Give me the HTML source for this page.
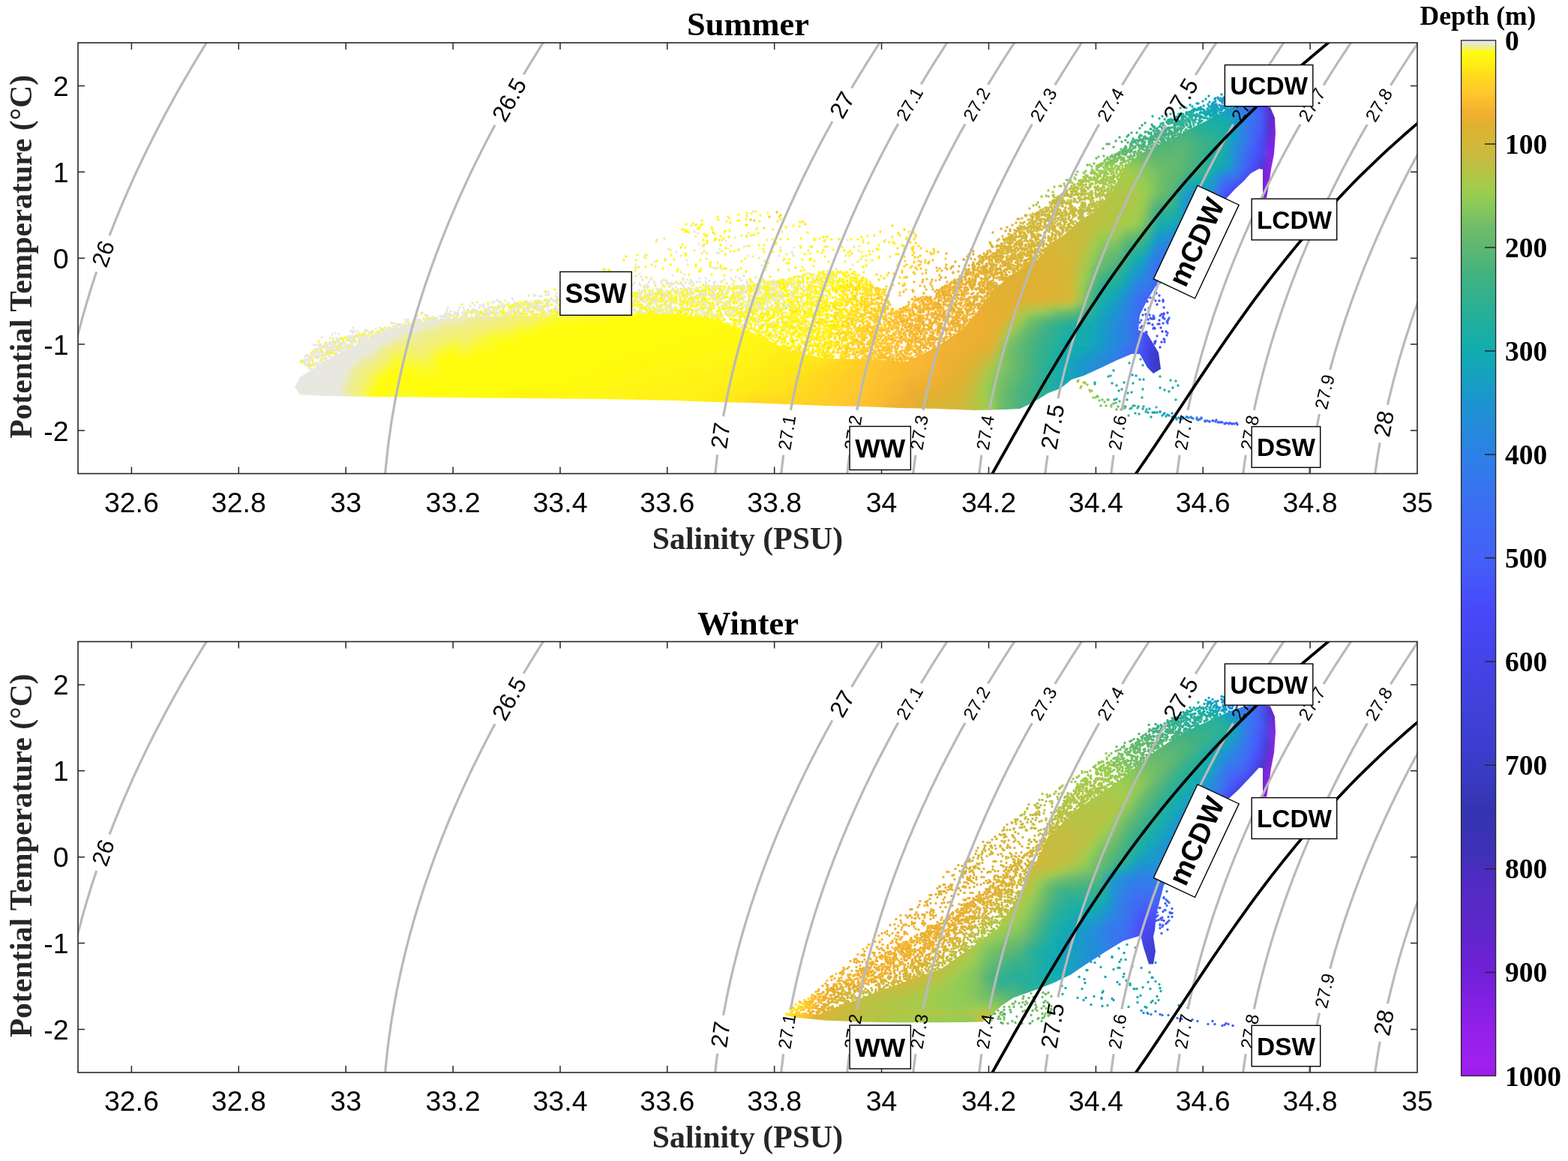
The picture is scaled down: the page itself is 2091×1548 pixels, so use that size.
<!DOCTYPE html><html><head><meta charset="utf-8"><title>T-S diagram</title><style>html,body{margin:0;padding:0;background:#fff;}svg{display:block;}</style></head><body><svg xmlns="http://www.w3.org/2000/svg" width="2091" height="1548" viewBox="0 0 2091 1548"><defs><linearGradient id="cbg" x1="0" y1="0" x2="0" y2="1"><stop offset="0.0000" stop-color="#e8e8e1"/><stop offset="0.0040" stop-color="#e8e8e1"/><stop offset="0.0045" stop-color="#ecec9c"/><stop offset="0.0085" stop-color="#f4f070"/><stop offset="0.0105" stop-color="#fffe10"/><stop offset="0.0230" stop-color="#ffee14"/><stop offset="0.0360" stop-color="#ffd820"/><stop offset="0.0490" stop-color="#ffca2c"/><stop offset="0.0620" stop-color="#f8b830"/><stop offset="0.0700" stop-color="#f0b030"/><stop offset="0.0820" stop-color="#e0b030"/><stop offset="0.1000" stop-color="#d4b838"/><stop offset="0.1150" stop-color="#c4bc40"/><stop offset="0.1280" stop-color="#b4c444"/><stop offset="0.1410" stop-color="#a4cc4c"/><stop offset="0.1540" stop-color="#90cc54"/><stop offset="0.1670" stop-color="#80c460"/><stop offset="0.1800" stop-color="#70bc68"/><stop offset="0.1980" stop-color="#60b870"/><stop offset="0.2250" stop-color="#44b280"/><stop offset="0.2500" stop-color="#30b090"/><stop offset="0.3000" stop-color="#10acb0"/><stop offset="0.3500" stop-color="#1c94d0"/><stop offset="0.4000" stop-color="#2e80e6"/><stop offset="0.4500" stop-color="#3c6ef2"/><stop offset="0.5000" stop-color="#4460f8"/><stop offset="0.5500" stop-color="#4848fa"/><stop offset="0.6000" stop-color="#4444e8"/><stop offset="0.6500" stop-color="#4040d8"/><stop offset="0.7000" stop-color="#3a3cc8"/><stop offset="0.7450" stop-color="#3434b0"/><stop offset="0.7900" stop-color="#4030b8"/><stop offset="0.8000" stop-color="#4c2cc0"/><stop offset="0.8500" stop-color="#5c28c8"/><stop offset="0.9000" stop-color="#7020d8"/><stop offset="0.9500" stop-color="#9020e8"/><stop offset="0.9900" stop-color="#a020f0"/><stop offset="1.0000" stop-color="#9c1cec"/></linearGradient><clipPath id="ax"><rect x="104.0" y="57.0" width="1786.0" height="574.5"/></clipPath></defs><rect width="100%" height="100%" fill="#fff"/><g transform="translate(0,0.0)"><g clip-path="url(#ax)"><g stroke-width="3.4" stroke-linecap="round" fill="none"><path stroke="#e9b030" d="M1254 394h0M1279 384h0M1297 380h0"/><path stroke="#edb030" d="M1257 392h0M1277 379h0M1280 368h0"/><path stroke="#fbbf2e" d="M1259 386h0"/><path stroke="#f4b430" d="M1265 383h0M1267 387h0"/><path stroke="#e5b030" d="M1263 381h0M1298 350h0M1300 346h0M1317 338h0M1309 365h0"/><path stroke="#f1b130" d="M1273 379h0M1287 365h0M1287 387h0"/><path stroke="#f9bb2f" d="M1283 369h0"/><path stroke="#e1b030" d="M1288 359h0M1307 341h0M1332 319h0M1299 374h0"/><path stroke="#ddb232" d="M1299 358h0M1312 338h0M1355 297h0M1335 341h0M1337 334h0"/><path stroke="#dfb131" d="M1305 342h0M1320 334h0M1347 308h0M1357 292h0M1311 361h0M1316 355h0M1323 352h0"/><path stroke="#dbb434" d="M1323 329h0"/><path stroke="#d9b535" d="M1330 327h0M1342 318h0M1344 329h0M1366 310h0"/><path stroke="#d7b636" d="M1337 315h0M1341 308h0M1350 300h0"/><path stroke="#d2b939" d="M1359 292h0M1371 304h0"/><path stroke="#cfb93b" d="M1367 287h0M1353 311h0M1377 295h0"/><path stroke="#cbba3c" d="M1374 287h0M1362 311h0"/><path stroke="#c8bb3e" d="M1373 278h0M1382 290h0"/><path stroke="#c5bc3f" d="M1378 274h0M1389 283h0M1407 271h0M1405 260h0"/><path stroke="#bac142" d="M1382 273h0M1384 270h0"/><path stroke="#afc646" d="M1389 262h0M1398 254h0M1413 248h0M1445 240h0"/><path stroke="#a4cc4c" d="M1395 261h0"/><path stroke="#abc848" d="M1404 256h0M1424 240h0M1427 243h0"/><path stroke="#9fcc4e" d="M1406 249h0M1422 240h0"/><path stroke="#b3c545" d="M1420 248h0"/><path stroke="#96cc52" d="M1433 237h0M1437 229h0M1458 228h0"/><path stroke="#8ac959" d="M1435 233h0M1448 228h0"/><path stroke="#9bcc50" d="M1445 230h0M1439 241h0M1446 231h0M1474 220h0"/><path stroke="#74be66" d="M1450 220h0M1472 208h0"/><path stroke="#8ecb56" d="M1453 220h0"/><path stroke="#7bc262" d="M1459 218h0M1465 209h0"/><path stroke="#70bc68" d="M1462 211h0"/><path stroke="#63b96f" d="M1471 198h0"/><path stroke="#56b676" d="M1476 192h0M1479 192h0"/><path stroke="#5eb871" d="M1485 196h0M1499 198h0"/><path stroke="#4db47b" d="M1488 188h0M1496 189h0M1517 193h0"/><path stroke="#45b27f" d="M1493 183h0M1501 187h0M1509 177h0M1524 186h0M1538 186h0M1542 182h0"/><path stroke="#3eb184" d="M1503 182h0M1505 180h0M1516 177h0"/><path stroke="#38b18a" d="M1520 171h0M1511 185h0M1555 174h0"/><path stroke="#2cb094" d="M1523 167h0M1527 164h0M1537 155h0M1546 158h0M1574 165h0M1576 155h0"/><path stroke="#32b08f" d="M1536 166h0M1558 171h0M1566 167h0"/><path stroke="#27af99" d="M1550 155h0M1556 155h0"/><path stroke="#22ae9e" d="M1561 152h0M1572 152h0M1584 152h0"/><path stroke="#1daea3" d="M1565 150h0M1582 144h0"/><path stroke="#18ada8" d="M1574 144h0M1593 145h0"/><path stroke="#13acad" d="M1587 140h0M1590 142h0M1600 145h0M1611 148h0"/><path stroke="#11aab3" d="M1596 138h0"/><path stroke="#15a2bd" d="M1598 138h0M1624 130h0M1629 126h0"/><path stroke="#13a6b8" d="M1604 135h0M1608 132h0M1612 128h0"/><path stroke="#179fc2" d="M1621 131h0M1613 136h0"/><path stroke="#d5b838" d="M1348 324h0M1398 280h0"/><path stroke="#c2bd41" d="M1416 259h0"/><path stroke="#bebf42" d="M1426 252h0"/><path stroke="#82c55e" d="M1466 222h0M1486 212h0"/><path stroke="#6bbb6b" d="M1477 210h0"/><path stroke="#7fc361" d="M1492 210h0"/></g><g stroke-width="3.4" stroke-linecap="round" fill="none"><path stroke="#fffd10" d="M1058 301h0m-139 9h0m34 2h0m115 6h0m-174 15h0m118 -6h0m61 12h0m17 -4h0m6 2h0m74 -4h0m-322 14h0m201 4h0m4 -5h0m17 0h0m85 8h0m1 0h0m-253 8h0m-104 5h0m49 1h0m36 13h0m120 0h0m-218 8h0m108 3h0m147 -4h0m47 0h0m-242 11h0m142 -1h0m-319 7h0m91 -1h0m90 4h0m-333 29h0"/><path stroke="#ffd820" d="M1190 301h0m8 10h0m23 13h0m-15 8h0m10 -1h0m9 -3h0m-8 12h0m7 3h0m-21 18h0m-18 3h0m-6 7h0m-41 12h0m6 3h0m32 10h0m-8 18h0"/><path stroke="#fffb11" d="M984 294h0m-48 5h0m-3 4h0m26 17h0m134 -2h0m42 1h0m-192 5h0m-48 16h0m99 5h0m52 0h0m104 -3h0m5 -1h0m-221 6h0m13 4h0m1 -1h0m-54 3h0m67 1h0m91 -3h0m-238 11h0m70 -4h0m116 14h0m1 2h0m14 1h0m101 6h0m-388 8h0m256 4h0m88 -4h0m-280 6h0m81 1h0m-222 8h0m155 -2h0m251 0h0m60 2h0m-409 2h0m169 2h0m-194 13h0"/><path stroke="#edec96" d="M1002 285h0m-80 16h0m-36 17h0m51 10h0m2 7h0m206 -1h0m-141 8h0m8 2h0m136 2h0m-127 14h0m-164 13h0m248 0h0m-102 3h0m100 5h0m-240 3h0m121 -1h0m-12 6h0m110 1h0m-347 8h0m367 -4h0m-539 23h0m96 2h0m-136 12h0m-55 10h0m-26 20h0"/><path stroke="#fec72d" d="M1001 293h0m244 45h0m6 -2h0m-26 12h0m3 1h0m11 0h0m-11 9h0m-8 7h0m10 0h0m-42 20h0m-3 9h0m36 4h0m-40 3h0"/><path stroke="#e1b030" d="M1347 318h0m-52 15h0m3 2h0m19 0h0m-5 7h0m49 -1h0m-51 10h0m20 -4h0m4 -1h0m1 0h0m36 0h0m-65 6h0m13 11h0m-64 7h0m58 2h0m-19 8h0m27 -4h0m-10 5h0"/><path stroke="#e8e8e1" d="M1004 282h0m-75 17h0m-3 10h0m5 2h0m64 3h0m-15 3h0m150 3h0m-198 5h0m36 -4h0m-77 11h0m69 0h0m11 -1h0m21 -2h0m4 -1h0m45 2h0m18 0h0m60 1h0m-217 5h0m12 2h0m42 -1h0m3 0h0m97 -1h0m1 2h0m-198 4h0m138 -1h0m42 0h0m-166 8h0m43 -2h0m106 3h0m-174 3h0m69 0h0m31 3h0m3 1h0m65 -3h0m121 -1h0m-331 10h0m1 -4h0m20 4h0m-4 5h0m14 -1h0m16 -2h0m44 2h0m16 -1h0m202 1h0m6 -3h0m-316 9h0m16 0h0m15 2h0m19 -6h0m12 4h0m44 0h0m85 1h0m-215 6h0m12 -2h0m11 1h0m18 0h0m7 -4h0m10 5h0m5 -1h0m2 -2h0m7 1h0m39 1h0m104 -3h0m111 4h0m-341 3h0m13 -2h0m15 1h0m19 4h0m2 -2h0m12 0h0m27 -3h0m27 4h0m92 -3h0m97 2h0m-339 5h0m64 2h0m0 -1h0m6 -1h0m48 2h0m30 0h0m33 2h0m91 -5h0m-291 5h0m101 2h0m40 1h0m16 1h0m52 -1h0m8 -2h0m24 4h0m3 -1h0m-293 3h0m11 1h0m4 3h0m9 1h0m14 -2h0m4 1h0m8 -3h0m69 3h0m3 0h0m11 -4h0m57 1h0m-256 9h0m21 0h0m21 0h0m5 -3h0m17 3h0m9 -2h0m11 0h0m33 -2h0m3 3h0m-116 6h0m18 -1h0m12 2h0m6 0h0m31 -1h0m26 2h0m70 -5h0m-207 9h0m13 0h0m25 -4h0m6 3h0m10 0h0m24 2h0m1 0h0m25 -1h0m-118 7h0m1 -2h0m28 -1h0m-46 6h0m-55 6h0m30 1h0m16 0h0m-74 8h0m4 -2h0m5 1h0m17 -3h0m1 1h0m3 -2h0m4 1h0m13 -1h0m-61 9h0m11 1h0m9 0h0m18 -3h0m13 0h0m20 0h0m2 -1h0m-59 10h0m29 -2h0m-53 5h0m1 0h0m14 0h0m3 1h0m4 2h0m2 -2h0m0 4h0m8 -3h0m1 3h0m-17 5h0m-19 2h0"/><path stroke="#ffd523" d="M1206 306h0m15 7h0m-7 10h0m14 8h0m-11 3h0m25 5h0m4 -4h0m-27 15h0m0 -1h0m15 1h0m-37 4h0m9 1h0m3 14h0m-18 11h0m-50 4h0m40 2h0m0 13h0"/><path stroke="#efee8c" d="M1001 314h0m100 6h0m-226 2h0m78 -1h0m72 30h0m-151 4h0m-27 6h0m61 2h0m49 -6h0m6 2h0m152 0h0m-286 8h0m163 1h0m-172 7h0m4 -6h0m184 1h0m-194 9h0m155 -1h0m8 1h0m-147 6h0m117 2h0m150 1h0m-392 6h0m51 5h0m25 -3h0m226 -2h0m-377 10h0m6 -1h0m132 -1h0m169 2h0m48 -5h0m1 1h0m-498 40h0m29 1h0"/><path stroke="#f7f458" d="M969 295h0m26 -3h0m-80 15h0m116 -1h0m-33 5h0m5 3h0m27 5h0m-55 9h0m164 1h0m-196 9h0m31 -3h0m104 -1h0m50 7h0m-171 9h0m88 -3h0m82 2h0m-57 7h0m-223 1h0m88 1h0m31 0h0m9 2h0m135 4h0m-313 9h0m88 0h0m3 1h0m23 -3h0m-37 10h0m127 -5h0m-78 5h0m33 2h0m138 0h0m-249 8h0m50 13h0m-326 20h0m-144 31h0m-9 16h0"/><path stroke="#cbba3c" d="M1420 261h0m-20 9h0m11 8h0m6 7h0m-54 6h0m14 -6h0m55 2h0m-39 12h0m-11 9h0m41 -1h0m-9 6h0"/><path stroke="#fff313" d="M996 288h0m15 23h0m155 3h0m-212 5h0m165 0h0m-176 2h0m243 2h0m7 2h0m-226 14h0m118 35h0m-31 4h0m33 4h0m23 1h0"/><path stroke="#fff811" d="M1008 282h0m-23 4h0m-18 22h0m6 0h0m-57 1h0m45 6h0m90 4h0m35 1h0m71 -5h0m-58 7h0m-100 6h0m68 0h0m67 7h0m-273 9h0m-29 3h0m323 0h0m8 0h0m-357 13h0m128 1h0m186 2h0m-229 15h0m47 2h0m76 -3h0m12 -1h0m-133 6h0m29 8h0m-102 5h0m66 1h0m-115 6h0m-19 5h0m44 4h0m291 -3h0m-652 49h0"/><path stroke="#fff113" d="M1039 289h0m-26 6h0m24 0h0m30 1h0m-71 4h0m216 9h0m-240 7h0m177 0h0m41 0h0m-32 8h0m-190 7h0m113 -2h0m89 3h0m-129 2h0m57 0h0m38 4h0m51 4h0m-300 5h0m247 12h0m18 4h0m31 4h0m-47 12h0m-396 7h0m261 -1h0m112 2h0m-56 4h0m-35 5h0m34 1h0m53 7h0"/><path stroke="#45b27f" d="M1549 182h0m-5 7h0m5 -1h0m-17 2h0"/><path stroke="#f1ee80" d="M971 289h0m-95 31h0m52 -5h0m95 5h0m59 9h0m18 0h0m-51 10h0m-162 6h0m21 -4h0m150 0h0m-116 4h0m12 13h0m98 2h0m-183 11h0m-29 10h0m-113 8h0m159 3h0m-92 11h0m309 5h0m-479 5h0m43 2h0m-40 2h0m-200 42h0"/><path stroke="#3eb184" d="M1547 176h0m8 2h0"/><path stroke="#ffec15" d="M1041 292h0m-46 8h0m24 4h0m181 10h0m-9 9h0m-206 10h0m76 24h0m90 -1h0m47 -4h0m-160 8h0m137 8h0m-15 11h0m0 -3h0m-61 7h0m26 -1h0m-135 16h0m158 10h0"/><path stroke="#b6c343" d="M1441 241h0m-21 12h0m22 6h0m-38 2h0m15 20h0"/><path stroke="#6dbb69" d="M1497 203h0"/><path stroke="#fffa11" d="M957 289h0m16 2h0m-59 18h0m92 4h0m71 -3h0m-139 10h0m206 -1h0m-205 7h0m80 1h0m49 3h0m-89 5h0m52 1h0m140 -3h0m-11 6h0m12 3h0m-183 6h0m-184 11h0m268 7h0m-46 3h0m97 4h0m17 2h0m-355 7h0m73 1h0m76 9h0m167 14h0m13 5h0m-553 7h0m166 0h0"/><path stroke="#1daea3" d="M1577 154h0m24 8h0m-95 322h0m-25 17h0m66 1h0m-87 8h0m64 9h0m-1 11h0m45 3h0"/><path stroke="#ffce28" d="M1218 310h0m18 25h0m5 2h0m-21 6h0m-11 10h0m7 2h0m9 -1h0m-2 5h0m-31 6h0m26 -2h0m-12 15h0m-2 3h0m-24 8h0m-18 5h0m54 5h0"/><path stroke="#edb030" d="M1312 365h0m-59 8h0m32 6h0m-36 8h0m9 3h0"/><path stroke="#fff412" d="M958 293h0m0 0h0m108 9h0m-116 4h0m59 -1h0m-70 7h0m102 7h0m57 -3h0m-137 11h0m-111 13h0m231 5h0m91 -1h0m-211 12h0m-149 4h0m92 -1h0m64 -1h0m136 4h0m-242 8h0m157 7h0m11 1h0m-6 5h0m96 -2h0m-226 8h0m210 0h0"/><path stroke="#ffdd1d" d="M1205 328h0m13 3h0m1 6h0m-13 5h0m1 6h0m7 9h0m-45 9h0m3 7h0m28 -3h0m-55 12h0m33 4h0m-48 20h0m13 0h0m-16 6h0"/><path stroke="#ddb232" d="M1361 311h0m-18 11h0m3 3h0m-1 10h0m27 0h0m-82 7h0m25 3h0m21 -4h0m-50 5h0m61 0h0m-46 14h0m15 0h0m5 1h0"/><path stroke="#fff213" d="M936 294h0m112 9h0m-13 21h0m116 -1h0m-48 6h0m23 5h0m-264 6h0m218 7h0m-2 49h0m-260 11h0"/><path stroke="#38b18a" d="M1561 164h0m18 1h0m-36 9h0m5 3h0m23 -5h0m0 2h0m4 -3h0m2 0h0m-33 6h0"/><path stroke="#c5bc3f" d="M1430 251h0m-9 9h0m-15 3h0m9 3h0m12 -3h0m1 6h0m15 7h0m-44 15h0m35 -3h0m-52 6h0m37 8h0m8 1h0m-10 7h0"/><path stroke="#fff612" d="M974 297h0m12 -3h0m-58 6h0m21 3h0m-8 12h0m2 -1h0m166 5h0m14 10h0m-288 13h0m41 6h0m-7 5h0m115 7h0m4 -2h0m149 16h0m-115 7h0m107 0h0m-154 18h0"/><path stroke="#27af99" d="M1553 159h0m16 2h0m19 7h0m-77 343h0"/><path stroke="#d7b636" d="M1412 280h0m-2 20h0m-75 5h0m53 9h0m-39 3h0m5 3h0m35 3h0m-67 4h0"/><path stroke="#f1b130" d="M1262 338h0m7 18h0m2 -1h0m0 8h0m59 3h0m-87 7h0m20 3h0m20 0h0m21 8h0m-47 4h0m13 9h0m-33 5h0"/><path stroke="#dfb131" d="M1324 310h0m20 14h0m17 2h0m-63 13h0m19 -2h0m49 0h0m-71 8h0m14 -2h0m10 1h0m-34 2h0m13 6h0m22 6h0m21 5h0m-7 0h0m9 4h0m-83 26h0"/><path stroke="#abc848" d="M1449 241h0m34 -2h0m-12 5h0m-6 8h0m14 5h0"/><path stroke="#11aab3" d="M1605 151h0m12 3h0m-102 347h0m5 5h0m33 14h0"/><path stroke="#e5b030" d="M1338 319h0m-46 20h0m29 2h0m-47 8h0m30 2h0m-36 7h0m10 4h0m36 -2h0m-11 6h0m7 12h0m4 -3h0m12 2h0m-53 9h0m5 -3h0m-31 20h0"/><path stroke="#fcfa28" d="M996 284h0m28 0h0m-58 26h0m23 4h0m-26 6h0m2 -2h0m121 0h0m18 -3h0m-86 17h0m154 -5h0m-92 11h0m20 4h0m5 7h0m39 0h0m-283 7h0m67 -3h0m94 2h0m63 0h0m-17 6h0m-52 4h0m-215 6h0m162 4h0m-61 1h0m0 0h0m43 5h0m34 -6h0m-95 6h0m2 1h0m61 4h0m141 -3h0m32 1h0m-241 8h0m174 0h0m-55 1h0m-304 10h0m214 -3h0m-209 7h0"/><path stroke="#fff712" d="M924 298h0m11 2h0m-23 6h0m20 -1h0m170 11h0m-19 13h0m86 3h0m-38 5h0m28 -2h0m-245 4h0m167 7h0m-86 16h0m77 -2h0m-106 7h0m130 -2h0m-77 9h0m-111 3h0m98 2h0m101 -2h0m-231 8h0m-2 7h0m-10 14h0m57 -1h0m196 2h0m-344 7h0m1 0h0"/><path stroke="#8ac959" d="M1477 218h0"/><path stroke="#d9b535" d="M1372 302h0m-29 1h0m50 12h0m-48 1h0m-24 9h0m9 -4h0m52 6h0m-7 9h0m-28 21h0m4 0h0"/><path stroke="#ffd226" d="M1245 332h0m-18 9h0m7 6h0m-35 31h0m-17 4h0m-34 20h0m21 3h0m-15 3h0m-7 5h0m33 3h0"/><path stroke="#f9bb2f" d="M1036 283h0m208 64h0m5 10h0m-30 19h0m8 5h0m-22 8h0m13 0h0m14 2h0m-1 14h0m-27 10h0"/><path stroke="#fffc10" d="M1014 287h0m-99 12h0m-5 7h0m20 -1h0m66 11h0m-86 10h0m123 0h0m-119 4h0m105 6h0m92 -3h0m38 3h0m-234 5h0m-16 5h0m187 2h0m-158 7h0m19 -1h0m-105 9h0m7 -6h0m83 5h0m35 -4h0m-48 8h0m30 0h0m-144 9h0m115 18h0m141 3h0m-360 6h0m147 -1h0m255 3h0m-487 2h0m-120 39h0"/><path stroke="#179fc2" d="M1636 129h0m-25 10h0m9 0h0m0 5h0m0 -3h0"/><path stroke="#bebf42" d="M1457 258h0m-46 4h0m30 3h0m6 -1h0m17 -3h0m-27 9h0m-51 6h0m73 4h0m-33 6h0m14 5h0"/><path stroke="#f3f076" d="M1043 309h0m108 11h0m30 0h0m-35 8h0m-220 6h0m10 4h0m27 -3h0m201 0h0m-31 6h0m-113 7h0m-168 8h0m287 6h0m-60 9h0m44 1h0m-203 6h0m-57 4h0m199 6h0m-293 5h0m323 4h0m-318 2h0m-12 10h0m132 -3h0m194 0h0m-466 12h0m74 1h0m-135 9h0m-117 23h0"/><path stroke="#e9b030" d="M1327 339h0m-48 16h0m8 -1h0m5 0h0m45 1h0m-74 4h0m8 5h0m-10 6h0m79 0h0m-71 6h0m-25 10h0m-27 1h0"/><path stroke="#ffe718" d="M1071 296h0m3 3h0m100 10h0m-223 1h0m3 8h0m255 -1h0m0 2h0m12 -3h0m-42 6h0m24 5h0m-295 3h0m287 9h0m-82 49h0m17 14h0m12 1h0"/><path stroke="#9bcc50" d="M1483 225h0m-11 10h0m20 -1h0m-64 7h0m37 1h0"/><path stroke="#2cb094" d="M1571 162h0m-23 3h0"/><path stroke="#13a6b8" d="M1619 147h0m2 1h0m-100 331h0m4 27h0"/><path stroke="#ffcb2b" d="M1041 287h0m-35 7h0m255 51h0m-34 8h0m-24 10h0m3 7h0m3 0h0m-3 10h0m2 6h0m-8 4h0m0 4h0m-58 13h0m7 1h0m22 7h0"/><path stroke="#f7b730" d="M1238 351h0m23 6h0m-11 4h0m6 0h0m-3 6h0m-22 6h0m-1 3h0m11 3h0m-24 20h0"/><path stroke="#cfb93b" d="M1409 266h0m0 10h0m-14 6h0m-12 8h0m1 -4h0m15 2h0m-24 13h0m0 3h0m33 9h0m-54 12h0m33 -3h0"/><path stroke="#f4b430" d="M1262 353h0m-9 5h0m-20 24h0m2 4h0m8 -4h0m16 2h0m1 -3h0m-8 7h0m12 10h0m-52 5h0m17 -1h0m-22 8h0"/><path stroke="#56b676" d="M1526 192h0m-22 8h0m16 -1h0"/><path stroke="#8ecb56" d="M1481 216h0m-25 6h0m7 4h0"/><path stroke="#fbbf2e" d="M1221 357h0m15 15h0m12 2h0m-6 2h0m-10 15h0m-12 5h0m21 7h0m-42 15h0"/><path stroke="#ffe21a" d="M1219 319h0m-22 12h0m21 -2h0m-20 10h0m-29 52h0m-27 9h0m11 5h0m1 9h0"/><path stroke="#dbb434" d="M1366 296h0m-19 10h0m-6 13h0m-17 10h0m50 14h0m-44 4h0m39 0h0m-59 17h0"/><path stroke="#d5b838" d="M1368 288h0m-7 9h0m18 3h0m6 7h0m39 -1h0m-47 20h0"/><path stroke="#a4cc4c" d="M1492 224h0m-9 5h0m-49 10h0m39 11h0"/><path stroke="#c2bd41" d="M1451 258h0m-36 3h0m2 14h0m22 6h0m2 -2h0m-21 16h0m4 8h0"/><path stroke="#63b96f" d="M1500 205h0"/><path stroke="#fcc32e" d="M1026 289h0m209 71h0m0 4h0m-58 45h0m7 3h0m16 7h0"/><path stroke="#d2b939" d="M1369 287h0m11 9h0m38 12h0m-73 4h0m9 0h0m59 2h0m-6 3h0m-87 6h0m52 2h0m10 2h0m-33 20h0"/><path stroke="#32b08f" d="M1537 168h0m19 3h0m12 337h0"/><path stroke="#1b97cc" d="M1637 128h0m-3 7h0m-8 5h0m10 2h0"/><path stroke="#b3c545" d="M1448 239h0m24 0h0m-29 16h0m-25 3h0m10 1h0m50 -3h0m-9 14h0"/><path stroke="#7bc262" d="M1517 205h0m-21 6h0m3 0h0"/><path stroke="#96cc52" d="M1499 216h0m-25 15h0"/><path stroke="#4db47b" d="M1504 190h0m20 2h0m10 0h0m4 4h0m4 347h0"/><path stroke="#92cc53" d="M1461 232h0"/><path stroke="#70bc68" d="M1493 208h0"/><path stroke="#c8bb3e" d="M1409 277h0m0 2h0m12 6h0m-44 4h0m40 -1h0m1 6h0m7 -2h0"/><path stroke="#afc646" d="M1473 233h0m18 6h0m-38 8h0m21 7h0"/><path stroke="#a8ca4a" d="M1415 248h0m4 -3h0m7 -2h0m4 1h0m40 11h0m13 -2h0"/><path stroke="#15a2bd" d="M1620 132h0m-3 7h0m5 15h0m-133 378h0"/><path stroke="#9fcc4e" d="M1481 226h0"/><path stroke="#bac142" d="M1443 250h0m-45 12h0m68 8h0"/><path stroke="#13acad" d="M1607 157h0m-43 360h0m7 -3h0m-79 7h0m17 2h0m-23 10h0"/><path stroke="#60b870" d="M1524 199h0"/><path stroke="#65b96d" d="M1493 203h0"/><path stroke="#74be66" d="M1490 205h0"/><path stroke="#86c75b" d="M1464 223h0"/><path stroke="#4545eb" d="M1538 397h0m-8 5h0m25 40h0m-15 16h0"/><path stroke="#4747f4" d="M1523 435h0m5 8h0m12 13h0m9 0h0"/><path stroke="#4848f9" d="M1546 427h0m-17 16h0m23 9h0m-5 11h0"/><path stroke="#4656f9" d="M1538 398h0m3 3h0m10 1h0m-8 4h0m9 4h0m-13 13h0m13 -4h0m-21 7h0m4 -1h0m-4 6h0"/><path stroke="#4646f1" d="M1551 400h0m-14 25h0m0 8h0m4 22h0"/><path stroke="#4361f8" d="M1547 421h0m11 5h0m-12 6h0m5 -1h0m-8 17h0m13 -1h0"/><path stroke="#3e6af4" d="M1532 411h0m27 13h0m-2 20h0m-4 9h0"/><path stroke="#4747f6" d="M1533 420h0m18 2h0m1 -4h0m-13 19h0"/><path stroke="#4263f7" d="M1528 419h0m23 5h0m-18 7h0m7 25h0"/><path stroke="#4653f9" d="M1524 420h0m-4 10h0"/><path stroke="#474ff9" d="M1527 413h0m30 4h0m-8 2h0m-11 19h0"/><path stroke="#3b6ff2" d="M1522 427h0"/><path stroke="#445ef8" d="M1542 391h0m-4 30h0m-17 16h0"/><path stroke="#484bfa" d="M1546 401h0m-7 24h0m18 3h0m-9 9h0"/><path stroke="#3577ec" d="M1557 431h0"/><path stroke="#455af8" d="M1534 397h0m12 -3h0m7 31h0m0 31h0"/><path stroke="#4166f6" d="M1540 390h0m-6 34h0m10 8h0"/><path stroke="#4545ee" d="M1529 422h0m11 16h0m10 4h0"/><path stroke="#4068f5" d="M1556 429h0"/><path stroke="#199bc7" d="M1485 494h0m25 6h0m37 17h0"/><path stroke="#22ae9e" d="M1478 502h0m-18 10h0m36 7h0"/><path stroke="#18ada8" d="M1524 487h0m37 20h0m-78 4h0m16 -1h0m-10 4h0m15 10h0m55 -2h0m-56 11h0"/></g><g stroke-width="3.4" stroke-linecap="round" fill="none"><path stroke="#fbbf2e" d="M1274 393h0m-92 6h0m46 -2h0m13 2h0m-17 1h0m12 -1h0m28 1h0m-48 11h0m1 -4h0m7 3h0m10 -4h0m12 3h0m1 1h0m18 -1h0m11 1h0m12 0h0m-110 5h0m11 1h0m11 -4h0m1 4h0m10 -2h0m7 3h0m6 -1h0m0 -4h0m5 4h0m25 -3h0m20 3h0m-108 4h0m21 -2h0m2 2h0m3 -2h0m1 4h0m8 -4h0m2 4h0m10 -1h0m2 -1h0m4 -1h0m5 1h0m18 -1h0m22 2h0m15 -1h0m18 -1h0m-132 8h0m16 -1h0m1 1h0m12 -1h0m9 0h0m0 0h0m0 -2h0m7 1h0m1 1h0m2 -2h0m8 1h0m4 1h0m2 1h0m20 -2h0m-77 8h0m14 -2h0m8 1h0m1 0h0m3 -1h0m8 0h0m2 2h0m18 0h0m7 -3h0m4 3h0m17 0h0m27 2h0m-107 5h0m3 -3h0m10 0h0m4 -1h0m0 3h0m16 1h0m9 -3h0m12 1h0m6 1h0m-77 7h0m10 -5h0m9 1h0m11 5h0m7 -3h0m0 0h0m3 -2h0m12 1h0m5 0h0m2 -2h0m2 4h0m1 -3h0m1 3h0m10 -2h0m2 -1h0m5 0h0m9 0h0m22 1h0m-85 6h0m1 3h0m7 0h0m6 -2h0m10 2h0m3 -3h0m4 3h0m1 -4h0m0 0h0m11 2h0m3 -1h0m3 3h0m8 -1h0m3 -2h0m26 0h0m-95 8h0m6 -3h0m3 3h0m9 -3h0m3 0h0m4 3h0m3 -3h0m5 -1h0m5 3h0m7 -1h0m3 0h0m14 1h0m5 2h0m-79 6h0m17 -1h0m10 1h0m9 -4h0m7 3h0m5 0h0m6 0h0m11 0h0m10 1h0m1 -5h0m10 2h0m-59 5h0m13 3h0m12 -2h0m-40 8h0m3 1h0m0 -3h0m3 0h0m9 2h0m2 1h0m6 -5h0m3 3h0m10 2h0m1 -4h0m0 4h0m2 -4h0m2 1h0m-46 4h0m12 1h0m7 2h0m9 -2h0m6 1h0m2 2h0m8 -3h0"/><path stroke="#fff113" d="M1109 364h0m17 1h0m2 3h0m4 -1h0m4 -2h0m-25 4h0m0 4h0m23 -3h0m0 0h0m16 3h0m5 -1h0m1 2h0m-124 4h0m12 1h0m35 1h0m5 -4h0m34 2h0m8 2h0m4 -1h0m16 -2h0m9 2h0m0 -2h0m-153 9h0m14 -4h0m32 4h0m63 1h0m2 -2h0m12 -2h0m4 1h0m2 3h0m6 -5h0m7 0h0m2 -1h0m-233 12h0m113 -6h0m8 6h0m14 -5h0m3 4h0m9 -3h0m4 -2h0m8 1h0m5 0h0m0 -1h0m3 6h0m9 -2h0m1 0h0m8 -3h0m27 2h0m3 -2h0m14 2h0m10 1h0m-241 3h0m13 3h0m28 -3h0m10 -1h0m2 4h0m6 -1h0m29 1h0m36 1h0m7 -3h0m1 2h0m16 -2h0m0 0h0m4 3h0m18 0h0m13 -3h0m9 0h0m16 -2h0m11 3h0m19 1h0m7 -2h0m-233 8h0m95 2h0m16 -1h0m19 0h0m0 -2h0m3 1h0m26 1h0m0 -1h0m3 0h0m14 -1h0m19 1h0m25 -1h0m-368 6h0m119 3h0m27 -4h0m25 -2h0m3 3h0m3 3h0m13 -1h0m22 -3h0m47 3h0m3 -2h0m1 -1h0m5 -2h0m13 5h0m1 -4h0m14 0h0m19 4h0m0 -1h0m12 0h0m11 -2h0m0 1h0m9 -1h0m13 4h0m1 -1h0m-364 5h0m20 1h0m2 -2h0m19 0h0m12 -2h0m7 3h0m34 -1h0m38 2h0m88 1h0m10 -2h0m5 -1h0m0 -3h0m6 1h0m0 -1h0m12 6h0m30 -4h0m4 4h0m3 0h0m3 -6h0m8 6h0m28 -3h0m19 -2h0m3 2h0m0 0h0m12 2h0m9 -4h0m-470 7h0m23 1h0m68 -1h0m19 0h0m46 0h0m26 -2h0m49 1h0m35 5h0m11 0h0m22 -4h0m16 0h0m26 -1h0m3 5h0m4 -4h0m9 3h0m13 -4h0m0 5h0m2 -1h0m28 -3h0m7 3h0m13 -3h0m3 1h0m5 2h0m6 -2h0m3 2h0m3 -4h0m8 1h0m2 -1h0m2 3h0m13 -1h0m-154 9h0m8 -6h0m2 5h0m6 -3h0m2 1h0m18 2h0m4 0h0m2 -3h0m10 2h0m4 -4h0m16 5h0m9 0h0m3 -4h0m37 5h0m3 -1h0m4 0h0m0 -4h0m11 5h0m2 0h0m-147 6h0m45 -2h0m9 2h0m0 -2h0m4 -4h0m10 2h0m9 -2h0m8 5h0m4 -2h0m2 -1h0m16 3h0m1 1h0m27 -1h0m1 0h0m-114 3h0m12 0h0m3 -1h0m7 0h0m8 3h0m1 2h0m2 0h0m2 -3h0m5 -2h0m5 3h0m1 0h0m1 -3h0m8 1h0m4 -1h0m10 3h0m10 1h0m4 0h0m6 -2h0m14 -3h0m5 2h0m2 -1h0m2 3h0m2 0h0m1 0h0m-57 7h0m1 -2h0m6 2h0m2 0h0m0 0h0m4 -4h0m6 3h0m1 1h0m13 0h0m11 -4h0m2 4h0m-74 2h0m8 2h0m4 2h0m1 0h0m18 -3h0m7 2h0m7 -1h0m2 -1h0m11 1h0m2 -2h0m2 2h0m12 2h0m15 -1h0m9 2h0m-74 1h0m3 4h0m6 -5h0m10 3h0m6 -1h0m7 3h0m3 -4h0m26 2h0m2 2h0m-68 1h0m4 5h0m23 -3h0m2 2h0m1 -2h0m17 0h0m2 -1h0m-34 9h0m1 0h0m1 -1h0m6 -2h0m1 3h0m6 1h0m3 -1h0m1 -2h0m2 1h0m8 1h0m3 2h0m13 -1h0m-17 6h0m4 -3h0m28 2h0"/><path stroke="#ffdd1d" d="M1145 380h0m10 -4h0m0 1h0m1 3h0m4 1h0m1 -2h0m-21 7h0m3 -1h0m2 -3h0m1 0h0m15 3h0m1 2h0m1 -6h0m0 2h0m3 1h0m3 1h0m5 1h0m-41 1h0m2 4h0m21 -4h0m15 4h0m9 -1h0m-45 9h0m4 -5h0m10 2h0m9 2h0m3 -4h0m5 0h0m0 0h0m-24 6h0m12 0h0m-13 11h0m8 -5h0m1 0h0m8 1h0m13 3h0m-56 2h0m5 2h0m5 -2h0m5 2h0m3 3h0m3 -2h0m8 -3h0m-58 9h0m38 2h0m9 -2h0m1 -1h0m3 -1h0m0 4h0m6 -6h0m8 4h0m17 -3h0m-104 11h0m63 0h0m2 -2h0m2 -3h0m3 1h0m2 -1h0m2 4h0m0 0h0m4 -1h0m8 -1h0m-32 4h0m8 4h0m2 -5h0m1 2h0m6 1h0m4 1h0m21 -1h0m9 -3h0m0 5h0m-36 3h0m0 1h0m11 1h0m0 0h0m0 -2h0m2 0h0m7 4h0m13 -5h0m-52 9h0m3 -1h0m2 -1h0m12 0h0m1 -1h0m3 1h0m1 2h0m-53 3h0m3 4h0m0 -2h0m2 1h0m31 -4h0m9 1h0m3 -1h0m4 5h0m17 -1h0m-105 4h0m25 1h0m33 2h0m12 0h0m1 0h0m5 -1h0m11 0h0m3 -1h0m5 -1h0m-78 10h0m3 -3h0m48 -2h0m11 0h0m1 3h0m3 -1h0m1 -2h0m0 0h0m0 4h0m14 -1h0m-79 3h0m29 4h0m3 -3h0m4 3h0m10 0h0m5 -4h0m5 -1h0m7 3h0m39 0h0m-96 3h0m11 1h0m8 1h0m11 2h0m1 2h0m19 -4h0m3 -1h0m1 0h0m16 5h0m-42 1h0m23 0h0"/><path stroke="#f4b430" d="M1305 362h0m-4 5h0m1 -2h0m34 4h0m-64 5h0m2 -1h0m8 -2h0m0 4h0m12 0h0m48 -5h0m-74 8h0m13 -1h0m12 0h0m26 -1h0m-62 9h0m14 -2h0m1 1h0m8 -3h0m7 2h0m8 1h0m1 0h0m9 0h0m-58 5h0m2 4h0m4 0h0m0 -4h0m6 3h0m1 -4h0m26 -1h0m10 5h0m-61 4h0m1 3h0m2 -2h0m3 0h0m11 1h0m0 1h0m12 -5h0m17 4h0m1 -5h0m-51 11h0m9 -4h0m2 1h0m10 4h0m16 -3h0m10 3h0m4 -1h0m10 -5h0m-84 10h0m12 -2h0m7 3h0m5 -1h0m7 1h0m4 0h0m7 -1h0m1 -1h0m3 2h0m1 0h0m11 -4h0m20 1h0m9 0h0m10 3h0m-93 4h0m2 0h0m4 2h0m9 -3h0m6 -1h0m3 0h0m2 2h0m14 0h0m6 1h0m13 -4h0m1 2h0m1 0h0m6 4h0m1 -1h0m0 -3h0m9 3h0m6 -2h0m-81 8h0m21 -2h0m2 1h0m5 -1h0m2 2h0m8 -3h0m3 4h0m1 -2h0m2 -3h0m6 0h0m6 0h0m4 4h0m1 -5h0m8 1h0m6 5h0m8 0h0m-105 6h0m8 -4h0m10 2h0m4 -2h0m1 2h0m6 -3h0m2 2h0m1 1h0m2 -3h0m0 1h0m4 2h0m2 -3h0m4 0h0m0 0h0m4 5h0m1 -2h0m7 -3h0m5 3h0m5 -3h0m3 1h0m1 -1h0m8 3h0m3 0h0m1 -1h0m3 -2h0m17 2h0m-87 9h0m3 -4h0m20 1h0m9 0h0m2 -1h0m1 1h0m1 1h0m4 -3h0m7 5h0m2 -3h0m12 -3h0m2 3h0m1 -3h0m0 4h0m7 -2h0m7 1h0m-91 4h0m2 2h0m1 -2h0m11 1h0m8 -2h0m0 3h0m3 2h0m8 -4h0m0 -1h0m7 4h0m6 -1h0m2 0h0m6 2h0m3 -3h0m9 0h0m9 1h0m5 -2h0m6 0h0m-80 8h0m24 -2h0m0 -1h0m7 0h0m3 4h0m1 -1h0m33 2h0m7 -4h0m-74 8h0m0 -2h0m12 -1h0m3 3h0m1 -1h0m4 0h0m1 2h0m0 2h0m2 -2h0m4 2h0m18 -3h0m6 1h0m9 -2h0m0 0h0m2 1h0m5 0h0m-65 3h0m5 2h0m7 -2h0m7 3h0m15 -3h0m4 4h0m5 0h0m0 -1h0m7 2h0m4 -3h0m-75 9h0m60 -5h0m2 6h0m1 -6h0m2 5h0m4 -4h0m-74 7h0m43 0h0m2 3h0m4 0h0m2 -2h0m2 2h0m-29 7h0m3 -4h0m19 0h0m4 0h0m-24 6h0"/><path stroke="#fcfa28" d="M1092 363h0m36 0h0m-44 3h0m27 3h0m5 -5h0m-69 11h0m12 -1h0m36 -1h0m6 -2h0m17 3h0m-99 3h0m4 0h0m14 2h0m7 0h0m0 -2h0m1 -2h0m4 4h0m2 -3h0m11 1h0m5 -1h0m11 2h0m2 3h0m35 -5h0m5 5h0m6 -2h0m-181 5h0m7 -2h0m14 4h0m6 -3h0m18 3h0m27 -3h0m2 3h0m28 1h0m36 -2h0m0 0h0m4 1h0m14 0h0m5 0h0m0 1h0m12 -5h0m2 3h0m-254 3h0m9 5h0m8 -3h0m86 2h0m0 -3h0m11 2h0m27 1h0m14 -2h0m2 2h0m14 -3h0m36 4h0m19 -4h0m1 0h0m-317 8h0m29 0h0m4 -2h0m27 -1h0m13 1h0m21 3h0m5 -2h0m1 -2h0m20 2h0m14 -2h0m3 5h0m2 -3h0m101 0h0m28 3h0m16 -3h0m23 0h0m-384 7h0m20 -2h0m3 2h0m10 -3h0m25 1h0m2 1h0m5 2h0m44 0h0m29 0h0m30 0h0m55 -1h0m14 2h0m3 -5h0m40 1h0m28 2h0m47 -4h0m0 2h0m26 3h0m1 0h0m21 -1h0m-418 4h0m22 2h0m12 -3h0m42 4h0m44 -3h0m2 0h0m0 2h0m47 0h0m1 -2h0m2 -1h0m1 4h0m79 1h0m4 -2h0m7 0h0m5 -1h0m27 2h0m22 -1h0m3 -3h0m1 -1h0m4 1h0m27 5h0m16 -5h0m7 4h0m-429 7h0m32 0h0m38 -2h0m2 -4h0m14 1h0m6 3h0m3 1h0m15 -4h0m67 4h0m19 -4h0m42 -1h0m11 4h0m6 -2h0m22 2h0m42 2h0m7 -2h0m21 2h0m56 -5h0m8 4h0m0 -2h0m51 0h0m-476 8h0m82 -5h0m34 3h0m81 -2h0m21 1h0m31 -2h0m58 1h0m46 -1h0m11 2h0m14 3h0m2 -1h0m22 -2h0m5 3h0m30 0h0m4 -5h0m5 4h0m21 1h0m8 -4h0m-141 7h0m26 1h0m35 0h0m2 3h0m3 -2h0m8 1h0m20 -5h0m-64 7h0m66 4h0m-526 5h0m477 2h0m31 -5h0m14 1h0m31 3h0m-594 5h0m533 -1h0m20 -2h0m40 6h0m-620 13h0m10 1h0m586 2h0m-607 3h0m-7 10h0m6 -2h0m6 -4h0m-11 10h0m-16 5h0m1 1h0"/><path stroke="#fff412" d="M1080 365h0m2 2h0m10 -1h0m21 0h0m28 1h0m-96 6h0m12 -2h0m41 -1h0m6 3h0m2 0h0m5 1h0m9 -3h0m14 1h0m15 -1h0m-120 5h0m36 4h0m26 -3h0m8 -1h0m-179 9h0m41 -1h0m29 -1h0m32 2h0m11 1h0m8 -3h0m18 0h0m19 3h0m25 -5h0m12 1h0m14 3h0m4 -3h0m-231 7h0m55 3h0m49 -1h0m21 1h0m79 -1h0m16 2h0m1 -6h0m-334 9h0m31 -2h0m14 3h0m22 1h0m3 0h0m63 0h0m45 -1h0m37 -1h0m2 0h0m26 -2h0m9 0h0m36 0h0m8 2h0m38 3h0m3 -5h0m-371 7h0m120 -2h0m5 3h0m125 -3h0m78 4h0m11 -4h0m-322 8h0m74 0h0m61 -1h0m119 4h0m33 -3h0m7 2h0m16 1h0m14 -3h0m-405 8h0m49 0h0m46 -3h0m68 2h0m4 -2h0m10 4h0m14 -2h0m99 -2h0m20 4h0m25 -2h0m34 -3h0m14 6h0m23 -1h0m0 -4h0m-421 9h0m219 -3h0m54 2h0m65 3h0m2 -6h0m9 3h0m0 -1h0m4 2h0m36 -2h0m4 4h0m17 -3h0m8 -1h0m1 1h0m7 2h0m13 -1h0m8 -1h0m-137 6h0m2 2h0m50 -3h0m6 4h0m11 -6h0m2 6h0m1 -5h0m2 3h0m67 -4h0m-148 9h0m13 1h0m19 -4h0m4 6h0m10 -2h0m1 1h0m21 -4h0m2 1h0m20 1h0m7 2h0m32 -1h0m-115 5h0m23 0h0m6 3h0m4 -5h0m5 5h0m2 -3h0m12 2h0m24 0h0m6 -4h0m16 3h0m1 -2h0m0 3h0m13 -5h0m-97 8h0m17 2h0m2 0h0m17 1h0m0 -5h0m6 1h0m3 3h0m13 0h0m19 -1h0m43 0h0m-107 4h0m4 0h0m16 3h0m7 -3h0m42 1h0m-612 7h0m581 -2h0m-7 10h0m10 -2h0m4 -2h0m12 7h0m11 2h0m3 -2h0m5 8h0"/><path stroke="#fcc32e" d="M1234 397h0m-57 3h0m41 4h0m18 -4h0m5 3h0m5 -4h0m-73 6h0m11 4h0m1 -4h0m2 1h0m23 2h0m2 -2h0m5 1h0m1 2h0m14 -1h0m2 -2h0m9 2h0m6 -3h0m-58 7h0m6 3h0m4 -2h0m0 4h0m4 -5h0m2 2h0m6 3h0m25 -4h0m-62 6h0m5 2h0m1 -1h0m4 -1h0m7 -1h0m7 1h0m3 4h0m5 -2h0m9 0h0m5 -1h0m3 3h0m0 -2h0m-53 6h0m3 -4h0m4 1h0m2 0h0m10 3h0m9 -1h0m0 0h0m3 1h0m1 -2h0m1 0h0m2 2h0m9 0h0m4 -2h0m73 1h0m-108 6h0m18 -2h0m7 0h0m5 1h0m2 3h0m0 -3h0m3 3h0m-42 5h0m6 1h0m6 -1h0m1 -4h0m11 5h0m19 -4h0m60 3h0m-118 4h0m19 -1h0m4 0h0m15 0h0m1 2h0m6 2h0m13 1h0m1 -1h0m2 0h0m4 0h0m-59 4h0m3 -2h0m3 2h0m13 -2h0m2 0h0m0 3h0m1 -4h0m2 0h0m15 6h0m19 0h0m22 -2h0m8 0h0m-86 2h0m5 5h0m1 -3h0m7 3h0m15 -2h0m10 -2h0m2 4h0m6 -3h0m-64 9h0m9 -1h0m8 -1h0m7 1h0m2 1h0m10 -3h0m5 3h0m15 1h0m3 -4h0m0 1h0m3 -3h0m15 1h0m14 2h0m-80 4h0m2 2h0m5 -2h0m2 4h0m0 -3h0m4 -1h0m3 2h0m2 -3h0m1 0h0m1 1h0m3 4h0m23 -4h0m10 3h0m-71 3h0m7 4h0m4 1h0m8 -5h0m2 2h0m25 0h0m1 1h0m2 -3h0m2 1h0m-33 6h0m4 0h0m4 -1h0m2 -1h0m9 0h0m5 2h0m5 0h0m8 -2h0m9 2h0"/><path stroke="#e8e8e1" d="M1105 363h0m-19 4h0m13 -2h0m7 0h0m-63 8h0m4 2h0m4 -2h0m8 -2h0m7 4h0m3 -5h0m2 4h0m17 -3h0m20 2h0m5 1h0m-112 7h0m28 -1h0m2 -3h0m1 3h0m5 -3h0m11 -2h0m13 6h0m6 -2h0m10 -1h0m15 0h0m18 2h0m-228 6h0m31 -2h0m3 2h0m2 -2h0m4 2h0m0 1h0m4 -1h0m11 0h0m3 1h0m10 0h0m0 -4h0m5 1h0m1 1h0m4 1h0m6 -4h0m12 1h0m5 1h0m13 -2h0m1 0h0m0 4h0m4 -3h0m4 2h0m1 0h0m6 0h0m3 -4h0m1 3h0m4 3h0m1 -6h0m0 0h0m7 4h0m22 -3h0m0 -1h0m17 1h0m10 3h0m5 2h0m27 -5h0m-314 11h0m3 0h0m8 0h0m5 -1h0m3 -1h0m18 -1h0m3 1h0m1 1h0m5 0h0m1 -2h0m5 2h0m2 0h0m4 1h0m1 -3h0m2 0h0m10 3h0m4 -6h0m5 4h0m2 -1h0m4 2h0m7 -1h0m1 -4h0m0 2h0m2 4h0m1 -2h0m5 -4h0m3 4h0m4 -2h0m12 -1h0m1 2h0m4 -1h0m7 0h0m3 -2h0m3 2h0m15 2h0m16 0h0m22 0h0m0 -1h0m1 2h0m13 -3h0m7 -1h0m2 0h0m5 1h0m8 -1h0m7 0h0m10 1h0m2 3h0m11 0h0m17 0h0m25 -4h0m-353 11h0m13 0h0m0 -1h0m2 0h0m7 0h0m2 -1h0m6 0h0m3 0h0m1 1h0m1 0h0m0 -2h0m6 0h0m2 -2h0m4 1h0m1 0h0m1 -1h0m1 4h0m3 -3h0m0 1h0m1 -3h0m6 4h0m1 -4h0m4 1h0m6 3h0m1 -4h0m1 4h0m2 1h0m1 -2h0m2 1h0m0 -2h0m13 3h0m1 -4h0m2 4h0m12 -1h0m9 1h0m3 -3h0m3 2h0m1 -4h0m1 4h0m1 -4h0m3 0h0m1 2h0m12 0h0m2 -1h0m8 -1h0m9 3h0m14 -1h0m4 3h0m2 -3h0m13 -1h0m1 4h0m2 0h0m5 -4h0m14 1h0m32 3h0m4 -3h0m2 1h0m5 1h0m3 -3h0m4 5h0m24 -5h0m14 -1h0m6 2h0m24 -1h0m8 1h0m-381 8h0m2 0h0m3 2h0m2 -3h0m11 0h0m4 2h0m3 -4h0m1 1h0m0 -1h0m3 0h0m0 2h0m1 -2h0m1 4h0m1 -3h0m5 0h0m4 -1h0m1 4h0m0 0h0m1 -2h0m1 -1h0m3 -1h0m0 3h0m1 -2h0m5 2h0m3 -4h0m3 4h0m7 2h0m1 -3h0m2 -1h0m1 -2h0m6 1h0m0 2h0m2 -1h0m4 4h0m3 0h0m4 -3h0m2 -2h0m5 3h0m12 0h0m0 -3h0m4 4h0m8 -2h0m2 2h0m12 -3h0m5 0h0m11 1h0m3 -2h0m0 -1h0m3 1h0m2 2h0m2 1h0m4 1h0m2 -5h0m5 4h0m11 -3h0m3 2h0m13 0h0m11 1h0m3 -1h0m22 -1h0m3 3h0m34 -2h0m2 0h0m9 0h0m0 0h0m19 3h0m7 -4h0m1 1h0m21 -2h0m13 4h0m1 -5h0m25 5h0m1 -4h0m3 4h0m-428 7h0m7 -1h0m11 -2h0m1 0h0m1 2h0m4 -3h0m1 1h0m1 0h0m1 1h0m7 2h0m2 -3h0m2 1h0m1 2h0m7 -3h0m1 -1h0m0 4h0m5 -1h0m0 -3h0m1 4h0m3 -1h0m1 -4h0m2 4h0m4 -2h0m3 0h0m3 1h0m1 -1h0m4 3h0m2 -1h0m1 -2h0m2 1h0m2 -1h0m3 1h0m2 -1h0m4 -2h0m10 4h0m1 1h0m2 -2h0m0 -4h0m1 3h0m2 2h0m2 0h0m0 -3h0m1 2h0m3 2h0m6 -2h0m2 -1h0m3 1h0m8 -3h0m2 1h0m1 4h0m3 -4h0m7 2h0m21 -3h0m1 -1h0m0 2h0m1 -1h0m1 4h0m4 -2h0m2 -2h0m1 4h0m6 0h0m13 -4h0m3 -1h0m4 2h0m6 2h0m2 -1h0m4 3h0m23 -4h0m10 1h0m14 -3h0m6 0h0m18 1h0m1 -1h0m0 1h0m5 2h0m1 -3h0m10 1h0m5 0h0m4 1h0m8 2h0m31 -3h0m21 -1h0m45 6h0m-438 4h0m1 1h0m0 1h0m1 -2h0m4 0h0m0 1h0m3 -2h0m2 -1h0m2 1h0m4 1h0m3 1h0m4 -1h0m3 -1h0m1 -3h0m2 3h0m1 1h0m0 1h0m4 -3h0m3 2h0m1 0h0m6 -1h0m8 3h0m2 -1h0m4 -1h0m0 2h0m3 -5h0m2 3h0m4 -4h0m2 5h0m11 -3h0m1 2h0m0 -2h0m4 2h0m1 -4h0m1 4h0m9 0h0m1 -3h0m1 2h0m1 1h0m1 -1h0m8 2h0m0 0h0m3 -3h0m9 4h0m1 -1h0m1 -4h0m5 1h0m5 4h0m1 -1h0m5 -5h0m8 4h0m8 -4h0m6 1h0m6 5h0m8 -2h0m4 -4h0m7 4h0m5 1h0m11 0h0m6 1h0m1 -3h0m3 0h0m4 2h0m5 -3h0m9 2h0m11 0h0m10 -1h0m3 0h0m12 1h0m22 -4h0m0 1h0m3 4h0m1 -3h0m12 0h0m12 3h0m6 1h0m3 -4h0m13 4h0m11 -2h0m10 0h0m0 -4h0m2 5h0m5 -1h0m0 1h0m15 -2h0m1 1h0m16 -3h0m2 3h0m34 -2h0m16 3h0m-494 7h0m8 -2h0m3 1h0m1 0h0m1 0h0m1 0h0m0 1h0m4 -4h0m1 0h0m1 1h0m2 0h0m3 2h0m2 -2h0m0 -2h0m1 0h0m0 1h0m2 -1h0m1 1h0m6 -2h0m1 6h0m1 -2h0m0 -3h0m1 0h0m2 2h0m8 1h0m5 -4h0m2 5h0m2 0h0m2 0h0m6 -4h0m5 3h0m3 -1h0m5 -2h0m4 0h0m7 1h0m1 2h0m0 -1h0m1 -3h0m6 2h0m2 1h0m9 -2h0m7 -1h0m15 3h0m0 -1h0m10 0h0m5 1h0m2 -3h0m16 1h0m0 1h0m8 -1h0m21 0h0m8 1h0m3 0h0m0 -1h0m5 2h0m18 -3h0m36 1h0m11 0h0m5 0h0m17 0h0m12 -1h0m5 0h0m12 0h0m43 3h0m1 2h0m7 -3h0m11 0h0m0 0h0m3 2h0m5 -1h0m10 1h0m61 -4h0m-490 10h0m1 1h0m2 -1h0m1 1h0m11 -3h0m3 0h0m2 -2h0m0 3h0m4 -1h0m0 0h0m3 -1h0m13 -1h0m12 1h0m3 0h0m332 -1h0m15 1h0m7 1h0m17 2h0m6 0h0m9 0h0m9 -2h0m3 2h0m3 0h0m30 2h0m19 -3h0m2 2h0m40 -2h0m-578 9h0m4 -2h0m2 1h0m3 -2h0m0 2h0m7 -3h0m13 -1h0m445 2h0m19 1h0m10 -1h0m3 1h0m8 -2h0m-530 8h0m7 1h0m2 1h0m2 -4h0m2 1h0m6 -3h0m460 1h0m5 1h0m9 1h0m28 -3h0m-550 12h0m3 -1h0m1 0h0m3 -1h0m5 0h0m0 -1h0m0 0h0m1 0h0m4 -3h0m3 3h0m3 1h0m2 0h0m4 -3h0m1 0h0m4 1h0m0 -2h0m2 1h0m515 -1h0m10 2h0m25 3h0m-616 7h0m0 -1h0m1 0h0m2 0h0m10 -3h0m1 3h0m2 -3h0m1 1h0m0 -2h0m1 1h0m0 0h0m1 3h0m2 -3h0m2 0h0m0 0h0m2 -2h0m2 3h0m0 -2h0m3 0h0m1 4h0m1 -3h0m1 -2h0m1 4h0m0 -1h0m1 -1h0m1 3h0m2 -2h0m7 0h0m3 -2h0m3 0h0m-61 9h0m2 2h0m2 -1h0m8 -1h0m1 1h0m1 1h0m1 -1h0m1 0h0m1 -5h0m2 4h0m0 2h0m1 -2h0m3 -3h0m3 0h0m2 2h0m2 -3h0m4 1h0m5 2h0m0 -3h0m2 0h0m7 0h0m-66 12h0m4 -2h0m1 -1h0m3 2h0m0 -3h0m4 0h0m2 0h0m1 3h0m1 -5h0m1 5h0m4 -3h0m2 1h0m1 -2h0m1 4h0m1 1h0m1 -2h0m3 1h0m1 -1h0m1 -1h0m0 -1h0m1 4h0m0 -4h0m1 3h0m1 -1h0m1 1h0m7 -3h0m5 -2h0m-50 7h0m1 4h0m1 1h0m2 -3h0m2 2h0m1 0h0m2 0h0m2 0h0m4 -4h0m0 0h0m2 0h0m0 0h0m0 0h0m2 2h0m2 0h0m0 2h0m1 -4h0m1 0h0m0 2h0m1 0h0m3 -3h0m2 1h0m0 4h0m4 -3h0m2 1h0m2 -1h0m4 -1h0m-50 8h0m1 2h0m6 -2h0m2 2h0m0 -5h0m4 6h0m1 0h0m5 -4h0m0 0h0m2 4h0m1 -4h0m1 4h0m2 -5h0m3 3h0m0 -2h0m3 3h0m5 -2h0m0 -2h0m-42 10h0m1 -1h0m0 0h0m1 -2h0m0 3h0m1 1h0m3 -3h0m0 -1h0m1 2h0m2 -1h0m3 -1h0m5 -2h0m2 0h0m3 4h0m1 0h0m1 1h0m3 1h0m0 -5h0m1 0h0m1 1h0m1 -1h0m1 0h0m-30 8h0m0 -3h0m6 1h0m0 2h0m1 2h0m0 -3h0m3 2h0m2 0h0m0 1h0m3 -4h0m0 1h0m2 2h0m1 -3h0m1 2h0m0 -1h0m4 -1h0m-17 7h0m3 1h0m1 1h0"/><path stroke="#ffe718" d="M1098 365h0m-34 4h0m56 5h0m20 -3h0m2 3h0m6 0h0m3 -4h0m-29 11h0m8 -1h0m15 0h0m1 -3h0m1 -2h0m3 0h0m0 4h0m-137 4h0m112 1h0m13 -2h0m12 1h0m2 1h0m4 0h0m5 2h0m0 -1h0m-36 3h0m1 2h0m4 3h0m12 -2h0m16 -3h0m3 1h0m2 2h0m12 1h0m-244 3h0m20 3h0m27 -3h0m142 3h0m3 -2h0m7 1h0m8 -1h0m2 3h0m14 -5h0m1 5h0m1 -1h0m19 -1h0m-84 5h0m23 0h0m6 -2h0m1 4h0m1 -4h0m9 4h0m2 -3h0m1 0h0m2 3h0m4 -5h0m2 2h0m5 2h0m2 0h0m-68 3h0m4 0h0m13 4h0m5 -3h0m25 -1h0m7 4h0m14 0h0m10 -2h0m-189 8h0m87 0h0m10 0h0m23 -4h0m19 2h0m8 -1h0m11 2h0m7 -1h0m6 1h0m3 1h0m0 -3h0m2 -1h0m-225 8h0m48 -2h0m108 5h0m3 -4h0m10 1h0m22 0h0m2 -3h0m4 4h0m21 -1h0m-132 7h0m5 -2h0m14 0h0m10 4h0m26 -4h0m23 2h0m3 -2h0m5 0h0m12 -1h0m16 3h0m3 2h0m7 -5h0m4 2h0m1 1h0m11 -4h0m5 2h0m-122 10h0m17 -2h0m11 -4h0m38 2h0m1 1h0m8 2h0m9 0h0m3 -4h0m2 5h0m10 -4h0m2 0h0m1 0h0m5 -1h0m16 -1h0m-100 10h0m21 -1h0m35 1h0m5 -3h0m2 1h0m12 -1h0m-108 7h0m5 3h0m36 -5h0m30 2h0m9 -1h0m9 2h0m13 0h0m3 0h0m2 2h0m1 -3h0m1 3h0m10 -3h0m-116 9h0m17 -3h0m30 -2h0m18 4h0m3 0h0m3 -1h0m3 -2h0m1 2h0m3 1h0m4 -2h0m19 3h0m0 -1h0m4 -1h0m-91 5h0m8 1h0m32 1h0m16 1h0m2 -4h0m11 5h0m1 -4h0m1 0h0m0 3h0m2 -2h0m9 0h0m6 -3h0m-79 9h0m3 2h0m17 -1h0m2 0h0m12 -3h0m3 1h0m3 0h0m5 -1h0m5 1h0m3 0h0m6 1h0m4 -1h0m9 -1h0m8 1h0m-68 7h0m10 2h0m3 -4h0m6 0h0m0 1h0m24 3h0m3 -2h0m1 2h0m6 0h0m25 -5h0m7 1h0m-63 5h0m11 2h0m5 0h0m1 0h0m1 1h0m3 -2h0m20 1h0"/><path stroke="#fff712" d="M1121 362h0m-48 4h0m53 1h0m-61 8h0m31 -4h0m0 -1h0m19 0h0m-64 10h0m6 -1h0m47 -4h0m6 2h0m16 2h0m17 -4h0m-184 10h0m25 -3h0m14 4h0m3 -3h0m5 0h0m58 2h0m31 0h0m4 -3h0m1 1h0m11 2h0m26 -1h0m8 -1h0m-217 5h0m3 0h0m3 1h0m12 2h0m38 1h0m51 -1h0m11 2h0m16 -4h0m59 -1h0m7 5h0m-347 2h0m28 -2h0m39 2h0m1 3h0m5 -4h0m21 2h0m64 1h0m17 -1h0m1 1h0m17 0h0m6 -1h0m19 3h0m12 -2h0m36 -3h0m51 0h0m9 3h0m9 2h0m-322 1h0m0 5h0m93 0h0m59 0h0m5 -1h0m9 -4h0m49 4h0m2 0h0m13 -1h0m14 0h0m13 -3h0m21 4h0m16 -3h0m15 2h0m22 0h0m-397 3h0m101 1h0m3 1h0m24 0h0m83 -2h0m6 4h0m23 -4h0m21 5h0m9 -5h0m1 4h0m28 0h0m51 1h0m12 -3h0m1 1h0m1 -1h0m3 3h0m-346 0h0m6 3h0m3 0h0m139 3h0m15 -5h0m36 0h0m21 4h0m30 -3h0m33 4h0m4 -4h0m6 -1h0m20 3h0m2 -1h0m15 -1h0m17 -2h0m1 4h0m2 -1h0m-448 8h0m22 -3h0m49 2h0m26 -1h0m17 -1h0m103 -2h0m71 3h0m34 2h0m15 -3h0m34 -2h0m21 5h0m3 0h0m9 -3h0m17 1h0m-130 3h0m19 5h0m22 0h0m3 -3h0m10 0h0m46 0h0m12 0h0m9 2h0m24 2h0m9 -1h0m-97 2h0m2 4h0m1 -2h0m17 2h0m6 1h0m26 -5h0m5 1h0m9 1h0m3 -3h0m22 1h0m1 1h0m8 4h0m-101 6h0m15 -3h0m31 -2h0m6 0h0m20 2h0m6 1h0m19 -1h0m-589 6h0m505 -3h0m59 0h0m4 3h0m25 1h0m2 -1h0m8 -1h0m-90 8h0m8 -4h0m20 5h0m38 0h0m7 0h0m-613 4h0m624 -1h0m9 1h0m-658 6h0m602 -1h0m35 3h0m8 0h0"/><path stroke="#e9b030" d="M1321 336h0m16 -2h0m4 0h0m-22 9h0m4 3h0m12 2h0m40 2h0m-76 4h0m1 2h0m10 0h0m14 -1h0m10 -1h0m-46 8h0m10 1h0m5 -3h0m4 1h0m3 -3h0m2 0h0m13 1h0m31 0h0m-67 6h0m2 1h0m7 -2h0m4 4h0m2 0h0m9 -2h0m3 -3h0m1 4h0m2 -4h0m16 5h0m5 -2h0m-66 8h0m4 -1h0m2 -2h0m3 3h0m3 -4h0m1 -1h0m0 4h0m6 -1h0m8 -1h0m10 1h0m8 -2h0m1 -1h0m9 2h0m9 2h0m-76 8h0m12 -4h0m5 1h0m8 1h0m3 -3h0m1 -1h0m1 1h0m1 3h0m0 1h0m12 -1h0m4 -3h0m3 5h0m14 -4h0m-64 4h0m5 0h0m1 3h0m2 -1h0m1 2h0m1 0h0m1 -2h0m1 -1h0m12 2h0m1 3h0m9 -3h0m0 0h0m9 1h0m9 -1h0m2 0h0m4 0h0m-58 5h0m9 -2h0m17 5h0m24 -3h0m8 3h0m-71 3h0m9 -2h0m2 3h0m0 2h0m8 -4h0m15 0h0m5 5h0m5 -3h0m6 3h0m3 -2h0m-42 3h0m20 5h0m8 -6h0m1 6h0m0 -5h0m13 -1h0m10 2h0m-59 10h0m0 -2h0m12 -2h0m14 4h0m14 -6h0m2 5h0m3 -3h0m7 1h0m-47 5h0m9 2h0m5 -3h0m1 3h0m9 -3h0m9 1h0m2 -1h0m5 0h0m0 0h0m6 -1h0m-73 10h0m12 2h0m3 -5h0m19 5h0m0 -1h0m4 0h0m7 -1h0m2 -4h0m0 5h0m3 -2h0m9 0h0m-65 8h0m3 -4h0m4 5h0m3 -3h0m14 -2h0m4 2h0m11 -3h0m23 5h0m3 0h0m-68 1h0m15 5h0m18 1h0m21 -4h0m0 3h0m11 -3h0m-48 5h0m17 2h0m-58 4h0m59 3h0m15 1h0m-51 6h0m11 1h0m17 -1h0m10 0h0m0 3h0"/><path stroke="#fffd10" d="M1100 369h0m24 -5h0m1 3h0m-61 6h0m13 -1h0m7 0h0m51 -1h0m1 3h0m-115 3h0m18 2h0m3 0h0m5 1h0m2 -4h0m4 0h0m5 2h0m27 -2h0m1 1h0m18 -1h0m0 1h0m8 0h0m-199 9h0m21 -3h0m13 3h0m52 -3h0m11 -1h0m7 1h0m2 -1h0m4 2h0m41 -2h0m12 1h0m18 1h0m19 0h0m35 -1h0m-294 9h0m7 -4h0m9 -1h0m4 5h0m9 -4h0m40 1h0m12 4h0m2 -2h0m4 -2h0m70 2h0m8 1h0m2 -4h0m2 3h0m3 1h0m8 -2h0m13 -2h0m15 -1h0m5 4h0m30 2h0m-308 5h0m15 -3h0m8 -1h0m1 -1h0m29 2h0m14 1h0m27 -1h0m10 3h0m17 -3h0m19 0h0m1 3h0m2 -1h0m14 2h0m30 -5h0m0 4h0m1 -3h0m33 3h0m15 -1h0m1 -4h0m8 6h0m5 -4h0m9 0h0m4 0h0m19 -1h0m17 2h0m8 1h0m24 -3h0m-423 11h0m33 -1h0m19 -5h0m5 3h0m9 -1h0m52 2h0m77 -2h0m33 1h0m0 -2h0m1 0h0m19 -1h0m24 3h0m47 -2h0m3 1h0m44 1h0m-408 8h0m3 0h0m18 -4h0m3 3h0m16 1h0m10 -1h0m1 -2h0m73 4h0m2 0h0m26 -6h0m7 4h0m6 -3h0m34 1h0m1 4h0m35 -2h0m17 -2h0m16 -2h0m1 3h0m46 1h0m21 1h0m59 -4h0m12 5h0m15 -6h0m-435 11h0m47 1h0m20 -1h0m32 -4h0m13 4h0m20 1h0m31 -4h0m13 1h0m8 1h0m1 -4h0m40 3h0m3 3h0m28 -4h0m5 3h0m7 -3h0m7 0h0m16 -1h0m3 1h0m3 -2h0m7 3h0m14 -2h0m4 -1h0m2 0h0m10 1h0m4 0h0m3 4h0m11 0h0m11 -4h0m5 0h0m23 3h0m3 2h0m4 -2h0m23 -1h0m9 1h0m16 -1h0m-466 6h0m37 -1h0m54 1h0m39 -2h0m7 -1h0m172 4h0m17 -2h0m10 1h0m12 -1h0m7 2h0m6 -3h0m21 -1h0m40 1h0m22 2h0m12 1h0m-472 3h0m340 0h0m21 2h0m13 1h0m19 -4h0m52 1h0m9 -1h0m-522 10h0m16 -3h0m0 0h0m433 -1h0m46 4h0m47 0h0m4 1h0m-92 3h0m21 2h0m52 -3h0m41 1h0m-621 10h0m536 -1h0m7 -3h0m28 1h0m46 -1h0m-605 5h0m547 2h0m-593 5h0m13 -2h0m1 1h0m594 4h0m-632 7h0m19 2h0m5 -1h0m-48 17h0m14 -2h0m12 -2h0"/><path stroke="#ffcb2b" d="M1162 398h0m12 -3h0m1 2h0m7 -3h0m-13 11h0m6 -1h0m9 -1h0m40 -4h0m-68 8h0m16 1h0m5 3h0m1 -5h0m0 3h0m29 1h0m-37 4h0m5 0h0m3 -2h0m0 3h0m11 0h0m1 -1h0m5 1h0m13 1h0m4 -4h0m0 5h0m24 -4h0m-47 4h0m4 0h0m3 1h0m21 3h0m4 -2h0m-65 9h0m5 -3h0m8 0h0m2 2h0m-5 3h0m1 0h0m1 4h0m18 -4h0m9 4h0m-50 4h0m6 -2h0m0 4h0m3 -5h0m20 5h0m2 1h0m13 -6h0m9 3h0m14 -3h0m-64 11h0m13 0h0m1 -2h0m2 0h0m8 2h0m4 0h0m23 -4h0m46 3h0m-99 4h0m7 3h0m10 -3h0m6 3h0m6 -4h0m4 -1h0m1 4h0m4 -1h0m8 1h0m5 -1h0m19 2h0m-68 7h0m5 -6h0m5 3h0m4 -1h0m2 0h0m3 1h0m13 2h0m4 -5h0m4 0h0m9 4h0m-57 8h0m5 -3h0m10 3h0m5 -4h0m11 2h0m14 -1h0m1 -2h0m34 2h0m-91 8h0m1 -5h0m8 5h0m11 1h0m1 -2h0m12 -2h0m10 0h0m1 3h0m1 -2h0m4 -2h0m2 0h0m42 2h0m-82 4h0m5 2h0m7 1h0m1 -3h0m11 0h0m6 1h0m3 -2h0m1 1h0m4 4h0m1 -3h0m2 -1h0m4 5h0m-43 0h0m12 1h0m8 1h0m6 0h0m3 -2h0m0 0h0m1 2h0m29 -1h0"/><path stroke="#74be66" d="M1490 206h0m3 -3h0m3 2h0m-19 7h0m8 -2h0m1 -1h0m1 0h0m1 3h0m0 -5h0m5 2h0m1 0h0m4 4h0m6 -4h0m3 3h0m1 1h0m5 -5h0m4 0h0m-48 10h0"/><path stroke="#ffd820" d="M1135 380h0m6 6h0m20 -3h0m2 -1h0m5 3h0m4 0h0m0 0h0m-22 7h0m8 -1h0m3 2h0m5 0h0m3 -1h0m3 -3h0m1 -2h0m4 2h0m-36 7h0m30 -3h0m4 4h0m8 -2h0m-119 8h0m62 -3h0m9 -1h0m14 1h0m5 4h0m9 0h0m-10 6h0m1 -3h0m2 -1h0m-19 8h0m1 1h0m19 -2h0m9 1h0m-53 8h0m8 0h0m11 -3h0m9 2h0m8 1h0m2 -3h0m0 2h0m1 -2h0m5 -2h0m3 0h0m3 6h0m11 -5h0m1 3h0m-55 3h0m9 3h0m3 -2h0m4 2h0m3 -2h0m11 4h0m-64 6h0m42 0h0m4 0h0m4 -2h0m4 2h0m10 -6h0m7 3h0m4 3h0m-84 4h0m53 -3h0m11 4h0m2 1h0m0 -3h0m14 2h0m1 -3h0m11 -1h0m-41 10h0m12 0h0m11 -1h0m2 1h0m6 -4h0m-39 10h0m5 -2h0m2 -1h0m13 -1h0m2 4h0m6 -3h0m17 2h0m-42 3h0m12 3h0m1 0h0m2 1h0m9 -2h0m2 3h0m11 -3h0m1 2h0m-113 7h0m56 -2h0m10 0h0m5 1h0m11 -2h0m7 -1h0m8 -1h0m5 4h0m-89 4h0m64 1h0m3 -4h0m1 6h0m53 -5h0m-82 9h0m4 -1h0m2 0h0m1 3h0m25 -4h0m0 3h0m5 -4h0m-14 5h0m2 1h0m1 0h0m16 0h0"/><path stroke="#c5bc3f" d="M1422 255h0m-5 6h0m1 -2h0m2 1h0m3 1h0m1 -2h0m9 -4h0m-24 9h0m9 3h0m10 -6h0m1 1h0m5 4h0m6 0h0m9 -2h0m1 0h0m2 0h0m-49 6h0m6 0h0m2 -3h0m8 3h0m9 1h0m30 -3h0m5 2h0m-61 7h0m15 -2h0m11 -1h0m15 0h0m4 -1h0m12 2h0m-74 8h0m3 -3h0m7 0h0m1 2h0m8 0h0m9 2h0m0 0h0m8 0h0m10 -1h0m1 1h0m1 -4h0m10 3h0m1 0h0m4 -2h0m6 3h0m-63 2h0m7 5h0m15 -5h0m0 4h0m8 1h0m22 -6h0m0 3h0m-46 5h0m8 -1h0m13 0h0m1 4h0m8 -2h0m15 -2h0m-36 9h0m20 0h0m1 1h0m-45 2h0m1 0h0m31 0h0m3 4h0m1 -2h0m-14 7h0"/><path stroke="#fff612" d="M1066 369h0m41 -1h0m8 -1h0m23 -2h0m-50 9h0m36 0h0m16 1h0m-105 1h0m6 0h0m1 0h0m59 0h0m8 0h0m10 -1h0m7 2h0m-160 5h0m9 3h0m17 -3h0m39 2h0m8 -2h0m4 3h0m78 -3h0m1 1h0m-163 7h0m90 -1h0m7 0h0m3 0h0m11 3h0m5 1h0m7 -5h0m2 1h0m29 -2h0m30 2h0m-398 10h0m62 -5h0m37 1h0m11 3h0m20 -3h0m66 3h0m38 -4h0m10 3h0m23 1h0m25 -3h0m2 -1h0m5 1h0m7 4h0m43 0h0m22 0h0m-312 4h0m67 -3h0m3 0h0m33 1h0m10 1h0m7 1h0m5 2h0m121 -5h0m57 4h0m-420 3h0m24 -2h0m109 3h0m3 1h0m10 -1h0m35 -3h0m33 5h0m62 -2h0m53 1h0m29 -2h0m3 2h0m12 0h0m31 1h0m3 -2h0m6 0h0m6 -1h0m5 1h0m-404 8h0m31 0h0m4 0h0m47 -5h0m3 5h0m69 -4h0m44 2h0m3 2h0m16 -2h0m25 -2h0m17 1h0m49 -1h0m14 0h0m29 3h0m9 -1h0m10 -3h0m5 1h0m-387 9h0m8 -2h0m14 0h0m32 2h0m5 -2h0m198 1h0m9 1h0m1 -2h0m25 -1h0m2 4h0m0 -4h0m4 0h0m11 2h0m2 -2h0m5 5h0m56 -3h0m12 -1h0m21 0h0m-121 10h0m2 -3h0m46 -2h0m25 2h0m0 -1h0m9 2h0m12 -4h0m11 0h0m2 4h0m15 -1h0m9 3h0m-130 4h0m14 1h0m2 -5h0m57 1h0m15 0h0m29 2h0m2 -2h0m-101 9h0m19 -4h0m8 0h0m63 2h0m-75 5h0m5 1h0m6 -2h0m25 4h0m10 0h0m7 1h0m0 1h0m-27 6h0m10 -4h0m6 -1h0m21 0h0m4 2h0m5 -1h0m-39 5h0m6 4h0m20 0h0m14 -1h0m2 3h0"/><path stroke="#fffa11" d="M1139 363h0m-63 7h0m16 4h0m-54 6h0m3 -2h0m0 -1h0m8 0h0m62 1h0m1 0h0m11 -2h0m12 1h0m25 0h0m-239 9h0m8 -2h0m12 2h0m4 1h0m33 -1h0m52 -2h0m22 3h0m32 -5h0m4 2h0m3 -2h0m27 1h0m-305 10h0m69 -2h0m0 -4h0m29 3h0m5 2h0m8 -1h0m53 -3h0m37 3h0m66 0h0m10 -1h0m-304 5h0m30 2h0m16 0h0m2 -2h0m27 0h0m12 3h0m9 -3h0m14 -2h0m5 4h0m6 0h0m17 2h0m8 -4h0m28 -1h0m23 1h0m2 1h0m16 -1h0m37 -2h0m11 1h0m21 1h0m15 2h0m5 -1h0m7 0h0m22 3h0m-407 6h0m7 0h0m10 -2h0m26 1h0m51 0h0m39 0h0m2 -1h0m16 -3h0m11 2h0m8 0h0m55 1h0m0 -3h0m6 2h0m18 -2h0m12 4h0m25 -3h0m25 0h0m37 0h0m36 1h0m18 3h0m-450 6h0m22 -4h0m60 -1h0m26 5h0m17 -6h0m49 6h0m4 -1h0m7 -3h0m5 -1h0m33 0h0m41 3h0m46 -1h0m15 -2h0m13 -1h0m1 5h0m3 -4h0m12 4h0m0 1h0m22 -1h0m13 -1h0m1 -4h0m5 3h0m2 -1h0m33 2h0m-467 7h0m20 -3h0m22 2h0m50 -2h0m20 2h0m10 -1h0m5 2h0m4 -1h0m10 1h0m3 1h0m28 0h0m4 -3h0m7 1h0m37 -2h0m37 3h0m16 -3h0m28 3h0m45 -4h0m23 -1h0m7 3h0m22 1h0m32 -3h0m24 4h0m10 -1h0m-492 8h0m74 -2h0m62 -2h0m16 -2h0m5 2h0m0 1h0m47 0h0m62 -2h0m21 0h0m43 -1h0m5 3h0m0 1h0m10 -1h0m6 2h0m46 -1h0m13 -2h0m10 -1h0m23 1h0m20 -1h0m27 2h0m-513 6h0m3 0h0m375 -2h0m25 3h0m25 1h0m3 1h0m56 -1h0m13 0h0m21 -2h0m14 3h0m2 -1h0m-116 3h0m25 1h0m16 2h0m7 -1h0m9 1h0m7 -4h0m10 1h0m32 -2h0m-109 8h0m48 3h0m16 -1h0m7 -2h0m3 0h0m17 3h0m-76 4h0m82 2h0m-22 6h0m15 -5h0m8 3h0m14 -2h0m-648 7h0m577 1h0m38 -1h0m-637 15h0m657 -4h0m-679 22h0"/><path stroke="#fff811" d="M1071 369h0m54 -4h0m-86 10h0m44 -5h0m7 2h0m34 1h0m-75 5h0m2 0h0m2 -1h0m15 -1h0m26 3h0m6 -1h0m10 -2h0m13 -1h0m-181 8h0m67 2h0m72 -3h0m0 4h0m16 0h0m-230 4h0m24 3h0m17 -3h0m8 1h0m20 0h0m15 0h0m12 -3h0m0 2h0m45 2h0m2 -2h0m11 2h0m65 0h0m20 -4h0m1 5h0m5 -6h0m-280 11h0m50 0h0m2 -4h0m40 3h0m3 -1h0m101 0h0m36 -1h0m33 2h0m17 -1h0m-355 8h0m12 -2h0m36 -1h0m6 2h0m5 1h0m12 -3h0m58 2h0m1 -2h0m24 2h0m8 -3h0m4 1h0m25 2h0m6 -4h0m14 4h0m17 2h0m12 -2h0m19 1h0m20 -1h0m8 -1h0m1 1h0m33 2h0m19 -5h0m3 3h0m20 1h0m-443 4h0m62 3h0m5 -4h0m25 2h0m32 1h0m11 -2h0m5 2h0m15 1h0m26 -2h0m17 -1h0m3 1h0m15 1h0m31 -2h0m33 2h0m7 -4h0m-280 11h0m151 -6h0m25 2h0m2 4h0m10 -5h0m28 2h0m8 1h0m10 -4h0m11 2h0m12 3h0m21 -4h0m46 2h0m44 -1h0m10 2h0m10 1h0m15 -3h0m3 -1h0m9 2h0m-453 6h0m48 -2h0m19 1h0m9 -1h0m41 1h0m8 0h0m16 -2h0m36 2h0m5 0h0m106 4h0m46 -4h0m56 0h0m32 4h0m8 -2h0m7 -2h0m6 1h0m-530 8h0m399 -1h0m14 -2h0m0 1h0m25 3h0m6 -1h0m10 -4h0m3 0h0m6 -1h0m13 3h0m18 1h0m-85 4h0m9 1h0m6 0h0m11 -2h0m61 4h0m57 -4h0m-112 8h0m7 3h0m14 -4h0m0 3h0m12 -2h0m32 1h0m21 1h0m26 -1h0m-102 8h0m14 -2h0m8 1h0m14 -4h0m18 5h0m21 -5h0m4 5h0m13 -3h0m1 1h0m-87 5h0m10 2h0m49 1h0m-46 1h0m71 5h0m-59 2h0m12 3h0m2 -3h0m25 -2h0"/><path stroke="#e5b030" d="M1339 331h0m4 0h0m1 1h0m-12 2h0m26 5h0m-41 5h0m1 -1h0m6 0h0m18 0h0m-38 8h0m4 -2h0m2 -2h0m9 3h0m9 -1h0m1 -2h0m18 -2h0m0 1h0m7 4h0m2 0h0m-53 2h0m2 4h0m3 1h0m3 -2h0m1 1h0m2 -1h0m1 -1h0m11 -1h0m19 4h0m0 -6h0m16 2h0m5 -1h0m2 3h0m-64 4h0m9 2h0m15 0h0m11 0h0m3 -2h0m1 1h0m15 -3h0m-68 7h0m4 -1h0m8 4h0m3 1h0m7 -5h0m23 2h0m11 -2h0m-60 6h0m1 1h0m5 2h0m6 2h0m11 -2h0m26 -1h0m0 -1h0m2 1h0m3 0h0m-66 6h0m1 1h0m13 1h0m1 -1h0m5 -1h0m4 0h0m2 3h0m7 1h0m4 -4h0m6 -1h0m0 3h0m1 -2h0m1 2h0m3 2h0m0 -2h0m0 -3h0m1 3h0m-66 4h0m1 1h0m2 0h0m7 1h0m15 -2h0m6 0h0m2 1h0m5 -3h0m1 0h0m2 2h0m4 3h0m4 -2h0m3 2h0m1 1h0m6 -1h0m3 -2h0m2 0h0m8 -1h0m-79 8h0m7 0h0m2 -1h0m3 2h0m0 0h0m4 -2h0m1 -3h0m37 4h0m5 -1h0m9 2h0m0 -2h0m1 -3h0m-58 7h0m7 1h0m8 -1h0m9 4h0m18 -2h0m13 0h0m-47 8h0m11 0h0m24 1h0m6 -3h0m1 -2h0m1 1h0m-80 7h0m27 -2h0m3 1h0m6 4h0m6 -3h0m18 0h0m11 -2h0m2 1h0m1 0h0m2 -1h0m-50 9h0m19 1h0m13 1h0m9 -2h0m-45 6h0m43 -3h0m-39 9h0m13 -3h0m8 0h0m-33 5h0m17 0h0m4 3h0m4 0h0m0 -2h0m1 4h0m4 -2h0m2 3h0m10 -6h0m-47 7h0m12 4h0m-30 25h0"/><path stroke="#ffec15" d="M1111 363h0m34 4h0m-85 2h0m30 3h0m48 -2h0m3 2h0m9 2h0m-117 5h0m12 0h0m20 -1h0m32 -2h0m21 0h0m15 2h0m8 -3h0m5 0h0m3 0h0m12 5h0m-150 6h0m99 -1h0m5 1h0m1 0h0m7 -4h0m3 1h0m1 3h0m0 0h0m4 -4h0m7 4h0m0 -3h0m5 -1h0m1 0h0m2 2h0m1 2h0m9 -2h0m-68 4h0m27 2h0m1 -1h0m0 1h0m10 3h0m4 0h0m7 -2h0m23 -3h0m-263 10h0m120 -1h0m14 -4h0m26 0h0m11 4h0m8 -4h0m4 2h0m31 2h0m14 0h0m13 -2h0m1 3h0m-208 4h0m35 3h0m12 -2h0m59 -2h0m19 2h0m12 -2h0m8 2h0m6 -1h0m7 0h0m2 -3h0m4 2h0m5 3h0m3 -4h0m11 3h0m8 1h0m4 -5h0m5 3h0m0 -3h0m2 4h0m3 2h0m3 -6h0m12 2h0m-438 9h0m168 -2h0m36 -3h0m88 3h0m25 0h0m6 0h0m10 -1h0m19 -1h0m36 5h0m16 -4h0m3 1h0m4 -1h0m15 2h0m1 -2h0m15 1h0m-411 5h0m107 3h0m57 1h0m80 -5h0m8 4h0m7 0h0m1 -2h0m4 1h0m34 -1h0m12 0h0m4 1h0m9 -1h0m3 -3h0m26 1h0m1 -1h0m7 2h0m5 1h0m13 2h0m0 -2h0m0 3h0m1 -4h0m4 0h0m8 1h0m-143 7h0m40 2h0m23 -3h0m28 1h0m3 -2h0m7 2h0m10 -2h0m5 2h0m11 -3h0m5 4h0m6 -5h0m-79 6h0m10 5h0m3 -2h0m2 1h0m5 0h0m2 -3h0m20 4h0m4 -2h0m1 1h0m18 -1h0m2 2h0m3 -2h0m3 -2h0m6 4h0m21 -4h0m-144 9h0m20 -1h0m8 1h0m20 1h0m10 0h0m5 -3h0m20 -1h0m2 3h0m0 -2h0m1 1h0m0 2h0m2 -4h0m6 4h0m0 0h0m3 0h0m7 -1h0m6 -1h0m1 1h0m4 2h0m30 0h0m-162 0h0m6 1h0m37 0h0m9 4h0m3 -1h0m12 -2h0m2 0h0m3 2h0m1 -4h0m11 4h0m8 -3h0m4 5h0m13 -3h0m4 3h0m3 -4h0m4 -1h0m1 -1h0m3 3h0m4 3h0m1 -5h0m8 0h0m12 1h0m-126 9h0m4 -3h0m5 -2h0m20 4h0m21 -3h0m1 1h0m10 4h0m5 -2h0m3 -2h0m8 2h0m2 -4h0m15 5h0m1 -2h0m5 2h0m10 -2h0m36 -1h0m-123 4h0m18 6h0m24 -3h0m1 0h0m3 2h0m2 0h0m4 0h0m13 -4h0m4 -1h0m0 1h0m2 1h0m1 -2h0m0 2h0m1 -1h0m23 3h0m-90 6h0m20 -3h0m8 1h0m11 0h0m4 -2h0m3 6h0m10 -6h0m2 3h0m2 2h0m2 -1h0m22 -4h0m-80 8h0m4 2h0m3 1h0m6 -1h0m6 -1h0m10 3h0m14 -3h0m2 1h0m1 -1h0m5 1h0m3 -2h0m7 1h0m2 -2h0m0 3h0m10 1h0m3 -4h0m-60 7h0m11 2h0m3 -3h0m9 4h0m4 -3h0m2 3h0m7 0h0m3 0h0m4 -5h0m1 0h0m11 2h0m-20 7h0m5 -1h0m5 0h0m1 -1h0m1 2h0m0 -1h0m3 2h0"/><path stroke="#edec96" d="M1070 368h0m2 0h0m17 1h0m22 -1h0m-4 2h0m-75 5h0m24 1h0m10 2h0m-169 7h0m13 2h0m6 0h0m74 -2h0m70 1h0m11 1h0m-227 4h0m4 1h0m47 1h0m24 -3h0m5 2h0m28 -2h0m9 -2h0m2 -1h0m6 1h0m43 0h0m13 3h0m6 0h0m1 0h0m51 -2h0m8 3h0m37 -3h0m-382 9h0m44 -2h0m15 -1h0m3 2h0m4 0h0m3 0h0m8 -2h0m0 -1h0m6 2h0m6 -1h0m17 1h0m37 -2h0m2 3h0m5 -3h0m6 5h0m47 -5h0m36 5h0m38 0h0m61 -1h0m-382 5h0m12 1h0m5 -1h0m10 -3h0m0 3h0m22 -2h0m3 0h0m1 3h0m28 -5h0m55 4h0m142 -1h0m19 0h0m2 -1h0m2 -1h0m20 0h0m-342 9h0m36 -3h0m1 1h0m6 1h0m51 2h0m9 -3h0m5 -1h0m21 0h0m0 2h0m4 1h0m67 -2h0m2 0h0m74 -2h0m1 0h0m8 4h0m9 2h0m29 -4h0m2 2h0m18 1h0m2 1h0m42 -3h0m-439 9h0m1 -4h0m1 2h0m32 -3h0m22 4h0m18 -5h0m1 2h0m5 2h0m6 -2h0m25 -1h0m1 3h0m18 0h0m0 -2h0m65 -2h0m19 2h0m4 1h0m19 -2h0m11 -1h0m31 0h0m36 2h0m4 2h0m27 -3h0m25 1h0m37 2h0m2 -3h0m-401 6h0m6 1h0m2 -1h0m3 2h0m16 -3h0m29 3h0m4 -1h0m1 0h0m10 -1h0m3 2h0m10 0h0m65 -3h0m35 2h0m116 0h0m16 1h0m12 6h0m30 2h0m10 -3h0m34 -1h0m8 0h0m26 3h0m-41 12h0m13 -1h0m18 -3h0m-573 12h0m4 -4h0m526 -1h0m-564 9h0m41 -2h0m-51 9h0m3 -2h0m22 -1h0m11 1h0m-33 8h0m14 -3h0m2 0h0m-43 6h0m13 1h0m0 2h0m2 1h0m-25 5h0m16 -2h0m-13 3h0m-7 10h0"/><path stroke="#ffd226" d="M1168 387h0m2 4h0m-1 7h0m2 -1h0m12 0h0m-31 5h0m4 -1h0m6 1h0m1 -1h0m14 4h0m-39 2h0m10 -2h0m6 5h0m3 -1h0m9 -4h0m10 6h0m3 -2h0m0 0h0m3 1h0m-29 3h0m1 4h0m7 -6h0m1 5h0m1 -3h0m5 2h0m3 -1h0m1 -2h0m3 3h0m-24 5h0m3 0h0m9 -2h0m4 1h0m1 3h0m11 0h0m17 0h0m-50 6h0m18 -1h0m3 -3h0m5 1h0m-41 8h0m20 -2h0m-11 5h0m6 2h0m0 2h0m1 0h0m0 -2h0m3 0h0m1 1h0m3 0h0m1 2h0m3 0h0m5 -4h0m2 2h0m2 1h0m3 -2h0m-54 7h0m29 -3h0m4 1h0m2 -1h0m2 0h0m6 2h0m1 -2h0m0 0h0m23 3h0m-34 7h0m1 -3h0m1 -2h0m4 3h0m1 0h0m4 -3h0m2 4h0m7 -3h0m4 5h0m-41 5h0m5 -1h0m2 -2h0m5 0h0m8 -1h0m8 4h0m1 -2h0m4 -1h0m5 1h0m-50 9h0m10 -1h0m14 -4h0m2 5h0m0 -1h0m11 0h0m0 0h0m3 -1h0m1 -1h0m10 -1h0m3 1h0m-46 9h0m6 -3h0m3 -2h0m6 4h0m0 0h0m3 -1h0m1 2h0m8 -2h0m3 -2h0m8 2h0m-56 8h0m18 -1h0m0 -2h0m12 3h0m19 -1h0m1 -5h0m3 6h0m2 -3h0m12 -1h0m-55 4h0m36 2h0m14 -1h0m13 -1h0"/><path stroke="#8ecb56" d="M1510 212h0m-43 7h0m15 -4h0m3 1h0m14 -2h0m3 5h0m-39 2h0m6 0h0m7 2h0m16 0h0m-20 7h0m2 13h0"/><path stroke="#bac142" d="M1474 246h0m-43 8h0m0 -3h0m2 -1h0m0 1h0m5 1h0m23 1h0m1 -1h0m1 1h0m2 1h0m-44 3h0m2 1h0m5 -3h0m2 1h0m6 3h0m5 -1h0m3 -3h0m1 2h0m3 2h0m7 -4h0m9 6h0m3 -4h0m4 0h0m5 3h0m1 -1h0m0 -1h0m-30 8h0m5 -2h0m0 1h0m3 0h0m3 -1h0m0 0h0m12 2h0m-61 5h0m15 0h0m19 0h0m16 0h0m12 -1h0m2 -2h0m-45 10h0m0 -1h0m7 2h0m7 -5h0m14 2h0m4 -1h0m0 0h0m6 -2h0m-56 10h0m10 -3h0m12 -1h0m4 2h0m9 -1h0m10 0h0m-11 6h0m7 -1h0m-15 12h0"/><path stroke="#e1b030" d="M1347 326h0m9 0h0m20 -2h0m-37 4h0m6 1h0m11 1h0m-27 6h0m4 1h0m16 -1h0m2 -2h0m27 2h0m-67 8h0m10 -3h0m3 -2h0m6 2h0m4 2h0m3 1h0m7 1h0m3 -2h0m6 -2h0m2 1h0m1 3h0m5 -1h0m7 -3h0m-58 8h0m2 -2h0m9 0h0m7 1h0m11 3h0m0 -2h0m4 -2h0m13 2h0m1 -1h0m4 0h0m5 -1h0m2 0h0m-64 4h0m2 2h0m7 3h0m3 -2h0m0 -2h0m8 3h0m15 -1h0m2 0h0m3 0h0m1 0h0m2 -2h0m1 3h0m10 -3h0m7 4h0m3 -1h0m4 -2h0m-80 7h0m0 -1h0m5 -1h0m1 4h0m8 0h0m4 -3h0m4 -1h0m6 4h0m0 -4h0m9 2h0m1 -2h0m0 1h0m2 0h0m1 -1h0m2 2h0m14 -1h0m2 3h0m2 0h0m-64 5h0m11 2h0m9 -5h0m11 0h0m1 1h0m14 4h0m-42 2h0m4 1h0m18 -1h0m2 2h0m3 -4h0m13 4h0m4 -3h0m2 2h0m-61 4h0m11 0h0m6 0h0m3 4h0m8 -1h0m4 -2h0m7 0h0m9 4h0m3 -3h0m-72 6h0m14 -1h0m3 2h0m5 0h0m11 0h0m1 1h0m4 -4h0m6 3h0m6 -4h0m19 1h0m0 0h0m1 3h0m1 -3h0m-62 8h0m11 3h0m19 -1h0m16 -2h0m-64 7h0m11 0h0m7 -4h0m34 2h0m1 1h0m5 -1h0m3 1h0m-20 5h0m4 1h0m0 3h0m2 -1h0m8 -4h0m3 7h0m-35 24h0m6 -1h0m-25 13h0"/><path stroke="#f7f458" d="M1096 364h0m6 2h0m3 3h0m2 -6h0m-52 11h0m11 -5h0m28 3h0m3 -3h0m-92 12h0m4 -1h0m1 0h0m18 -2h0m35 -2h0m23 1h0m8 2h0m-186 6h0m23 1h0m23 1h0m2 -5h0m23 2h0m8 -2h0m12 1h0m19 2h0m27 -3h0m15 0h0m5 -1h0m7 1h0m8 1h0m5 -2h0m-282 12h0m44 -2h0m2 2h0m28 0h0m3 -3h0m22 2h0m9 0h0m28 0h0m2 -4h0m17 3h0m6 1h0m27 -2h0m13 -3h0m94 6h0m-323 3h0m28 1h0m24 1h0m54 -5h0m35 2h0m0 -1h0m46 4h0m16 0h0m7 -3h0m19 4h0m10 0h0m19 -4h0m45 3h0m0 -3h0m42 4h0m-351 0h0m13 1h0m10 0h0m4 4h0m4 -2h0m18 -3h0m23 5h0m42 -2h0m12 -1h0m4 2h0m42 -1h0m2 1h0m48 2h0m27 -6h0m1 4h0m0 -3h0m1 1h0m12 0h0m2 -2h0m4 1h0m29 2h0m15 1h0m9 1h0m-374 7h0m10 -2h0m19 -1h0m2 0h0m8 1h0m0 -1h0m30 -1h0m20 3h0m5 -4h0m17 2h0m11 -1h0m11 1h0m14 2h0m11 -5h0m9 1h0m32 2h0m5 1h0m44 1h0m1 -1h0m8 0h0m15 -4h0m0 2h0m13 1h0m59 0h0m53 -1h0m-478 8h0m45 -1h0m4 -1h0m0 1h0m13 -1h0m28 3h0m19 -1h0m15 -3h0m46 -1h0m2 3h0m46 -3h0m0 6h0m26 -2h0m9 -2h0m6 1h0m0 1h0m33 -1h0m17 -3h0m12 3h0m26 -2h0m22 2h0m2 -1h0m0 1h0m9 2h0m-381 4h0m45 -1h0m70 -2h0m52 2h0m67 -1h0m60 3h0m25 -1h0m2 3h0m6 -1h0m18 -1h0m1 -2h0m10 2h0m21 0h0m-13 3h0m5 1h0m8 -2h0m47 6h0m-77 5h0m5 -2h0m23 -1h0m-6 8h0m66 -2h0m3 -1h0m5 2h0m-591 8h0m582 -2h0m7 -2h0m3 0h0m-588 9h0m577 4h0m1 3h0m27 0h0m-644 2h0m-32 7h0m10 2h0m10 1h0m-16 6h0m-23 6h0m12 4h0m4 -2h0"/><path stroke="#f7b730" d="M1296 373h0m-28 5h0m11 2h0m30 -3h0m-52 7h0m2 1h0m1 -2h0m12 3h0m-20 1h0m13 4h0m18 1h0m-52 4h0m4 2h0m1 -2h0m15 -1h0m25 1h0m-56 5h0m5 -1h0m4 0h0m9 0h0m4 5h0m1 -4h0m1 3h0m4 0h0m4 -3h0m3 0h0m11 1h0m25 2h0m7 -1h0m1 0h0m2 -3h0m-84 10h0m3 -2h0m1 1h0m5 -1h0m1 3h0m0 -2h0m5 -3h0m1 2h0m3 2h0m9 1h0m4 -2h0m3 -3h0m6 4h0m0 -4h0m10 2h0m2 1h0m1 -4h0m13 4h0m5 -3h0m8 1h0m1 0h0m-97 9h0m3 0h0m5 -3h0m8 1h0m9 2h0m0 -2h0m0 1h0m4 -2h0m8 4h0m1 -3h0m1 -2h0m14 4h0m1 -4h0m9 1h0m12 4h0m2 -4h0m3 0h0m6 -1h0m-91 9h0m3 2h0m2 -2h0m4 -1h0m37 -2h0m1 4h0m11 -3h0m1 3h0m29 1h0m2 -3h0m1 1h0m-92 5h0m6 3h0m1 -1h0m25 -2h0m4 -2h0m14 -1h0m19 2h0m0 2h0m18 -2h0m7 3h0m0 -5h0m-104 8h0m13 0h0m6 3h0m9 -2h0m1 2h0m1 -2h0m18 1h0m8 -4h0m6 0h0m3 2h0m5 3h0m11 -2h0m-63 6h0m4 -2h0m1 0h0m2 4h0m10 -4h0m3 0h0m1 -1h0m0 5h0m8 -3h0m0 -2h0m7 5h0m12 0h0m2 -2h0m5 1h0m8 -3h0m16 1h0m-83 8h0m14 1h0m5 0h0m9 -3h0m1 1h0m16 0h0m1 0h0m5 -1h0m12 -1h0m0 0h0m4 3h0m1 1h0m-80 6h0m13 -1h0m9 1h0m8 1h0m9 0h0m6 -5h0m8 -1h0m1 5h0m5 -2h0m2 3h0m20 -6h0m-74 7h0m8 3h0m4 -4h0m5 6h0m1 -5h0m3 2h0m0 -1h0m1 2h0m8 -1h0m4 -2h0m2 3h0m9 -3h0m12 3h0m-83 3h0m25 2h0m1 2h0m34 -3h0m4 2h0m9 -2h0m6 1h0m-64 5h0m12 -1h0m6 3h0m1 -1h0m5 2h0m10 -4h0m10 0h0m11 -1h0m-62 7h0m5 4h0m2 -5h0m29 6h0m12 -4h0m0 0h0m2 -1h0m0 0h0m-42 5h0m1 2h0m4 0h0m18 -1h0m1 1h0m5 1h0m1 -1h0"/><path stroke="#dbb434" d="M1361 306h0m11 1h0m7 -3h0m4 1h0m2 0h0m-37 10h0m32 -2h0m4 -1h0m-39 7h0m6 -2h0m1 3h0m9 1h0m1 -6h0m6 3h0m1 -2h0m-10 5h0m3 3h0m1 1h0m16 0h0m8 0h0m0 0h0m1 -1h0m4 2h0m-62 7h0m10 -2h0m3 0h0m4 -2h0m1 0h0m5 2h0m1 0h0m0 1h0m8 -4h0m0 3h0m6 2h0m16 -5h0m3 -1h0m0 1h0m-51 9h0m7 -3h0m0 3h0m6 -2h0m5 0h0m7 3h0m13 -4h0m2 2h0m4 0h0m0 0h0m1 -2h0m0 3h0m3 -4h0m0 1h0m8 1h0m-71 7h0m3 0h0m7 1h0m1 -2h0m3 -1h0m3 2h0m6 -1h0m4 1h0m1 2h0m1 -1h0m4 -2h0m9 3h0m1 -1h0m2 -4h0m2 0h0m4 6h0m4 -1h0m11 -4h0m-76 6h0m12 0h0m6 3h0m3 -3h0m14 4h0m3 -4h0m4 -1h0m9 3h0m12 -2h0m3 3h0m1 -3h0m1 2h0m1 -1h0m-64 9h0m0 -4h0m6 2h0m2 1h0m16 -3h0m5 -1h0m1 0h0m1 4h0m3 -2h0m19 0h0m-46 8h0m21 -4h0m1 1h0m6 5h0m2 -2h0m-29 7h0m4 -5h0m3 1h0m5 1h0m1 2h0m-21 4h0m16 -1h0m-25 19h0m6 0h0m-15 15h0"/><path stroke="#edb030" d="M1324 338h0m7 -2h0m-13 7h0m29 2h0m-10 4h0m-40 4h0m7 4h0m11 -5h0m5 0h0m1 1h0m16 -2h0m19 6h0m-65 3h0m12 0h0m3 3h0m12 -2h0m1 2h0m-25 3h0m1 -2h0m3 1h0m7 1h0m9 0h0m8 0h0m1 -2h0m3 2h0m2 -2h0m-55 10h0m5 -2h0m36 1h0m10 1h0m6 -4h0m-64 9h0m6 -3h0m3 0h0m4 4h0m2 -4h0m16 4h0m15 -4h0m1 2h0m4 2h0m9 1h0m-71 4h0m3 -1h0m3 0h0m2 -2h0m1 4h0m1 1h0m11 -4h0m6 -1h0m14 3h0m1 -2h0m15 -1h0m1 4h0m6 1h0m-67 0h0m0 4h0m4 -2h0m0 -1h0m5 0h0m1 5h0m3 -4h0m1 0h0m9 2h0m4 2h0m3 -5h0m3 5h0m3 -4h0m3 2h0m25 0h0m6 -3h0m-68 8h0m4 -2h0m6 4h0m2 -4h0m12 4h0m13 0h0m4 -1h0m8 -4h0m0 4h0m8 1h0m-79 5h0m30 -1h0m1 -1h0m11 4h0m7 -5h0m1 4h0m2 -4h0m29 -1h0m-74 7h0m6 0h0m2 3h0m0 0h0m8 0h0m4 -3h0m22 1h0m9 1h0m0 0h0m6 -1h0m6 -1h0m2 1h0m1 2h0m1 1h0m-84 1h0m22 1h0m6 -1h0m10 6h0m1 -2h0m6 0h0m2 -2h0m2 2h0m9 1h0m4 0h0m0 1h0m5 -4h0m0 1h0m2 2h0m-72 3h0m25 -1h0m4 -1h0m1 2h0m8 1h0m1 1h0m1 2h0m1 -5h0m6 2h0m0 2h0m18 1h0m6 -5h0m10 0h0m-94 10h0m2 0h0m2 -1h0m18 2h0m12 -1h0m7 -1h0m3 -2h0m13 2h0m12 -1h0m2 2h0m3 0h0m5 0h0m1 -2h0m1 3h0m0 -2h0m7 -1h0m-63 4h0m12 1h0m2 -1h0m6 4h0m5 -3h0m13 -1h0m1 -1h0m2 0h0m2 2h0m6 1h0m0 2h0m-71 7h0m2 -5h0m26 3h0m5 -4h0m12 1h0m8 4h0m1 -1h0m7 1h0m9 -4h0m0 5h0m6 -5h0m-56 9h0m2 -4h0m19 5h0m2 -5h0m2 3h0m8 1h0m5 0h0m7 -4h0m4 0h0m-58 10h0m10 1h0m2 -3h0m11 4h0m1 -4h0m1 3h0m5 0h0m2 0h0m9 -1h0m-35 5h0m2 2h0m9 0h0m-25 2h0m19 4h0m4 0h0m-9 4h0m-27 11h0"/><path stroke="#fffc10" d="M1094 363h0m14 0h0m-37 4h0m39 -1h0m20 -3h0m-93 12h0m5 -2h0m10 -1h0m3 -1h0m21 0h0m20 2h0m13 -2h0m15 3h0m5 0h0m-130 6h0m25 -1h0m47 -1h0m5 -2h0m5 0h0m14 0h0m16 0h0m-150 6h0m13 3h0m6 -3h0m8 1h0m1 -1h0m21 0h0m10 2h0m25 1h0m16 -1h0m35 -1h0m5 4h0m-253 4h0m4 -1h0m38 2h0m2 -3h0m23 -1h0m18 4h0m54 0h0m1 -4h0m45 1h0m3 2h0m2 1h0m42 1h0m-309 5h0m2 0h0m42 -1h0m1 2h0m12 -2h0m18 -3h0m19 2h0m20 3h0m2 -5h0m9 1h0m5 0h0m1 2h0m18 2h0m10 -3h0m7 -2h0m2 0h0m12 4h0m48 -5h0m15 4h0m9 -3h0m17 2h0m13 -2h0m50 5h0m-413 5h0m29 -2h0m4 2h0m29 -3h0m44 -1h0m0 3h0m5 1h0m16 0h0m51 -3h0m29 -1h0m14 2h0m4 -1h0m7 -2h0m33 1h0m7 3h0m5 2h0m28 -2h0m16 -1h0m2 1h0m14 0h0m12 0h0m-380 8h0m3 0h0m20 -1h0m20 -4h0m53 4h0m2 1h0m125 -1h0m0 0h0m28 -1h0m7 -3h0m55 4h0m24 -1h0m4 1h0m4 -3h0m6 3h0m6 -2h0m57 0h0m12 -1h0m-428 9h0m12 0h0m1 1h0m1 -3h0m51 2h0m26 1h0m6 -6h0m21 5h0m8 -2h0m34 3h0m25 0h0m20 -3h0m8 1h0m9 -4h0m3 3h0m41 3h0m21 0h0m3 -3h0m24 -2h0m11 2h0m4 3h0m12 -3h0m24 0h0m52 0h0m-412 7h0m24 -1h0m11 0h0m2 -1h0m11 0h0m52 -2h0m87 1h0m2 0h0m100 2h0m5 0h0m1 1h0m40 -1h0m28 0h0m8 0h0m21 -2h0m9 5h0m31 -2h0m-130 6h0m19 2h0m12 -4h0m1 0h0m7 -1h0m10 0h0m1 4h0m42 -4h0m2 0h0m7 3h0m7 -3h0m2 4h0m-529 2h0m449 2h0m28 -2h0m15 4h0m13 -1h0m31 -1h0m-58 6h0m59 0h0m18 -2h0m5 1h0m-622 9h0m567 -4h0m24 0h0m-597 6h0m580 4h0m7 -4h0m45 0h0m-664 7h0m601 2h0m13 4h0m-616 10h0"/><path stroke="#ffd523" d="M1154 385h0m16 -1h0m1 2h0m-17 2h0m1 3h0m13 -3h0m4 5h0m5 -3h0m-36 8h0m12 0h0m5 -4h0m8 5h0m-22 2h0m9 3h0m0 -1h0m1 2h0m4 -2h0m3 2h0m1 -1h0m1 -4h0m1 5h0m2 -5h0m3 4h0m0 -1h0m1 0h0m6 -3h0m-28 6h0m8 4h0m1 -4h0m10 5h0m5 -4h0m1 3h0m7 -2h0m-63 9h0m24 -2h0m3 -2h0m8 0h0m7 3h0m0 0h0m4 -4h0m2 0h0m15 3h0m-37 7h0m14 1h0m4 -1h0m9 0h0m7 0h0m-36 5h0m1 1h0m2 -3h0m7 1h0m6 3h0m3 -6h0m1 1h0m-38 9h0m1 0h0m13 -3h0m21 4h0m1 -2h0m15 -1h0m12 0h0m-64 8h0m24 -2h0m1 0h0m5 -2h0m13 0h0m7 2h0m0 0h0m4 0h0m-51 5h0m7 2h0m3 0h0m0 -1h0m8 1h0m3 -3h0m3 1h0m1 1h0m7 0h0m2 0h0m1 1h0m3 1h0m1 -4h0m1 4h0m2 1h0m2 -1h0m-33 6h0m1 2h0m0 -4h0m0 0h0m25 2h0m0 -2h0m2 3h0m-38 2h0m11 2h0m2 -2h0m4 3h0m0 1h0m2 -2h0m5 -2h0m0 5h0m8 -4h0m9 0h0m-61 9h0m23 -3h0m0 3h0m4 1h0m1 0h0m5 -6h0m6 5h0m-27 6h0m0 -4h0m8 4h0m2 -2h0m21 -1h0m2 -1h0m4 1h0m41 -1h0m-74 10h0m16 -3h0m12 4h0m3 -3h0m11 -2h0m-14 6h0"/><path stroke="#c2bd41" d="M1437 251h0m5 3h0m-7 4h0m3 0h0m5 -3h0m13 6h0m10 -1h0m-56 5h0m7 -1h0m7 3h0m14 -3h0m1 -1h0m7 2h0m1 -2h0m9 0h0m-52 5h0m3 4h0m8 -3h0m0 2h0m1 -2h0m3 -1h0m13 0h0m11 3h0m4 0h0m7 2h0m4 0h0m4 0h0m8 -5h0m-72 11h0m8 -4h0m3 2h0m0 1h0m12 -1h0m8 -2h0m1 3h0m12 1h0m1 -5h0m10 3h0m9 -1h0m-63 9h0m4 -4h0m17 1h0m7 -1h0m5 -1h0m9 1h0m4 -1h0m8 2h0m1 -1h0m6 -1h0m-66 8h0m4 3h0m2 -1h0m8 -4h0m3 -1h0m11 1h0m16 5h0m-45 2h0m22 1h0m0 0h0m1 -2h0m-52 6h0m40 0h0m10 5h0m5 -3h0m-11 9h0m16 -5h0m-20 8h0"/><path stroke="#fff213" d="M1100 367h0m31 0h0m-96 14h0m47 -1h0m-3 3h0m16 2h0m60 0h0m-213 7h0m59 -4h0m160 1h0m-134 5h0m42 3h0m11 -3h0m-363 10h0m41 -4h0m267 -1h0m52 3h0m13 2h0m7 1h0m21 0h0m-267 1h0m150 3h0m34 -4h0m3 1h0m14 1h0m31 0h0m19 -1h0m4 5h0m-325 1h0m87 4h0m127 -2h0m36 0h0m31 -1h0m17 4h0m3 -5h0m30 -1h0m-80 8h0m-10 8h0m65 0h0m1 -3h0m4 2h0m-66 9h0m9 0h0m1 -6h0m8 2h0m8 3h0m35 -5h0m5 4h0m10 -2h0m5 4h0m2 -6h0m7 0h0m-32 11h0m22 1h0m6 -4h0m6 -2h0m-84 11h0m18 -3h0m8 0h0m23 1h0m-2 5h0m15 -1h0m18 3h0m-57 2h0m34 6h0m-47 2h0m5 2h0m11 1h0m29 4h0m3 -2h0m20 0h0m-12 5h0"/><path stroke="#70bc68" d="M1505 200h0m-18 6h0m11 0h0m-17 3h0m29 0h0m8 -2h0"/><path stroke="#ffce28" d="M1179 393h0m-39 2h0m32 2h0m0 -3h0m11 4h0m-1 3h0m-29 6h0m8 -1h0m16 4h0m6 -1h0m0 0h0m-30 5h0m4 3h0m17 -2h0m2 -3h0m4 1h0m1 -1h0m0 -1h0m8 1h0m-42 10h0m1 -3h0m16 1h0m2 2h0m4 -1h0m0 0h0m0 -3h0m1 5h0m0 -1h0m9 -5h0m16 3h0m-61 8h0m11 0h0m15 -2h0m10 2h0m14 -4h0m11 0h0m-49 10h0m13 -3h0m15 2h0m9 -3h0m64 1h0m-96 7h0m8 -2h0m3 2h0m3 0h0m3 -2h0m11 0h0m6 2h0m2 -3h0m-67 10h0m24 2h0m9 -5h0m3 -1h0m9 0h0m3 1h0m1 1h0m6 2h0m-63 5h0m15 2h0m17 -4h0m8 1h0m9 1h0m3 -2h0m0 2h0m3 2h0m2 1h0m4 -2h0m16 -2h0m18 3h0m-71 7h0m3 -6h0m1 3h0m1 -2h0m5 3h0m2 -1h0m1 2h0m8 -2h0m3 -3h0m6 5h0m1 1h0m7 -2h0m6 -3h0m-49 9h0m13 -2h0m7 -1h0m0 -1h0m7 4h0m8 0h0m1 0h0m7 -3h0m8 0h0m15 1h0m-60 6h0m5 3h0m8 -2h0m2 1h0m0 -3h0m12 4h0m8 1h0m9 -2h0m36 -1h0m-89 7h0m4 -2h0m8 1h0m15 0h0m0 2h0m10 1h0m8 -5h0m-32 5h0m2 2h0m6 -1h0m42 1h0m5 1h0"/><path stroke="#c8bb3e" d="M1436 251h0m-3 9h0m15 -2h0m-23 3h0m4 1h0m-26 8h0m2 0h0m4 -2h0m6 2h0m3 0h0m3 0h0m5 2h0m6 -3h0m11 2h0m12 -1h0m5 1h0m-64 6h0m5 -3h0m6 3h0m3 -3h0m1 0h0m10 3h0m9 -2h0m15 1h0m-52 7h0m11 1h0m5 -4h0m0 1h0m13 1h0m3 3h0m8 -6h0m5 5h0m1 -3h0m2 4h0m1 -6h0m-61 7h0m5 3h0m11 1h0m12 -3h0m1 -1h0m12 1h0m9 0h0m2 -1h0m8 1h0m-68 10h0m12 -4h0m3 -1h0m10 2h0m9 3h0m14 -4h0m13 2h0m6 -4h0m2 1h0m-72 7h0m13 1h0m4 1h0m25 -2h0m13 3h0m0 -2h0m2 -2h0m5 1h0m-57 7h0m9 -2h0m15 0h0m10 5h0m5 -6h0m8 5h0m7 -5h0m-17 8h0m1 -1h0"/><path stroke="#ffe21a" d="M1143 372h0m-13 3h0m15 4h0m0 1h0m1 0h0m-99 3h0m80 0h0m0 2h0m6 -2h0m19 0h0m1 1h0m4 2h0m4 -1h0m1 -2h0m-38 7h0m13 -1h0m0 0h0m6 -2h0m4 4h0m15 -4h0m-32 10h0m4 1h0m3 -3h0m6 -2h0m5 5h0m3 -2h0m20 -1h0m-43 7h0m2 0h0m7 1h0m0 -4h0m5 0h0m4 6h0m5 -3h0m-105 6h0m2 3h0m58 -2h0m5 0h0m0 -4h0m0 0h0m3 2h0m0 3h0m14 -2h0m1 -3h0m14 3h0m11 -2h0m13 -1h0m-106 10h0m12 1h0m20 0h0m42 0h0m0 -3h0m4 2h0m2 2h0m2 0h0m-27 3h0m13 1h0m12 -1h0m0 2h0m5 -4h0m0 0h0m18 1h0m-90 10h0m22 -3h0m5 3h0m1 -6h0m8 5h0m3 -3h0m2 -1h0m13 4h0m1 -3h0m6 0h0m2 -1h0m7 1h0m4 3h0m2 -5h0m4 1h0m-66 6h0m3 0h0m21 4h0m1 -1h0m10 -2h0m8 -1h0m9 2h0m2 -2h0m-75 8h0m8 1h0m4 -2h0m32 0h0m4 -1h0m3 4h0m3 0h0m3 -4h0m6 4h0m1 -2h0m5 1h0m9 1h0m8 -2h0m-127 9h0m33 -2h0m7 1h0m32 -4h0m13 3h0m17 -2h0m3 1h0m8 2h0m-39 6h0m6 -2h0m0 0h0m2 -2h0m5 4h0m1 -3h0m4 -2h0m2 2h0m4 1h0m2 2h0m0 0h0m3 0h0m5 -3h0m0 -1h0m1 1h0m4 1h0m13 -2h0m-102 10h0m6 -2h0m2 -1h0m16 3h0m1 1h0m4 -3h0m21 3h0m14 -2h0m2 -2h0m2 2h0m0 1h0m9 -4h0m2 0h0m1 4h0m13 -2h0m-91 8h0m2 1h0m19 -6h0m29 6h0m11 -4h0m1 0h0m3 -2h0m2 3h0m4 1h0m3 0h0m-55 6h0m8 2h0m5 -6h0m10 0h0m2 5h0m1 -2h0m5 1h0m2 -2h0m7 2h0m1 -1h0m4 2h0m6 0h0m1 -1h0m8 0h0m8 -1h0m-47 5h0m7 -1h0m1 1h0m10 3h0m11 0h0m11 -1h0m-31 2h0m23 0h0"/><path stroke="#179fc2" d="M1621 135h0m7 -4h0m3 1h0m3 -2h0m3 5h0m-20 5h0m0 -2h0m0 6h0m1 -2h0m1 0h0m4 0h0m1 2h0m2 2h0m3 -3h0m2 1h0m3 1h0"/><path stroke="#f1b130" d="M1324 338h0m27 0h0m-42 25h0m-11 1h0m6 5h0m-31 6h0m36 0h0m-30 1h0m4 3h0m31 -4h0m-52 7h0m5 4h0m4 1h0m2 -4h0m3 3h0m5 1h0m0 -5h0m9 3h0m7 1h0m16 -1h0m9 0h0m-65 3h0m0 0h0m13 3h0m2 -2h0m6 0h0m5 1h0m2 0h0m5 -3h0m8 4h0m20 -4h0m-93 11h0m11 -1h0m5 -1h0m13 -1h0m12 3h0m8 0h0m8 -1h0m4 -2h0m14 3h0m-78 2h0m8 0h0m3 -1h0m18 4h0m1 -3h0m6 3h0m3 -1h0m6 -3h0m7 4h0m2 -2h0m15 -1h0m16 4h0m3 -5h0m1 2h0m-106 9h0m16 -1h0m15 -3h0m3 -1h0m9 1h0m6 0h0m14 0h0m5 1h0m1 0h0m1 2h0m19 1h0m5 -4h0m3 1h0m-75 10h0m2 -1h0m2 -3h0m0 2h0m6 -4h0m5 1h0m3 0h0m3 3h0m3 -2h0m1 2h0m0 -4h0m2 5h0m17 -2h0m8 -2h0m3 4h0m11 -2h0m2 -3h0m-82 8h0m14 2h0m2 0h0m9 -2h0m10 0h0m2 1h0m2 1h0m8 -1h0m1 3h0m11 0h0m6 -6h0m0 6h0m16 -4h0m-77 8h0m0 0h0m8 -4h0m24 6h0m1 -6h0m1 2h0m23 1h0m2 -1h0m7 0h0m2 1h0m0 -3h0m3 2h0m2 2h0m-86 2h0m8 6h0m9 -2h0m1 0h0m10 0h0m21 -2h0m0 1h0m12 0h0m5 0h0m6 -2h0m7 4h0m2 -1h0m-65 5h0m3 1h0m2 -1h0m5 1h0m2 0h0m19 -1h0m1 -3h0m8 5h0m0 0h0m2 -2h0m3 1h0m3 1h0m2 -3h0m3 -2h0m1 3h0m0 1h0m5 -1h0m-64 5h0m6 2h0m1 -3h0m4 -1h0m7 5h0m3 -2h0m5 -1h0m2 4h0m9 -5h0m5 2h0m22 -2h0m0 0h0m-76 7h0m31 1h0m5 1h0m1 -1h0m4 0h0m3 3h0m-10 5h0m1 -2h0m6 1h0m-34 7h0m13 -2h0m4 1h0m5 -3h0m2 1h0m6 0h0m-20 8h0m-19 8h0m25 -5h0m-11 7h0"/><path stroke="#b3c545" d="M1467 235h0m-25 5h0m2 1h0m4 0h0m0 -2h0m22 1h0m1 3h0m19 -5h0m-58 9h0m1 -1h0m9 0h0m1 0h0m2 1h0m3 -1h0m9 -1h0m22 3h0m-56 6h0m11 0h0m8 -2h0m6 3h0m13 -1h0m20 -2h0m-51 7h0m12 2h0m12 -4h0m9 2h0m3 1h0m3 -5h0m12 4h0m-25 7h0m11 1h0m7 -5h0m4 1h0m-34 9h0m16 3h0m0 4h0m-30 2h0m16 1h0m6 -2h0m4 1h0m3 -1h0m-15 9h0"/><path stroke="#a4cc4c" d="M1455 231h0m12 0h0m18 -2h0m0 -4h0m4 6h0m-43 6h0m3 -2h0m10 1h0m1 -4h0m14 3h0m2 2h0m10 -3h0m9 -3h0m-52 10h0m20 2h0m5 -1h0m7 -3h0m3 -2h0m3 3h0m-44 5h0m17 0h0m7 0h0m3 3h0m7 -3h0m8 3h0m8 -3h0m-19 8h0m14 -3h0"/><path stroke="#f3f076" d="M1108 363h0m9 0h0m-72 11h0m48 -5h0m2 5h0m-87 6h0m16 -4h0m26 5h0m31 -5h0m2 5h0m1 -5h0m14 4h0m-194 6h0m48 -1h0m9 -3h0m25 2h0m1 -2h0m1 3h0m2 -3h0m15 3h0m21 -3h0m1 2h0m8 -1h0m15 -1h0m49 2h0m-247 7h0m2 0h0m24 0h0m36 2h0m1 -5h0m18 5h0m18 -1h0m32 -2h0m6 -1h0m1 -1h0m73 0h0m-296 10h0m11 0h0m4 -4h0m16 3h0m28 0h0m7 1h0m3 -2h0m25 -3h0m8 4h0m6 -2h0m11 1h0m0 2h0m8 -1h0m26 -3h0m39 1h0m32 3h0m15 -2h0m2 1h0m12 -2h0m9 -2h0m34 5h0m3 -2h0m28 -2h0m-346 9h0m7 -3h0m28 2h0m42 3h0m15 -1h0m16 -3h0m9 3h0m1 0h0m0 -4h0m1 -1h0m35 3h0m7 1h0m4 -2h0m7 -1h0m6 3h0m7 1h0m30 -1h0m10 2h0m1 -5h0m25 3h0m17 0h0m21 0h0m2 -2h0m-368 9h0m16 -1h0m6 -1h0m2 0h0m28 1h0m1 1h0m5 -4h0m23 5h0m13 0h0m8 -3h0m6 3h0m3 -2h0m8 0h0m4 2h0m2 -3h0m15 0h0m6 -2h0m27 3h0m6 -3h0m5 2h0m4 2h0m29 0h0m5 -3h0m1 1h0m63 -2h0m42 -1h0m12 3h0m39 1h0m8 -2h0m1 2h0m12 -2h0m1 0h0m-422 8h0m13 -3h0m42 -1h0m30 4h0m13 1h0m31 -2h0m10 -2h0m30 0h0m11 -1h0m48 0h0m4 2h0m12 0h0m3 3h0m8 -1h0m25 1h0m6 -1h0m24 0h0m0 0h0m1 1h0m18 -2h0m58 -2h0m34 1h0m9 2h0m13 -2h0m-478 10h0m29 -1h0m16 -1h0m33 -2h0m4 2h0m29 0h0m1 -4h0m17 0h0m70 2h0m25 0h0m83 -2h0m5 3h0m22 -2h0m2 5h0m13 -1h0m39 -1h0m9 1h0m30 0h0m2 -4h0m-473 7h0m8 1h0m406 2h0m28 1h0m51 -4h0m-91 7h0m19 1h0m6 -1h0m14 2h0m9 -2h0m9 -2h0m-521 10h0m19 -4h0m-22 7h0m508 1h0m5 -1h0m20 1h0m2 0h0m18 2h0m13 -2h0m-615 8h0m0 0h0m576 -2h0m68 -1h0m-59 5h0m-608 8h0m31 2h0m-17 9h0m-19 5h0m-17 10h0"/><path stroke="#a8ca4a" d="M1483 224h0m14 0h0m-22 5h0m5 -3h0m9 4h0m5 -3h0m-44 7h0m1 2h0m12 -2h0m4 -1h0m0 2h0m27 -3h0m-55 9h0m4 1h0m5 -2h0m3 2h0m2 -2h0m1 -2h0m4 1h0m2 -2h0m0 1h0m0 1h0m8 2h0m2 1h0m0 -3h0m1 -1h0m0 -1h0m3 4h0m1 -2h0m6 4h0m2 -6h0m0 5h0m3 -1h0m-31 5h0m16 2h0m5 -2h0m3 -2h0m3 2h0m-36 6h0m20 -1h0m6 3h0m0 0h0m2 0h0m9 -4h0m-10 5h0m8 0h0"/><path stroke="#d2b939" d="M1404 271h0m3 -2h0m2 -1h0m15 3h0m-14 4h0m7 0h0m13 3h0m-42 3h0m22 3h0m-32 5h0m20 -2h0m21 1h0m12 -1h0m-49 4h0m7 4h0m2 -3h0m3 1h0m2 1h0m1 0h0m2 1h0m-38 8h0m16 -5h0m3 4h0m7 -1h0m1 0h0m3 1h0m11 0h0m1 1h0m0 -2h0m22 -2h0m-67 6h0m10 -1h0m11 0h0m3 4h0m7 -2h0m4 -3h0m10 1h0m2 -1h0m9 1h0m7 0h0m-55 7h0m2 2h0m6 -4h0m2 5h0m1 -5h0m1 6h0m0 0h0m25 -4h0m5 -2h0m2 1h0m1 -1h0m2 6h0m0 -3h0m-61 7h0m16 -3h0m8 5h0m5 -1h0m1 -4h0m16 5h0m4 -3h0m-27 9h0m2 -1h0m2 -2h0m18 3h0m4 -4h0m-25 10h0m7 -1h0m3 -4h0m5 -1h0m-25 6h0m-9 7h0m12 1h0m4 9h0"/><path stroke="#efee8c" d="M1073 367h0m-34 7h0m32 0h0m13 -3h0m13 -1h0m40 5h0m-99 3h0m18 2h0m9 -1h0m30 -4h0m2 5h0m-115 2h0m16 3h0m22 -4h0m55 5h0m-219 2h0m4 2h0m4 2h0m13 -4h0m1 0h0m42 3h0m26 2h0m32 -3h0m0 1h0m7 -2h0m4 3h0m29 1h0m26 -3h0m12 -1h0m7 2h0m14 -1h0m-303 7h0m10 -1h0m4 0h0m6 -3h0m15 0h0m8 4h0m10 0h0m9 1h0m2 -2h0m60 2h0m15 -1h0m5 1h0m5 0h0m15 -5h0m12 3h0m5 2h0m21 -2h0m3 -2h0m2 4h0m18 -1h0m1 -2h0m93 0h0m-388 10h0m40 -6h0m4 4h0m11 0h0m1 1h0m19 -2h0m5 2h0m4 1h0m1 -2h0m30 -2h0m6 0h0m11 4h0m7 0h0m1 -5h0m13 1h0m15 -2h0m3 1h0m18 4h0m5 -3h0m36 1h0m21 2h0m17 -1h0m12 -3h0m16 0h0m-345 9h0m14 1h0m2 -3h0m19 1h0m2 -2h0m11 0h0m13 4h0m13 -4h0m22 1h0m3 4h0m4 -5h0m32 1h0m3 2h0m8 0h0m30 -2h0m31 1h0m25 2h0m14 1h0m34 -4h0m13 -1h0m34 4h0m-352 6h0m60 -3h0m7 1h0m5 -1h0m21 0h0m41 1h0m12 -2h0m2 5h0m7 -1h0m85 -4h0m2 5h0m18 -1h0m27 -1h0m1 -2h0m3 0h0m56 1h0m4 0h0m3 -2h0m92 3h0m-455 7h0m16 -2h0m17 -3h0m5 1h0m7 2h0m26 0h0m21 1h0m4 -2h0m20 1h0m5 0h0m11 -3h0m41 3h0m248 -2h0m-478 7h0m428 2h0m5 1h0m80 1h0m-58 3h0m16 -2h0m-523 7h0m493 3h0m-510 2h0m-34 10h0m8 -3h0m3 0h0m-26 7h0m3 -2h0m0 7h0m11 1h0m8 0h0m-18 5h0m-42 7h0m26 -1h0m-33 8h0m2 0h0m8 5h0"/><path stroke="#dfb131" d="M1374 320h0m-24 3h0m4 2h0m15 -4h0m21 4h0m-60 3h0m3 0h0m10 3h0m3 1h0m2 0h0m1 -2h0m16 1h0m26 -2h0m-64 9h0m2 0h0m36 1h0m6 0h0m0 -3h0m5 -1h0m3 2h0m-68 6h0m1 0h0m3 -3h0m0 2h0m1 2h0m10 -1h0m1 2h0m7 -5h0m19 -1h0m-44 10h0m11 -3h0m3 3h0m7 -1h0m7 3h0m14 -6h0m3 0h0m4 2h0m8 2h0m1 1h0m9 1h0m2 -4h0m-81 7h0m19 0h0m9 0h0m13 -2h0m4 -1h0m2 3h0m15 1h0m4 0h0m6 -4h0m4 0h0m-82 10h0m7 -1h0m0 -3h0m10 6h0m3 -4h0m5 4h0m1 0h0m6 -2h0m0 -3h0m4 5h0m6 -5h0m1 -1h0m3 6h0m2 -2h0m4 -3h0m2 0h0m2 0h0m5 4h0m2 -4h0m2 0h0m2 2h0m-67 4h0m6 4h0m17 1h0m0 -6h0m1 1h0m12 2h0m3 -2h0m3 0h0m9 2h0m-60 6h0m6 0h0m13 0h0m24 -1h0m1 -1h0m10 3h0m4 -3h0m1 0h0m-69 7h0m22 2h0m6 -1h0m1 -3h0m5 2h0m10 3h0m5 -5h0m2 3h0m6 3h0m-20 4h0m1 -4h0m16 5h0m2 -1h0m-44 6h0m25 -1h0m2 0h0m6 1h0m5 -2h0m1 1h0m-25 6h0m18 -2h0m1 0h0m-66 11h0m48 -4h0m10 0h0m-56 5h0m15 5h0m7 -5h0m25 4h0"/><path stroke="#b6c343" d="M1448 241h0m-13 8h0m5 -2h0m15 -1h0m11 -2h0m2 0h0m15 4h0m-63 7h0m8 -4h0m4 1h0m10 2h0m0 -3h0m19 -1h0m8 3h0m9 1h0m-48 4h0m6 -3h0m8 4h0m1 1h0m7 1h0m2 -1h0m2 -5h0m5 5h0m0 -3h0m1 3h0m4 -2h0m2 1h0m0 0h0m5 1h0m-62 3h0m32 3h0m19 -3h0m8 -2h0m6 3h0m-48 5h0m12 -1h0m18 4h0m10 1h0m0 -3h0m-35 7h0m12 -2h0m6 1h0m2 3h0m-13 3h0m3 -1h0m-31 12h0"/><path stroke="#11aab3" d="M1594 146h0m4 -2h0m0 0h0m3 2h0m1 -2h0m0 0h0m0 2h0m3 0h0m1 1h0m-6 4h0m1 -1h0m5 1h0m1 2h0m2 -3h0m1 2h0m1 -3h0m0 -1h0m0 0h0m2 5h0m0 -2h0m0 -3h0m2 5h0m0 0h0m3 -4h0m0 1h0m1 1h0m1 2h0m1 -4h0m1 3h0m-13 2h0m14 -1h0"/><path stroke="#d9b535" d="M1407 278h0m-22 6h0m45 1h0m-27 3h0m23 2h0m-60 12h0m-10 6h0m2 -1h0m3 -2h0m6 0h0m11 -1h0m6 2h0m41 -2h0m-77 9h0m2 1h0m5 0h0m1 -5h0m4 5h0m0 -4h0m0 2h0m27 2h0m-48 6h0m5 -1h0m4 1h0m1 0h0m3 -3h0m6 -1h0m5 1h0m3 -1h0m-29 9h0m8 -2h0m14 2h0m1 1h0m2 -3h0m9 -1h0m6 0h0m14 4h0m-53 3h0m9 0h0m14 0h0m2 -2h0m3 6h0m6 -3h0m2 0h0m4 -2h0m2 0h0m8 5h0m1 0h0m8 -6h0m-64 6h0m0 2h0m3 1h0m2 -1h0m10 -2h0m7 3h0m5 2h0m2 -2h0m3 1h0m9 -2h0m11 1h0m-69 3h0m13 0h0m3 2h0m16 1h0m1 -2h0m3 1h0m1 1h0m20 -1h0m1 -2h0m2 2h0m2 3h0m2 -4h0m1 3h0m3 -2h0m4 -2h0m-81 6h0m32 4h0m6 -1h0m12 3h0m1 0h0m-59 3h0m22 -2h0m3 2h0m38 0h0m3 -2h0m3 0h0m4 -1h0m-24 8h0"/><path stroke="#2cb094" d="M1562 159h0m7 -2h0m1 -1h0m6 1h0m3 -1h0m2 0h0m0 -1h0m-30 9h0m5 -2h0m1 0h0m2 -2h0m1 2h0m1 2h0m7 -2h0m1 -1h0m3 2h0m0 -2h0m3 1h0m1 0h0m0 -3h0m3 3h0m2 -2h0m0 1h0m4 1h0m1 -2h0m5 4h0m-42 6h0m15 0h0m4 -3h0m3 -1h0m4 1h0m2 0h0m15 0h0m-42 5h0m5 3h0"/><path stroke="#15a2bd" d="M1617 138h0m2 -2h0m2 4h0m-8 3h0m2 -2h0m2 4h0m0 -2h0m2 -1h0m1 2h0m1 3h0m1 -5h0m1 2h0m4 1h0m3 1h0m-11 2h0"/><path stroke="#fff313" d="M1108 367h0m-37 5h0m23 2h0m48 -4h0m-103 8h0m49 -3h0m37 0h0m1 4h0m16 -2h0m10 4h0m2 -3h0m2 3h0m-146 4h0m58 0h0m42 -4h0m8 4h0m10 -1h0m23 3h0m-347 5h0m99 -3h0m66 1h0m21 -3h0m7 1h0m17 3h0m-120 7h0m71 -1h0m86 -3h0m42 2h0m-273 6h0m78 1h0m25 1h0m55 0h0m36 1h0m48 -6h0m12 5h0m3 -3h0m-300 5h0m160 5h0m30 -2h0m56 -2h0m13 -1h0m18 0h0m13 2h0m28 -1h0m-356 5h0m51 3h0m11 -1h0m70 2h0m36 -2h0m8 -2h0m3 0h0m5 2h0m35 1h0m39 1h0m4 0h0m30 -2h0m22 -1h0m11 -2h0m18 3h0m20 1h0m18 2h0m27 -4h0m-506 5h0m153 1h0m121 -1h0m2 0h0m24 0h0m43 -1h0m3 5h0m28 -2h0m3 2h0m2 -3h0m17 2h0m8 1h0m4 0h0m9 -2h0m19 -2h0m7 -1h0m20 5h0m1 -3h0m16 3h0m-164 4h0m3 -2h0m19 3h0m16 -2h0m7 -1h0m27 0h0m14 0h0m1 3h0m13 -2h0m6 2h0m20 1h0m-67 5h0m16 -1h0m5 -2h0m13 -1h0m23 2h0m12 -1h0m18 4h0m-101 4h0m5 2h0m46 -3h0m16 0h0m11 -1h0m22 3h0m2 1h0m3 -4h0m1 5h0m14 -1h0m-66 7h0m1 -2h0m5 -4h0m32 2h0m3 2h0m9 -3h0m-91 5h0m1 1h0m4 2h0m4 2h0m4 -2h0m18 1h0m9 -1h0m11 0h0m0 -2h0m9 3h0m4 -2h0m10 -2h0m-56 10h0m2 0h0m11 -2h0m47 0h0m1 0h0m-44 10h0m4 -2h0m48 1h0m10 -4h0m-21 6h0"/><path stroke="#bebf42" d="M1429 248h0m-1 3h0m5 3h0m5 -4h0m5 3h0m3 1h0m2 -5h0m3 3h0m9 -2h0m-38 7h0m7 2h0m5 -3h0m1 3h0m3 1h0m5 -1h0m1 -1h0m32 2h0m-71 7h0m9 -6h0m26 5h0m1 -1h0m2 1h0m24 -3h0m8 2h0m1 -2h0m2 -2h0m-63 7h0m1 1h0m12 -2h0m7 2h0m8 4h0m2 -3h0m7 3h0m2 -5h0m2 4h0m3 -1h0m4 -2h0m2 4h0m1 -3h0m-26 7h0m7 -3h0m0 3h0m3 1h0m6 -4h0m4 2h0m0 1h0m3 1h0m2 -3h0m-56 9h0m19 -1h0m7 -3h0m9 2h0m6 -2h0m0 1h0m6 0h0m1 0h0m2 0h0m-20 8h0m1 -3h0m2 3h0m1 -3h0m2 4h0m-57 6h0m14 -1h0m5 -2h0m22 0h0"/><path stroke="#38b18a" d="M1557 164h0m2 1h0m-20 4h0m12 -2h0m6 4h0m1 -6h0m1 5h0m1 1h0m6 -4h0m1 3h0m7 -2h0m4 0h0m5 -2h0m2 4h0m0 0h0m2 -1h0m-60 7h0m4 0h0m7 -2h0m1 1h0m3 -1h0m2 1h0m1 -1h0m0 0h0m5 -1h0m3 2h0m1 -2h0m4 -1h0m1 0h0m2 3h0m1 0h0m5 0h0m5 -3h0m3 1h0m0 -2h0m7 2h0m-61 7h0m1 1h0m12 -3h0m1 1h0m0 -1h0m6 0h0m3 2h0m8 -2h0m3 2h0m3 -1h0m8 -2h0m-46 8h0m6 -2h0m4 2h0"/><path stroke="#56b676" d="M1560 177h0m-9 7h0m8 2h0m-51 6h0m0 2h0m1 0h0m8 -1h0m6 0h0m1 0h0m17 0h0m2 0h0m-45 8h0m4 -4h0m5 2h0m0 -2h0m4 1h0m3 -1h0m5 -1h0m6 0h0m1 4h0m3 0h0m1 -2h0m2 -1h0"/><path stroke="#f1ee80" d="M1064 368h0m13 -3h0m13 3h0m16 -3h0m2 3h0m11 -4h0m-26 8h0m7 -1h0m10 -1h0m-78 8h0m40 -2h0m10 0h0m14 1h0m21 2h0m-176 4h0m30 1h0m15 -1h0m41 4h0m9 -5h0m-200 10h0m31 1h0m4 -2h0m2 1h0m12 0h0m19 -3h0m109 -1h0m10 1h0m-236 7h0m6 -1h0m21 2h0m13 -1h0m36 -2h0m19 0h0m24 0h0m21 3h0m20 -3h0m1 0h0m10 1h0m6 1h0m2 -2h0m14 1h0m28 -1h0m9 1h0m1 2h0m10 1h0m0 -2h0m2 -2h0m-292 7h0m4 0h0m27 0h0m21 2h0m25 1h0m7 -1h0m25 -2h0m16 -1h0m7 3h0m33 -3h0m5 -1h0m51 3h0m20 3h0m3 -3h0m6 -3h0m25 3h0m63 -1h0m-410 7h0m13 3h0m11 -5h0m65 2h0m16 2h0m55 -2h0m46 1h0m29 1h0m9 -2h0m74 2h0m29 -3h0m-392 10h0m51 -1h0m21 1h0m18 -1h0m5 -4h0m1 2h0m24 -2h0m22 1h0m32 0h0m80 3h0m38 -2h0m23 1h0m36 -4h0m22 4h0m36 -3h0m5 4h0m-442 4h0m16 3h0m1 -3h0m12 1h0m66 -1h0m56 -2h0m34 2h0m83 -2h0m43 0h0m11 2h0m27 2h0m1 -5h0m35 5h0m9 3h0m20 -1h0m40 5h0m11 -3h0m-526 7h0m500 -4h0m41 2h0m1 3h0m-84 1h0m-505 10h0m544 1h0m4 1h0m2 -3h0m-563 8h0m24 -4h0m549 1h0m-588 9h0m-25 5h0m11 0h0m-27 7h0m1 -1h0m11 -2h0m8 0h0m4 1h0m-19 7h0m2 2h0m8 -3h0"/><path stroke="#32b08f" d="M1551 165h0m5 -2h0m2 1h0m2 -3h0m3 2h0m2 1h0m0 -4h0m1 5h0m2 -1h0m3 1h0m5 -5h0m1 2h0m5 2h0m-43 6h0m0 -1h0m1 2h0m3 0h0m3 -2h0m1 -1h0m20 3h0m0 0h0m3 -6h0m1 5h0m1 -5h0m5 1h0m2 3h0m3 -2h0m1 0h0m5 3h0m-54 2h0m1 0h0m23 -1h0m8 2h0m1 -1h0m2 1h0m-43 10h0m6 -5h0m3 -1h0"/><path stroke="#92cc53" d="M1477 216h0m8 -2h0m14 0h0m-37 8h0m2 1h0m13 -1h0m0 3h0m11 -4h0m4 3h0m-37 6h0m12 -2h0m6 -2h0m8 -1h0m-21 6h0m16 1h0m5 4h0m5 0h0m-14 3h0"/><path stroke="#1daea3" d="M1577 152h0m6 -2h0m2 3h0m1 -4h0m2 4h0m1 -2h0m1 -1h0m-4 6h0m4 -1h0m5 0h0m8 1h0m4 1h0m4 1h0m-21 1h0m9 1h0m1 3h0m0 -2h0m0 -1h0"/><path stroke="#86c75b" d="M1490 211h0m1 1h0m1 -2h0m5 1h0m2 2h0m12 -1h0m-33 5h0m4 0h0m1 -2h0m16 0h0m5 -1h0m-37 6h0m5 3h0m11 -4h0m18 2h0m-39 5h0m5 2h0"/><path stroke="#ddb232" d="M1353 307h0m2 1h0m3 -3h0m2 -1h0m10 4h0m-19 6h0m25 -5h0m-28 9h0m2 1h0m5 -3h0m19 5h0m6 -4h0m-40 7h0m16 -1h0m2 3h0m5 -3h0m3 -2h0m1 6h0m11 0h0m4 -1h0m3 -1h0m1 -2h0m1 2h0m-58 4h0m6 2h0m1 1h0m5 -4h0m2 2h0m5 2h0m4 -4h0m5 4h0m4 -1h0m2 2h0m12 -1h0m5 0h0m14 0h0m-50 5h0m4 -1h0m22 0h0m1 1h0m6 -2h0m0 2h0m2 -1h0m1 0h0m7 1h0m1 1h0m4 -5h0m-78 8h0m13 0h0m1 3h0m1 -1h0m14 2h0m17 -3h0m3 -2h0m9 0h0m2 5h0m7 -5h0m-75 8h0m13 -1h0m13 3h0m3 -2h0m7 0h0m2 -2h0m5 -1h0m0 4h0m13 -1h0m6 1h0m2 -3h0m2 4h0m3 -2h0m4 -1h0m3 -1h0m-60 8h0m3 -2h0m3 3h0m1 -2h0m15 -1h0m8 2h0m3 1h0m2 -1h0m3 -2h0m7 1h0m5 -1h0m-59 8h0m9 -1h0m5 -1h0m2 3h0m5 -2h0m6 0h0m8 -1h0m4 2h0m10 -2h0m-42 6h0m4 3h0m1 0h0m-17 4h0m9 1h0m24 -2h0m-23 11h0m3 -1h0m4 0h0m7 1h0m-38 1h0m22 1h0m1 1h0m7 -1h0m1 4h0m2 -6h0m-20 6h0m14 4h0m2 -2h0m-10 6h0m-22 11h0"/><path stroke="#3eb184" d="M1549 177h0m10 -3h0m3 2h0m3 1h0m3 -5h0m0 2h0m1 2h0m0 0h0m6 -1h0m1 -3h0m5 1h0m-62 10h0m1 -2h0m6 1h0m0 1h0m1 -1h0m10 0h0m2 -1h0m1 -3h0m1 4h0m1 -3h0m0 2h0m3 -2h0m2 3h0m1 -4h0m3 -1h0m1 2h0m0 1h0m4 -1h0m2 -1h0m0 4h0m1 -5h0m1 1h0m1 0h0m2 -1h0m0 4h0m0 -1h0m4 -1h0m6 0h0m1 -1h0m-59 9h0m8 0h0m0 -1h0m4 -3h0m0 2h0m5 1h0m1 2h0m1 -5h0m1 4h0m4 -2h0m8 1h0m2 1h0m8 -1h0m-20 4h0"/><path stroke="#f9bb2f" d="M1326 359h0m-43 10h0m-24 17h0m10 -2h0m10 -3h0m-53 17h0m30 0h0m12 1h0m3 0h0m-45 4h0m7 2h0m28 -2h0m26 0h0m24 -3h0m-92 7h0m2 -1h0m3 4h0m9 -1h0m4 -1h0m6 -2h0m-41 6h0m6 0h0m2 1h0m22 3h0m0 -5h0m1 2h0m25 2h0m-59 7h0m1 -2h0m8 2h0m12 -2h0m26 0h0m22 2h0m2 -4h0m5 1h0m18 1h0m-108 9h0m5 -1h0m5 -4h0m12 5h0m13 -2h0m9 0h0m7 -2h0m3 1h0m19 0h0m1 1h0m-72 3h0m8 0h0m2 -1h0m2 4h0m10 -1h0m7 1h0m5 2h0m5 -4h0m1 2h0m24 0h0m13 -3h0m2 5h0m-89 6h0m14 -3h0m6 1h0m1 -2h0m12 3h0m3 0h0m2 -3h0m7 2h0m7 1h0m2 0h0m0 0h0m12 -1h0m4 2h0m35 -5h0m-119 7h0m36 2h0m0 1h0m6 -2h0m0 2h0m2 1h0m16 -2h0m31 0h0m-35 2h0m14 4h0m0 -1h0m19 2h0m1 -4h0m10 1h0m-86 5h0m20 1h0m0 1h0m5 0h0m9 1h0m9 1h0m10 0h0m4 -4h0m2 5h0m9 -2h0m7 0h0m5 -2h0m-71 9h0m4 0h0m5 -5h0m3 2h0m12 -1h0m3 3h0m2 0h0m6 -3h0m2 4h0m0 -1h0m12 -2h0m-63 7h0m13 -2h0m4 2h0m5 0h0m2 1h0m10 -2h0m1 3h0m2 -4h0m0 4h0m1 -4h0m0 3h0m2 -4h0m2 1h0m1 5h0m4 -2h0m2 -1h0m4 -2h0m9 2h0m-71 3h0m13 0h0m1 4h0m3 -1h0m18 -1h0m4 -2h0m1 2h0m2 2h0m1 1h0m0 -2h0m10 2h0m1 1h0m4 -3h0m3 -1h0m3 -1h0m-45 6h0m9 2h0m5 0h0m11 0h0m1 -2h0m7 -1h0m3 1h0"/><path stroke="#9fcc4e" d="M1497 221h0m-41 8h0m4 1h0m7 -1h0m5 0h0m3 1h0m3 -4h0m2 2h0m9 -2h0m0 2h0m-24 6h0m11 -3h0m2 1h0m6 3h0m-39 7h0m24 0h0m8 -1h0m0 -1h0m2 2h0m1 1h0m1 -5h0m3 1h0m0 4h0m-46 2h0m6 -2h0m30 1h0m12 5h0"/><path stroke="#cbba3c" d="M1443 250h0m-30 16h0m2 1h0m-11 1h0m4 0h0m9 3h0m5 1h0m-23 5h0m4 0h0m24 -2h0m-36 7h0m5 -1h0m7 -1h0m0 3h0m1 -3h0m1 0h0m3 -1h0m1 2h0m13 3h0m8 -1h0m3 0h0m19 -2h0m-69 8h0m2 -4h0m4 1h0m3 -1h0m3 2h0m1 -1h0m5 3h0m1 1h0m5 -3h0m8 0h0m1 3h0m9 -1h0m1 0h0m9 -2h0m-59 8h0m1 -3h0m7 0h0m11 1h0m4 1h0m18 -2h0m11 3h0m1 0h0m2 1h0m8 -4h0m-62 7h0m2 2h0m9 -3h0m8 5h0m1 -2h0m2 1h0m1 0h0m2 -5h0m4 4h0m14 -2h0m0 -1h0m4 2h0m-64 9h0m26 -6h0m2 3h0m9 0h0m6 -1h0m4 -1h0m15 3h0m-57 7h0m42 0h0m1 -1h0m4 0h0m4 -1h0m-10 6h0m2 -1h0m-32 8h0m15 -1h0m-1 11h0"/><path stroke="#9bcc50" d="M1495 219h0m-20 3h0m1 3h0m5 -6h0m9 2h0m3 2h0m0 -1h0m4 3h0m-41 1h0m1 4h0m8 -2h0m4 3h0m6 -2h0m10 -3h0m-40 10h0m12 -5h0m6 1h0m4 3h0m6 -2h0m4 3h0m8 1h0m6 -3h0m2 -2h0m-41 10h0m11 -4h0m6 4h0m5 -2h0m1 -1h0m12 3h0"/><path stroke="#22ae9e" d="M1574 153h0m3 0h0m1 0h0m4 -1h0m0 -2h0m10 3h0m-25 4h0m1 -1h0m8 -1h0m1 1h0m8 -3h0m3 2h0m1 1h0m0 2h0m5 -2h0m-31 5h0m5 0h0m4 0h0m15 3h0m0 -2h0m6 -2h0m1 3h0m1 -4h0m3 5h0"/><path stroke="#4db47b" d="M1544 182h0m15 -2h0m5 2h0m1 1h0m-55 5h0m3 -1h0m1 2h0m18 0h0m3 -5h0m9 5h0m4 -5h0m1 1h0m0 2h0m2 -2h0m3 4h0m1 -5h0m5 2h0m2 -2h0m-54 8h0m1 -2h0m0 3h0m1 1h0m1 -4h0m4 1h0m4 3h0m7 0h0m0 -2h0m8 -1h0m0 -1h0m1 5h0m2 -5h0m0 4h0m0 0h0m3 -2h0m0 0h0m5 -2h0m3 1h0m3 -1h0m-51 8h0m1 -3h0m7 0h0m6 0h0m7 0h0m1 0h0m1 1h0m5 0h0m1 4h0m6 -4h0"/><path stroke="#cfb93b" d="M1432 265h0m-30 8h0m14 -1h0m7 -2h0m2 0h0m-34 9h0m3 -2h0m31 1h0m-43 6h0m2 0h0m16 -2h0m26 3h0m-50 4h0m6 -3h0m2 2h0m9 -1h0m7 1h0m1 1h0m3 -2h0m3 3h0m3 1h0m11 -4h0m-47 6h0m5 4h0m1 -2h0m6 -2h0m2 3h0m6 0h0m8 0h0m20 0h0m7 -1h0m-67 7h0m12 -5h0m9 1h0m10 -1h0m2 5h0m4 -2h0m1 -1h0m3 -1h0m4 4h0m7 -5h0m16 1h0m-51 9h0m10 -1h0m11 0h0m4 1h0m2 -1h0m0 1h0m11 -3h0m0 -1h0m7 2h0m-55 9h0m5 -5h0m13 4h0m6 -3h0m-46 6h0m7 1h0m14 2h0m20 2h0m2 -1h0m8 -5h0m9 4h0m-31 6h0m15 1h0m-32 6h0m17 -3h0m18 2h0m-42 3h0m22 4h0"/><path stroke="#fec72d" d="M1171 398h0m1 0h0m8 3h0m5 1h0m50 -2h0m-24 9h0m17 -3h0m-61 8h0m11 -1h0m0 1h0m1 0h0m1 2h0m0 -2h0m18 2h0m7 -3h0m47 0h0m-91 5h0m10 4h0m14 -4h0m4 2h0m1 -2h0m1 0h0m24 0h0m15 3h0m14 -4h0m-84 7h0m7 2h0m1 2h0m10 -2h0m3 -1h0m1 1h0m0 2h0m6 -4h0m0 2h0m7 1h0m12 -1h0m5 -3h0m11 4h0m-72 4h0m5 3h0m23 0h0m0 -4h0m2 3h0m5 1h0m2 -1h0m15 1h0m-48 4h0m2 0h0m1 -3h0m4 2h0m13 2h0m5 1h0m2 -2h0m1 1h0m8 0h0m3 -2h0m2 1h0m-36 8h0m7 -3h0m15 1h0m1 -2h0m7 5h0m1 -1h0m1 -1h0m3 0h0m28 -4h0m10 3h0m-81 7h0m12 -2h0m4 1h0m8 -2h0m4 3h0m6 -1h0m14 -3h0m7 3h0m-63 4h0m8 -1h0m13 6h0m8 -1h0m2 1h0m4 -1h0m3 -4h0m0 0h0m5 4h0m3 -1h0m1 0h0m0 -3h0m11 0h0m32 5h0m-89 4h0m7 -1h0m4 -3h0m3 0h0m20 4h0m3 -1h0m5 1h0m10 1h0m2 -3h0m17 0h0m3 1h0m-90 4h0m13 3h0m6 -1h0m3 0h0m6 0h0m10 0h0m1 2h0m6 -3h0m12 2h0m0 2h0m9 -3h0m0 -3h0m8 3h0m4 -1h0m9 -2h0m-65 6h0m4 4h0m2 0h0m2 1h0m1 -4h0m2 3h0m11 1h0m2 -2h0m1 -3h0m4 3h0m8 -1h0m3 0h0m1 3h0m6 -1h0m5 2h0m11 -5h0m-64 7h0m22 -2h0m11 3h0m22 -1h0"/><path stroke="#77c064" d="M1486 209h0m1 2h0m6 -2h0m1 1h0m4 1h0m7 -1h0m6 2h0m-38 3h0m4 2h0m6 -3h0"/><path stroke="#fffb11" d="M1098 362h0m19 0h0m23 1h0m-48 3h0m-48 8h0m15 -4h0m12 1h0m30 1h0m5 1h0m10 2h0m9 -3h0m4 -2h0m5 5h0m9 -4h0m11 2h0m-129 7h0m84 1h0m2 -2h0m16 2h0m-161 2h0m13 1h0m3 1h0m11 0h0m27 1h0m0 -5h0m2 1h0m2 4h0m16 -4h0m0 3h0m5 -2h0m49 4h0m16 -6h0m-234 11h0m4 -4h0m19 0h0m11 1h0m27 -1h0m2 -1h0m11 2h0m44 1h0m6 0h0m2 -2h0m19 1h0m17 3h0m22 -1h0m27 0h0m5 0h0m10 -3h0m-301 8h0m32 1h0m47 1h0m5 -3h0m93 -2h0m42 5h0m9 -1h0m47 0h0m3 -4h0m-364 9h0m12 -2h0m28 -1h0m63 5h0m24 -3h0m0 -1h0m9 4h0m16 1h0m10 -3h0m24 -3h0m1 5h0m8 1h0m6 0h0m4 -2h0m17 -3h0m4 0h0m5 4h0m33 -2h0m3 2h0m8 0h0m56 -1h0m1 0h0m11 0h0m17 1h0m6 -4h0m-398 7h0m21 1h0m31 -2h0m31 2h0m14 1h0m3 0h0m35 -1h0m28 -1h0m5 -1h0m44 3h0m35 -2h0m2 0h0m3 2h0m32 -4h0m10 5h0m6 1h0m36 -6h0m35 3h0m19 1h0m4 -2h0m-399 9h0m54 -1h0m2 0h0m1 0h0m11 1h0m10 0h0m13 -1h0m19 0h0m0 -2h0m44 1h0m24 -2h0m19 3h0m83 1h0m9 -5h0m20 5h0m11 -4h0m2 3h0m0 -1h0m10 1h0m21 -1h0m4 2h0m6 0h0m4 -3h0m4 4h0m30 0h0m19 -4h0m-462 7h0m9 1h0m26 -3h0m69 2h0m2 -2h0m6 1h0m33 1h0m21 -2h0m31 1h0m79 0h0m58 -1h0m28 4h0m0 -3h0m1 2h0m50 0h0m1 1h0m24 0h0m8 -2h0m-511 7h0m416 0h0m15 -1h0m3 -2h0m13 3h0m14 -4h0m5 6h0m26 -2h0m24 -4h0m-62 10h0m12 -4h0m41 1h0m-567 9h0m13 0h0m467 -1h0m15 -1h0m29 -1h0m2 1h0m5 1h0m2 -2h0m18 3h0m1 1h0m12 -2h0m-572 4h0m508 3h0m11 -2h0m16 -1h0m2 3h0m17 -2h0m8 1h0m4 3h0m1 -1h0m-615 5h0m5 -1h0m577 0h0m39 -1h0m9 1h0m-35 9h0m15 0h0m-600 4h0m593 -3h0m22 10h0m15 -1h0"/><path stroke="#d5b838" d="M1412 264h0m-9 8h0m10 2h0m-26 7h0m30 3h0m13 -4h0m-54 10h0m7 1h0m2 -5h0m-14 7h0m2 4h0m15 -3h0m15 0h0m1 1h0m-44 6h0m19 0h0m6 -3h0m9 1h0m1 1h0m5 -1h0m11 -1h0m4 2h0m-58 4h0m8 2h0m4 -2h0m11 0h0m5 1h0m1 -1h0m6 0h0m13 3h0m2 0h0m3 1h0m6 -2h0m1 -3h0m-46 7h0m0 0h0m4 2h0m1 0h0m27 3h0m0 -4h0m8 -1h0m-64 11h0m4 -2h0m17 -3h0m8 1h0m0 -1h0m3 -1h0m3 3h0m3 1h0m7 2h0m2 -4h0m5 0h0m0 1h0m1 0h0m0 3h0m2 -4h0m1 3h0m4 -1h0m1 -3h0m-68 5h0m10 3h0m8 -1h0m0 0h0m0 0h0m27 1h0m1 0h0m9 1h0m-61 4h0m12 -1h0m8 -1h0m14 2h0m2 3h0m1 -5h0m1 3h0m1 -2h0m6 1h0m-41 9h0m6 -1h0m9 1h0m-25 1h0m24 6h0m8 -6h0m24 4h0m4 0h0m-13 4h0"/><path stroke="#68ba6c" d="M1490 205h0m2 -1h0m1 1h0m8 2h0m6 -4h0m5 0h0m-4 4h0"/><path stroke="#afc646" d="M1482 230h0m12 -1h0m-12 3h0m5 3h0m3 1h0m-47 6h0m10 -4h0m2 -1h0m21 2h0m6 1h0m-44 6h0m2 1h0m1 -3h0m45 0h0m-56 7h0m13 -1h0m2 5h0m2 -1h0m3 -4h0m4 -1h0m9 1h0m6 1h0m8 1h0m0 -1h0m8 -1h0m-19 8h0m5 1h0m6 -1h0m1 2h0m3 0h0m-75 7h0m46 9h0m11 3h0"/><path stroke="#1d93d1" d="M1644 130h0m-10 5h0m1 5h0m3 -2h0m1 -1h0m0 3h0m2 4h0"/><path stroke="#18ada8" d="M1591 146h0m4 0h0m-8 4h0m2 -2h0m1 2h0m2 -2h0m0 -1h0m13 4h0m-11 3h0m3 1h0m1 -1h0m0 0h0m2 0h0m0 3h0m1 0h0m2 -1h0m2 1h0m5 1h0m4 0h0m-11 3h0"/><path stroke="#d7b636" d="M1414 269h0m-28 16h0m28 -5h0m1 3h0m-35 3h0m3 0h0m6 1h0m42 3h0m-38 6h0m16 -1h0m-36 6h0m0 1h0m4 1h0m6 -1h0m1 -4h0m20 0h0m7 2h0m-54 4h0m2 1h0m3 0h0m2 -2h0m4 1h0m1 1h0m28 2h0m2 2h0m6 -5h0m-42 5h0m3 2h0m10 0h0m0 -1h0m1 1h0m2 4h0m0 -2h0m5 2h0m0 -3h0m9 -2h0m10 4h0m-58 4h0m3 1h0m0 -1h0m12 -3h0m2 4h0m3 -2h0m16 3h0m3 -1h0m1 -4h0m13 3h0m-63 7h0m12 -1h0m11 0h0m1 -3h0m9 5h0m9 -2h0m0 1h0m2 -1h0m4 -1h0m9 -1h0m9 2h0m-65 4h0m10 4h0m14 -3h0m0 -1h0m2 3h0m1 1h0m5 0h0m1 1h0m-28 5h0m8 -3h0m9 -1h0m3 3h0m18 -1h0m-21 6h0m1 2h0m12 -3h0m0 -1h0m4 3h0m5 -1h0m9 -2h0m-35 5h0m3 3h0m5 -2h0m16 -1h0m2 3h0m6 -3h0m-74 10h0m10 1h0m49 -3h0m-63 43h0"/><path stroke="#13a6b8" d="M1605 141h0m-13 5h0m9 -3h0m9 2h0m1 1h0m1 -4h0m3 5h0m0 -1h0m1 -2h0m0 1h0m0 1h0m1 -1h0m5 1h0m-14 3h0m0 2h0m5 -4h0m1 2h0m2 -1h0m0 4h0m2 -3h0m1 -2h0m0 0h0m3 3h0m0 -1h0m0 -1h0m0 3h0m1 -3h0m3 -1h0m0 3h0m0 0h0m3 0h0m0 -3h0"/><path stroke="#82c55e" d="M1489 212h0m1 0h0m6 -2h0m-22 3h0m9 1h0m7 0h0m5 3h0m10 -1h0m-40 4h0m20 -1h0"/><path stroke="#6bbb6b" d="M1492 207h0m10 -5h0m0 3h0m14 0h0m-33 2h0m0 2h0"/><path stroke="#8ac959" d="M1480 212h0m-9 6h0m2 -3h0m5 3h0m5 -2h0m6 -1h0m8 2h0m7 -3h0m-29 6h0m3 -1h0m4 2h0"/><path stroke="#45b27f" d="M1562 170h0m-34 6h0m24 1h0m9 -2h0m18 1h0m-44 3h0m1 3h0m5 0h0m4 -4h0m5 2h0m3 2h0m1 -2h0m10 1h0m3 0h0m3 -1h0m1 -2h0m-60 11h0m6 -2h0m3 0h0m2 0h0m1 2h0m2 -4h0m4 0h0m1 -1h0m4 1h0m2 0h0m1 2h0m0 -3h0m2 2h0m2 1h0m2 -2h0m5 -2h0m3 6h0m1 -3h0m1 3h0m0 -1h0m4 -2h0m1 2h0m0 -4h0m5 0h0m1 0h0m0 1h0m1 -2h0m-53 6h0m6 0h0m6 4h0m1 -4h0m1 1h0m1 -1h0m5 4h0m22 -4h0"/><path stroke="#96cc52" d="M1470 219h0m13 -2h0m5 -1h0m6 2h0m-29 3h0m16 0h0m2 1h0m4 1h0m4 1h0m10 -3h0m-42 9h0m16 -1h0m6 -2h0m10 -1h0m-43 8h0m6 3h0m10 0h0m9 -4h0m12 -2h0m0 2h0m-31 4h0m6 3h0"/><path stroke="#27af99" d="M1575 152h0m1 0h0m1 0h0m-6 3h0m5 4h0m2 -2h0m5 1h0m6 0h0m-31 2h0m3 1h0m0 -2h0m2 1h0m13 4h0m2 -5h0m6 2h0m1 -2h0m5 1h0m1 1h0m-4 5h0m1 3h0m10 -3h0"/><path stroke="#abc848" d="M1479 225h0m13 -2h0m-22 5h0m10 0h0m16 -1h0m-48 9h0m16 -1h0m27 -1h0m-43 8h0m8 -2h0m3 -2h0m2 4h0m2 -1h0m0 -2h0m5 1h0m2 1h0m7 -4h0m3 1h0m1 4h0m-25 3h0m17 0h0m-20 5h0m7 -1h0m11 1h0m6 4h0m1 -2h0m-23 7h0m27 -3h0"/><path stroke="#5eb871" d="M1519 193h0m11 2h0m-30 6h0m9 -1h0m14 -3h0m14 -1h0m-41 6h0"/><path stroke="#199bc7" d="M1625 132h0m2 2h0m2 1h0m1 -1h0m2 0h0m0 -4h0m2 2h0m6 -1h0m1 1h0m-19 7h0m0 1h0m7 1h0m4 -3h0m1 -2h0m-11 6h0m5 0h0m4 0h0m0 -1h0m2 4h0m3 0h0m1 -3h0"/><path stroke="#1b97cc" d="M1631 132h0m9 2h0m-10 3h0m5 3h0m3 -4h0m2 -1h0m-7 9h0"/><path stroke="#2090d4" d="M1642 140h0m2 -4h0m1 -1h0"/><path stroke="#65b96d" d="M1499 201h0m-1 3h0m4 -2h0m1 1h0m9 3h0m2 -4h0m6 2h0"/><path stroke="#60b870" d="M1495 199h0m5 0h0m7 1h0m15 -2h0m-21 4h0m8 0h0m13 1h0"/><path stroke="#63b96f" d="M1502 201h0m10 -5h0m6 5h0m-20 2h0m7 -1h0m14 0h0"/><path stroke="#7bc262" d="M1517 204h0m-31 5h0m7 1h0m14 2h0m-32 6h0m7 -3h0m5 1h0m10 -3h0"/><path stroke="#13acad" d="M1598 146h0m1 0h0m-7 7h0m1 -6h0m3 0h0m0 5h0m5 -2h0m1 0h0m3 -1h0m5 0h0m7 3h0m1 0h0m-17 3h0m1 0h0m12 0h0m3 0h0m2 0h0"/><path stroke="#2886df" d="M1645 140h0"/><path stroke="#7fc361" d="M1498 211h0m-18 3h0m1 3h0m6 -2h0m8 -2h0m6 2h0"/><path stroke="#228dd8" d="M1643 135h0m-5 5h0m4 1h0m0 -1h0m4 1h0"/><path stroke="#6dbb69" d="M1513 204h0m-6 5h0"/><path stroke="#5db772" d="M1498 201h0"/></g><g stroke-width="3.4" stroke-linecap="round" fill="none"><path stroke="#e8e8e1" d="M872 375h0m10 0h0m7 0h0m27 -2h0m5 0h0m0 1h0m12 -3h0m8 0h0m5 3h0m20 -1h0m9 -2h0m1 2h0m5 -4h0m5 2h0m2 3h0m1 0h0m24 0h0m4 -2h0m0 -1h0m12 4h0m3 -1h0m-189 6h0m20 -1h0m2 -3h0m7 -1h0m1 3h0m9 -1h0m2 3h0m5 -2h0m2 1h0m3 -2h0m0 0h0m2 3h0m0 -2h0m3 0h0m5 0h0m3 0h0m2 1h0m2 2h0m3 -4h0m6 -2h0m3 1h0m1 4h0m1 -1h0m4 -3h0m4 0h0m8 0h0m0 4h0m1 -2h0m10 1h0m0 -3h0m0 4h0m2 -4h0m7 0h0m30 4h0m6 -2h0m15 2h0m1 -4h0m8 4h0m1 -1h0m7 1h0m4 1h0m1 -2h0m4 1h0m15 -1h0m6 -1h0m-301 9h0m15 -1h0m15 -1h0m8 0h0m1 -4h0m3 4h0m3 -4h0m11 4h0m0 1h0m28 -1h0m10 2h0m7 -6h0m0 5h0m2 -4h0m4 0h0m11 3h0m2 1h0m15 -5h0m8 2h0m11 -1h0m6 3h0m1 1h0m11 -2h0m18 -2h0m1 4h0m9 -5h0m13 5h0m19 -3h0m2 4h0m19 -5h0m3 0h0m1 2h0m19 -3h0m2 5h0m20 -3h0m-328 10h0m3 -1h0m11 -1h0m9 -3h0m11 0h0m19 0h0m13 3h0m11 2h0m3 -6h0m5 5h0m5 -1h0m21 -2h0m14 4h0m15 -3h0m13 -2h0m6 2h0m2 2h0m9 -5h0m7 3h0m3 1h0m14 -3h0m9 5h0m4 -2h0m3 1h0m1 0h0m1 -1h0m2 1h0m7 -4h0m15 5h0m5 -5h0m8 2h0m7 0h0m3 -1h0m3 1h0m5 0h0m0 -1h0m16 4h0m1 -3h0m1 2h0m1 0h0m6 -2h0m10 -1h0m0 -2h0m3 2h0m4 3h0m2 0h0m2 0h0m17 -4h0m-375 10h0m1 1h0m28 -5h0m2 0h0m6 1h0m2 0h0m10 -2h0m9 2h0m2 2h0m2 -1h0m18 -2h0m7 4h0m13 1h0m1 -2h0m5 -2h0m1 4h0m11 -1h0m4 -2h0m2 -1h0m25 0h0m4 -1h0m3 0h0m8 4h0m8 -3h0m14 2h0m15 -1h0m2 2h0m5 -2h0m15 -3h0m25 2h0m5 0h0m12 2h0m2 -1h0m2 -1h0m2 -2h0m6 5h0m4 -2h0m39 -2h0m20 4h0m8 -1h0m5 -1h0m4 2h0m2 0h0m2 -1h0m9 -3h0m4 4h0m0 -3h0m-401 8h0m2 0h0m1 -1h0m6 1h0m2 -1h0m11 3h0m8 -2h0m17 -1h0m13 -1h0m3 -1h0m0 5h0m5 -2h0m5 -1h0m3 0h0m5 -2h0m4 3h0m27 1h0m17 -4h0m5 2h0m16 2h0m3 -2h0m4 0h0m4 1h0m6 0h0m8 1h0m3 -5h0m1 5h0m8 -2h0m27 2h0m2 -3h0m2 2h0m3 -4h0m13 3h0m6 1h0m1 0h0m25 0h0m4 -1h0m6 3h0m7 -1h0m3 0h0m12 -3h0m7 -1h0m6 3h0m1 1h0m4 -4h0m16 4h0m4 -3h0m5 1h0m3 2h0m4 -2h0m1 -1h0m1 1h0m5 3h0m11 -1h0m0 -4h0m5 2h0m7 -3h0m1 2h0m5 2h0m18 -4h0m-445 11h0m14 -2h0m6 -1h0m7 0h0m3 1h0m2 -2h0m1 4h0m5 -3h0m20 1h0m1 0h0m16 3h0m1 -2h0m15 -3h0m4 2h0m4 -2h0m2 0h0m4 1h0m3 2h0m8 0h0m12 1h0m0 1h0m0 -3h0m7 -1h0m4 1h0m0 -2h0m2 5h0m10 -5h0m9 1h0m9 3h0m12 -1h0m9 -3h0m3 4h0m13 0h0m6 -1h0m2 -2h0m36 1h0m4 0h0m12 2h0m3 1h0m5 -1h0m3 -3h0m2 4h0m0 -4h0m3 4h0m20 -2h0m6 -4h0m21 6h0m0 -4h0m0 1h0m23 -1h0m1 2h0m4 -3h0m11 4h0m4 -2h0m8 1h0m0 -1h0m2 0h0m0 -1h0m3 1h0m7 2h0m6 -3h0m2 3h0m3 0h0m7 -3h0m5 -2h0m7 2h0m8 3h0m1 0h0m3 -2h0m3 1h0m1 -2h0m2 -1h0m-457 8h0m10 2h0m5 -2h0m0 3h0m20 -5h0m3 3h0m14 2h0m2 -3h0m1 3h0m0 -5h0m9 -1h0m1 3h0m2 -2h0m3 4h0m13 0h0m4 -1h0m1 -2h0m4 -2h0m12 0h0m2 3h0m15 -1h0m4 1h0m6 1h0m4 -2h0m1 2h0m11 -2h0m2 1h0m4 3h0m22 -4h0m1 3h0m2 -3h0m3 3h0m1 -1h0m4 0h0m1 -1h0m0 0h0m6 2h0m10 -3h0m8 1h0m14 1h0m0 2h0m2 -3h0m4 0h0m2 1h0m16 -2h0m1 3h0m0 -3h0m7 0h0m1 1h0m3 3h0m21 -4h0m5 3h0m5 1h0m9 -5h0m31 4h0m1 -4h0m4 -1h0m2 4h0m3 -1h0m11 2h0m18 0h0m8 0h0m4 1h0m19 -3h0m12 -1h0m7 1h0m3 -2h0m1 0h0m2 0h0m-469 10h0m13 -2h0m1 0h0m0 1h0m20 1h0m7 -3h0m4 -1h0m3 2h0m19 2h0m16 -1h0m6 1h0m2 0h0m4 -3h0m4 0h0m8 3h0m15 -2h0m14 -1h0m2 1h0m9 -3h0m30 2h0m39 -1h0m7 1h0m23 -1h0m15 1h0m5 -1h0m55 -1h0m4 1h0m4 -1h0m11 0h0m37 1h0m7 0h0m3 1h0m10 0h0m4 0h0m15 -2h0m-430 9h0m11 1h0m4 -2h0m4 4h0m0 -3h0m8 1h0m5 -3h0m17 1h0m8 -2h0m1 2h0m-76 5h0m8 2h0m12 -2h0m8 0h0m-43 7h0m0 2h0m5 2h0m13 -4h0m-54 5h0m0 2h0m4 2h0m11 -4h0m25 1h0m-46 8h0m5 -3h0m11 3h0m7 -2h0m2 2h0m4 -2h0m5 -1h0m-66 10h0m7 0h0m0 -2h0m4 -2h0m5 0h0m3 3h0m0 -4h0m1 2h0m6 2h0m3 2h0m5 0h0m0 -5h0m2 0h0m0 3h0m5 0h0m7 -3h0m1 1h0m2 -1h0m-60 6h0m4 4h0m19 -2h0m5 1h0m4 -4h0m4 5h0m7 -1h0m-43 3h0m11 1h0m8 -1h0m4 1h0m-40 8h0m8 -2h0m9 -1h0m0 2h0m0 2h0m3 -2h0m-17 7h0m1 -2h0m3 -1h0"/></g><clipPath id="sc2"><path d="M393 516L400 503L420 490L450 472L480 457L510 444L543 432L580 426L620 423L700 421L800 420L900 418L950 425L1000 442L1050 466L1100 478L1160 479L1210 482L1250 462L1282 440L1300 420L1314 400L1345 368L1387 345L1398 326L1419 313L1440 294L1460 282L1480 262L1500 222L1521 205L1542 194L1563 186L1584 173L1605 163L1626 152L1637 145L1650 141L1680 140L1694 143L1700 157L1701 178L1699 205L1695 226L1692 247L1689 264L1684 264L1684 226L1679 225L1668 231L1658 242L1647 252L1637 263L1625 275L1600 300L1575 340L1560 370L1541 382L1530 400L1520 420L1518 440L1530 445L1545 470L1548 492L1538 498L1530 490L1520 472L1509 472L1490 480L1469 490L1445 501L1429 506L1414 518L1398 524L1377 537L1360 545L1340 546L1300 547L1250 545L1200 544L1150 542L1100 541L1050 539L1000 537L950 536L900 534L800 532L700 531L600 530L500 529L430 528L400 526Z"/></clipPath><filter id="sb2" x="-5%" y="-5%" width="110%" height="110%"><feGaussianBlur stdDeviation="5"/></filter><g clip-path="url(#sc2)"><g filter="url(#sb2)" stroke-width="8.5" fill="none"><path stroke="#15a2bd" d="M1609 120h24m-24 8h16m-16 8h8m0 8h8m8 8h8m-8 48h8m-8 8h8m-8 16h8m-32 24h8m-48 48h8m-88 96h8m-16 8h8m-24 24h8m-16 24h8m-8 8h8m-16 8h8m-16 8h8m-24 8h8m-8 8h8m-8 8h8m-8 8h8"/><path stroke="#179fc2" d="M1633 120h32m-40 8h32m-40 8h8m0 8h8m8 16h8m-8 8h8m-8 8h8m-32 56h8m-48 24h8m-24 48h8m-64 64h8m-32 40h8m-16 8h8m-16 16h8m-8 8h8m-16 24h8m-32 16h8m-8 24h8m-8 8h8m-8 8h40m-48 8h48m-48 8h32m-32 8h24"/><path stroke="#327aea" d="M1665 120h8m-16 8h16m-8 8h8m-16 16h8m-16 64h8m-88 112h16m-48 16h8m-16 32h8m-32 32h8m-8 8h8m-24 56h8m8 16h8m-24 8h24m-32 8h40m-40 8h48m-48 8h16m8 0h24"/><path stroke="#4361f8" d="M1673 120h16m-16 8h16m-16 8h16m-16 40h8m-16 24h8m-48 56h8m-56 104h8m-16 8h8m-16 8h8m-16 8h8"/><path stroke="#4747f6" d="M1689 120h8m-8 8h8m-16 16h8m-8 48h8m-96 152h8m-16 16h8m-32 40h8m-16 8h8m-48 72h8"/><path stroke="#5b28c8" d="M1697 120h24m-24 8h32m-40 8h40m-40 8h32m-24 8h8m-56 152h8"/><path stroke="#13a6b8" d="M1593 128h16m-8 8h8m-8 8h16m8 8h8m0 40h8m-8 24h8m-16 8h8m-48 24h24m-64 56h16m-24 8h8m-24 32h8m-16 8h8m-16 8h8m-16 16h8m-32 32h8m-16 8h8m-16 16h8m-8 8h8m-16 16h8m-32 16h16m-16 40h8m-8 8h8"/><path stroke="#13acad" d="M1577 136h16m-8 8h8m8 8h8m16 8h16m-8 16h8m-8 8h8m-16 32h8m-16 8h8m-48 24h8m-16 24h8m-8 8h8m-80 88h8m-40 40h8m-32 24h8m-8 8h8m-16 8h16m-24 8h24m-32 8h16m-16 8h8m-16 16h8m-8 8h8m-8 8h8m-8 8h8m-8 8h8"/><path stroke="#11aab3" d="M1593 136h8m-8 8h8m8 8h16m-16 88h8m-48 48h8m-16 8h8m-40 32h8m-48 56h8m-16 8h8m-16 8h8m-24 24h8m-16 8h8m-8 8h8m-8 8h8m-24 16h16m-32 16h8m-8 8h8m-8 8h8m-8 8h8m-8 8h8m-8 8h8"/><path stroke="#199bc7" d="M1625 136h8m0 8h8m0 40h8m-48 72h16m-72 56h8m-16 8h8m-16 16h8m-16 16h8m-16 8h8m-24 24h8m-32 40h8m-16 24h8m-8 8h8m-24 16h8m-16 8h8m-16 8h8m-8 8h8"/><path stroke="#1b97cc" d="M1633 136h8m0 16h8m-8 40h8m-64 64h16m-24 8h8m-8 32h8m-16 8h8m-24 8h8m-72 88h8m-16 16h8m-16 16h8m-8 8h8m-16 24h8m-16 8h8m-16 8h8m-16 8h8m-8 8h8m-8 8h8m-8 8h8"/><path stroke="#2090d4" d="M1641 136h8m-8 64h8m-8 8h8m-8 8h8m-64 48h16m-8 8h16m-24 16h8m-8 8h8m-16 8h8m-24 8h8m-40 32h8m-16 16h8m-16 8h8m-32 48h8m-16 16h8m-16 32h8m-16 8h8m-16 8h8m-16 8h8m-8 8h8m-8 8h8"/><path stroke="#2886df" d="M1649 136h8m-8 56h8m-24 40h8m-32 40h8m-24 32h8m-24 8h8m-24 8h8m-24 8h8m-24 24h8m-16 16h8m-16 8h8m-24 32h8m-16 24h8m-8 8h8m-8 8h8m-8 8h8m-16 16h8m-16 8h8m-16 8h8m-8 8h8m0 8h8m-24 8h24m-8 8h8"/><path stroke="#3774ee" d="M1657 136h8m0 24h8m-56 104h8m-48 72h8m-40 8h32m-72 88h8m-24 56h8"/><path stroke="#18ada8" d="M1561 144h8m8 0h8m8 8h8m8 8h16m8 8h8m-16 40h8m-16 8h8m-16 16h8m-24 8h8m-32 24h8m-32 32h16m-40 40h8m-16 8h8m-16 8h8m-32 32h8m-16 8h8m-16 8h8m-16 16h8m-32 16h8m-8 8h8m-16 8h8m-16 8h8m-16 16h8m-8 8h8m-8 48h16m-24 8h24m-24 8h24m-24 8h24m-24 8h16"/><path stroke="#1daea3" d="M1569 144h8m8 8h8m0 8h16m8 8h16m-48 72h8m8 0h8m-48 48h8m-32 16h8m-16 16h8m-48 56h8m-72 64h8m-16 8h8m-16 16h8m-16 24h8m-8 8h8m-8 8h8m-8 8h8m-8 8h8m-8 8h8"/><path stroke="#228dd8" d="M1641 144h8m0 16h8m-8 8h8m-8 8h8m-8 8h8m-16 40h8m-24 8h8m-48 40h8m-8 8h24m-40 32h8m-24 8h8m-24 8h8m-40 56h8m-32 56h8m-8 8h8m-8 8h8m-24 24h8m-16 8h8m-8 8h8m-8 8h8"/><path stroke="#2e80e6" d="M1649 144h8m0 16h8m-16 40h8m-40 56h8m-56 64h16m-56 40h8m-16 16h8m-32 48h8m-8 8h8m-8 8h8m-8 8h8m-8 8h8m-24 24h8m-16 8h8m-8 8h8m-16 8h8"/><path stroke="#3577ec" d="M1657 144h8m-8 48h8m-16 32h8m-32 16h8m-24 40h8m-32 48h8m-40 8h24m-56 48h8m-16 8h8m-16 32h8m-8 16h8m-8 8h8m-8 8h8m-16 8h8m-16 16h8"/><path stroke="#3d6cf3" d="M1665 144h8m-16 64h8m-16 24h8m-32 16h8m-48 88h8m-24 16h8m-16 8h8m-56 56h8m-8 8h8m-8 24h8m-24 24h8m-8 8h8m-24 16h8"/><path stroke="#4263f7" d="M1673 144h8m-24 80h8m-48 56h8m-40 64h8m-56 48h8m-16 8h8m-8 8h8m-16 16h8"/><path stroke="#7d20de" d="M1721 144h8m-24 8h24m-32 8h32m-32 8h32m-40 40h8m-16 48h8"/><path stroke="#22ae9e" d="M1545 152h40m16 16h16m8 8h8m-8 16h8m-8 8h8m-16 8h8m-16 8h8m-8 8h8m-48 32h8m-24 32h8m-56 56h8m-16 16h8m-32 24h8m-16 8h8m-16 16h8m-24 16h16m-32 8h8m-16 8h8m-16 16h8m-16 16h8m-8 8h8m-16 48h8"/><path stroke="#258adb" d="M1649 152h8m-40 96h8m-32 40h16m-16 8h8m-16 8h8m-96 96h8m-16 24h8m-16 40h8m-16 8h8"/><path stroke="#3b6ff2" d="M1665 152h8m-8 16h8m-64 120h8m-24 32h8m-24 24h8m-48 16h24m-40 32h8m-16 8h8m-8 8h8m-8 48h8m-16 8h8"/><path stroke="#4166f6" d="M1673 152h8m-8 16h8m-16 24h8m-56 80h8m-24 40h8m-16 16h8m-48 48h8m-24 8h16m-48 88h8"/><path stroke="#4653f9" d="M1681 152h8m-8 8h8m-16 40h8m-16 24h8m-32 24h8m-24 24h8m-48 80h8m-64 72h8m-16 16h8"/><path stroke="#5929c6" d="M1689 152h8m-40 136h8"/><path stroke="#2cb094" d="M1537 160h48m0 8h8m8 8h8m8 8h8m-16 16h8m-24 32h8m-24 8h8m-48 48h8m-48 64h8m-40 32h8m-16 16h8m-56 40h8m-16 8h8m-8 8h8m-16 8h8m-8 8h8m-8 8h8m-16 32h8m-8 8h8m-8 8h8m-8 8h16m-16 8h16m-8 8h8"/><path stroke="#27af99" d="M1585 160h8m0 8h8m8 8h16m0 8h8m-16 16h8m-16 8h8m-16 24h8m-48 48h8m-24 8h8m-16 8h8m-24 32h8m-16 8h8m-32 32h8m-16 8h8m-72 56h8m-16 16h8m-16 16h8m-16 24h8m-8 8h8m-8 8h8m-8 8h8m-8 8h8"/><path stroke="#3e6af4" d="M1673 160h8m-16 16h8m-8 8h8m-136 184h24m-32 24h8m-24 40h8m-8 8h8"/><path stroke="#512bc3" d="M1689 160h8m-8 16h8m-8 8h8m-32 80h8m-32 48h8"/><path stroke="#32b08f" d="M1513 168h72m8 8h8m8 8h8m0 8h8m-24 32h8m-24 8h8m-40 48h8m-32 32h8m-32 24h8m-32 32h8m-16 8h8m-48 48h8m-32 8h8m-16 8h8m-16 16h8m-16 16h8m-8 8h8m-8 8h8m-8 8h8m-8 8h8m-16 24h8"/><path stroke="#307de8" d="M1657 168h8m-8 8h8m-8 8h8m-16 24h8m-16 24h8m-48 64h8m-16 16h8m-16 8h8m-32 8h8m-24 8h8m-24 32h8m-24 16h8m-16 16h8m-24 64h8m-16 24h8"/><path stroke="#474ff9" d="M1681 168h8m-72 128h8m-48 72h8m-16 16h8m-56 80h8"/><path stroke="#4f2bc1" d="M1689 168h8m-48 128h8"/><path stroke="#3eb184" d="M1497 176h24m32 0h32m-72 8h8m72 0h8m0 8h8m-8 8h8m-72 80h8m-24 40h8m-48 40h8m-16 8h8m-24 16h8m-16 24h8m-16 8h8m-56 16h8m-16 16h8m-16 16h8m-8 8h8m-8 8h8m-8 8h8m-16 24h8m-8 8h8m-8 8h8"/><path stroke="#38b18a" d="M1521 176h32m32 0h8m8 8h8m0 8h8m-16 16h8m-8 8h8m-40 32h8m-16 16h8m-8 8h8m-24 8h8m-40 48h8m-24 16h8m-16 16h8m-32 16h8m-16 16h8m-16 24h8m-32 8h8m-32 8h8m-16 8h8m-8 8h8m-16 8h8m-8 8h8m-16 32h8m-8 8h8m-8 8h8m-8 8h8m-16 16h8"/><path stroke="#484bfa" d="M1681 176h8m-16 32h8m-48 48h8m-32 56h8m-56 80h8m-16 8h8m-16 8h8m-16 8h8m-16 16h8m-16 16h8m-8 8h8"/><path stroke="#9120e8" d="M1697 176h32m-32 8h32m-32 8h32m-32 8h32m-32 8h32m-32 8h32m-40 8h40m-40 8h40m-40 24h24"/><path stroke="#45b27f" d="M1489 184h24m8 0h56m8 0h8m0 8h8m-8 8h8m-8 8h8m-8 8h8m-8 8h8m-24 8h8m-32 40h8m-32 32h8m-32 24h8m-16 8h8m-16 16h8m-32 16h8m-64 56h16m-40 16h8m-16 16h8m-16 40h8m-8 8h8m-16 16h8m-8 8h8m-8 8h8m8 0h8m-32 8h32m-32 8h40m-40 8h48m-48 8h48"/><path stroke="#4db47b" d="M1577 184h8m-88 8h64m24 0h8m-8 8h8m-8 8h8m-8 8h8m-8 8h8m-32 32h8m-24 16h8m-40 48h8m-24 8h8m-32 32h8m-24 16h8m-16 24h8m-72 32h8m-16 16h8m-16 8h8m-8 8h8m-8 8h8m-8 8h8m-8 8h8m-16 16h8m-8 8h8m-16 8h8m-8 8h8m-8 8h8"/><path stroke="#455af8" d="M1673 184h8m-16 24h8m-16 24h8m-16 8h8m-40 48h8m-24 32h8m-96 152h8"/><path stroke="#4848f9" d="M1681 184h8m-16 32h8m-24 24h8m-40 40h8m-32 48h8"/><path stroke="#56b676" d="M1481 192h16m64 0h24m-56 8h40m8 0h8m-8 8h8m-8 8h8m-8 8h8m-16 16h8m-24 24h8m-24 8h8m-24 40h8m-40 32h8m-16 8h8m-56 64h8m-40 8h8m-32 16h8m-16 8h8m-16 16h8m-8 8h8m-8 8h8m-8 8h8m-8 8h8m-16 16h8m-16 24h8"/><path stroke="#4656f9" d="M1673 192h8m-16 24h8m-48 48h8m-40 72h8m-32 40h8m-16 8h8m-16 8h8m-16 8h8m-16 8h8m-24 72h8m-16 8h16m-16 8h16m-8 8h8"/><path stroke="#6524cf" d="M1689 192h8m-24 72h8m-16 16h8m-16 16h8"/><path stroke="#63b96f" d="M1473 200h8m48 8h8m8 8h8m8 0h8m-8 8h8m-16 24h8m-8 8h8m-72 80h8m-56 72h8m-96 56h8m-8 8h8m-8 8h8m-16 32h8m-16 24h8m-16 8h24m-24 8h24m-24 8h24m-24 8h24"/><path stroke="#60b870" d="M1481 200h40m32 8h16m-8 24h8m-8 8h8m-24 24h8m-56 56h8m-24 24h8m-16 8h8m-24 16h8m-72 56h8m-32 16h8m-24 56h8"/><path stroke="#5eb871" d="M1521 200h8m40 0h8m-40 8h16m16 0h8m-8 8h8m-8 8h8m-8 8h8m-16 16h8m-40 48h8m-32 24h8m-48 40h8m-96 72h8m-24 24h8m-16 48h8m-16 16h8m-8 8h8"/><path stroke="#3972f0" d="M1657 200h8m-32 40h8m-40 64h8m-72 48h32m-40 32h8"/><path stroke="#4747f4" d="M1681 200h8m-16 24h8m-56 64h8m-56 88h8m-40 40h8m-16 8h8m-16 16h8"/><path stroke="#7820dc" d="M1689 200h8m-16 48h8"/><path stroke="#6dbb69" d="M1465 208h8m56 8h8m8 8h8m-8 16h8m-16 24h8m-16 16h8m-16 24h8m-48 32h8m-40 48h8m-40 32h8m-80 64h8"/><path stroke="#70bc68" d="M1473 208h48m24 24h8m-64 96h8m-24 8h8m-72 80h8m-56 24h8m-24 24h8m-8 8h8m-8 16h8m-16 16h8"/><path stroke="#68ba6c" d="M1521 208h8m8 8h8m8 8h8m-8 8h8m-48 80h8m-48 32h8m-128 112h8m-16 48h8"/><path stroke="#4646f1" d="M1681 208h8m-56 56h8m-24 40h8m-56 88h8m-56 80h8"/><path stroke="#7fc361" d="M1465 216h8m40 0h8m16 24h8m-8 8h8m-24 48h8m-40 24h8m-24 8h8m-16 8h8m-16 16h8m-32 56h8m-72 16h8m-40 40h8m-8 8h8m-8 8h8"/><path stroke="#82c55e" d="M1473 216h8m48 16h8m-88 144h8m-96 56h8m-40 64h8m-16 24h8"/><path stroke="#86c75b" d="M1481 216h8m8 0h16m8 8h8m0 16h8m-8 24h8m-24 40h8m-56 24h8m-16 16h8m-112 96h8m-16 8h8m-32 64h8m-8 16h8"/><path stroke="#8ac959" d="M1489 216h8m24 16h8m-8 56h8m-48 32h8m-40 48h8m-16 32h8m-56 16h8m-64 40h8m-16 24h8m-8 8h8m-16 48h8"/><path stroke="#77c064" d="M1521 216h8m0 56h8m-40 40h8m-152 136h8m-16 8h8m-16 40h8m-16 16h8"/><path stroke="#65b96d" d="M1553 216h8m-8 24h8m-32 48h8m-112 128h8m-72 32h8m-16 40h8m-24 32h8m-8 8h8"/><path stroke="#4068f5" d="M1657 216h8m-24 24h8m-40 56h8m-40 56h8m-16 8h8m-16 8h8m-32 8h16m-32 24h8m-8 8h8m-8 8h8m-16 48h8"/><path stroke="#383ac2" d="M1681 216h8m-32 40h8m-16 16h8m-24 32h8m-56 88h8"/><path stroke="#8720e4" d="M1689 216h8m-16 48h8m-16 16h8"/><path stroke="#8ecb56" d="M1457 224h8m48 0h8m8 24h8m-64 72h8m-24 16h8m-16 24h8m-16 32h8m-128 112h8"/><path stroke="#92cc53" d="M1465 224h8m48 16h8m0 16h8m-16 24h8m-24 24h8m-24 8h8m-32 8h8m-144 152h8m-16 24h8m-16 24h8"/><path stroke="#96cc52" d="M1473 224h8m24 0h8m0 8h8m0 16h8m-32 56h8m-56 48h8m-16 32h8m-88 40h8m-56 104h8m-8 16h16m-16 8h16m-16 8h16m-16 8h16"/><path stroke="#9bcc50" d="M1481 224h8m24 16h8m0 16h8m-8 16h8m-16 24h8m-40 16h8m-32 16h8m-24 48h8m-64 40h8m-40 16h8m-48 80h8m-8 24h8"/><path stroke="#9fcc4e" d="M1489 224h8m-40 8h32m16 0h8m0 16h8m0 16h8m-16 24h8m-48 24h8m-32 32h8m-16 24h8m-24 40h8m-64 8h16m-40 24h8m-32 48h8m-16 16h8"/><path stroke="#a4cc4c" d="M1497 224h8m-16 8h8m-24 8h16m16 0h8m0 16h8m-8 16h8m-8 8h8m-16 16h8m-24 8h8m-32 8h8m-16 8h8"/><path stroke="#7bc262" d="M1529 224h8m0 8h8m-8 24h8m-64 72h8m-88 88h8m-72 72h8m-16 16h8"/><path stroke="#74be66" d="M1537 224h8m-40 88h8m-48 32h8m-96 80h8m-56 96h8m-8 8h8m-8 8h8"/><path stroke="#5e27ca" d="M1681 224h8"/><path stroke="#a8ca4a" d="M1497 232h8m-48 8h16m16 0h8m-16 8h8m16 0h8m0 16h8m-16 16h8m-8 8h8m-16 8h8m-24 8h8m-40 32h8m-16 24h8m-32 48h8m-88 40h8m-40 72h8m-8 8h8m-8 8h8"/><path stroke="#4545ee" d="M1665 232h8m-24 16h8m-48 72h8m-16 16h8m-48 72h8m-16 8h8m-16 8h8m-16 8h8m-16 16h8"/><path stroke="#3c3ece" d="M1673 232h8m-56 80h8m-56 88h8"/><path stroke="#6823d2" d="M1681 232h8"/><path stroke="#abc848" d="M1449 240h8m40 0h8m-32 8h8m8 0h16m0 24h8m-16 16h8m-16 8h8m-56 56h8m-40 56h8m-88 56h8m-24 32h8"/><path stroke="#1d93d1" d="M1617 240h8m-24 24h16m-40 8h8m-8 8h8m-8 8h8m-40 32h8m-48 56h8m-16 16h8m-16 16h8m-16 16h8m-16 24h8m-8 8h8m-32 56h8"/><path stroke="#3e3fd4" d="M1665 240h8m-72 112h8m-56 88h8m-24 24h8"/><path stroke="#3c31b6" d="M1673 240h8m-16 16h8m-16 16h8m-24 32h8"/><path stroke="#6b22d4" d="M1681 240h8"/><path stroke="#9420ea" d="M1689 240h40m-40 8h40m-16 8h8m-32 8h32m-40 8h40m-40 8h40m-48 8h48"/><path stroke="#b3c545" d="M1441 248h16m8 8h16m0 8h16m-16 8h8m-8 8h8m-8 8h8m-24 16h8m-24 24h8m-24 48h8m-8 8h8m-8 8h8m-8 8h8m-40 8h8m-48 8h8"/><path stroke="#afc646" d="M1457 248h16m8 8h32m-16 8h16m-24 8h16m-16 8h16m-16 8h8m-16 8h8m-16 8h8m-24 8h8m-160 200h8"/><path stroke="#6bbb6b" d="M1545 248h8m-8 8h8m-88 96h8m-16 8h8m-80 64h8m-24 8h8m-32 64h8m-16 16h8"/><path stroke="#445ef8" d="M1633 248h8m-32 56h8m-72 88h8m-16 8h8m-16 16h8m-16 16h8m-24 48h8m-16 8h8"/><path stroke="#4141de" d="M1657 248h8m-24 16h8m-56 96h8m-56 80h8"/><path stroke="#3b3dcc" d="M1665 248h8m-56 80h8"/><path stroke="#422fba" d="M1673 248h8"/><path stroke="#bebf42" d="M1433 256h8m0 8h16m-16 8h16m-16 8h16m-8 8h16m-16 8h16m-24 40h8m-16 24h8m-48 48h8m-64 32h8"/><path stroke="#bac142" d="M1441 256h8m8 8h8m-8 8h16m-16 8h16m-8 8h8m-8 8h8m-24 24h8m-112 112h8m-40 56h8m-16 16h8m-16 16h8"/><path stroke="#b6c343" d="M1449 256h16m0 8h16m-8 8h8m-8 8h8m-8 8h8m-8 8h8m-24 8h8m-24 40h8m-16 24h8m-88 56h8m-40 56h8m-32 48h8m-8 8h8m-16 8h24m-24 8h24m-24 8h24m-24 8h24"/><path stroke="#4545eb" d="M1641 256h8m-16 16h8m-48 80h8"/><path stroke="#4040d9" d="M1649 256h8m-16 16h8m-32 48h8m-56 88h8m-32 40h8m-16 8h8m-16 24h8m-8 8h8m-8 8h8m-8 8h8m-8 8h8m-8 8h8"/><path stroke="#542ac4" d="M1673 256h8"/><path stroke="#c5bc3f" d="M1417 264h8m-8 8h16m-8 8h8m0 8h8m-8 8h8m0 8h8m-8 8h8m-8 16h8m-72 80h16m-88 88h8m-24 40h8"/><path stroke="#c2bd41" d="M1425 264h16m-8 8h8m-8 8h8m0 8h8m-8 8h8m0 8h8m-8 8h8m-24 40h8m-112 104h8m-40 56h8"/><path stroke="#3a3cc9" d="M1649 264h8m-48 80h8m-16 16h8m-48 72h8m-16 16h8"/><path stroke="#3633b1" d="M1657 264h8m-40 64h8"/><path stroke="#c8bb3e" d="M1409 272h8m-16 8h24m-8 8h16m-8 8h8m0 8h8m-8 8h8m0 8h8m-16 24h8m-80 64h16m-80 96h8m-16 24h8"/><path stroke="#5629c5" d="M1665 272h8"/><path stroke="#6e21d7" d="M1673 272h8"/><path stroke="#4343e5" d="M1633 280h8m-16 16h8m-56 88h8m-32 40h8m-16 8h8m-16 8h8m-16 16h8"/><path stroke="#3d3ed1" d="M1641 280h8m-16 16h8m-48 72h8m-16 16h8m-48 72h8"/><path stroke="#3536b5" d="M1649 280h8"/><path stroke="#4c2cc0" d="M1657 280h8"/><path stroke="#cfb93b" d="M1385 288h8m-8 8h16m-8 8h24m-8 8h16m-8 8h16m-8 8h8m0 8h8m-96 88h8m-40 56h8"/><path stroke="#cbba3c" d="M1393 288h24m-16 8h24m-8 8h16m-8 8h8m0 8h8m-8 8h8m-88 88h8m-40 56h8m-24 16h8m-24 32h8"/><path stroke="#4141db" d="M1633 288h8m-16 16h8m-48 72h8m-16 16h8m-56 80h8"/><path stroke="#393bc6" d="M1641 288h8m-56 88h8m-40 72h16m-24 8h24m-32 8h32m-40 8h40m-40 8h40m-40 8h40m-40 8h40m-40 8h40m-40 8h40m-40 8h40"/><path stroke="#3a32b4" d="M1649 288h8"/><path stroke="#7320d9" d="M1665 288h8"/><path stroke="#d2b939" d="M1377 296h8m-8 8h16m-8 8h24m-8 8h16m0 8h8m-8 8h16m-8 8h8m-104 104h8m-40 48h8m-16 16h8m-16 24h8"/><path stroke="#3434b1" d="M1641 296h8m-16 16h8"/><path stroke="#d5b838" d="M1369 304h8m-8 8h16m0 8h16m0 8h16m-8 8h8m0 8h8m0 8h8m-8 8h8m-8 8h8m-8 8h8m-8 8h8m-8 8h8m-8 8h8m-96 32h8m-40 48h8m-32 48h8m-24 16h24m-24 8h24m-24 8h24m-24 8h24"/><path stroke="#d7b636" d="M1361 312h8m-8 8h24m-8 8h24m-8 8h16m-8 8h16m-8 8h16m-8 8h8m-8 8h8m-8 8h8m-8 8h8m-8 8h8m-8 8h8m-128 88h8m-16 16h8m-16 16h8m-24 16h16m-40 8h24m-24 8h24m-24 8h24m-24 8h24"/><path stroke="#2b83e2" d="M1585 312h8m-40 16h8m-24 8h8m-40 56h8m-16 24h8"/><path stroke="#4343e3" d="M1617 312h8m-16 16h8m-48 72h8m-16 16h8"/><path stroke="#d9b535" d="M1353 320h8m0 8h16m-8 8h24m-8 8h16m-8 8h16m-8 8h16m-8 8h8m-144 160h8m-32 8h16"/><path stroke="#3738bd" d="M1625 320h8m-16 16h8"/><path stroke="#3e31b7" d="M1633 320h8"/><path stroke="#dbb434" d="M1345 328h16m-8 8h16m0 8h16m-8 8h16m0 8h8m-8 8h16m-8 8h16m-8 8h8m-8 8h8m-8 8h8m-64 8h8m-40 56h8m-24 8h16m-24 8h8m-16 16h8m-16 16h8m-16 8h8"/><path stroke="#ddb232" d="M1329 336h24m-16 8h32m-16 8h24m-16 8h32m-24 8h24m-8 8h16m0 8h8m-8 8h8m-8 8h8m-64 16h8m-24 24h8m-80 88h16m-32 8h8"/><path stroke="#3f40d6" d="M1609 336h8"/><path stroke="#dfb131" d="M1313 344h24m-16 8h32m-16 8h24m-16 8h24m-16 8h32m-24 8h40m-16 8h16m-104 80h8m-16 16h8m-16 16h8m-16 8h8m-16 8h8m-24 8h8m-24 8h8m-24 8h24m-24 8h24m-24 8h24m-24 8h24"/><path stroke="#4242e0" d="M1601 344h8m-56 88h8m-24 16h8m-16 16h8"/><path stroke="#e1b030" d="M1305 352h16m-8 8h24m-16 8h24m-24 8h32m-32 8h40m-40 8h64m-64 8h80m-64 24h8m-40 40h16m-40 32h8m-16 8h8m-16 8h8m-16 8h8m-32 8h16m-24 8h8"/><path stroke="#3637b9" d="M1609 352h8m-56 88h8"/><path stroke="#e5b030" d="M1297 360h16m-16 8h24m-24 8h24m-16 8h16m-16 8h16m-16 8h16m-8 8h40m-32 8h24m-24 8h16m-8 8h8m-16 8h8m-8 8h8m-16 8h16m-32 8h8m-16 16h8m-16 8h8m-16 8h8m-16 8h8m-16 8h8m-24 8h16m-40 8h16m-16 8h8"/><path stroke="#e9b030" d="M1289 368h8m-16 8h16m-8 8h16m-8 8h8m-8 8h8m0 8h8m-8 8h16m-8 8h8m-8 8h16m-16 8h8m-16 8h16m-16 8h8m-32 16h16m-24 8h16m-24 8h16m-16 8h8m-16 8h8m-16 8h8m-32 8h16m-32 16h8"/><path stroke="#4444e8" d="M1585 368h8"/><path stroke="#edb030" d="M1281 384h8m-16 8h24m-16 8h16m-16 8h24m-16 8h16m-8 8h16m-8 8h8m-16 8h16m-32 8h24m-16 8h16m-24 8h16m-32 8h16m-24 8h16m-16 8h8m-8 8h8m-16 8h8m-32 8h24m-40 8h16m-16 8h8m-16 8h8"/><path stroke="#efee8c" d="M825 392h24m-208 8h8m64 0h16m40 0h32m-80 8h24m-64 8h24m-56 8h24m-64 8h24m-56 8h24m-40 8h16m-48 8h32m-48 8h8m-16 8h8m-16 8h8m-24 8h16m-24 8h8m-8 8h8m-16 16h8m-8 8h16m-16 8h16m-16 8h16m-16 8h16"/><path stroke="#f1ee80" d="M849 392h16m-64 8h24m-80 8h24m-64 8h16m-48 8h16m-56 8h32m-64 8h32m-56 8h24m-40 8h16m-56 8h8m16 0h16m-48 8h8m-16 8h8m-16 8h8m-24 8h8m-16 16h8m-8 8h8"/><path stroke="#f3f076" d="M865 392h24m-64 8h32m-88 8h32m-80 8h32m-64 8h24m-48 8h24m-56 8h24m-56 8h32m-56 8h16m24 0h8m-96 8h16m16 0h16m-24 8h16m-56 8h8m-16 8h8m-24 8h8m-16 8h8m-8 8h8"/><path stroke="#f7f458" d="M889 392h32m-64 8h24m-80 8h32m-80 8h24m-64 8h16m-40 8h24m-56 8h24m-48 8h16m-56 8h24m8 0h8m-56 8h16m24 0h8m-104 8h32m16 0h8m-40 8h40m-80 16h8m-16 8h8m-8 8h8m-16 8h8m-8 8h8m-8 8h8m-8 8h8m-8 8h8"/><path stroke="#fcfa28" d="M921 392h16m-56 8h32m-80 8h40m-96 8h72m-120 8h80m-96 8h32m-64 8h32m-64 8h40m-56 8h32m-72 8h24m8 0h32m-80 8h16m16 0h16m-104 8h16m40 0h8m-72 8h72m-80 8h16m32 0h32m-88 8h8m-8 8h8m-16 8h8m24 8h32m-32 8h32m-32 8h32m-32 8h32"/><path stroke="#5db772" d="M1449 392h8"/><path stroke="#e8e8e1" d="M545 400h8m0 0h24m0 0h48m24 0h32m56 0h8m-240 8h56m0 0h16m0 0h40m8 0h24m0 0h32m-192 8h72m0 0h24m0 0h24m0 0h24m0 0h24m-192 8h96m0 0h16m0 0h16m0 0h24m-168 8h120m0 0h16m-152 8h16m0 0h96m0 0h16m-144 8h40m0 0h64m0 0h16m-128 8h48m0 0h48m0 0h16m-128 8h24m0 0h48m0 0h16m0 0h8m0 0h8m0 0h8m-120 8h40m0 0h40m0 0h16m0 0h16m-128 8h56m0 0h32m0 0h16m0 0h8m-112 8h64m0 0h16m0 0h16m0 0h8m-104 8h64m0 0h16m0 0h8m0 0h8m-96 8h56m0 0h16m0 0h16m0 0h8m-96 8h48m0 0h24m0 0h8m0 0h8m-88 8h40m0 0h24m0 0h16m0 0h8m-88 8h48m0 0h32m0 0h16m-96 8h48m0 0h32m0 0h16m-96 8h48m0 0h32m0 0h16m-96 8h48m0 0h32m0 0h16"/><path stroke="#edec96" d="M625 400h16m40 0h32m16 0h8m8 0h24m-152 8h8m56 0h40m-64 8h24m-64 8h32m-64 8h24m-48 8h16m-40 8h24m-40 8h8m-24 8h8m-16 8h8m-24 8h16m-24 8h8m-16 8h8m-8 8h8m-16 8h16m-16 8h8"/><path stroke="#fffd10" d="M913 400h72m-112 8h72m-96 8h48m-88 8h64m-128 8h88m-120 8h72m-96 8h72m-96 8h56m-64 8h32m-96 8h16m16 0h64m-104 8h104m-104 8h104m-168 8h32m32 0h88m-168 8h128m8 0h16m-152 8h128m-136 8h88m-96 8h32m32 0h24m-88 8h32m32 0h24m-88 8h32m32 0h24m-88 8h32m32 0h24"/><path stroke="#f1b130" d="M1265 400h16m-24 8h24m-32 8h40m-40 8h48m-48 8h56m-56 8h48m-40 8h24m-24 8h32m-32 8h24m-32 8h16m-16 8h8m-8 8h8m-8 8h8m-24 8h16m-40 8h16m-24 16h8m-16 8h8m-24 8h40m-40 8h40m-40 8h40m-40 8h40"/><path stroke="#fffc10" d="M945 408h64m-112 8h104m-128 8h80m-120 8h64m-112 8h64m-88 8h64m-104 8h80m-112 8h96m-96 8h64m-64 8h64m-64 8h56m-72 8h56m-96 8h8m16 0h48m-72 8h56m-104 8h88m-96 8h96m-96 8h96m-96 8h96m-96 8h96m-48 8h48"/><path stroke="#fffb11" d="M1001 416h16m-64 8h56m-112 8h104m-152 8h104m-128 8h96m-120 8h96m-112 8h88m-120 8h80m-80 8h56m-64 8h48m-64 8h56m-80 8h56m-72 8h40m-56 8h24"/><path stroke="#fffa11" d="M1017 416h16m-24 8h16m-24 8h16m-64 8h56m-88 8h72m-96 8h64m-88 8h64m-104 8h80m-104 8h40m-56 8h40m-48 8h40m-64 8h40m-72 8h40m-72 8h40m-64 16h80m-80 8h80m-80 8h80m-80 8h80"/><path stroke="#fff811" d="M1025 424h16m-24 8h16m-24 8h16m-32 8h8m-40 8h32m-56 8h32m-56 8h32m-96 8h64m-80 8h40m-48 8h32m-56 8h32m-64 8h40m-72 8h40"/><path stroke="#fff712" d="M1041 424h8m-16 8h16m-24 8h16m-40 8h16m-24 8h16m-40 8h32m-56 8h32m-64 8h40m-80 8h48m-64 8h32m-56 8h32m-56 8h32m-64 8h32"/><path stroke="#f4b430" d="M1241 424h8m-16 8h16m-16 8h16m-8 8h16m-16 8h16m-16 8h16m-24 8h16m-16 8h16m-16 8h16m-24 8h24m-32 8h16m-32 8h8m-8 8h8m-16 8h8m-16 8h8"/><path stroke="#fff612" d="M1049 432h16m-24 8h16m-40 8h16m-32 16h8m-32 8h24m-48 8h24m-56 8h32m-64 8h32m-56 8h40m-64 8h32m-64 8h32m-80 8h48m-56 8h96m-96 8h96m-96 8h96m-96 8h96"/><path stroke="#f7b730" d="M1225 432h8m-16 8h16m-8 8h16m-16 8h16m-16 8h16m-24 8h16m-16 8h16m-24 8h24m-24 8h16m-24 8h16m-24 8h8m-16 8h16m-16 8h8m-16 8h8"/><path stroke="#fff412" d="M1057 440h16m-40 8h16m-40 8h16m-16 8h8m-16 8h8m-32 8h16m-40 8h16m-48 8h24m-40 8h16m-48 8h32m-64 8h40m-144 8h24m48 0h40"/><path stroke="#fff313" d="M1073 440h8m-32 8h16m-40 8h16m-32 16h8m-24 8h16m-40 8h24m-48 8h16m-40 8h24m-40 8h24m-48 8h32m-192 8h16m112 0h40"/><path stroke="#fff213" d="M1065 448h8m-32 8h8m-32 8h8m-32 24h8m-40 8h16m-32 8h8m-24 8h8m-24 8h8m-208 8h8m168 0h16"/><path stroke="#fff113" d="M1073 448h32m-56 8h48m-72 8h40m-48 8h24m-32 8h16m-24 8h16m-40 8h32m-56 8h40m-56 8h40m-56 8h40m-288 8h40m192 0h32m-88 8h104m-104 8h104m-104 8h104m-104 8h104"/><path stroke="#ffec15" d="M1105 448h8m-16 8h8m-40 8h40m-64 8h56m-72 8h48m-56 8h24m-32 8h24m-40 8h32m-48 8h32m-48 8h40m-64 8h40"/><path stroke="#f9bb2f" d="M1201 448h24m-24 8h24m-24 8h24m-24 8h16m-16 8h16m-24 8h16m-16 8h16m-16 8h8m-16 8h8m-16 8h8m-16 8h16m-16 8h8"/><path stroke="#ffe718" d="M1105 456h8m-8 8h8m-16 8h8m-32 8h24m-56 8h40m-48 8h32m-40 8h24m-40 8h24m-32 8h24m-48 8h32m-56 8h40m-40 8h72m-72 8h72m-72 8h72m-16 8h16"/><path stroke="#ffe21a" d="M1113 456h8m-8 8h8m-16 8h8m-16 8h16m-32 8h16m-32 8h8m-24 8h16m-32 8h24m-32 8h24m-40 8h24"/><path stroke="#ffdd1d" d="M1121 456h8m-8 8h8m-16 8h8m-8 8h8m-24 8h8m-32 8h16m-24 8h16m-24 8h16m-24 8h16m-32 8h24"/><path stroke="#ffd820" d="M1129 456h8m-8 8h8m-16 8h8m-8 8h8m-24 8h16m-32 8h16m-24 8h16m-24 8h16m-24 8h16m-24 8h16m-48 16h48m-48 8h48m-48 8h48m-48 8h48"/><path stroke="#ffd523" d="M1137 456h8m-8 8h8m-16 8h8m-8 8h8m-16 8h8m-24 8h16m-24 8h8m-16 8h16m-24 8h16m-24 8h16m-72 8h64"/><path stroke="#ffd226" d="M1145 456h8m-16 16h8m-8 8h8m-16 8h8m-16 8h8m-24 8h16m-16 8h8m-16 8h8m-16 8h16m-112 8h24m64 0h16"/><path stroke="#ffce28" d="M1153 456h8m-16 8h16m-16 8h8m-8 8h8m-16 8h8m-16 8h16m-24 8h8m-16 8h16m-24 8h16m-16 8h8m-16 8h8m-32 8h48m-48 8h48m-48 8h48m-48 8h48"/><path stroke="#ffcb2b" d="M1161 456h16m-16 8h8m-16 8h16m-16 8h8m-16 8h16m-16 8h8m-24 8h16m-16 8h8m-16 8h16m-24 8h16m-24 8h16"/><path stroke="#fec72d" d="M1177 456h8m-16 8h8m-8 8h8m-16 8h16m-16 8h8m-16 8h16m-24 8h16m-24 8h16m-16 8h16m-24 8h16m-24 8h16"/><path stroke="#fcc32e" d="M1185 456h8m-16 8h16m-16 8h16m-16 8h8m-16 8h16m-16 8h8m-16 8h16m-24 8h16m-16 8h16m-24 8h16m-24 8h16m-32 8h56m-56 8h56m-56 8h56m-56 8h56"/><path stroke="#fbbf2e" d="M1193 456h8m-8 8h8m-8 8h8m-16 8h16m-16 8h8m-16 8h16m-16 8h16m-24 8h16m-16 8h8m-16 8h8m-16 8h16"/></g></g><g stroke-width="3.4" stroke-linecap="round" fill="none"></g><g stroke-width="3.4" stroke-linecap="round" fill="none"><path stroke="#b6c343" d="M1437 509h0M1447 511h0M1453 520h0"/><path stroke="#bac142" d="M1438 507h0"/><path stroke="#b3c545" d="M1441 517h0"/><path stroke="#a4cc4c" d="M1442 515h0M1445 510h0"/><path stroke="#a8ca4a" d="M1447 510h0"/><path stroke="#96cc52" d="M1450 513h0"/><path stroke="#92cc53" d="M1454 522h0M1461 530h0"/><path stroke="#9fcc4e" d="M1456 521h0"/><path stroke="#9bcc50" d="M1458 530h0"/><path stroke="#8ac959" d="M1463 528h0M1482 540h0"/><path stroke="#77c064" d="M1464 529h0M1468 541h0M1470 533h0M1477 533h0"/><path stroke="#82c55e" d="M1466 534h0M1475 541h0"/><path stroke="#7fc361" d="M1473 536h0"/><path stroke="#7bc262" d="M1478 533h0"/><path stroke="#86c75b" d="M1482 542h0"/><path stroke="#65b96d" d="M1485 538h0"/><path stroke="#70bc68" d="M1488 537h0"/><path stroke="#6bbb6b" d="M1489 546h0"/><path stroke="#63b96f" d="M1491 542h0"/><path stroke="#5db772" d="M1493 535h0"/><path stroke="#56b676" d="M1495 546h0M1497 545h0"/><path stroke="#45b27f" d="M1500 542h0M1505 554h0"/><path stroke="#5eb871" d="M1500 544h0"/><path stroke="#4db47b" d="M1501 542h0"/><path stroke="#38b18a" d="M1507 545h0M1511 541h0"/><path stroke="#32b08f" d="M1509 544h0M1513 541h0M1519 552h0"/><path stroke="#2cb094" d="M1514 551h0M1517 544h0"/><path stroke="#27af99" d="M1518 542h0"/><path stroke="#1daea3" d="M1524 545h0M1531 550h0"/><path stroke="#18ada8" d="M1525 542h0M1537 550h0"/><path stroke="#22ae9e" d="M1528 549h0"/><path stroke="#13acad" d="M1529 546h0M1535 556h0M1539 550h0"/><path stroke="#11aab3" d="M1533 545h0M1543 550h0M1547 549h0M1550 554h0"/><path stroke="#15a2bd" d="M1540 550h0M1555 555h0M1559 554h0"/><path stroke="#13a6b8" d="M1547 549h0M1552 552h0"/><path stroke="#179fc2" d="M1553 551h0M1557 553h0M1563 556h0M1569 559h0"/><path stroke="#199bc7" d="M1563 551h0M1566 555h0M1575 559h0M1574 558h0M1578 558h0"/><path stroke="#1b97cc" d="M1568 557h0"/><path stroke="#1d93d1" d="M1572 557h0M1582 556h0"/><path stroke="#2090d4" d="M1578 557h0M1583 556h0"/><path stroke="#258adb" d="M1585 557h0"/><path stroke="#2886df" d="M1588 556h0"/><path stroke="#2e80e6" d="M1589 557h0"/><path stroke="#307de8" d="M1591 558h0M1596 559h0"/><path stroke="#3577ec" d="M1596 557h0M1598 560h0"/><path stroke="#3972f0" d="M1600 559h0M1602 557h0M1607 561h0"/><path stroke="#3774ee" d="M1602 558h0"/><path stroke="#3d6cf3" d="M1607 562h0M1610 561h0M1613 562h0"/><path stroke="#3e6af4" d="M1613 562h0M1617 561h0"/><path stroke="#4263f7" d="M1618 561h0"/><path stroke="#4166f6" d="M1621 562h0M1622 560h0"/><path stroke="#4068f5" d="M1624 563h0M1630 563h0"/><path stroke="#4361f8" d="M1626 563h0"/><path stroke="#445ef8" d="M1628 563h0M1633 565h0M1635 564h0M1636 564h0M1639 565h0"/><path stroke="#4653f9" d="M1640 564h0M1643 565h0M1649 564h0M1650 566h0"/><path stroke="#455af8" d="M1643 565h0"/><path stroke="#4656f9" d="M1646 565h0"/></g><path d="M72.8 643.0L73.2 637.2 73.6 631.5 74.0 625.8 74.4 620.0 74.9 614.3 75.5 608.5 76.0 602.8 76.6 597.0 77.2 591.3 77.9 585.5 78.6 579.8 79.3 574.1 80.1 568.3 80.9 562.6 81.7 556.8 82.5 551.1 83.4 545.3 84.4 539.6 85.3 533.8 86.3 528.1 87.3 522.3 88.4 516.6 89.5 510.9 90.6 505.1 91.7 499.4 92.9 493.6 94.1 487.9 95.4 482.1 96.6 476.4 98.0 470.6 99.3 464.9 100.7 459.1 102.1 453.4 103.5 447.7 105.0 441.9 106.5 436.2 108.1 430.4 109.6 424.7 111.2 418.9 112.9 413.2 114.5 407.4 116.2 401.7 118.0 396.0 119.7 390.2 121.5 384.5 123.3 378.7 125.2 373.0 127.1 367.2 128.6 362.6M146.0 314.2L147.7 309.8 150.0 304.0 152.2 298.3 154.5 292.5 156.9 286.8 159.2 281.1 161.6 275.3 164.0 269.6 166.5 263.8 169.0 258.1 171.5 252.3 174.1 246.6 176.6 240.8 179.2 235.1 181.9 229.3 184.6 223.6 187.3 217.9 190.0 212.1 192.8 206.4 195.6 200.6 198.4 194.9 201.3 189.1 204.1 183.4 207.1 177.6 210.0 171.9 213.0 166.2 216.0 160.4 219.0 154.7 222.1 148.9 225.2 143.2 228.4 137.4 231.5 131.7 234.7 125.9 237.9 120.2 241.2 114.4 244.5 108.7 247.8 103.0 251.2 97.2 254.5 91.5 257.9 85.7 261.4 80.0 264.8 74.2 268.3 68.5 271.9 62.7 275.4 57.0 279.0 51.3 282.6 45.5M512.7 643.0L513.2 637.2 513.7 631.5 514.2 625.8 514.8 620.0 515.4 614.3 516.0 608.5 516.6 602.8 517.3 597.0 518.0 591.3 518.8 585.5 519.6 579.8 520.4 574.1 521.2 568.3 522.1 562.6 523.0 556.8 524.0 551.1 525.0 545.3 526.0 539.6 527.0 533.8 528.1 528.1 529.2 522.3 530.4 516.6 531.6 510.9 532.8 505.1 534.0 499.4 535.3 493.6 536.6 487.9 537.9 482.1 539.3 476.4 540.7 470.6 542.1 464.9 543.6 459.1 545.1 453.4 546.6 447.7 548.2 441.9 549.8 436.2 551.4 430.4 553.1 424.7 554.8 418.9 556.5 413.2 558.3 407.4 560.1 401.7 561.9 396.0 563.7 390.2 565.6 384.5 567.5 378.7 569.5 373.0 571.5 367.2 573.5 361.5 575.5 355.7 577.6 350.0 579.7 344.2 581.8 338.5 584.0 332.8 586.2 327.0 588.4 321.3 590.7 315.5 593.0 309.8 595.3 304.0 597.6 298.3 600.0 292.5 602.5 286.8 604.9 281.1 607.4 275.3 609.9 269.6 612.4 263.8 615.0 258.1 617.6 252.3 620.3 246.6 622.9 240.8 625.6 235.1 628.3 229.3 631.1 223.6 633.9 217.9 636.7 212.1 639.6 206.4 642.4 200.6 645.4 194.9 648.3 189.1 651.3 183.4 654.3 177.6 657.3 171.9 660.1 166.7M698.2 99.4L699.5 97.2 703.0 91.5 706.5 85.7 710.0 80.0 713.6 74.2 717.1 68.5 720.7 62.7 724.4 57.0 728.1 51.3 731.8 45.5M952.6 643.0L953.2 637.2 953.8 631.5 954.4 625.8 955.0 620.0 955.7 614.3 956.4 608.5 956.7 606.2M964.6 555.3L965.4 551.1 966.5 545.3 967.6 539.6 968.7 533.8 969.9 528.1 971.1 522.3 972.3 516.6 973.6 510.9 974.9 505.1 976.2 499.4 977.6 493.6 979.0 487.9 980.4 482.1 981.9 476.4 983.4 470.6 984.9 464.9 986.5 459.1 988.1 453.4 989.7 447.7 991.3 441.9 993.0 436.2 994.7 430.4 996.5 424.7 998.3 418.9 1000.1 413.2 1001.9 407.4 1003.8 401.7 1005.7 396.0 1007.7 390.2 1009.6 384.5 1011.6 378.7 1013.7 373.0 1015.7 367.2 1017.8 361.5 1020.0 355.7 1022.1 350.0 1024.3 344.2 1026.6 338.5 1028.8 332.8 1031.1 327.0 1033.4 321.3 1035.8 315.5 1038.1 309.8 1040.6 304.0 1043.0 298.3 1045.5 292.5 1048.0 286.8 1050.5 281.1 1053.1 275.3 1055.7 269.6 1058.3 263.8 1061.0 258.1 1063.7 252.3 1066.4 246.6 1069.1 240.8 1071.9 235.1 1074.7 229.3 1077.6 223.6 1080.4 217.9 1083.3 212.1 1086.3 206.4 1089.2 200.6 1092.2 194.9 1095.3 189.1 1098.3 183.4 1101.4 177.6 1104.5 171.9 1107.7 166.2 1109.9 162.1M1135.6 117.5L1137.4 114.4 1140.8 108.7 1144.3 103.0 1147.8 97.2 1151.4 91.5 1154.9 85.7 1158.5 80.0 1162.2 74.2 1165.8 68.5 1169.5 62.7 1173.2 57.0 1177.0 51.3 1180.8 45.5M1040.6 643.0L1041.2 637.2 1041.8 631.5 1042.4 625.8 1043.1 620.0 1043.8 614.3 1044.5 608.5 1044.7 606.8M1054.4 546.9L1054.7 545.3 1055.9 539.6 1057.0 533.8 1058.2 528.1 1059.4 522.3 1060.7 516.6 1062.0 510.9 1063.3 505.1 1064.7 499.4 1066.1 493.6 1067.5 487.9 1068.9 482.1 1070.4 476.4 1071.9 470.6 1073.5 464.9 1075.0 459.1 1076.6 453.4 1078.3 447.7 1080.0 441.9 1081.7 436.2 1083.4 430.4 1085.2 424.7 1087.0 418.9 1088.8 413.2 1090.7 407.4 1092.6 401.7 1094.5 396.0 1096.4 390.2 1098.4 384.5 1100.5 378.7 1102.5 373.0 1104.6 367.2 1106.7 361.5 1108.9 355.7 1111.0 350.0 1113.2 344.2 1115.5 338.5 1117.8 332.8 1120.1 327.0 1122.4 321.3 1124.8 315.5 1127.2 309.8 1129.6 304.0 1132.1 298.3 1134.5 292.5 1137.1 286.8 1139.6 281.1 1142.2 275.3 1144.8 269.6 1147.5 263.8 1150.1 258.1 1152.8 252.3 1155.6 246.6 1158.4 240.8 1161.2 235.1 1164.0 229.3 1166.8 223.6 1169.7 217.9 1172.7 212.1 1175.6 206.4 1178.6 200.6 1181.6 194.9 1184.7 189.1 1187.7 183.4 1190.8 177.6 1194.0 171.9 1197.1 166.2 1197.8 164.9M1228.2 112.4L1230.5 108.7 1234.0 103.0 1237.5 97.2 1241.0 91.5 1244.6 85.7 1248.2 80.0 1251.9 74.2 1255.6 68.5 1259.3 62.7 1263.0 57.0 1266.8 51.3 1270.6 45.5M1128.6 643.0L1129.1 637.2 1129.8 631.5 1130.4 625.8 1131.1 620.0 1131.8 614.3 1132.6 608.5 1132.8 606.8M1142.7 546.9L1143.0 545.3 1144.2 539.6 1145.4 533.8 1146.6 528.1 1147.8 522.3 1149.1 516.6 1150.4 510.9 1151.7 505.1 1153.1 499.4 1154.5 493.6 1155.9 487.9 1157.4 482.1 1158.9 476.4 1160.4 470.6 1162.0 464.9 1163.6 459.1 1165.2 453.4 1166.9 447.7 1168.6 441.9 1170.3 436.2 1172.1 430.4 1173.8 424.7 1175.7 418.9 1177.5 413.2 1179.4 407.4 1181.3 401.7 1183.2 396.0 1185.2 390.2 1187.2 384.5 1189.3 378.7 1191.3 373.0 1193.4 367.2 1195.6 361.5 1197.7 355.7 1199.9 350.0 1202.2 344.2 1204.4 338.5 1206.7 332.8 1209.0 327.0 1211.4 321.3 1213.8 315.5 1216.2 309.8 1218.6 304.0 1221.1 298.3 1223.6 292.5 1226.2 286.8 1228.7 281.1 1231.3 275.3 1234.0 269.6 1236.6 263.8 1239.3 258.1 1242.0 252.3 1244.8 246.6 1247.6 240.8 1250.4 235.1 1253.2 229.3 1256.1 223.6 1259.0 217.9 1262.0 212.1 1264.9 206.4 1267.9 200.6 1271.0 194.9 1274.0 189.1 1277.1 183.4 1280.2 177.6 1283.4 171.9 1286.6 166.2 1287.0 165.4M1317.5 112.9L1320.1 108.7 1323.6 103.0 1327.1 97.2 1330.7 91.5 1334.3 85.7 1337.9 80.0 1341.6 74.2 1345.3 68.5 1349.0 62.7 1352.8 57.0 1356.5 51.3 1360.4 45.5M1216.5 643.0L1217.1 637.2 1217.8 631.5 1218.4 625.8 1219.2 620.0 1219.9 614.3 1220.7 608.5 1220.9 606.8M1231.0 546.9L1231.3 545.3 1232.5 539.6 1233.7 533.8 1234.9 528.1 1236.2 522.3 1237.5 516.6 1238.8 510.9 1240.1 505.1 1241.5 499.4 1243.0 493.6 1244.4 487.9 1245.9 482.1 1247.4 476.4 1249.0 470.6 1250.5 464.9 1252.2 459.1 1253.8 453.4 1255.5 447.7 1257.2 441.9 1258.9 436.2 1260.7 430.4 1262.5 424.7 1264.3 418.9 1266.2 413.2 1268.1 407.4 1270.0 401.7 1272.0 396.0 1274.0 390.2 1276.0 384.5 1278.1 378.7 1280.2 373.0 1282.3 367.2 1284.4 361.5 1286.6 355.7 1288.8 350.0 1291.1 344.2 1293.4 338.5 1295.7 332.8 1298.0 327.0 1300.4 321.3 1302.8 315.5 1305.2 309.8 1307.7 304.0 1310.2 298.3 1312.7 292.5 1315.2 286.8 1317.8 281.1 1320.5 275.3 1323.1 269.6 1325.8 263.8 1328.5 258.1 1331.2 252.3 1334.0 246.6 1336.8 240.8 1339.6 235.1 1342.5 229.3 1345.4 223.6 1348.3 217.9 1351.3 212.1 1354.3 206.4 1357.3 200.6 1360.3 194.9 1363.4 189.1 1366.5 183.4 1369.7 177.6 1372.8 171.9 1376.0 166.2 1376.2 165.8M1406.8 113.4L1409.7 108.7 1413.2 103.0 1416.8 97.2 1420.4 91.5 1424.0 85.7 1427.6 80.0 1431.3 74.2 1435.0 68.5 1438.8 62.7 1442.5 57.0 1446.3 51.3 1450.1 45.5M1304.5 643.0L1305.1 637.2 1305.8 631.5 1306.5 625.8 1307.2 620.0 1307.9 614.3 1308.7 608.5 1309.0 606.8M1319.3 547.0L1319.6 545.3 1320.8 539.6 1322.0 533.8 1323.2 528.1 1324.5 522.3 1325.8 516.6 1327.2 510.9 1328.5 505.1 1330.0 499.4 1331.4 493.6 1332.9 487.9 1334.4 482.1 1335.9 476.4 1337.5 470.6 1339.1 464.9 1340.7 459.1 1342.4 453.4 1344.1 447.7 1345.8 441.9 1347.6 436.2 1349.3 430.4 1351.2 424.7 1353.0 418.9 1354.9 413.2 1356.8 407.4 1358.8 401.7 1360.8 396.0 1362.8 390.2 1364.8 384.5 1366.9 378.7 1369.0 373.0 1371.1 367.2 1373.3 361.5 1375.5 355.7 1377.7 350.0 1380.0 344.2 1382.3 338.5 1384.6 332.8 1387.0 327.0 1389.4 321.3 1391.8 315.5 1394.2 309.8 1396.7 304.0 1399.2 298.3 1401.8 292.5 1404.3 286.8 1406.9 281.1 1409.6 275.3 1412.2 269.6 1414.9 263.8 1417.7 258.1 1420.4 252.3 1423.2 246.6 1426.0 240.8 1428.9 235.1 1431.8 229.3 1434.7 223.6 1437.6 217.9 1440.6 212.1 1443.6 206.4 1446.6 200.6 1449.7 194.9 1452.8 189.1 1455.9 183.4 1459.1 177.6 1462.2 171.9 1465.5 166.2 1465.7 165.8M1496.4 113.5L1499.3 108.7 1502.8 103.0 1506.4 97.2 1510.0 91.5 1513.6 85.7 1517.3 80.0 1521.0 74.2 1524.7 68.5 1528.5 62.7 1532.3 57.0 1536.1 51.3 1539.9 45.5M1392.4 643.0L1393.1 637.2 1393.8 631.5 1394.5 625.8 1395.2 620.0 1396.0 614.3 1396.8 608.5 1397.0 607.2M1410.9 531.1L1411.6 528.1 1412.9 522.3 1414.2 516.6 1415.6 510.9 1417.0 505.1 1418.4 499.4 1419.8 493.6 1421.3 487.9 1422.9 482.1 1424.4 476.4 1426.0 470.6 1427.6 464.9 1429.3 459.1 1430.9 453.4 1432.7 447.7 1434.4 441.9 1436.2 436.2 1438.0 430.4 1439.8 424.7 1441.7 418.9 1443.6 413.2 1445.5 407.4 1447.5 401.7 1449.5 396.0 1451.5 390.2 1453.6 384.5 1455.7 378.7 1457.8 373.0 1460.0 367.2 1462.2 361.5 1464.4 355.7 1466.6 350.0 1468.9 344.2 1471.2 338.5 1473.6 332.8 1475.9 327.0 1478.3 321.3 1480.8 315.5 1483.2 309.8 1485.7 304.0 1488.3 298.3 1490.8 292.5 1493.4 286.8 1496.0 281.1 1498.7 275.3 1501.4 269.6 1504.1 263.8 1506.8 258.1 1509.6 252.3 1512.4 246.6 1515.2 240.8 1518.1 235.1 1521.0 229.3 1523.9 223.6 1526.9 217.9 1529.9 212.1 1532.9 206.4 1536.0 200.6 1539.0 194.9 1542.2 189.1 1545.3 183.4 1548.5 177.6 1551.7 171.9 1554.7 166.4M1594.3 100.0L1596.0 97.2 1599.7 91.5 1603.3 85.7 1607.0 80.0 1610.7 74.2 1614.4 68.5 1618.2 62.7 1622.0 57.0 1625.9 51.3 1629.7 45.5M1480.4 643.0L1481.1 637.2 1481.8 631.5 1482.5 625.8 1483.3 620.0 1484.0 614.3 1484.9 608.5 1485.1 606.8M1495.8 547.0L1496.1 545.3 1497.4 539.6 1498.6 533.8 1499.9 528.1 1501.2 522.3 1502.6 516.6 1503.9 510.9 1505.4 505.1 1506.8 499.4 1508.3 493.6 1509.8 487.9 1511.3 482.1 1512.9 476.4 1514.5 470.6 1516.1 464.9 1517.8 459.1 1519.5 453.4 1521.2 447.7 1523.0 441.9 1524.8 436.2 1526.6 430.4 1528.5 424.7 1530.4 418.9 1532.3 413.2 1534.2 407.4 1536.2 401.7 1538.2 396.0 1540.3 390.2 1542.4 384.5 1544.5 378.7 1546.6 373.0 1548.8 367.2 1551.0 361.5 1553.2 355.7 1555.5 350.0 1557.8 344.2 1560.1 338.5 1562.5 332.8 1564.9 327.0 1567.3 321.3 1569.8 315.5 1572.2 309.8 1574.8 304.0 1577.3 298.3 1579.9 292.5 1582.5 286.8 1585.1 281.1 1587.8 275.3 1590.5 269.6 1593.2 263.8 1596.0 258.1 1598.8 252.3 1601.6 246.6 1604.5 240.8 1607.3 235.1 1610.3 229.3 1613.2 223.6 1616.2 217.9 1619.2 212.1 1622.2 206.4 1625.3 200.6 1628.4 194.9 1631.5 189.1 1634.7 183.4 1637.9 177.6 1641.1 171.9 1644.3 166.2 1644.6 165.7M1675.5 113.5L1678.5 108.7 1682.1 103.0 1685.7 97.2 1689.3 91.5 1693.0 85.7 1696.7 80.0 1700.4 74.2 1704.2 68.5 1707.9 62.7 1711.8 57.0 1715.6 51.3 1719.5 45.5M1568.3 643.0L1569.0 637.2 1569.7 631.5 1570.5 625.8 1571.3 620.0 1572.1 614.3 1572.9 608.5 1573.2 606.7M1584.1 547.0L1584.4 545.3 1585.7 539.6 1586.9 533.8 1588.2 528.1 1589.6 522.3 1590.9 516.6 1592.3 510.9 1593.8 505.1 1595.2 499.4 1596.7 493.6 1598.2 487.9 1599.8 482.1 1601.4 476.4 1603.0 470.6 1604.7 464.9 1606.4 459.1 1608.1 453.4 1609.8 447.7 1611.6 441.9 1613.4 436.2 1615.3 430.4 1617.1 424.7 1619.0 418.9 1621.0 413.2 1623.0 407.4 1625.0 401.7 1627.0 396.0 1629.1 390.2 1631.2 384.5 1633.3 378.7 1635.4 373.0 1637.6 367.2 1639.9 361.5 1642.1 355.7 1644.4 350.0 1646.7 344.2 1649.1 338.5 1651.4 332.8 1653.8 327.0 1656.3 321.3 1658.7 315.5 1661.2 309.8 1663.8 304.0 1666.3 298.3 1668.9 292.5 1671.6 286.8 1674.2 281.1 1676.9 275.3 1679.6 269.6 1682.4 263.8 1685.2 258.1 1688.0 252.3 1690.8 246.6 1693.7 240.8 1696.6 235.1 1699.5 229.3 1702.5 223.6 1705.5 217.9 1708.5 212.1 1711.5 206.4 1714.6 200.6 1717.7 194.9 1720.9 189.1 1724.1 183.4 1727.3 177.6 1730.5 171.9 1733.8 166.2 1734.0 165.7M1765.1 113.6L1768.1 108.7 1771.7 103.0 1775.3 97.2 1778.9 91.5 1782.6 85.7 1786.3 80.0 1790.1 74.2 1793.9 68.5 1797.7 62.7 1801.5 57.0 1805.4 51.3 1809.3 45.5M1656.3 643.0L1657.0 637.2 1657.7 631.5 1658.5 625.8 1659.3 620.0 1660.1 614.3 1661.0 608.5 1661.3 606.7M1672.3 547.0L1672.7 545.3 1673.9 539.6 1675.2 533.8 1676.6 528.1 1677.9 522.3 1679.3 516.6 1680.7 510.9 1682.2 505.1 1683.6 499.4 1685.2 493.6 1686.7 487.9 1688.3 482.1 1689.9 476.4 1691.5 470.6 1693.2 464.9 1694.9 459.1 1696.6 453.4 1698.4 447.7 1700.2 441.9 1702.0 436.2 1703.9 430.4 1705.8 424.7 1707.7 418.9 1709.7 413.2 1711.7 407.4 1713.7 401.7 1715.7 396.0 1717.8 390.2 1719.9 384.5 1722.1 378.7 1724.2 373.0 1726.5 367.2 1728.7 361.5 1731.0 355.7 1733.3 350.0 1735.6 344.2 1738.0 338.5 1740.4 332.8 1742.8 327.0 1745.2 321.3 1747.7 315.5 1750.3 309.8 1752.8 304.0 1755.4 298.3 1758.0 292.5 1760.6 286.8 1763.3 281.1 1766.0 275.3 1768.7 269.6 1771.5 263.8 1774.3 258.1 1777.1 252.3 1780.0 246.6 1782.9 240.8 1785.8 235.1 1788.7 229.3 1791.7 223.6 1794.7 217.9 1797.8 212.1 1800.8 206.4 1803.9 200.6 1807.1 194.9 1810.2 189.1 1813.4 183.4 1816.7 177.6 1819.9 171.9 1823.2 166.2 1823.3 166.0M1854.4 113.9L1857.7 108.7 1861.3 103.0 1864.9 97.2 1868.6 91.5 1872.3 85.7 1876.0 80.0 1879.8 74.2 1883.6 68.5 1887.4 62.7 1891.2 57.0 1895.1 51.3 1899.0 45.5M1744.2 643.0L1745.0 637.2 1745.7 631.5 1746.5 625.8 1747.3 620.0 1748.2 614.3 1749.1 608.5 1750.0 602.8 1750.9 597.0 1751.9 591.3 1752.9 585.5 1754.0 579.8 1755.1 574.1 1756.2 568.3 1757.3 562.6 1758.5 556.8 1759.5 552.1M1773.7 493.1L1775.1 487.9 1776.7 482.1 1778.4 476.4 1780.0 470.6 1781.7 464.9 1783.4 459.1 1785.2 453.4 1787.0 447.7 1788.8 441.9 1790.6 436.2 1792.5 430.4 1794.4 424.7 1796.4 418.9 1798.4 413.2 1800.4 407.4 1802.4 401.7 1804.5 396.0 1806.6 390.2 1808.7 384.5 1810.9 378.7 1813.1 373.0 1815.3 367.2 1817.5 361.5 1819.8 355.7 1822.1 350.0 1824.5 344.2 1826.9 338.5 1829.3 332.8 1831.7 327.0 1834.2 321.3 1836.7 315.5 1839.3 309.8 1841.8 304.0 1844.4 298.3 1847.0 292.5 1849.7 286.8 1852.4 281.1 1855.1 275.3 1857.9 269.6 1860.6 263.8 1863.5 258.1 1866.3 252.3 1869.2 246.6 1872.1 240.8 1875.0 235.1 1878.0 229.3 1881.0 223.6 1884.0 217.9 1887.1 212.1 1890.2 206.4 1893.3 200.6 1896.4 194.9 1899.6 189.1 1902.8 183.4 1906.0 177.6 1909.3 171.9 1912.6 166.2 1915.9 160.4 1919.3 154.7 1922.7 148.9 1926.1 143.2 1929.6 137.4 1933.0 131.7 1936.5 125.9 1940.1 120.2 1943.7 114.4 1947.3 108.7 1950.9 103.0 1954.5 97.2 1958.2 91.5 1961.9 85.7 1965.7 80.0 1969.5 74.2 1973.3 68.5 1977.1 62.7 1981.0 57.0 1984.9 51.3 1988.8 45.5M1832.2 643.0L1832.9 637.2 1833.7 631.5 1834.5 625.8 1835.4 620.0 1836.2 614.3 1837.1 608.5 1838.1 602.8 1839.0 597.0 1840.0 591.3 1840.2 590.3M1850.5 539.8L1850.5 539.6 1851.8 533.8 1853.2 528.1 1854.6 522.3 1856.0 516.6 1857.5 510.9 1858.9 505.1 1860.5 499.4 1862.0 493.6 1863.6 487.9 1865.2 482.1 1866.8 476.4 1868.5 470.6 1870.2 464.9 1872.0 459.1 1873.7 453.4 1875.5 447.7 1877.4 441.9 1879.3 436.2 1881.1 430.4 1883.1 424.7 1885.0 418.9 1887.0 413.2 1889.1 407.4 1891.1 401.7 1893.2 396.0 1895.3 390.2 1897.5 384.5 1899.6 378.7 1901.9 373.0 1904.1 367.2 1906.4 361.5 1908.7 355.7 1911.0 350.0 1913.4 344.2 1915.8 338.5 1918.2 332.8 1920.7 327.0 1923.2 321.3 1925.7 315.5 1928.2 309.8 1930.8 304.0 1933.4 298.3 1936.1 292.5 1938.8 286.8 1941.5 281.1 1944.2 275.3 1947.0 269.6 1949.8 263.8 1952.6 258.1 1955.5 252.3 1958.4 246.6 1961.3 240.8 1964.2 235.1 1967.2 229.3 1970.2 223.6 1973.3 217.9 1976.4 212.1 1979.5 206.4 1982.6 200.6 1985.8 194.9 1988.9 189.1 1992.2 183.4 1995.4 177.6 1998.7 171.9 2002.0 166.2 2005.4 160.4 2008.8 154.7 2012.2 148.9 2015.6 143.2 2019.1 137.4 2022.6 131.7 2026.1 125.9 2029.6 120.2 2033.2 114.4 2036.8 108.7 2040.5 103.0 2044.2 97.2 2047.9 91.5 2051.6 85.7 2055.4 80.0 2059.1 74.2 2063.0 68.5 2066.8 62.7 2070.7 57.0 2074.6 51.3 2078.6 45.5" stroke="#b9b9b9" stroke-width="3.2" fill="none"/><path d="M1317.7 641.5 L1323.4 631.4 L1329.1 621.3 L1334.7 611.3 L1340.4 601.2 L1346.1 591.1 L1351.7 581.0 L1357.5 571.0 L1363.2 560.9 L1369.0 550.8 L1374.8 540.7 L1380.6 530.7 L1386.5 520.6 L1392.4 510.5 L1398.4 500.4 L1404.4 490.4 L1410.5 480.3 L1416.6 470.2 L1422.8 460.1 L1429.1 450.1 L1435.4 440.0 L1441.9 429.9 L1448.4 419.8 L1455.0 409.7 L1461.7 399.7 L1468.4 389.6 L1475.3 379.5 L1482.3 369.4 L1489.4 359.4 L1496.6 349.3 L1503.9 339.2 L1511.3 329.1 L1518.8 319.1 L1526.5 309.0 L1534.3 298.9 L1542.2 288.8 L1550.3 278.8 L1558.5 268.7 L1566.9 258.6 L1575.4 248.5 L1584.1 238.4 L1592.9 228.4 L1601.9 218.3 L1611.1 208.2 L1620.4 198.1 L1629.9 188.1 L1639.6 178.0 L1649.5 167.9 L1659.5 157.8 L1669.8 147.8 L1680.2 137.7 L1690.8 127.6 L1701.7 117.5 L1712.7 107.5 L1724.0 97.4 L1735.5 87.3 L1747.2 77.2 L1759.1 67.2 L1771.3 57.1 L1783.7 47.0 M1508.0 641.5 L1514.9 631.4 L1521.8 621.3 L1528.7 611.3 L1535.5 601.2 L1542.3 591.1 L1549.0 581.0 L1555.7 571.0 L1562.4 560.9 L1569.1 550.8 L1575.8 540.7 L1582.4 530.7 L1589.1 520.6 L1595.8 510.5 L1602.6 500.4 L1609.3 490.4 L1616.1 480.3 L1623.0 470.2 L1629.9 460.1 L1636.8 450.1 L1643.9 440.0 L1651.0 429.9 L1658.2 419.8 L1665.5 409.7 L1672.8 399.7 L1680.3 389.6 L1687.9 379.5 L1695.6 369.4 L1703.5 359.4 L1711.4 349.3 L1719.6 339.2 L1727.8 329.1 L1736.3 319.1 L1744.8 309.0 L1753.6 298.9 L1762.5 288.8 L1771.6 278.8 L1781.0 268.7 L1790.5 258.6 L1800.2 248.5 L1810.1 238.4 L1820.3 228.4 L1830.7 218.3 L1841.3 208.2 L1852.1 198.1 L1863.3 188.1 L1874.6 178.0 L1886.3 167.9 L1898.2 157.8 L1910.4 147.8 L1922.8 137.7 L1935.6 127.6 L1948.7 117.5 L1962.1 107.5 L1975.8 97.4 L1989.8 87.3 L2004.1 77.2 L2018.8 67.2 L2033.8 57.1 L2049.2 47.0" stroke="#000" stroke-width="3.8" fill="none"/></g><g font-family="Liberation Sans, Arial, sans-serif" fill="#000"><text x="137.1" y="349.4" font-size="31" text-anchor="middle" transform="rotate(-70.1 137.1 338.3)">26</text><text x="678.8" y="143.9" font-size="31" text-anchor="middle" transform="rotate(-60.5 678.8 132.8)">26.5</text><text x="1122.6" y="150.8" font-size="31" text-anchor="middle" transform="rotate(-60.1 1122.6 139.7)">27</text><text x="960.4" y="591.8" font-size="31" text-anchor="middle" transform="rotate(-81.3 960.4 580.7)">27</text><text x="1212.8" y="147.1" font-size="24" text-anchor="middle" transform="rotate(-60.0 1212.8 138.5)">27.1</text><text x="1049.2" y="585.4" font-size="24" text-anchor="middle" transform="rotate(-80.8 1049.2 576.8)">27.1</text><text x="1302.0" y="147.6" font-size="24" text-anchor="middle" transform="rotate(-59.9 1302.0 139.0)">27.2</text><text x="1137.3" y="585.4" font-size="24" text-anchor="middle" transform="rotate(-80.6 1137.3 576.8)">27.2</text><text x="1391.3" y="148.1" font-size="24" text-anchor="middle" transform="rotate(-59.8 1391.3 139.5)">27.3</text><text x="1225.5" y="585.4" font-size="24" text-anchor="middle" transform="rotate(-80.4 1225.5 576.8)">27.3</text><text x="1480.8" y="148.1" font-size="24" text-anchor="middle" transform="rotate(-59.6 1480.8 139.5)">27.4</text><text x="1313.7" y="585.4" font-size="24" text-anchor="middle" transform="rotate(-80.2 1313.7 576.8)">27.4</text><text x="1574.1" y="144.1" font-size="31" text-anchor="middle" transform="rotate(-59.3 1574.1 133.0)">27.5</text><text x="1403.3" y="580.1" font-size="31" text-anchor="middle" transform="rotate(-79.8 1403.3 569.0)">27.5</text><text x="1659.8" y="148.1" font-size="24" text-anchor="middle" transform="rotate(-59.4 1659.8 139.5)">27.6</text><text x="1490.0" y="585.4" font-size="24" text-anchor="middle" transform="rotate(-79.9 1490.0 576.8)">27.6</text><text x="1749.3" y="148.1" font-size="24" text-anchor="middle" transform="rotate(-59.3 1749.3 139.5)">27.7</text><text x="1578.2" y="585.4" font-size="24" text-anchor="middle" transform="rotate(-79.7 1578.2 576.8)">27.7</text><text x="1838.6" y="148.4" font-size="24" text-anchor="middle" transform="rotate(-59.1 1838.6 139.8)">27.8</text><text x="1666.4" y="585.4" font-size="24" text-anchor="middle" transform="rotate(-79.5 1666.4 576.8)">27.8</text><text x="1766.2" y="531.1" font-size="24" text-anchor="middle" transform="rotate(-76.6 1766.2 522.5)">27.9</text><text x="1845.0" y="576.1" font-size="31" text-anchor="middle" transform="rotate(-78.5 1845.0 565.0)">28</text></g><path d="M175.4 631.5V622.5M175.4 57.0V66.0M318.3 631.5V622.5M318.3 57.0V66.0M461.2 631.5V622.5M461.2 57.0V66.0M604.1 631.5V622.5M604.1 57.0V66.0M747.0 631.5V622.5M747.0 57.0V66.0M889.8 631.5V622.5M889.8 57.0V66.0M1032.7 631.5V622.5M1032.7 57.0V66.0M1175.6 631.5V622.5M1175.6 57.0V66.0M1318.5 631.5V622.5M1318.5 57.0V66.0M1461.4 631.5V622.5M1461.4 57.0V66.0M1604.2 631.5V622.5M1604.2 57.0V66.0M1747.1 631.5V622.5M1747.1 57.0V66.0M104.0 574.1H113.0M1890.0 574.1H1881.0M104.0 459.1H113.0M1890.0 459.1H1881.0M104.0 344.2H113.0M1890.0 344.2H1881.0M104.0 229.3H113.0M1890.0 229.3H1881.0M104.0 114.5H113.0M1890.0 114.5H1881.0" stroke="#262626" stroke-width="1.5" fill="none"/><rect x="104.0" y="57.0" width="1786.0" height="574.5" fill="none" stroke="#262626" stroke-width="1.6"/><g><rect x="746.9" y="362.4" width="95.3" height="57.9" fill="#fff" stroke="#000" stroke-width="1.4"/><text x="794.5" y="404.2" text-anchor="middle" font-family="Liberation Sans, Arial, sans-serif" font-weight="bold" font-size="36.0">SSW</text></g><g><rect x="1633.4" y="86.6" width="117.4" height="55.1" fill="#fff" stroke="#000" stroke-width="1.4"/><text x="1692.1" y="126.1" text-anchor="middle" font-family="Liberation Sans, Arial, sans-serif" font-weight="bold" font-size="33.4">UCDW</text></g><g><rect x="1669.2" y="265.1" width="113.5" height="54.8" fill="#fff" stroke="#000" stroke-width="1.4"/><text x="1726.0" y="304.5" text-anchor="middle" font-family="Liberation Sans, Arial, sans-serif" font-weight="bold" font-size="33.4">LCDW</text></g><g transform="rotate(-64.80 1595.25 322.60)"><rect x="1526.4" y="292.1" width="137.7" height="61.0" fill="#fff" stroke="#000" stroke-width="1.4"/><text x="1595.2" y="336.2" text-anchor="middle" font-family="Liberation Sans, Arial, sans-serif" font-weight="bold" font-size="38.0">mCDW</text></g><g><rect x="1133.1" y="568.5" width="81.3" height="58.0" fill="#fff" stroke="#000" stroke-width="1.4"/><text x="1173.8" y="610.2" text-anchor="middle" font-family="Liberation Sans, Arial, sans-serif" font-weight="bold" font-size="35.5">WW</text></g><g><rect x="1669.2" y="568.8" width="91.5" height="54.5" fill="#fff" stroke="#000" stroke-width="1.4"/><text x="1715.0" y="608.0" text-anchor="middle" font-family="Liberation Sans, Arial, sans-serif" font-weight="bold" font-size="33.4">DSW</text></g><g font-family="Liberation Sans, Arial, sans-serif" font-size="37.5" fill="#000"><text x="175.4" y="682.5" text-anchor="middle">32.6</text><text x="318.3" y="682.5" text-anchor="middle">32.8</text><text x="461.2" y="682.5" text-anchor="middle">33</text><text x="604.1" y="682.5" text-anchor="middle">33.2</text><text x="747.0" y="682.5" text-anchor="middle">33.4</text><text x="889.8" y="682.5" text-anchor="middle">33.6</text><text x="1032.7" y="682.5" text-anchor="middle">33.8</text><text x="1175.6" y="682.5" text-anchor="middle">34</text><text x="1318.5" y="682.5" text-anchor="middle">34.2</text><text x="1461.4" y="682.5" text-anchor="middle">34.4</text><text x="1604.2" y="682.5" text-anchor="middle">34.6</text><text x="1747.1" y="682.5" text-anchor="middle">34.8</text><text x="1890.0" y="682.5" text-anchor="middle">35</text><text x="91.5" y="587.5" text-anchor="end">-2</text><text x="91.5" y="472.5" text-anchor="end">-1</text><text x="91.5" y="357.6" text-anchor="end">0</text><text x="91.5" y="242.8" text-anchor="end">1</text><text x="91.5" y="127.9" text-anchor="end">2</text></g><text x="997" y="731.5" text-anchor="middle" font-family="Liberation Serif, serif" font-weight="bold" font-size="41.8" fill="#262626">Salinity (PSU)</text><text transform="translate(42,342.4) rotate(-90)" text-anchor="middle" font-family="Liberation Serif, serif" font-weight="bold" font-size="41.6" fill="#262626">Potential Temperature (°C)</text><text x="997.5" y="47.1" text-anchor="middle" font-family="Liberation Serif, serif" font-weight="bold" font-size="44.5" fill="#000">Summer</text></g><g transform="translate(0,798.5)"><g clip-path="url(#ax)"><g stroke-width="3.4" stroke-linecap="round" fill="none"><path stroke="#ffd523" d="M1054 547h0M1058 546h0"/><path stroke="#ffe21a" d="M1061 541h0"/><path stroke="#ffd820" d="M1067 539h0M1066 537h0M1065 543h0"/><path stroke="#fcc32e" d="M1075 537h0M1083 528h0M1115 500h0M1158 461h0M1159 461h0M1083 532h0"/><path stroke="#ffce28" d="M1079 538h0M1077 544h0"/><path stroke="#f9bb2f" d="M1086 529h0M1120 499h0M1123 497h0M1144 474h0M1156 465h0M1136 496h0M1170 464h0M1208 435h0"/><path stroke="#fbbf2e" d="M1090 527h0M1103 509h0M1151 467h0M1173 458h0M1172 449h0M1091 528h0M1122 498h0"/><path stroke="#f7b730" d="M1092 521h0M1108 504h0M1110 503h0M1193 434h0M1235 404h0M1260 381h0M1265 364h0M1098 524h0M1103 516h0M1155 485h0M1166 476h0"/><path stroke="#f4b430" d="M1102 521h0M1132 491h0M1167 457h0M1201 422h0M1113 506h0M1186 449h0M1202 441h0"/><path stroke="#e9b030" d="M1101 513h0M1183 443h0M1187 435h0M1263 364h0M1150 484h0M1168 483h0"/><path stroke="#edb030" d="M1125 492h0M1180 445h0M1201 429h0M1208 422h0M1227 403h0M1184 462h0M1216 431h0M1220 426h0M1233 421h0M1262 392h0M1280 378h0"/><path stroke="#f1b130" d="M1134 483h0M1139 481h0M1258 371h0M1130 493h0M1142 491h0M1175 466h0M1198 450h0M1194 440h0M1269 384h0"/><path stroke="#dfb131" d="M1144 483h0M1214 414h0M1216 414h0M1226 408h0M1242 395h0M1250 386h0M1241 406h0M1292 373h0M1287 366h0M1298 365h0"/><path stroke="#e5b030" d="M1149 475h0M1176 446h0M1195 427h0M1214 422h0M1248 394h0M1109 519h0M1120 509h0M1224 423h0M1248 406h0"/><path stroke="#e1b030" d="M1224 411h0M1301 340h0M1304 332h0M1267 387h0"/><path stroke="#ddb232" d="M1237 403h0M1287 357h0M1252 394h0M1273 374h0M1316 343h0"/><path stroke="#d9b535" d="M1240 395h0M1253 383h0M1287 352h0M1293 347h0M1302 336h0M1311 324h0"/><path stroke="#d2b939" d="M1272 368h0M1298 345h0M1337 309h0"/><path stroke="#dbb434" d="M1274 360h0M1312 334h0M1323 321h0M1237 409h0M1300 359h0M1310 348h0M1328 333h0"/><path stroke="#c8bb3e" d="M1278 355h0M1363 288h0M1379 288h0"/><path stroke="#d5b838" d="M1289 349h0M1329 320h0M1340 317h0"/><path stroke="#d7b636" d="M1320 325h0M1305 354h0M1323 340h0"/><path stroke="#cfb93b" d="M1333 314h0M1334 330h0M1351 316h0"/><path stroke="#cbba3c" d="M1343 308h0M1354 294h0M1361 289h0M1370 279h0M1372 274h0M1344 328h0M1358 313h0M1363 301h0"/><path stroke="#c2bd41" d="M1343 301h0M1380 275h0M1371 294h0M1403 273h0"/><path stroke="#c5bc3f" d="M1350 299h0M1357 294h0M1363 305h0M1382 288h0"/><path stroke="#bebf42" d="M1367 284h0M1393 275h0M1412 279h0"/><path stroke="#bac142" d="M1383 273h0M1396 261h0"/><path stroke="#afc646" d="M1386 268h0M1406 260h0M1437 247h0"/><path stroke="#abc848" d="M1390 260h0M1415 251h0M1434 257h0M1451 244h0"/><path stroke="#b3c545" d="M1400 263h0M1417 249h0M1422 248h0M1410 264h0"/><path stroke="#a8ca4a" d="M1408 257h0M1436 238h0M1447 231h0M1454 229h0M1463 231h0"/><path stroke="#b6c343" d="M1413 253h0M1383 278h0M1416 259h0M1424 261h0"/><path stroke="#9fcc4e" d="M1429 244h0M1443 230h0M1461 222h0"/><path stroke="#a4cc4c" d="M1431 240h0M1458 224h0M1469 235h0"/><path stroke="#9bcc50" d="M1439 236h0M1465 218h0M1454 237h0"/><path stroke="#96cc52" d="M1450 231h0M1475 206h0"/><path stroke="#8ecb56" d="M1471 217h0M1476 212h0M1469 217h0"/><path stroke="#86c75b" d="M1482 206h0"/><path stroke="#77c064" d="M1488 203h0M1499 198h0M1512 204h0"/><path stroke="#74be66" d="M1489 197h0M1505 206h0"/><path stroke="#70bc68" d="M1496 198h0"/><path stroke="#6bbb6b" d="M1500 192h0"/><path stroke="#63b96f" d="M1507 190h0M1517 187h0M1513 198h0"/><path stroke="#5db772" d="M1512 187h0"/><path stroke="#5eb871" d="M1519 180h0M1525 182h0M1527 186h0"/><path stroke="#4db47b" d="M1528 181h0M1533 174h0M1554 185h0"/><path stroke="#45b27f" d="M1532 168h0M1544 172h0M1532 177h0"/><path stroke="#3eb184" d="M1541 167h0M1548 168h0"/><path stroke="#32b08f" d="M1557 169h0M1575 170h0"/><path stroke="#38b18a" d="M1559 167h0M1542 177h0M1560 173h0M1567 173h0"/><path stroke="#2cb094" d="M1567 163h0M1568 161h0"/><path stroke="#27af99" d="M1573 159h0M1582 162h0M1593 157h0M1602 159h0"/><path stroke="#1daea3" d="M1577 157h0M1583 149h0M1598 138h0M1604 153h0"/><path stroke="#18ada8" d="M1578 151h0M1587 145h0M1592 145h0M1598 146h0M1610 151h0"/><path stroke="#13acad" d="M1606 140h0"/><path stroke="#13a6b8" d="M1608 135h0M1612 132h0"/><path stroke="#fec72d" d="M1068 538h0"/><path stroke="#92cc53" d="M1443 242h0"/><path stroke="#8ac959" d="M1479 219h0M1491 216h0"/><path stroke="#82c55e" d="M1485 213h0"/><path stroke="#7bc262" d="M1492 206h0"/><path stroke="#65b96d" d="M1522 194h0"/><path stroke="#56b676" d="M1536 196h0"/><path stroke="#22ae9e" d="M1577 157h0"/></g><g stroke-width="3.4" stroke-linecap="round" fill="none"><path stroke="#27af99" d="M1581 159h0m21 -3h0m3 -2h0m-12 8h0m5 0h0m3 -3h0m5 4h0m-9 3h0m-104 326h0m48 18h0m-17 8h0m-87 14h0m108 3h0"/><path stroke="#d9b535" d="M1335 315h0m37 12h0m8 -5h0m-2 10h0m-68 7h0m12 -2h0m16 -2h0m13 12h0m2 3h0m-65 4h0m1 -3h0m14 2h0m21 4h0m24 -2h0m-51 7h0m42 1h0m-40 5h0m19 -4h0m-38 8h0m22 -1h0m7 0h0m10 4h0m8 -6h0m4 2h0m-13 20h0m-195 135h0"/><path stroke="#82c55e" d="M1488 212h0m3 -2h0m-5 13h0m20 -2h0m-10 9h0m-121 296h0m-25 14h0m2 0h0m12 -2h0m4 -1h0m2 2h0m13 10h0"/><path stroke="#d2b939" d="M1355 300h0m-3 7h0m-14 7h0m12 1h0m35 -6h0m-31 13h0m21 2h0m-41 6h0m38 2h0m-10 6h0m-20 6h0m-45 5h0m-8 10h0m28 6h0m-188 163h0"/><path stroke="#f7b730" d="M1270 381h0m-54 53h0m31 2h0m-37 11h0m39 -2h0m-54 4h0m37 1h0m-59 7h0m22 0h0m25 -1h0m-36 9h0m26 -1h0m-33 4h0m17 -2h0m-45 9h0m3 1h0m33 -2h0m35 -3h0m-67 10h0m16 -3h0m44 0h0m0 1h0m-61 13h0m-27 7h0m23 -4h0m1 3h0m10 -2h0m-13 5h0m-28 8h0m-30 15h0m3 18h0"/><path stroke="#edb030" d="M1268 381h0m21 -3h0m-31 3h0m26 3h0m-24 6h0m26 2h0m-8 2h0m15 5h0m-5 2h0m-55 8h0m31 -4h0m22 2h0m-4 8h0m1 -2h0m-59 8h0m19 0h0m2 2h0m35 -2h0m11 -3h0m-60 11h0m2 -6h0m29 10h0m1 -2h0m4 4h0m12 -5h0m-33 8h0m3 1h0m5 0h0m1 0h0m-47 6h0m31 -2h0m-24 10h0m20 -3h0m0 1h0m1 0h0m-48 8h0m51 -1h0m-38 5h0m11 -2h0m22 5h0m-68 6h0m38 4h0m-43 4h0m31 3h0m1 -6h0m-54 7h0m17 0h0m36 2h0m-20 5h0m0 4h0m5 -4h0m5 0h0m13 -2h0m-74 10h0m39 -3h0m4 0h0m-11 15h0m-49 12h0m6 -1h0m-9 20h0"/><path stroke="#199bc7" d="M1629 134h0m-5 2h0m11 12h0m-136 324h0"/><path stroke="#77c064" d="M1491 202h0m30 15h0m-162 322h0m8 2h0m28 5h0m-58 9h0m30 -6h0m34 1h0m-79 12h0"/><path stroke="#d7b636" d="M1379 306h0m-50 14h0m22 -3h0m-12 8h0m6 -3h0m-22 10h0m11 -3h0m13 3h0m0 -1h0m23 1h0m-60 5h0m45 2h0m19 -3h0m1 0h0m-66 9h0m0 -4h0m12 -1h0m10 1h0m4 -1h0m14 4h0m4 -1h0m6 0h0m8 -2h0m-63 5h0m54 1h0m5 -2h0m-80 11h0m23 -3h0m4 -1h0m-6 7h0m2 1h0m21 3h0m15 -5h0m-49 6h0m2 -1h0m25 1h0m-66 47h0"/><path stroke="#b3c545" d="M1470 252h0m-58 8h0m25 1h0m17 -5h0m-34 8h0m3 0h0m20 2h0m6 -4h0m-59 6h0m34 10h0m13 -2h0m-30 8h0m10 1h0m6 2h0m-20 8h0m-24 6h0"/><path stroke="#cfb93b" d="M1381 295h0m-32 3h0m-10 10h0m0 -3h0m8 3h0m21 0h0m7 -2h0m22 -3h0m-43 8h0m25 10h0m-62 4h0m23 -2h0m12 1h0m11 6h0m-49 6h0m56 3h0m-38 32h0"/><path stroke="#c8bb3e" d="M1370 280h0m23 2h0m-25 9h0m9 -3h0m-10 5h0m15 -1h0m33 4h0m-45 2h0m7 2h0m20 0h0m4 2h0m-49 4h0m8 -1h0m32 2h0m1 12h0m-5 5h0m-45 8h0m-4 3h0m-34 8h0m16 21h0"/><path stroke="#e9b030" d="M1293 375h0m-14 11h0m0 0h0m8 -1h0m1 -1h0m5 1h0m-38 5h0m9 -2h0m17 1h0m5 3h0m-14 5h0m42 -4h0m-80 11h0m57 -5h0m7 0h0m-42 7h0m37 0h0m3 3h0m-54 5h0m50 -2h0m-52 7h0m1 -2h0m4 1h0m26 0h0m-50 8h0m35 -1h0m-48 9h0m11 -1h0m11 0h0m2 -1h0m11 5h0m-45 8h0m54 1h0m1 -4h0m-20 11h0m15 -1h0m-58 4h0m41 -1h0m6 9h0m7 -1h0m-45 7h0m15 -4h0m14 -1h0m2 1h0m1 3h0m-50 3h0m3 -1h0m1 1h0m-43 13h0m4 -1h0m39 10h0m1 -2h0m-63 9h0m1 -5h0m25 2h0m38 -2h0m-56 5h0m-22 7h0m29 3h0m17 2h0m-58 3h0m7 -1h0m40 1h0m-40 3h0m-1 8h0m4 2h0m-1 10h0"/><path stroke="#fbbf2e" d="M1183 465h0m-21 19h0m20 0h0m8 2h0m-54 24h0m-32 13h0m-21 23h0"/><path stroke="#a8ca4a" d="M1465 220h0m-10 16h0m8 3h0m1 2h0m-22 2h0m16 6h0m5 4h0m-39 6h0m10 9h0m7 4h0m14 -4h0"/><path stroke="#8ecb56" d="M1459 224h0m44 -3h0m-41 6h0m6 2h0m14 1h0m15 -1h0m-46 6h0m41 1h0m1 -2h0m-98 293h0m3 27h0m-59 7h0"/><path stroke="#cbba3c" d="M1415 284h0m-29 1h0m9 10h0m-41 2h0m51 3h0m-39 4h0m3 5h0m19 -1h0m-48 6h0m-1 4h0m34 3h0m12 -6h0m-49 8h0m36 -1h0m20 0h0m-43 19h0m-55 9h0"/><path stroke="#9fcc4e" d="M1462 230h0m1 -2h0m18 -2h0m-4 6h0m2 1h0m-45 11h0m22 5h0m-21 4h0m0 3h0m29 4h0m-5 3h0m-123 288h0"/><path stroke="#dfb131" d="M1322 329h0m31 3h0m-11 14h0m-55 8h0m1 9h0m53 -2h0m-53 3h0m-4 7h0m6 3h0m8 -2h0m4 2h0m-10 1h0m5 17h0m9 -1h0m-56 7h0m-10 2h0m30 9h0m2 18h0m-13 2h0m-9 14h0m-38 28h0m-65 47h0m-40 4h0m10 -1h0m6 7h0"/><path stroke="#ddb232" d="M1313 332h0m8 -2h0m23 0h0m-53 19h0m36 1h0m8 0h0m0 5h0m3 1h0m4 -4h0m-54 5h0m5 3h0m1 -2h0m4 -1h0m-12 7h0m45 -1h0m11 4h0m-30 12h0m3 -3h0m2 3h0m4 -2h0m0 6h0m4 -1h0m-72 11h0m2 1h0m6 17h0m21 -3h0m4 11h0m-28 13h0m-19 17h0m-97 68h0"/><path stroke="#c5bc3f" d="M1383 279h0m-1 7h0m0 -1h0m-27 11h0m6 1h0m0 0h0m1 4h0m13 -4h0m1 8h0m5 1h0m15 6h0"/><path stroke="#9bcc50" d="M1474 225h0m4 17h0m-24 12h0m17 -3h0m-39 5h0m15 6h0"/><path stroke="#a4cc4c" d="M1489 225h0m-27 2h0m4 -1h0m3 3h0m-26 3h0m-6 6h0m9 2h0m2 -1h0m17 9h0m-15 8h0m3 1h0m-33 18h0m-2 8h0"/><path stroke="#f9bb2f" d="M1207 434h0m-9 2h0m3 16h0m-32 13h0m8 -4h0m13 4h0m-37 10h0m33 3h0m-13 12h0m-49 10h0m38 2h0m-45 8h0m-35 29h0m2 -2h0"/><path stroke="#bebf42" d="M1400 270h0m-16 9h0m4 -4h0m15 2h0m16 6h0m-53 4h0m14 0h0m12 -1h0m22 0h0m-50 14h0m46 2h0m-15 13h0m-4 9h0"/><path stroke="#45b27f" d="M1545 177h0m10 -2h0m3 1h0m-2 6h0m1 -4h0m-19 10h0m19 -4h0m8 2h0m-173 352h0"/><path stroke="#abc848" d="M1445 240h0m5 1h0m26 2h0m-15 2h0m18 3h0m-31 5h0m1 1h0m18 -1h0m-67 9h0m53 2h0m-14 9h0m10 -5h0m1 0h0m1 -1h0m-39 19h0"/><path stroke="#e1b030" d="M1301 357h0m-21 6h0m4 -2h0m1 5h0m8 7h0m1 -3h0m36 -1h0m-44 9h0m33 0h0m-66 6h0m8 1h0m6 -2h0m9 2h0m9 -2h0m14 1h0m4 -3h0m-49 11h0m20 -3h0m20 3h0m22 -3h0m-18 13h0m10 -1h0m-25 7h0m-63 13h0m2 -3h0m8 3h0m11 1h0m33 4h0m-22 9h0m-3 3h0m-43 6h0m5 18h0m32 -1h0m-31 7h0m1 6h0m-98 40h0m6 3h0m17 -1h0m-40 17h0"/><path stroke="#e5b030" d="M1299 359h0m-15 9h0m6 3h0m36 1h0m-35 8h0m4 -4h0m-30 8h0m55 3h0m-51 9h0m-10 9h0m8 -1h0m20 -2h0m-51 5h0m57 1h0m-50 7h0m2 0h0m12 2h0m-9 5h0m-38 3h0m31 2h0m4 -2h0m22 0h0m9 3h0m2 0h0m-61 5h0m-12 2h0m7 1h0m13 5h0m12 -1h0m5 -4h0m-4 10h0m3 1h0m-35 14h0m39 1h0m-92 8h0m54 -3h0m25 -2h0m-12 12h0m-45 1h0m-33 18h0m-8 18h0m5 4h0m11 -2h0m-46 6h0"/><path stroke="#dbb434" d="M1327 317h0m31 7h0m-44 5h0m13 0h0m33 -2h0m-41 7h0m-14 8h0m50 2h0m-63 6h0m33 0h0m3 0h0m-27 6h0m-9 4h0m20 0h0m12 1h0m14 -4h0m4 1h0m4 0h0m-63 6h0m-13 5h0m42 2h0m14 3h0m-30 3h0m3 2h0m9 2h0m-56 9h0m6 0h0m2 8h0m-2 3h0m37 13h0m-152 106h0m-26 11h0m9 -4h0m-16 10h0"/><path stroke="#60b870" d="M1522 184h0m38 4h0m-51 1h0m6 3h0m2 2h0m21 -2h0m-7 11h0m-166 327h0m-25 24h0m-8 3h0"/><path stroke="#1b97cc" d="M1641 135h0m-8 12h0m-2 2h0m-118 371h0"/><path stroke="#c2bd41" d="M1395 270h0m16 -3h0m-29 10h0m3 6h0m-11 5h0m9 -1h0m3 1h0m23 1h0m7 2h0m-39 2h0m12 3h0m6 -3h0m12 0h0m-21 4h0m24 2h0m-41 9h0m26 -2h0m-8 7h0m-23 5h0m21 10h0"/><path stroke="#2cb094" d="M1563 165h0m0 -1h0m1 -4h0m6 -1h0m5 2h0m0 2h0m7 1h0m16 -3h0m-26 4h0m3 0h0m2 6h0m-82 310h0m-78 46h0m118 11h0"/><path stroke="#f4b430" d="M1212 423h0m62 3h0m-40 7h0m-15 4h0m2 3h0m16 -3h0m20 1h0m-74 9h0m63 1h0m-56 10h0m10 -4h0m-4 5h0m4 3h0m2 1h0m5 -2h0m5 2h0m-33 6h0m5 -3h0m26 0h0m3 4h0m-61 4h0m21 -2h0m-32 8h0m17 1h0m11 -2h0m25 2h0m-47 8h0m53 -2h0m-44 13h0m24 -2h0m-61 8h0m21 1h0m4 -6h0m13 3h0m-24 4h0m7 -1h0m-2 7h0m-47 9h0m3 5h0"/><path stroke="#b6c343" d="M1413 252h0m20 8h0m-49 13h0m2 5h0m17 -5h0m15 5h0m0 -3h0m24 0h0m-36 9h0m17 0h0m-27 25h0"/><path stroke="#d5b838" d="M1342 317h0m11 2h0m27 -3h0m-67 13h0m21 1h0m3 3h0m-17 8h0m4 -2h0m13 4h0m8 2h0m2 -6h0m5 12h0m1 -3h0m5 1h0m-49 15h0m17 7h0m-205 155h0"/><path stroke="#f1b130" d="M1269 387h0m1 1h0m6 -1h0m9 14h0m-6 6h0m14 -1h0m-62 15h0m5 -3h0m48 1h0m-68 6h0m10 1h0m7 -1h0m33 1h0m-64 6h0m18 0h0m10 0h0m2 3h0m-29 3h0m35 0h0m0 -2h0m3 3h0m-51 7h0m7 -1h0m9 2h0m-3 4h0m52 1h0m-59 2h0m5 0h0m7 3h0m7 1h0m21 -3h0m-38 5h0m4 0h0m3 2h0m30 -2h0m8 0h0m-71 7h0m4 -1h0m18 3h0m3 -1h0m7 -1h0m9 3h0m3 0h0m1 -2h0m-53 4h0m2 2h0m9 2h0m18 -4h0m2 2h0m-53 7h0m60 -1h0m-33 8h0m13 -5h0m-56 11h0m21 0h0m11 -3h0m-36 14h0m21 1h0m33 -5h0m-72 19h0m-17 24h0"/><path stroke="#fcc32e" d="M1193 453h0m-17 1h0m-97 88h0"/><path stroke="#65b96d" d="M1510 194h0m-11 2h0m26 5h0m-3 7h0m-8 257h0m-134 72h0m-33 11h0m43 5h0"/><path stroke="#3eb184" d="M1545 176h0m2 0h0m4 5h0m11 -3h0m5 4h0"/><path stroke="#7fc361" d="M1495 210h0m-4 3h0m3 1h0m-4 9h0m11 -2h0m-107 315h0m-48 8h0"/><path stroke="#4db47b" d="M1537 176h0m2 -3h0m3 3h0m-4 3h0m11 2h0m-10 3h0m4 2h0m4 0h0m4 -2h0m-5 6h0m3 2h0m-210 361h0m-4 12h0"/><path stroke="#5eb871" d="M1555 189h0m-39 3h0m10 1h0m-124 354h0"/><path stroke="#fec72d" d="M1082 531h0m9 3h0"/><path stroke="#86c75b" d="M1479 209h0m22 17h0"/><path stroke="#afc646" d="M1470 239h0m-22 7h0m20 5h0m5 1h0m-38 7h0m4 0h0m-19 6h0m-1 4h0m-4 14h0m-9 2h0"/><path stroke="#8ac959" d="M1483 222h0m-9 6h0m3 -3h0m10 14h0m-93 314h0m-1 3h0"/><path stroke="#68ba6c" d="M1507 190h0m13 11h0m7 -1h0m-19 2h0m17 6h0m-191 344h0m66 2h0m-61 4h0m24 2h0m-9 5h0m35 -2h0"/><path stroke="#22ae9e" d="M1614 152h0m-22 7h0m-21 1h0m-116 324h0m13 7h0m30 13h0m-52 3h0m75 22h0"/><path stroke="#1daea3" d="M1616 153h0m-37 0h0m34 3h0m-112 325h0m-51 14h0m35 -1h0m8 20h0m53 0h0m-125 5h0m22 1h0m69 0h0m4 0h0m-39 22h0"/><path stroke="#92cc53" d="M1486 213h0m-18 5h0m8 -4h0m-11 19h0m0 7h0m-85 293h0m-46 21h0"/><path stroke="#70bc68" d="M1510 196h0m5 4h0m-5 13h0m11 3h0m-130 309h0m3 2h0m4 -2h0m-8 6h0m-9 10h0m-19 3h0m27 2h0m3 -3h0m-24 10h0m-37 7h0m44 -5h0m-38 11h0m7 0h0m6 -3h0"/><path stroke="#7bc262" d="M1493 207h0m11 1h0m-126 323h0m-47 18h0m8 -5h0m42 3h0m11 -4h0m10 0h0m-77 10h0m39 -3h0m-30 10h0m27 4h0"/><path stroke="#15a2bd" d="M1629 130h0m3 1h0m-21 6h0m3 0h0m6 5h0m5 6h0m-126 352h0m-25 4h0m69 26h0m-60 3h0m2 2h0"/><path stroke="#6dbb69" d="M1510 209h0m5 5h0m-130 345h0m-12 7h0"/><path stroke="#bac142" d="M1435 258h0m-38 6h0m24 0h0m-18 6h0m29 2h0m-19 6h0m7 -2h0m5 1h0m-16 5h0m-7 3h0m13 2h0m2 1h0m-14 6h0m13 -3h0m2 7h0"/><path stroke="#18ada8" d="M1605 147h0m0 -1h0m-11 2h0m22 0h0m6 7h0m-131 337h0m31 0h0m-32 19h0m12 -2h0m-31 14h0m76 -4h0m1 4h0m-103 12h0m24 -3h0m-14 9h0"/><path stroke="#56b676" d="M1530 183h0m1 1h0m12 5h0m3 2h0m3 2h0m-10 5h0"/><path stroke="#96cc52" d="M1466 219h0m-6 6h0m6 2h0m6 -1h0m22 8h0m-171 320h0"/><path stroke="#2b83e2" d="M1643 137h0"/><path stroke="#ffe21a" d="M1059 547h0"/><path stroke="#258adb" d="M1644 139h0m-97 295h0"/><path stroke="#32b08f" d="M1567 162h0m11 -3h0m-20 6h0m4 3h0m3 -1h0m9 1h0m10 1h0"/><path stroke="#ffcb2b" d="M1073 538h0"/><path stroke="#38b18a" d="M1559 169h0m8 -3h0m-15 6h0m30 1h0m-10 4h0m-31 362h0"/><path stroke="#ffd226" d="M1058 545h0m10 3h0"/><path stroke="#ffce28" d="M1073 535h0m5 -2h0m-3 10h0"/><path stroke="#13a6b8" d="M1617 134h0m3 3h0m-137 340h0m10 7h0m48 1h0m-102 19h0m-23 12h0m91 -1h0m-37 10h0m-1 8h0m48 -2h0m55 11h0"/><path stroke="#74be66" d="M1494 201h0m18 19h0m-110 310h0m-38 3h0m35 7h0m-15 20h0m6 -1h0m2 -1h0m6 -2h0m-61 10h0m26 0h0m14 -3h0"/><path stroke="#6bbb6b" d="M1511 199h0m-157 338h0m18 -5h0m-20 12h0m30 0h0m-46 7h0m41 -2h0m-21 8h0m11 -1h0"/><path stroke="#11aab3" d="M1623 152h0m-131 314h0m-9 12h0m-23 7h0m-1 45h0m78 6h0m-20 2h0m-12 6h0m22 0h0"/><path stroke="#4166f6" d="M1546 412h0m8 3h0m9 -2h0m-19 9h0m16 -4h0m-2 6h0m5 0h0"/><path stroke="#3e6af4" d="M1550 425h0m-3 10h0"/><path stroke="#445ef8" d="M1547 412h0m4 5h0m-9 12h0m7 17h0"/><path stroke="#4361f8" d="M1543 418h0m8 17h0m-4 4h0"/><path stroke="#4747f4" d="M1545 428h0m7 1h0"/><path stroke="#3d6cf3" d="M1556 390h0m0 19h0m3 -4h0"/><path stroke="#307de8" d="M1542 424h0"/><path stroke="#4068f5" d="M1552 399h0m3 2h0m-1 5h0m3 35h0"/><path stroke="#4747f6" d="M1555 433h0"/><path stroke="#4653f9" d="M1549 428h0m8 3h0"/><path stroke="#3b6ff2" d="M1552 398h0m-4 28h0"/><path stroke="#4263f7" d="M1557 403h0m-15 20h0m21 -4h0m-15 7h0m2 11h0"/><path stroke="#4656f9" d="M1561 419h0"/><path stroke="#3972f0" d="M1553 415h0m6 14h0"/><path stroke="#179fc2" d="M1447 512h0m1 20h0m22 11h0"/><path stroke="#13acad" d="M1503 461h0m-37 16h0m44 13h0m-61 5h0m84 3h0m3 7h0m-29 8h0m24 -2h0m3 9h0m-5 25h0m55 0h0"/><path stroke="#1d93d1" d="M1537 505h0"/><path stroke="#63b96f" d="M1397 538h0m-58 10h0m-12 5h0m21 -2h0m26 15h0"/></g><g stroke-width="3.4" stroke-linecap="round" fill="none"><path stroke="#c5bc3f" d="M1428 268h0m-14 19h0m-3 9h0m2 -5h0m-3 7h0m-15 10h0m14 -4h0m2 0h0m-11 6h0m-6 11h0m-5 3h0m-3 11h0m-11 27h0m-5 3h0m1 5h0m-9 5h0m0 2h0m-14 11h0m1 4h0m9 -2h0m-12 8h0m2 6h0m3 -4h0m-22 6h0m7 2h0m7 0h0m1 2h0m-18 6h0m1 1h0m5 -1h0m7 -2h0m-3 6h0m-14 6h0m2 -2h0m13 -1h0m-24 11h0m5 -2h0m3 -2h0m2 0h0m-26 9h0m11 -1h0m-13 4h0m-3 6h0m1 2h0m-8 5h0m-1 6h0m1 -2h0m3 4h0m4 1h0m-19 7h0m2 0h0m5 -3h0m2 -1h0m5 -1h0m1 0h0m-16 8h0m1 -3h0m0 0h0m8 2h0m-16 9h0m-16 2h0m3 2h0m6 -2h0m2 2h0m8 -2h0m-25 10h0m9 -5h0m-15 8h0m-45 19h0m-29 6h0m-27 8h0m11 -1h0m-19 10h0"/><path stroke="#d7b636" d="M1389 325h0m-10 11h0m-9 4h0m6 0h0m-18 14h0m2 2h0m0 -4h0m7 1h0m5 -2h0m-27 11h0m7 1h0m6 -2h0m-4 3h0m2 1h0m11 -2h0m-16 11h0m10 -3h0m-11 10h0m1 -6h0m-5 6h0m-13 11h0m17 -4h0m-26 6h0m9 3h0m3 -4h0m4 4h0m7 -3h0m-36 10h0m5 0h0m16 -3h0m-19 15h0m20 -1h0m-20 4h0m-20 6h0m-10 4h0m13 2h0m2 0h0m-10 7h0m2 2h0m2 -4h0m0 1h0m4 -1h0m1 1h0m3 1h0m1 -3h0m-29 7h0m1 9h0m-3 6h0m0 2h0m6 -3h0m-15 7h0m9 -4h0m1 4h0m-23 6h0m-3 13h0m2 -4h0m0 1h0m-22 9h0m3 1h0m3 -3h0m4 1h0m-12 7h0m1 0h0m6 -3h0m-24 5h0m29 -1h0m-35 11h0m11 -3h0m7 1h0m-37 5h0m20 0h0m11 -1h0m-44 7h0m-35 9h0m8 -2h0m6 1h0m1 -3h0m1 0h0m0 3h0m-19 3h0m3 1h0m-12 8h0m-17 7h0m11 -4h0m1 1h0m1 -1h0m10 0h0m5 -1h0m-42 17h0"/><path stroke="#c2bd41" d="M1428 279h0m-16 3h0m-1 9h0m15 -1h0m-21 4h0m5 -1h0m6 2h0m-13 3h0m1 2h0m7 -2h0m-10 6h0m5 0h0m1 2h0m-17 8h0m9 -1h0m1 -4h0m-9 21h0m-4 9h0m-13 23h0m1 1h0m2 -5h0m-16 16h0m5 0h0m3 -4h0m1 4h0m1 -3h0m-10 9h0m2 2h0m-8 10h0m-20 9h0m5 1h0m6 0h0m2 2h0m1 -2h0m-2 4h0m-25 10h0m13 -2h0m2 -3h0m4 5h0m0 -2h0m1 0h0m-10 9h0m3 -5h0m1 4h0m-18 6h0m5 -1h0m-10 7h0m12 -2h0m2 -1h0m-16 8h0m-12 8h0m10 -1h0m-16 3h0m2 1h0m-4 4h0m-9 9h0m-15 7h0m3 1h0m1 -1h0m11 -4h0m1 0h0m-15 9h0m2 1h0m4 0h0m7 -4h0m-27 6h0m-4 14h0m2 1h0m5 -4h0m-25 12h0m-78 24h0m14 -1h0m-22 5h0"/><path stroke="#e9b030" d="M1348 375h0m-17 9h0m-23 11h0m-10 8h0m2 -2h0m2 0h0m-16 9h0m3 -3h0m1 0h0m10 3h0m-15 3h0m0 0h0m2 4h0m1 0h0m13 -2h0m-35 7h0m4 -1h0m15 2h0m-30 5h0m10 -1h0m10 -2h0m6 -2h0m1 5h0m7 -4h0m1 2h0m-21 9h0m2 -3h0m7 1h0m11 -4h0m-48 7h0m2 0h0m4 1h0m3 4h0m0 -2h0m2 0h0m1 2h0m6 -4h0m-30 9h0m15 -2h0m5 1h0m-21 3h0m8 1h0m13 -1h0m4 3h0m0 0h0m4 2h0m9 -5h0m-56 10h0m24 -3h0m0 3h0m11 0h0m0 0h0m7 -1h0m14 -3h0m-66 9h0m9 0h0m2 -2h0m2 1h0m0 1h0m23 -3h0m5 1h0m-21 7h0m10 -2h0m14 5h0m-41 1h0m2 0h0m2 5h0m6 -2h0m1 -2h0m9 3h0m1 -2h0m6 0h0m-48 4h0m9 0h0m15 1h0m1 3h0m2 0h0m11 -3h0m1 0h0m0 3h0m2 1h0m11 -5h0m-64 5h0m15 0h0m5 2h0m2 4h0m8 -3h0m2 1h0m1 -3h0m-44 8h0m13 2h0m12 -3h0m3 -1h0m10 2h0m17 0h0m-70 7h0m6 -4h0m8 6h0m0 -4h0m4 1h0m5 0h0m17 1h0m-52 5h0m45 0h0m-52 7h0m11 1h0m9 -2h0m21 -2h0m1 -1h0m-55 9h0m20 -2h0m1 5h0m13 -5h0m-34 11h0m-3 3h0m-11 7h0m2 -1h0m5 1h0m1 -2h0m-8 8h0m0 4h0m-9 6h0"/><path stroke="#e5b030" d="M1335 371h0m12 -1h0m-19 15h0m4 2h0m-15 6h0m8 0h0m2 -2h0m1 1h0m0 -2h0m15 -1h0m-35 9h0m3 -3h0m0 -1h0m9 2h0m-25 8h0m16 -1h0m2 -3h0m-13 9h0m7 -4h0m7 0h0m-39 11h0m5 1h0m2 -4h0m7 2h0m5 0h0m10 -3h0m-35 8h0m2 -1h0m6 -1h0m1 4h0m2 1h0m0 -5h0m4 3h0m8 -3h0m-19 9h0m-2 5h0m16 -1h0m-38 7h0m7 1h0m15 2h0m2 -2h0m3 -1h0m6 -1h0m-51 9h0m3 0h0m14 0h0m1 1h0m22 -5h0m1 0h0m-52 8h0m9 1h0m2 -1h0m3 -2h0m4 4h0m21 -2h0m11 3h0m4 -5h0m-56 10h0m21 -2h0m1 -1h0m2 4h0m1 -2h0m5 -2h0m5 -1h0m0 3h0m2 -3h0m6 1h0m-23 8h0m2 2h0m2 -4h0m1 1h0m1 0h0m6 -1h0m-63 9h0m16 0h0m1 -4h0m5 4h0m11 0h0m4 -2h0m3 2h0m6 0h0m11 -4h0m-38 9h0m1 -1h0m1 1h0m16 1h0m6 0h0m5 -1h0m-44 6h0m16 -4h0m10 4h0m17 1h0m-23 4h0m4 2h0m-6 5h0m-54 2h0m9 6h0m17 -5h0m6 4h0m10 -5h0m20 0h0m-66 9h0m16 1h0m6 -4h0m21 1h0m-29 9h0m4 -1h0m-58 8h0m1 -4h0m12 4h0m8 -2h0m26 -2h0m-50 5h0m1 1h0m28 -1h0m-34 7h0m6 6h0m2 4h0m9 -4h0m-24 12h0m2 1h0m0 2h0"/><path stroke="#56b676" d="M1533 176h0m2 -1h0m-7 5h0m11 3h0m-21 5h0m12 -1h0m0 -3h0m0 -1h0m2 4h0m11 -4h0m4 6h0m1 -5h0m2 5h0m6 -2h0m-40 5h0m28 0h0m2 1h0m2 -3h0m3 0h0m-20 7h0m4 1h0m3 1h0m0 -1h0m3 1h0m1 0h0m1 -2h0m2 0h0m0 1h0m5 -3h0"/><path stroke="#bebf42" d="M1448 245h0m19 13h0m-46 14h0m3 -1h0m11 1h0m1 -2h0m-6 14h0m-17 5h0m3 -1h0m-3 3h0m0 0h0m2 2h0m4 -1h0m-9 10h0m-7 2h0m1 5h0m-26 47h0m0 0h0m-6 12h0m-6 8h0m-7 16h0m-16 25h0m-26 8h0m14 -1h0m6 -1h0m3 1h0m-18 11h0m5 -5h0m-8 5h0m-14 7h0m7 0h0m-17 8h0m1 -1h0m0 1h0m4 -1h0m-6 7h0m6 1h0m-12 12h0m-21 5h0m2 1h0m4 -1h0m-10 8h0m4 -2h0m6 -2h0m1 0h0m-18 8h0m-110 44h0m5 -4h0"/><path stroke="#f4b430" d="M1304 396h0m1 5h0m-14 9h0m10 -1h0m-12 2h0m-21 23h0m2 0h0m8 -3h0m-41 11h0m4 2h0m1 2h0m4 -3h0m10 3h0m-5 1h0m3 4h0m-38 6h0m7 0h0m25 -1h0m-53 9h0m13 -2h0m2 -4h0m2 3h0m21 1h0m7 1h0m5 -2h0m-45 3h0m2 2h0m2 4h0m27 -4h0m-55 8h0m6 2h0m2 -6h0m8 3h0m16 0h0m2 -2h0m8 2h0m1 -3h0m10 1h0m-48 8h0m4 3h0m29 -6h0m-51 10h0m1 -3h0m2 3h0m9 1h0m1 -1h0m10 -2h0m2 0h0m19 3h0m-57 6h0m4 0h0m22 1h0m9 -2h0m7 -3h0m-41 7h0m3 2h0m7 -3h0m22 3h0m-36 5h0m3 -1h0m19 1h0m3 -2h0m-37 6h0m1 4h0m2 -3h0m17 -1h0m3 3h0m1 -2h0m-47 8h0m7 -4h0m-21 12h0m-5 2h0m-8 7h0m9 1h0m4 0h0m-11 7h0m8 -3h0m-9 6h0m4 -2h0m-17 10h0m5 -3h0m2 3h0m3 -3h0"/><path stroke="#9bcc50" d="M1484 221h0m-11 9h0m1 -4h0m6 0h0m1 5h0m2 -1h0m0 0h0m-7 2h0m2 1h0m4 3h0m11 1h0m3 -3h0m3 -1h0m-51 8h0m15 -1h0m1 1h0m11 1h0m3 -2h0m13 -3h0m4 3h0m-45 6h0m33 1h0m0 -1h0m-9 9h0m-34 1h0m22 0h0m-33 13h0"/><path stroke="#ddb232" d="M1373 344h0m-23 13h0m4 -4h0m6 -1h0m-11 9h0m0 -3h0m5 2h0m3 -1h0m0 2h0m-19 7h0m4 -3h0m1 3h0m3 -4h0m9 5h0m-17 4h0m3 -3h0m2 1h0m5 2h0m13 -4h0m-17 12h0m-16 6h0m-15 4h0m4 -1h0m1 -2h0m1 -1h0m1 0h0m1 4h0m6 -2h0m4 -1h0m2 5h0m0 -5h0m-2 8h0m-21 5h0m9 3h0m2 0h0m1 -2h0m-16 13h0m11 -3h0m-12 10h0m-20 6h0m10 -4h0m3 2h0m-48 5h0m24 3h0m6 -2h0m3 1h0m1 4h0m-16 5h0m9 4h0m3 -4h0m2 2h0m-59 4h0m36 2h0m15 3h0m-12 2h0m14 -2h0m-26 9h0m-40 14h0m29 -2h0m0 2h0m2 -3h0m13 -2h0m-26 11h0m5 1h0m11 -3h0m-25 6h0m7 0h0m0 1h0m13 -1h0m-47 6h0m22 0h0m-11 4h0m11 5h0m3 -4h0m6 0h0m-38 8h0m-9 4h0m-44 9h0m7 0h0m-24 6h0m4 -4h0m1 0h0m3 3h0m22 -3h0m9 0h0m-31 9h0m8 -4h0m-29 7h0m12 -1h0m1 4h0m8 -4h0m1 1h0m-30 16h0m3 1h0m2 -6h0m9 2h0m2 -2h0"/><path stroke="#60b870" d="M1523 186h0m4 2h0m4 0h0m2 -4h0m2 0h0m-18 7h0m2 -1h0m4 -1h0m2 3h0m4 0h0m10 1h0m3 -1h0m-28 5h0m18 -2h0m7 5h0m1 -4h0"/><path stroke="#ffce28" d="M1079 537h0m2 -1h0m0 0h0m-3 5h0m-5 5h0m0 -2h0m3 0h0m-14 7h0"/><path stroke="#9fcc4e" d="M1469 223h0m-2 5h0m10 -2h0m1 2h0m-9 5h0m11 -2h0m3 5h0m16 -1h0m-45 3h0m1 2h0m9 1h0m9 0h0m1 0h0m3 1h0m9 -4h0m5 0h0m-54 11h0m11 -4h0m6 1h0m0 0h0m14 2h0m4 -4h0m15 2h0m-28 6h0m6 0h0m-37 8h0m6 -3h0m21 3h0m5 -3h0m-11 5h0m-123 178h0m-3 3h0m-24 13h0m8 0h0"/><path stroke="#f1b130" d="M1317 391h0m-20 13h0m8 0h0m-11 6h0m2 -3h0m3 4h0m11 -4h0m-30 10h0m1 5h0m5 -5h0m3 1h0m-36 17h0m3 -2h0m22 -1h0m-34 7h0m6 1h0m8 0h0m9 -2h0m-35 9h0m10 -3h0m22 -2h0m1 4h0m5 -4h0m-55 10h0m24 -3h0m0 4h0m6 -1h0m7 -3h0m-38 6h0m2 3h0m7 0h0m-25 7h0m7 -1h0m5 -3h0m23 1h0m6 -2h0m-31 7h0m1 -2h0m3 5h0m15 -4h0m5 2h0m-52 8h0m1 -3h0m5 1h0m13 -3h0m3 2h0m9 2h0m3 -3h0m1 2h0m-42 3h0m1 0h0m7 1h0m2 2h0m0 0h0m3 2h0m1 -3h0m4 1h0m1 -1h0m1 0h0m13 2h0m0 -2h0m20 0h0m-66 7h0m19 1h0m6 -1h0m3 1h0m-41 6h0m10 -3h0m1 3h0m24 1h0m12 -4h0m2 -1h0m-43 12h0m4 -2h0m9 0h0m4 -4h0m5 5h0m1 -2h0m7 1h0m-51 3h0m6 1h0m15 2h0m8 -2h0m4 3h0m-21 1h0m0 5h0m9 -3h0m10 -1h0m-36 5h0m18 0h0m-41 7h0m4 1h0m-20 10h0m13 -3h0m0 1h0m-7 6h0m0 -4h0m4 4h0m2 -4h0m3 1h0m-11 6h0m7 2h0m-14 10h0"/><path stroke="#dfb131" d="M1353 354h0m-5 7h0m20 0h0m-36 14h0m8 -5h0m7 4h0m-22 6h0m0 -1h0m4 -4h0m0 3h0m3 -1h0m4 2h0m1 -3h0m1 3h0m0 -3h0m3 3h0m-7 3h0m7 0h0m1 1h0m-26 4h0m3 1h0m11 4h0m3 -3h0m3 -1h0m-34 9h0m10 2h0m11 -2h0m-18 3h0m14 3h0m9 -2h0m-31 8h0m4 -1h0m3 3h0m12 -1h0m-22 6h0m13 -2h0m6 -1h0m2 4h0m-50 5h0m5 -3h0m11 0h0m19 1h0m-38 6h0m0 3h0m1 -2h0m0 0h0m25 -1h0m4 2h0m4 -1h0m-38 5h0m15 5h0m13 0h0m-57 9h0m9 -2h0m17 1h0m10 -1h0m-2 4h0m0 2h0m-2 5h0m-63 7h0m13 3h0m42 -6h0m3 5h0m17 -4h0m-36 6h0m9 2h0m2 -2h0m5 4h0m-26 7h0m10 -2h0m11 -4h0m-11 9h0m9 -1h0m-31 10h0m1 -4h0m1 0h0m16 -2h0m-27 11h0m5 -4h0m8 0h0m3 5h0m-29 4h0m7 1h0m7 0h0m-45 7h0m33 -2h0m13 -2h0m-88 10h0m48 -3h0m-26 7h0m3 -1h0m6 1h0m22 -3h0m-63 9h0m2 2h0m1 -3h0m9 -3h0m10 1h0m-17 10h0m3 -4h0m-16 15h0m-4 7h0m2 -5h0m4 4h0m-14 5h0m9 -1h0"/><path stroke="#27af99" d="M1569 158h0m1 1h0m5 -1h0m0 -3h0m1 2h0m0 2h0m3 -4h0m5 -1h0m4 2h0m1 2h0m9 -1h0m3 1h0m2 -2h0m6 2h0m0 0h0m3 -4h0m3 0h0m-44 9h0m11 -3h0m2 1h0m1 -1h0m6 5h0m4 -3h0m0 -1h0m2 -1h0m5 1h0m6 1h0m2 -1h0m6 -1h0m-36 6h0m1 2h0m10 1h0m3 -4h0"/><path stroke="#fcc32e" d="M1245 436h0m-28 33h0m-122 62h0m-21 10h0m8 -4h0m2 4h0m-15 7h0m0 -2h0m1 1h0m0 -1h0m11 -1h0m-9 8h0m9 -2h0"/><path stroke="#edb030" d="M1337 383h0m-10 5h0m-7 9h0m3 1h0m-16 6h0m3 -1h0m2 1h0m-24 5h0m2 2h0m5 -6h0m-7 8h0m1 1h0m5 2h0m-11 3h0m4 -1h0m11 0h0m0 -1h0m-34 11h0m7 -3h0m5 -2h0m4 6h0m4 -2h0m-31 6h0m8 -1h0m1 1h0m3 0h0m7 1h0m1 0h0m1 -4h0m-36 9h0m4 -2h0m4 2h0m3 -4h0m0 4h0m2 2h0m0 -5h0m1 5h0m15 -4h0m4 -2h0m4 6h0m-40 3h0m4 0h0m9 1h0m3 -3h0m5 4h0m4 -3h0m1 -1h0m1 5h0m3 -6h0m7 2h0m-51 8h0m3 1h0m23 -1h0m2 -1h0m5 -3h0m-45 11h0m6 -3h0m3 1h0m5 2h0m4 1h0m4 -2h0m4 -1h0m5 3h0m-25 3h0m5 0h0m12 -1h0m1 -1h0m1 3h0m-32 5h0m0 2h0m2 -3h0m5 2h0m4 -3h0m13 3h0m6 -1h0m7 -1h0m-48 6h0m39 1h0m-56 5h0m6 -1h0m1 1h0m0 2h0m30 -2h0m5 3h0m-59 6h0m5 1h0m0 -1h0m2 -2h0m12 2h0m8 -2h0m16 -2h0m5 3h0m1 2h0m15 -6h0m2 1h0m-66 6h0m2 2h0m2 0h0m5 -1h0m2 2h0m1 -1h0m7 1h0m4 -3h0m4 2h0m-35 7h0m7 -1h0m1 0h0m1 0h0m3 0h0m19 1h0m1 1h0m11 -3h0m8 1h0m-66 3h0m0 5h0m10 -4h0m11 5h0m9 -5h0m3 2h0m1 1h0m3 0h0m3 -1h0m-46 7h0m37 0h0m-50 3h0m13 -1h0m11 1h0m13 -1h0m-44 9h0m1 -3h0m4 5h0m3 -4h0m-18 10h0m-11 3h0m4 1h0m8 1h0m6 4h0m-16 6h0m2 2h0m3 0h0m5 -1h0m2 -1h0m-8 6h0"/><path stroke="#65b96d" d="M1519 192h0m1 2h0m10 0h0m3 -2h0m-12 4h0m0 0h0m18 3h0m3 0h0m-22 3h0m18 1h0"/><path stroke="#dbb434" d="M1373 343h0m-18 13h0m4 -2h0m-4 8h0m8 -3h0m1 4h0m-20 4h0m-3 4h0m3 0h0m6 1h0m-14 8h0m3 -3h0m2 3h0m8 -1h0m0 -2h0m-29 8h0m5 0h0m6 -2h0m2 8h0m6 -3h0m-34 10h0m11 -4h0m2 4h0m9 -3h0m4 0h0m-14 4h0m4 3h0m8 -2h0m-4 5h0m2 3h0m-15 4h0m-10 6h0m4 1h0m4 4h0m-14 1h0m1 -1h0m2 2h0m4 1h0m-4 4h0m-6 9h0m1 1h0m-22 5h0m2 2h0m6 -2h0m-4 7h0m11 -2h0m-29 9h0m2 -4h0m4 3h0m-7 2h0m2 4h0m-16 5h0m2 1h0m1 -1h0m-8 5h0m13 0h0m-55 6h0m37 0h0m4 0h0m2 -1h0m-7 9h0m-26 4h0m15 1h0m0 -3h0m3 1h0m0 2h0m1 -2h0m-37 9h0m20 -1h0m6 1h0m3 -5h0m9 6h0m-42 4h0m2 0h0m0 2h0m2 -3h0m5 1h0m3 -3h0m9 2h0m1 -2h0m7 0h0m-42 11h0m4 -2h0m2 -1h0m1 -2h0m14 4h0m3 -3h0m-67 8h0m1 -2h0m-5 7h0m1 -1h0m7 0h0m2 0h0m-21 5h0m-4 8h0m3 -1h0m2 -1h0m1 -1h0m3 4h0m4 -2h0m-14 5h0m-12 9h0m9 2h0m0 -3h0m1 -1h0m2 1h0m3 0h0m-21 6h0m8 -1h0m3 -1h0"/><path stroke="#3eb184" d="M1544 169h0m0 2h0m5 -1h0m3 0h0m1 -4h0m1 4h0m0 -3h0m14 4h0m-30 2h0m22 -2h0m1 4h0m2 0h0m1 -2h0m4 4h0m4 -3h0m1 -2h0m-19 9h0m4 -2h0m2 -2h0m8 3h0m0 -2h0m3 1h0m0 -2h0m0 1h0m1 2h0m1 -1h0m0 0h0m1 -1h0m2 1h0m-6 4h0"/><path stroke="#92cc53" d="M1482 216h0m-11 7h0m8 -2h0m11 0h0m-23 6h0m3 2h0m5 2h0m2 -6h0m2 6h0m7 -3h0m4 2h0m3 -2h0m4 -2h0m7 5h0m-8 4h0m-27 6h0m20 0h0m1 1h0m-21 6h0m12 -2h0m-43 6h0m23 4h0"/><path stroke="#1daea3" d="M1581 152h0m3 -1h0m2 -1h0m3 -2h0m4 5h0m6 0h0m1 -2h0m2 2h0m2 -1h0m2 -2h0m7 2h0m-31 2h0m12 -1h0m13 2h0m0 -1h0m6 2h0m3 -1h0m2 0h0m2 3h0m1 -3h0"/><path stroke="#d5b838" d="M1390 319h0m-7 5h0m-9 13h0m8 -2h0m0 -1h0m-17 10h0m-3 5h0m11 2h0m-21 5h0m-8 6h0m18 -5h0m8 1h0m-14 7h0m4 3h0m-14 12h0m0 -1h0m3 -4h0m0 1h0m10 4h0m-10 1h0m1 3h0m2 -3h0m4 1h0m-20 7h0m4 -1h0m3 2h0m3 0h0m5 1h0m-16 4h0m1 2h0m-3 4h0m10 3h0m-17 3h0m-4 7h0m8 -1h0m-24 5h0m5 2h0m-11 7h0m2 -2h0m4 1h0m-12 7h0m5 -3h0m-17 9h0m2 7h0m-8 10h0m3 0h0m1 -3h0m-14 8h0m0 1h0m6 -2h0m1 2h0m13 -2h0m-38 11h0m10 -3h0m1 -2h0m2 3h0m0 -3h0m8 1h0m2 3h0m1 -4h0m1 0h0m-25 6h0m3 1h0m3 4h0m-14 5h0m5 -3h0m6 -1h0m7 -1h0m-24 8h0m2 -1h0m4 2h0m12 -1h0m-29 10h0m13 -5h0m7 3h0m-38 7h0m5 -1h0m15 -2h0m4 3h0m0 -5h0m-15 9h0m6 0h0m-45 6h0m2 3h0m0 -1h0m3 -4h0m11 2h0m8 0h0m11 -2h0m-41 7h0m9 -2h0m-44 12h0m6 -1h0m12 -1h0m10 -4h0m-32 10h0m6 0h0m10 2h0m-27 4h0m4 1h0m0 0h0m1 0h0m1 -4h0m1 2h0m11 -3h0"/><path stroke="#d2b939" d="M1393 324h0m-9 8h0m8 -4h0m-19 10h0m3 0h0m8 -3h0m-18 7h0m9 -1h0m2 0h0m8 3h0m1 -4h0m-16 8h0m6 2h0m-18 1h0m16 2h0m-8 14h0m-14 13h0m1 -3h0m0 2h0m7 2h0m-20 5h0m5 -3h0m-4 8h0m7 -2h0m-4 6h0m-23 11h0m11 1h0m4 -2h0m-20 11h0m5 -3h0m2 0h0m2 0h0m3 1h0m1 -3h0m-18 10h0m-6 3h0m1 0h0m0 2h0m8 -2h0m-5 8h0m-16 8h0m3 0h0m7 -2h0m1 1h0m-17 3h0m1 4h0m7 0h0m-22 13h0m5 -2h0m3 0h0m4 -2h0m0 1h0m-13 6h0m2 -2h0m-14 6h0m4 2h0m-11 8h0m4 0h0m1 -3h0m10 1h0m-26 6h0m7 2h0m8 -3h0m5 0h0m-28 9h0m2 -2h0m18 -1h0m-20 8h0m0 0h0m2 -3h0m6 0h0m-29 11h0m12 -5h0m-17 11h0m1 -1h0m0 1h0m9 -3h0m1 -2h0m0 -1h0m-41 10h0m7 1h0m5 -1h0m20 -4h0m4 1h0m-32 7h0m5 3h0m-30 5h0m11 -2h0m5 -2h0m-37 11h0m-6 2h0m5 0h0m8 0h0m-22 10h0m2 0h0m3 -2h0m-27 9h0"/><path stroke="#f7b730" d="M1279 417h0m-15 23h0m-23 2h0m-20 9h0m32 1h0m-48 6h0m9 -2h0m3 1h0m9 -1h0m1 3h0m2 -4h0m-28 8h0m6 -3h0m1 4h0m13 -3h0m18 1h0m-46 5h0m4 -1h0m13 5h0m6 -3h0m16 3h0m-44 3h0m1 -2h0m6 5h0m6 -3h0m10 -1h0m-43 9h0m10 -5h0m2 0h0m8 4h0m0 1h0m0 1h0m18 -5h0m7 -1h0m-56 12h0m27 -2h0m3 3h0m10 1h0m-52 5h0m5 2h0m1 3h0m27 0h0m5 -2h0m-51 8h0m6 -5h0m2 0h0m8 4h0m17 1h0m2 -3h0m-47 9h0m8 -4h0m2 -1h0m1 4h0m0 -4h0m6 5h0m14 -1h0m2 0h0m6 -4h0m-45 6h0m1 1h0m7 0h0m25 -2h0m-51 13h0m-12 7h0m2 -1h0m5 3h0m-8 2h0m0 8h0m5 1h0m-6 6h0"/><path stroke="#86c75b" d="M1487 212h0m-11 7h0m16 -2h0m9 0h0m-15 3h0m8 2h0m5 -2h0m3 0h0m3 1h0m0 0h0m3 4h0m-40 1h0m37 2h0m2 -2h0m2 3h0m-8 5h0"/><path stroke="#fbbf2e" d="M1211 458h0m4 5h0m-39 17h0m9 3h0m-30 9h0m5 11h0m-32 7h0m-32 26h0m-21 3h0m1 -1h0m1 3h0m-5 6h0m6 -1h0m1 1h0m5 -3h0m-21 8h0m16 -2h0"/><path stroke="#ffcb2b" d="M1082 534h0m-8 6h0m2 2h0m-6 6h0m11 -5h0"/><path stroke="#c8bb3e" d="M1415 279h0m4 2h0m-4 13h0m-20 12h0m7 1h0m3 -1h0m-10 5h0m8 -1h0m-10 10h0m-4 8h0m-18 28h0m6 3h0m-9 6h0m2 0h0m1 -1h0m-11 6h0m8 0h0m3 0h0m-15 15h0m-7 4h0m0 -1h0m-5 10h0m5 -3h0m5 2h0m-14 7h0m3 -2h0m5 2h0m-12 4h0m-21 14h0m-5 12h0m3 -4h0m-13 6h0m-11 10h0m-22 11h0m9 8h0m3 4h0m7 0h0m1 -1h0m0 -2h0m-24 11h0m0 2h0m-18 8h0m4 1h0m2 0h0m9 -4h0m-21 7h0m-26 14h0m16 -3h0m-31 8h0m-16 6h0m5 1h0m4 -2h0m-44 10h0m8 0h0m20 -4h0m2 -1h0m2 -1h0m-49 17h0m7 -1h0m6 -2h0m-13 5h0"/><path stroke="#d9b535" d="M1387 332h0m-10 5h0m-12 8h0m4 -3h0m14 -1h0m-24 10h0m1 -2h0m2 2h0m-5 2h0m-8 6h0m13 0h0m-8 6h0m0 4h0m-15 2h0m2 1h0m10 -1h0m1 0h0m-18 6h0m8 3h0m-27 7h0m9 -5h0m7 2h0m15 -2h0m-12 9h0m2 1h0m5 -1h0m7 -3h0m-18 5h0m4 5h0m1 -3h0m-6 8h0m-14 6h0m2 -2h0m4 1h0m1 -2h0m1 3h0m-9 4h0m-14 10h0m-7 0h0m17 2h0m4 -1h0m-24 7h0m3 2h0m-9 7h0m2 -3h0m6 2h0m-18 7h0m6 -1h0m6 -3h0m-9 10h0m8 -5h0m-26 10h0m9 -3h0m3 0h0m5 -1h0m-31 15h0m18 1h0m-11 6h0m-26 7h0m7 0h0m9 -2h0m-12 8h0m-10 4h0m2 1h0m0 3h0m-37 7h0m15 1h0m6 3h0m0 -4h0m-29 5h0m2 0h0m2 2h0m1 0h0m7 2h0m3 -4h0m5 3h0m1 1h0m5 -1h0m5 -4h0m-29 10h0m13 -3h0m-65 10h0m17 -1h0m13 -1h0m-39 7h0m0 -3h0m2 1h0m1 -1h0m7 2h0m1 -2h0m7 6h0m-24 6h0m8 4h0m-16 4h0m5 -1h0m2 1h0m5 -1h0"/><path stroke="#e1b030" d="M1354 367h0m-30 18h0m-5 6h0m14 -1h0m-27 4h0m9 3h0m8 -2h0m-20 7h0m4 1h0m10 -3h0m-28 9h0m1 2h0m0 -5h0m7 4h0m2 -4h0m13 2h0m0 -3h0m-35 9h0m7 1h0m14 2h0m5 -4h0m4 0h0m-43 11h0m14 1h0m8 3h0m4 0h0m4 -4h0m-41 9h0m16 -4h0m5 6h0m8 -2h0m9 -2h0m-44 9h0m8 -2h0m10 -2h0m-23 9h0m8 0h0m12 1h0m11 -2h0m2 -3h0m-48 12h0m18 0h0m4 -1h0m6 0h0m4 0h0m5 -2h0m3 2h0m-44 2h0m19 4h0m12 -4h0m1 1h0m2 -2h0m-5 11h0m5 -3h0m-37 6h0m1 3h0m-27 6h0m10 -5h0m23 1h0m-10 11h0m26 -5h0m-60 6h0m34 4h0m8 -3h0m3 1h0m-78 7h0m3 2h0m55 0h0m10 -3h0m-30 7h0m5 -4h0m15 3h0m1 -2h0m-35 11h0m11 -1h0m3 -1h0m21 -3h0m-83 9h0m36 -1h0m0 1h0m5 -1h0m-51 7h0m0 0h0m14 -3h0m4 1h0m5 3h0m1 -2h0m7 2h0m-43 6h0m8 -4h0m6 5h0m-6 3h0m6 -2h0m-14 11h0m-4 4h0m-8 6h0m19 -2h0m-20 5h0"/><path stroke="#179fc2" d="M1612 139h0m9 -2h0m1 4h0m8 -3h0m1 -2h0m-10 6h0m3 2h0m9 -1h0m-3 5h0m0 0h0"/><path stroke="#22ae9e" d="M1583 151h0m5 -1h0m2 -2h0m8 2h0m2 -1h0m3 4h0m1 -2h0m0 1h0m-37 6h0m14 -1h0m0 -2h0m1 -2h0m1 6h0m4 -5h0m1 0h0m1 4h0m0 -3h0m7 3h0m3 1h0m2 -3h0m1 1h0m7 -1h0m2 0h0m1 0h0m2 1h0m5 1h0m-21 2h0m2 4h0m-10 1h0"/><path stroke="#cbba3c" d="M1410 289h0m1 6h0m-11 6h0m-4 4h0m4 1h0m1 4h0m-19 14h0m5 -2h0m2 0h0m0 4h0m-7 5h0m-13 24h0m5 2h0m3 -3h0m-12 8h0m10 -3h0m-14 8h0m8 2h0m3 -3h0m1 0h0m-7 7h0m-8 5h0m8 -2h0m-21 11h0m4 3h0m1 0h0m9 0h0m1 1h0m-11 8h0m-17 12h0m0 -3h0m9 2h0m-10 1h0m1 2h0m4 1h0m4 3h0m-22 3h0m14 -2h0m-18 6h0m0 1h0m4 0h0m1 2h0m-8 6h0m-25 19h0m4 0h0m4 -2h0m-15 9h0m0 3h0m8 -3h0m0 1h0m2 -1h0m-7 7h0m3 2h0m-27 7h0m6 2h0m-8 2h0m10 4h0m-20 11h0m-21 6h0m6 -2h0m9 -1h0m1 -1h0m-28 9h0m8 -1h0m-32 9h0m22 -6h0m-38 10h0m-34 5h0m19 2h0m10 0h0m4 -2h0m-41 9h0"/><path stroke="#1b97cc" d="M1629 134h0m12 0h0m1 0h0m4 -3h0m-14 6h0m1 2h0m1 -3h0m1 3h0m0 -2h0m0 3h0m1 -2h0m-9 7h0m4 -1h0m3 2h0m-1 5h0m2 -4h0"/><path stroke="#8ac959" d="M1485 213h0m14 3h0m0 2h0m4 -3h0m-24 6h0m3 0h0m26 -1h0m-17 6h0m0 2h0m6 1h0m4 1h0m2 -1h0m3 0h0m4 -1h0m-22 8h0"/><path stroke="#38b18a" d="M1557 164h0m4 -1h0m-17 8h0m5 -2h0m5 -2h0m3 -2h0m2 0h0m3 3h0m1 0h0m6 -2h0m2 3h0m-20 3h0m2 0h0m4 2h0m7 2h0m16 -3h0m2 3h0m3 -2h0m2 -1h0m-24 5h0m6 -1h0m2 5h0"/><path stroke="#a4cc4c" d="M1467 225h0m10 -2h0m-14 9h0m5 2h0m9 -2h0m-16 10h0m7 -1h0m6 -1h0m14 0h0m-44 7h0m3 1h0m12 -1h0m7 0h0m2 1h0m1 -2h0m8 2h0m2 -4h0m-43 7h0m13 1h0m5 -3h0m1 1h0m5 1h0m4 3h0m0 -1h0m6 -3h0m6 2h0m-42 6h0m33 -2h0m-30 7h0m17 0h0m2 3h0m-35 18h0m-88 149h0m-8 7h0m-2 2h0m1 0h0m2 0h0m-23 16h0m0 -1h0m4 -4h0"/><path stroke="#2cb094" d="M1581 157h0m20 1h0m-38 1h0m0 4h0m1 -2h0m3 1h0m2 -2h0m2 4h0m1 -1h0m4 1h0m2 -5h0m1 3h0m8 1h0m6 -3h0m1 0h0m7 4h0m8 -3h0m-44 9h0m6 -2h0m10 -2h0m3 0h0m0 3h0m1 0h0m1 -1h0m0 2h0m1 0h0m2 0h0m3 -4h0m2 2h0m0 -3h0"/><path stroke="#cfb93b" d="M1408 302h0m-6 9h0m-19 18h0m7 1h0m-13 5h0m11 -2h0m-12 10h0m-5 6h0m-15 8h0m14 0h0m2 -2h0m4 1h0m2 -3h0m2 -1h0m0 0h0m-5 5h0m-11 15h0m-5 3h0m-17 17h0m2 0h0m-4 1h0m-9 17h0m3 3h0m-13 5h0m-11 11h0m1 0h0m1 -2h0m3 -1h0m-10 4h0m1 4h0m8 0h0m-20 4h0m-8 10h0m-6 6h0m-8 7h0m1 1h0m1 -2h0m1 3h0m3 1h0m-18 4h0m4 -1h0m-5 4h0m-8 10h0m7 1h0m-27 7h0m6 -2h0m5 2h0m2 -2h0m-6 7h0m9 -5h0m-24 10h0m4 -1h0m-13 6h0m3 3h0m6 -4h0m-43 6h0m14 2h0m1 -2h0m3 1h0m-26 6h0m0 2h0m12 -3h0m-37 10h0m20 0h0m6 -4h0m0 -1h0m-35 7h0m2 3h0m8 -4h0m13 0h0m-35 7h0m1 2h0m7 -3h0m6 1h0"/><path stroke="#abc848" d="M1477 235h0m2 -1h0m-13 5h0m6 2h0m-26 2h0m4 5h0m15 0h0m3 -2h0m0 0h0m-29 4h0m1 4h0m4 -1h0m16 0h0m-22 2h0m1 2h0m2 -1h0m1 0h0m7 2h0m3 0h0m1 -2h0m3 4h0m1 -2h0m3 1h0m3 -1h0m1 -1h0m0 -1h0m2 2h0m2 0h0m2 -1h0m-46 6h0m2 2h0m5 1h0m0 -4h0m8 3h0m3 -2h0m4 2h0m6 -3h0m3 0h0m-33 8h0m2 0h0m2 1h0m7 -4h0m14 3h0m-22 9h0m2 -4h0m13 -2h0m3 3h0m-31 14h0m5 -2h0m4 -1h0m-85 142h0m-10 2h0m4 6h0m-20 14h0m0 -2h0m3 3h0m-12 5h0m3 -1h0m4 -2h0m-12 9h0"/><path stroke="#7bc262" d="M1501 205h0m-4 3h0m1 4h0m9 -4h0m2 3h0m1 1h0m0 -1h0m6 1h0m-27 3h0m8 -1h0m11 2h0m10 1h0m3 -2h0m-14 9h0m7 -1h0m1 -4h0"/><path stroke="#4db47b" d="M1541 176h0m7 -3h0m-5 4h0m4 4h0m0 -2h0m2 4h0m12 -4h0m-31 4h0m4 1h0m3 4h0m2 -4h0m6 -1h0m3 5h0m4 0h0m4 -3h0m7 -1h0m0 3h0m0 -2h0m2 -2h0m0 2h0m-27 7h0"/><path stroke="#bac142" d="M1459 250h0m14 4h0m-35 7h0m18 -1h0m4 -2h0m-24 5h0m2 3h0m-16 3h0m1 3h0m5 0h0m-11 5h0m10 1h0m-9 2h0m3 4h0m7 0h0m-21 6h0m5 -1h0m13 -1h0m-18 6h0m9 2h0m5 -2h0m-12 5h0m1 2h0m1 2h0m1 -5h0m-40 62h0m-4 16h0m-8 15h0m-8 13h0m2 -4h0m-3 6h0m-17 11h0m2 -2h0m8 0h0m-8 5h0m-9 8h0m0 1h0m-14 5h0m2 -2h0m8 1h0m1 -1h0m8 0h0m-21 4h0m2 4h0m-16 5h0m8 0h0m-3 2h0m-8 8h0m-9 8h0m3 -2h0m1 2h0m3 1h0m-7 3h0m5 0h0m-21 9h0m4 -2h0m1 -1h0m-5 7h0m-22 14h0m3 -2h0m-91 32h0m17 -4h0m-29 8h0m12 -1h0"/><path stroke="#b3c545" d="M1438 249h0m2 3h0m7 3h0m2 -3h0m8 2h0m11 -1h0m-40 7h0m16 -3h0m8 1h0m-23 5h0m22 -2h0m8 1h0m-26 9h0m8 -3h0m3 1h0m1 1h0m-27 3h0m1 2h0m4 0h0m4 4h0m11 -4h0m6 -2h0m-11 7h0m-21 9h0m0 2h0m11 -1h0m5 -3h0m-7 6h0m-63 101h0m-28 30h0m6 0h0m1 4h0m-16 4h0m1 6h0m-11 7h0m7 2h0m2 -4h0m1 0h0m2 0h0m-27 15h0m7 -2h0m4 -2h0m2 0h0"/><path stroke="#96cc52" d="M1478 218h0m4 -1h0m-14 7h0m4 -3h0m11 1h0m5 1h0m1 1h0m0 -1h0m-16 5h0m8 2h0m21 -4h0m-38 6h0m10 4h0m0 -3h0m3 3h0m4 1h0m3 -1h0m8 -4h0m-13 9h0m1 -2h0m2 0h0m-41 8h0m6 -3h0m19 2h0m1 0h0m16 -2h0m-30 13h0"/><path stroke="#45b27f" d="M1545 170h0m-5 7h0m25 -2h0m-32 6h0m6 -4h0m5 1h0m1 4h0m5 -1h0m1 -1h0m0 0h0m3 -3h0m3 1h0m8 1h0m4 0h0m1 4h0m1 -2h0m-15 3h0m8 0h0m4 1h0"/><path stroke="#afc646" d="M1449 244h0m10 5h0m1 -5h0m9 2h0m-30 9h0m9 1h0m15 1h0m-35 10h0m15 -1h0m1 -2h0m6 1h0m-23 3h0m0 0h0m4 0h0m0 1h0m12 1h0m2 -3h0m3 3h0m-25 5h0m18 2h0m3 -2h0m-25 6h0m-3 8h0m8 -1h0m-81 131h0m-15 5h0m7 -1h0m3 4h0m-9 5h0m6 -2h0m-20 7h0m-6 6h0m3 -1h0m1 4h0m6 1h0m4 -2h0m-19 3h0m-44 38h0"/><path stroke="#82c55e" d="M1491 212h0m5 -1h0m3 2h0m-12 6h0m8 1h0m2 4h0m6 -2h0m-3 12h0"/><path stroke="#74be66" d="M1507 199h0m0 0h0m-7 5h0m4 0h0m2 0h0m15 8h0m9 -1h0m-16 5h0m11 -1h0m-21 10h0"/><path stroke="#2090d4" d="M1638 138h0m0 1h0m4 -4h0m-4 9h0m2 0h0m3 -3h0"/><path stroke="#a8ca4a" d="M1479 222h0m-17 10h0m1 2h0m11 0h0m-15 9h0m2 -3h0m0 3h0m-7 1h0m14 2h0m17 1h0m-50 6h0m7 -3h0m2 0h0m0 2h0m30 2h0m0 -4h0m-34 5h0m13 5h0m3 -3h0m10 -2h0m-34 10h0m12 0h0m7 -2h0m9 1h0m-36 3h0m16 9h0m-17 5h0m11 -1h0m-86 133h0m-18 16h0m-1 7h0m-16 10h0m-10 13h0"/><path stroke="#5eb871" d="M1528 185h0m4 -2h0m2 2h0m1 2h0m1 1h0m-22 5h0m2 1h0m4 -5h0m9 1h0m2 2h0m5 0h0m7 3h0m1 -1h0m1 -1h0m2 -2h0m-6 6h0m2 0h0"/><path stroke="#ffd226" d="M1071 540h0m3 2h0m-10 5h0m4 -3h0m1 2h0m2 7h0"/><path stroke="#63b96f" d="M1524 183h0m2 3h0m4 1h0m5 6h0m-21 6h0m1 -2h0m9 -2h0m8 1h0m-5 7h0"/><path stroke="#6dbb69" d="M1509 197h0m-13 10h0m6 -6h0m3 3h0m1 0h0m17 2h0m-14 3h0m8 1h0m12 -1h0m-24 7h0m17 -1h0m-5 6h0"/><path stroke="#2886df" d="M1644 138h0m0 1h0m3 2h0"/><path stroke="#32b08f" d="M1557 162h0m2 2h0m5 -3h0m6 3h0m1 -1h0m7 0h0m9 -2h0m-29 9h0m8 -1h0m0 -4h0m0 1h0m3 1h0m2 1h0m3 2h0m4 -1h0m6 0h0m1 -2h0m9 3h0m1 -1h0m1 1h0m2 -2h0m-56 5h0m31 3h0m0 -1h0m1 -1h0m0 0h0m5 1h0m1 -2h0m1 0h0m-2 4h0"/><path stroke="#199bc7" d="M1622 142h0m4 4h0m5 -4h0m1 2h0m0 3h0m2 -3h0m1 4h0"/><path stroke="#258adb" d="M1637 136h0m4 4h0m2 -3h0m2 3h0m-2 6h0m0 -4h0m1 1h0"/><path stroke="#70bc68" d="M1503 200h0m11 -3h0m-1 8h0m0 5h0m2 2h0m8 -4h0m1 3h0m-25 6h0m9 2h0m1 -4h0m7 -1h0m0 4h0m-3 4h0m4 -2h0"/><path stroke="#77c064" d="M1503 207h0m4 -3h0m5 -2h0m2 2h0m-18 3h0m1 1h0m6 0h0m4 0h0m3 1h0m6 4h0m9 -1h0m-36 5h0m10 0h0m16 -2h0m5 4h0"/><path stroke="#f9bb2f" d="M1221 450h0m21 0h0m-34 12h0m6 0h0m32 -1h0m-63 16h0m15 5h0m-37 3h0m43 1h0m-26 8h0m0 -1h0m14 0h0m7 -4h0m-58 12h0m17 -5h0m-27 7h0m22 4h0m3 -5h0m10 4h0m-43 3h0m26 1h0m-70 27h0m13 -6h0m3 4h0m-15 5h0m8 -1h0m-9 9h0"/><path stroke="#307de8" d="M1649 132h0"/><path stroke="#11aab3" d="M1610 140h0m0 3h0m8 9h0m5 -2h0m2 -1h0m2 5h0"/><path stroke="#ffe21a" d="M1067 546h0m-10 4h0"/><path stroke="#13a6b8" d="M1633 134h0m2 0h0m-21 11h0m5 -2h0m3 3h0m-1 3h0m8 0h0m4 2h0"/><path stroke="#18ada8" d="M1596 146h0m6 0h0m2 -1h0m4 0h0m5 0h0m-4 2h0m4 1h0m-22 6h0m29 2h0"/><path stroke="#6bbb6b" d="M1516 193h0m-15 8h0m11 0h0m2 -3h0m4 2h0m-5 2h0m2 4h0m10 -1h0m10 2h0"/><path stroke="#b6c343" d="M1445 250h0m-1 10h0m12 0h0m-25 5h0m1 0h0m10 -1h0m5 0h0m-27 7h0m3 -3h0m14 3h0m8 1h0m-27 5h0m11 0h0m7 0h0m-23 6h0m6 -4h0m1 5h0m2 -1h0m11 0h0m-22 2h0m9 1h0m3 3h0m2 -2h0m1 -2h0m1 1h0m-7 9h0m-63 98h0m0 3h0m-12 8h0m-1 11h0m-10 6h0m6 3h0m-24 9h0m3 -1h0m14 -1h0m-17 7h0m-7 4h0m3 1h0m2 1h0m3 -2h0m7 0h0m-31 6h0m6 3h0m2 2h0m4 0h0m-38 29h0m8 -4h0m-123 52h0"/><path stroke="#7fc361" d="M1485 218h0m8 0h0m8 -1h0m1 1h0m1 -2h0m9 0h0m-27 5h0m7 0h0m9 1h0m3 1h0m6 1h0m0 0h0m5 -4h0m-10 12h0"/><path stroke="#1d93d1" d="M1640 133h0m5 0h0m-10 4h0m1 1h0m3 12h0"/><path stroke="#5db772" d="M1537 183h0m-18 12h0m-3 2h0"/><path stroke="#228dd8" d="M1639 139h0m5 1h0m-4 6h0m1 0h0"/><path stroke="#8ecb56" d="M1496 218h0m-8 4h0m6 2h0m0 1h0m2 -1h0m11 -1h0m-27 5h0m5 0h0m-23 5h0m38 1h0m-11 3h0m2 6h0"/><path stroke="#2e80e6" d="M1649 145h0"/><path stroke="#fec72d" d="M1094 528h0m-8 5h0m-1 8h0m-16 3h0m3 4h0m4 -3h0m-12 7h0m11 1h0"/><path stroke="#13acad" d="M1611 140h0m-11 4h0m0 0h0m15 5h0m3 0h0m2 1h0m1 1h0m2 3h0m0 2h0"/><path stroke="#ffd820" d="M1062 548h0m3 -4h0m7 1h0m-17 6h0"/><path stroke="#15a2bd" d="M1614 139h0m1 1h0m2 -1h0m5 -1h0m-7 4h0m3 3h0m4 0h0"/><path stroke="#68ba6c" d="M1509 195h0m9 -6h0m1 3h0m4 2h0m-14 3h0m3 -1h0m2 2h0m3 1h0m1 1h0m0 1h0m2 -2h0m-3 5h0m3 1h0m12 -4h0m-9 11h0m3 0h0m3 -4h0"/><path stroke="#ffe718" d="M1058 548h0"/><path stroke="#ffec15" d="M1056 549h0m9 -6h0"/><path stroke="#ffd523" d="M1066 551h0"/><path stroke="#2b83e2" d="M1649 146h0"/></g><g stroke-width="3.4" stroke-linecap="round" fill="none"></g><clipPath id="sc1"><path d="M1047 552L1070 553L1092 554L1154 530L1216 507L1257 492L1299 462L1330 440L1350 410L1372 370L1386 342L1398 316L1416 300L1434 282L1488 246L1543 201L1579 178L1615 161L1642 149L1660 143L1680 141L1694 143L1700 157L1701 178L1699 205L1695 226L1692 247L1689 264L1684 264L1684 226L1679 225L1668 237L1651 255L1639 266L1625 275L1600 300L1575 340L1560 370L1552 382L1542 420L1540 442L1538 450L1541 470L1538 487L1532 487L1525 465L1521 449L1498 456L1475 470L1444 490L1428 501L1405 512L1382 521L1351 532L1335 543L1320 557L1310 564L1250 565L1200 565L1150 564L1100 562L1060 558L1047 555Z"/></clipPath><filter id="sb1" x="-5%" y="-5%" width="110%" height="110%"><feGaussianBlur stdDeviation="5"/></filter><g clip-path="url(#sc1)"><g filter="url(#sb1)" stroke-width="8.5" fill="none"><path stroke="#15a2bd" d="M1623 121h24m-40 8h32m-24 8h8m8 56h8m-16 8h8m-16 16h8m-16 16h8m-16 8h8m-32 32h8m-24 24h8m-24 24h8m-16 8h8m-16 8h8m-56 32h8m-24 48h8m-24 8h8m-24 8h8m-16 16h8m-16 16h8m-8 8h8m-8 8h16m-8 8h8m16 24h24m-48 8h48m-56 8h40m-40 8h24"/><path stroke="#327aea" d="M1647 121h24m-24 8h24m-24 8h24m-16 8h8m-8 48h8m-16 16h8m-24 16h8m-16 24h8m-24 24h8m-88 112h8m-40 16h8m-8 8h8m-16 24h8m-16 8h8m-8 8h8m-8 8h8m-16 16h8m-16 8h8m-16 8h8"/><path stroke="#4361f8" d="M1671 121h16m-16 8h16m-16 8h16m-24 72h8m-24 24h8m-48 56h8m-24 24h8m-72 96h8m-24 16h8m-16 32h8m-48 48h8"/><path stroke="#4747f6" d="M1687 121h8m-8 8h8m-8 8h8m-16 64h8m-16 24h8m-64 64h8m-24 24h8m-32 40h8m-16 16h8m-16 16h8m-16 16h8m-16 16h8m-32 16h16"/><path stroke="#5b28c8" d="M1695 121h32m-32 8h32m-32 8h32m-40 8h32m-24 8h8"/><path stroke="#11aab3" d="M1599 129h8m-24 8h8m8 0h8m16 16h8m8 16h8m-8 8h8m-32 24h8m-16 24h8m-16 8h8m-16 8h8m-32 32h8m-24 24h8m-32 32h8m-40 32h8m-40 48h8m-32 8h24m-32 8h8m-16 8h8m-16 8h8m-16 16h8m-8 8h8m-16 16h8m-8 8h8m-8 8h16m-8 16h8m-16 8h8"/><path stroke="#1d93d1" d="M1639 129h8m-16 8h8m0 16h8m0 16h8m-8 8h8m-16 16h8m-24 24h8m-16 16h8m-24 24h8m-32 32h8m-32 40h8m-40 24h8m8 0h8m-32 8h8m-40 24h8m-8 16h8m-8 8h8m-16 8h8m-32 24h8m-8 16h8m-8 16h8m-8 8h8m-16 8h8"/><path stroke="#13acad" d="M1591 137h8m8 8h8m16 16h8m-8 24h8m-16 8h8m-24 24h8m-32 32h8m-16 8h8m-24 24h8m-24 24h8m-16 8h8m-24 24h8m-16 8h8m-16 8h8m-80 64h8m-16 8h8m-16 8h8m-16 16h8m-16 8h8m-8 8h8m-8 8h8m-16 8h8m-8 8h8m-8 8h8m-8 8h24m-24 24h8"/><path stroke="#13a6b8" d="M1607 137h8m0 8h8m-8 64h8m-32 40h8m-16 8h8m-16 8h8m-16 16h8m-16 8h8m-16 16h8m-16 8h8m-16 8h8m-72 56h8m-8 24h8m-40 24h8m-24 16h8m-16 8h8m-8 8h8m-16 16h8m-8 8h8m-8 8h16m-8 8h16m-16 8h8"/><path stroke="#179fc2" d="M1623 137h8m0 16h8m0 8h8m-8 24h8m-32 40h8m-24 24h8m-16 8h8m-16 8h8m-16 16h8m-16 8h8m-24 24h8m-24 24h8m-24 8h16m-24 8h8m-16 8h8m-40 48h8m-24 16h8m-24 8h8m-16 8h8m-16 16h8m-8 8h8m-8 8h8m0 16h8m-40 40h8"/><path stroke="#258adb" d="M1639 137h8m-8 64h8m-24 24h8m-32 40h8m-24 24h8m-16 16h8m-24 24h8m-16 16h8m-40 16h8m-24 8h8m-16 8h8m-16 8h8m-16 32h8m-32 32h8m0 16h8m-32 32h8m-16 8h8"/><path stroke="#1daea3" d="M1567 145h16m-32 8h8m48 0h8m8 8h8m-16 32h8m-16 8h8m-16 16h8m-32 32h8m-16 8h8m-24 24h8m-24 24h8m-16 8h8m-24 24h8m-32 24h8m-24 8h8m-16 32h8m-40 8h8m-24 16h8m-16 8h8m-32 32h8m-8 8h8m-8 8h8m-8 8h8m-8 8h8m-16 16h16m16 16h8m-32 8h32m-48 8h56m-48 8h32"/><path stroke="#18ada8" d="M1583 145h24m8 8h8m-16 56h8m-16 16h8m-16 8h8m-16 8h8m-24 24h8m-16 8h8m-16 16h8m-16 8h8m-24 24h8m-16 8h8m-56 56h8m-8 8h8m-40 16h24m-40 8h8m-24 24h8m-16 8h8m-16 16h8m-8 8h8m-16 32h8"/><path stroke="#199bc7" d="M1623 145h8m-8 64h8m-24 32h8m-32 32h8m-32 32h8m-16 16h8m-16 8h8m-104 104h8m-16 8h8m-16 8h8m-8 8h8m-8 8h8m-8 8h8m-8 8h8m-24 32h8m-16 8h8"/><path stroke="#1b97cc" d="M1631 145h8m-8 56h8m-48 64h8m-32 32h8m-16 16h8m-24 24h8m-16 8h8m-16 8h8m-48 16h8m-16 8h8m-24 48h8m-16 8h8m-24 16h8m-8 8h8m-8 8h8m-8 8h8m-8 8h8m-16 16h8m-16 8h8"/><path stroke="#228dd8" d="M1639 145h8m-16 64h8m-24 32h8m-32 32h8m-24 24h8m-16 16h8m-24 24h8m-16 16h8m-24 8h16m-72 64h8m-16 8h8m-16 8h8m-8 16h8m-8 8h8m-8 8h8m-40 40h8m-16 8h8"/><path stroke="#2b83e2" d="M1647 145h8m0 16h8m-8 8h8m-8 8h8m-24 32h8m-16 8h8m-24 32h8m-24 24h8m-24 24h8m-16 16h8m-32 40h8m-32 16h8m-32 8h8m-16 8h8m-16 16h8m-8 8h8m-16 16h8m-16 8h8m-16 16h8m0 16h8"/><path stroke="#3b6ff2" d="M1663 145h8m-8 24h8m-8 8h8m-8 8h8m-16 24h8m-88 120h8m-24 24h8m-32 40h8m-40 24h8m-16 32h8m-24 24h8m-16 8h8m-16 8h8"/><path stroke="#4166f6" d="M1671 145h8m-8 24h8m-16 32h8m-32 32h8m-32 40h8m-64 88h8m-16 16h8m-16 16h8m-48 48h8m-24 32h8m-16 8h8"/><path stroke="#474ff9" d="M1679 145h8m-16 64h8m-72 88h8m-24 24h8m-80 104h8m-16 32h8m-32 32h8m-16 8h8"/><path stroke="#7d20de" d="M1719 145h8m-24 8h24m-32 8h32m-32 8h32m-56 104h8m-16 16h8"/><path stroke="#27af99" d="M1559 153h16m0 8h48m-24 48h8m-16 8h8m-32 32h8m-16 8h8m-16 16h8m-16 8h8m-16 16h8m-16 8h8m-24 24h8m-16 16h8m-16 8h8m-40 40h8m-48 8h32m-40 8h8m-16 8h8m-16 16h8m-16 16h8m-24 16h8m-8 16h8m-8 8h8m-40 16h8m16 0h8m-16 8h8m16 16h8m-16 8h8"/><path stroke="#22ae9e" d="M1575 153h32m24 16h8m-8 8h8m-16 8h8m-40 40h8m-16 8h8m-16 8h8m-24 24h8m-24 24h8m-32 32h8m-72 80h8m-40 8h8m-16 8h8m-16 8h8m-16 16h8m-16 16h8m-24 16h8m-8 24h8m-32 8h16m8 0h8m-16 8h8m16 0h16m-16 8h8"/><path stroke="#2886df" d="M1647 153h8m-8 40h8m-48 64h8m-24 24h8m-32 40h8m-16 16h8m-24 24h8m-40 8h8m16 0h8m-56 24h8m-32 48h8m-8 16h8m-8 16h8m-16 8h8m-16 8h8m32 8h8m-24 8h24m-24 8h8"/><path stroke="#307de8" d="M1655 153h8m-24 64h8m-24 24h8m-16 16h8m-24 24h8m-16 16h8m-24 24h8m-24 24h8m-56 32h24m-32 8h8m-16 8h8m-16 32h8m-16 8h8m-16 8h8m-8 8h8m-32 48h8m-16 8h8"/><path stroke="#3972f0" d="M1663 153h8m-32 72h8m-16 8h8m-24 32h8m-112 128h24m-32 8h8m-8 8h8m-16 32h8m-48 56h8"/><path stroke="#4068f5" d="M1671 153h8m-24 72h8m-64 72h8m-24 24h8m-64 80h8m-24 8h8m-48 80h8m-16 8h8"/><path stroke="#455af8" d="M1679 153h8m-8 8h8m-16 32h8m-16 24h8m-32 32h8m-64 80h8m-72 88h8m8 0h8m-32 16h8m-24 40h8m-16 8h8"/><path stroke="#393bc6" d="M1687 153h8m-72 152h8"/><path stroke="#56b676" d="M1535 161h8m-32 16h16m0 8h16m0 8h16m-8 8h24m-8 8h8m-16 16h8m-16 8h8m-24 24h8m-24 24h8m-24 24h8m-32 40h8m-16 16h8m-16 8h8m-40 8h16m-48 16h8m-16 16h8m-16 16h8m-16 16h8m-24 24h8m-24 8h8m-32 24h8m-16 8h8m16 24h16m0 8h8"/><path stroke="#32b08f" d="M1543 161h16m8 8h16m8 8h40m-40 32h8m-16 8h8m-32 32h8m-24 24h8m-24 24h8m-16 8h8m-24 24h8m-16 16h8m-80 48h40m-56 16h8m-32 48h8m-24 24h8m-24 8h24m-32 8h8m-24 16h8m8 0h16m0 8h8m16 0h8"/><path stroke="#2cb094" d="M1559 161h16m8 8h48m-16 16h8m-16 8h8m-16 8h8m-24 24h8m-16 8h8m-16 8h8m-24 24h8m-24 24h8m-24 24h8m-16 8h8m-16 16h8m-32 24h8m-72 40h8m-24 24h8m-16 16h8m-32 32h8m-24 24h24m-40 8h8m-8 8h8m24 8h16"/><path stroke="#2090d4" d="M1647 161h8m-8 24h8m-48 64h8m-32 32h8m-24 24h8m-16 16h8m-24 24h8m-56 24h8m-16 8h8m-16 16h8m-40 56h8m-8 16h8"/><path stroke="#3774ee" d="M1663 161h8m-16 40h8m-16 16h8m-32 40h8m-32 32h8m-24 24h8m-48 64h8m-56 48h8m-8 8h8m-16 16h8m-8 8h8m-48 48h8m-16 8h8"/><path stroke="#3e6af4" d="M1671 161h8m-16 32h8m-40 56h8m-72 96h8m-56 56h8m8 0h8m-40 32h8m-16 24h8m-48 48h8"/><path stroke="#3b3dcc" d="M1687 161h8m-32 88h8m-24 16h8m-24 24h8m-32 40h8m-16 16h8m-16 16h8m-16 16h8m-16 16h8m-16 16h8m-16 16h8"/><path stroke="#45b27f" d="M1527 169h8m8 8h16m8 8h16m0 8h16m-32 32h8m-16 8h8m-24 24h8m-24 24h8m-32 32h8m-16 16h8m-16 16h8m-32 32h8m-56 8h24m-80 88h8m-24 8h8m-16 8h8m-24 16h8m0 16h8m8 0h8"/><path stroke="#3eb184" d="M1535 169h16m8 8h16m8 8h32m-24 16h8m-16 8h8m-16 8h8m-24 24h8m-16 8h8m-24 24h8m-24 24h8m-16 8h8m-16 16h8m-16 16h8m-16 16h8m-56 32h24m-56 8h8m-16 16h8m-16 16h8m-16 16h8m-16 16h8m-32 24h16m-40 16h8m0 24h8m8 0h8m0 8h24m-16 8h8"/><path stroke="#38b18a" d="M1551 169h16m8 8h16m8 16h8m-32 32h8m-16 8h8m-24 24h8m-16 8h8m-16 16h8m-16 8h8m-24 24h8m-56 72h8m-56 8h8m-16 8h8m-16 16h8m-16 16h8m-16 16h8m-24 16h8m-32 24h8m-16 8h8m-16 8h8"/><path stroke="#4656f9" d="M1679 169h8m-24 56h8m-40 32h8m-24 24h8m-24 24h8m-80 112h8m-24 24h8m-16 24h8"/><path stroke="#3d3ed1" d="M1687 169h8m-56 104h8"/><path stroke="#4db47b" d="M1527 177h16m0 8h24m-8 8h24m-8 8h16m-16 8h8m-16 8h8m-24 24h8m-16 8h8m-16 16h8m-16 8h8m-16 16h8m-16 8h8m-24 24h8m-16 16h8m-16 16h8m-40 24h16m-56 8h8m-16 16h8m-16 16h8m-16 16h8m-16 16h8m-16 8h8m-24 16h8m-24 8h8m-16 8h8m-16 24h8m24 16h8"/><path stroke="#4263f7" d="M1671 177h8m-104 160h8m-64 72h8m8 0h8m-32 8h8m-16 32h8m-16 16h8"/><path stroke="#4653f9" d="M1679 177h8m-16 24h8m-32 40h8m-80 104h8m-16 16h8m-16 16h8m-16 16h8m-16 16h8m-16 16h8m-32 24h8"/><path stroke="#3f40d6" d="M1687 177h8m-104 176h8m-16 16h8m-16 16h8m-16 16h8m-16 16h8m-16 16h8m-16 16h8m-16 16h8"/><path stroke="#9120e8" d="M1695 177h32m-32 8h32m-32 8h32m-32 8h32m-32 8h32m-32 8h32m-32 8h32m-40 8h40"/><path stroke="#63b96f" d="M1503 185h8m16 16h8m8 8h8m0 8h8m-24 32h8m-24 24h8m-56 72h8m-16 16h8m-16 8h8m-80 48h8m-16 16h8m-40 32h8m-40 32h8m24 40h8m0 8h8"/><path stroke="#60b870" d="M1511 185h8m0 8h8m8 8h8m8 8h8m0 8h8m-64 80h8m-32 40h8m-72 40h8m-32 24h8m-48 64h8m-40 24h8m0 40h8"/><path stroke="#5eb871" d="M1519 185h8m0 8h16m0 8h8m8 8h8m-40 56h8m-24 24h8m-24 24h8m-16 16h8m-24 24h8m-56 24h8m-32 8h8m-72 88h8m-16 8h8m-16 40h8m32 16h8"/><path stroke="#2e80e6" d="M1655 185h8m-16 16h8m-32 32h8m-24 32h8m-24 24h8m-16 16h8m-24 24h8m-56 40h8m16 0h8m-16 8h8m-56 40h8m-24 40h8m-48 56h8"/><path stroke="#445ef8" d="M1671 185h8m-24 48h8m-24 8h8m-24 24h8m-64 88h8m-16 16h8m-16 16h8m-16 16h8m-72 88h8m-16 8h8"/><path stroke="#484bfa" d="M1679 185h8m-32 56h8m-40 32h8m-104 152h8m-32 48h8m-16 8h8"/><path stroke="#3e3fd4" d="M1687 185h8m-72 112h8m-24 24h8m-16 16h8m-80 144h8"/><path stroke="#6bbb6b" d="M1495 193h8m8 8h8m0 8h8m8 8h8m0 8h8m-8 8h8m-72 96h8m-16 8h8m-40 32h8m-64 40h8m-16 16h8m-32 32h8m-24 8h8m-32 56h8m0 8h8"/><path stroke="#68ba6c" d="M1503 193h8m16 16h8m8 8h8m-24 40h8m-24 24h8m-56 72h8m-24 16h8m-48 8h8m-24 16h8m-72 80h8m-16 8h8"/><path stroke="#65b96d" d="M1511 193h8m0 8h8m8 8h8m8 16h8m-64 80h8m-16 16h8m-128 128h8m-16 8h8m-56 56h8"/><path stroke="#4848f9" d="M1679 193h8m-16 24h8m-96 120h8m-56 96h8m-32 32h8"/><path stroke="#3738bd" d="M1687 193h8"/><path stroke="#7bc262" d="M1479 201h8m16 16h8m0 8h8m8 8h8m-16 24h8m-24 24h8m-24 24h8m-32 32h8m-120 112h8m-24 8h8m-24 8h8m-16 8h8m-8 64h16m8 8h8"/><path stroke="#77c064" d="M1487 201h8m0 8h8m8 8h8m0 8h8m8 8h8m-64 88h8m-16 8h8m-24 24h8m-88 64h8m-16 16h8m-72 88h8m-8 8h8m16 8h8"/><path stroke="#74be66" d="M1495 201h8m0 8h8m16 16h8m-8 24h8m-24 24h8m-96 96h8m-32 8h8m-24 24h8m-32 48h8m-40 16h8m-24 16h8m-16 16h8m-8 16h8"/><path stroke="#6dbb69" d="M1503 201h8m16 16h8m0 24h8m-24 24h8m-24 24h8m-80 80h8m-72 72h8m-56 32h8m-16 16h8m-8 40h8m16 8h8m0 8h8"/><path stroke="#3c31b6" d="M1687 201h8m-24 48h8m-32 32h8"/><path stroke="#8ac959" d="M1471 209h8m0 8h8m16 16h8m0 8h8m0 8h8m-24 24h8m-24 24h8m-48 56h8m-48 16h8m-32 16h8m-40 56h8m-24 8h8m-56 64h8m-8 8h8m-8 8h8m0 8h8m32 16h8m-64 8h24m-16 8h8"/><path stroke="#82c55e" d="M1479 209h8m16 16h8m0 8h8m8 8h8m-24 24h8m-24 24h8m-24 24h8m-32 32h8m-16 16h8m-64 16h8m-24 32h8m-16 16h8m-32 24h8m-24 8h8m-40 48h8m56 40h8"/><path stroke="#7fc361" d="M1487 209h8m0 8h8m16 16h8m-112 136h8m-40 24h8m-32 48h8m-64 48h8m-8 48h8"/><path stroke="#70bc68" d="M1511 209h8m0 8h8m8 8h8m-48 72h8m-16 16h8m-32 32h8m-16 16h8m-72 24h8m-56 72h8m-48 48h8"/><path stroke="#4747f4" d="M1679 209h8m-24 24h8m-40 32h8m-120 176h8m-8 8h8m-32 40h8"/><path stroke="#5629c5" d="M1687 209h8m-40 72h8"/><path stroke="#96cc52" d="M1463 217h8m0 8h8m0 8h8m0 8h8m-32 80h8m-24 24h8m-72 32h8m-24 32h8m-40 32h8m-32 16h8m-16 8h8m-16 16h8m-40 40h8m-8 8h16m-16 8h8m-16 8h8m24 0h8m16 0h8m24 8h32m-136 8h40m48 0h56m-144 8h48m40 0h40m-128 8h48m48 0h24m-120 8h48m48 0h16m-112 8h48m48 0h8"/><path stroke="#92cc53" d="M1471 217h8m0 8h8m0 8h8m0 8h8m0 8h8m0 8h8m-24 24h8m-24 24h8m-16 8h8m-120 112h8m-16 8h8m-32 16h8m-64 64h8m-8 8h8m-8 16h8m-16 8h24m32 0h8"/><path stroke="#86c75b" d="M1487 217h8m0 8h8m16 16h8m-56 80h8m-16 8h8m-32 32h8m-88 72h8m-56 32h8m-16 16h8m-16 16h8m-16 8h8m0 8h8m-8 8h8m-8 8h8"/><path stroke="#3d6cf3" d="M1655 217h8m-16 8h8m-24 16h8m-32 40h8m-24 24h8m-48 64h8m-16 16h8m-40 16h8m-16 24h8m-24 40h8"/><path stroke="#3c3ece" d="M1679 217h8m-16 16h8m-64 80h8m-72 128h8m-16 16h8m-8 8h24m-32 8h32m-32 8h32m-56 8h56m-72 8h72m-64 8h64m-64 8h64"/><path stroke="#5e27ca" d="M1687 217h8m-32 56h8"/><path stroke="#9fcc4e" d="M1447 225h8m-8 8h24m0 8h8m8 8h8m0 8h8m-24 40h8m-48 56h8m-80 48h8m-24 24h8m-16 8h8m-32 16h8m-32 24h8m-56 48h8m-16 8h16m-16 8h8m-16 8h16m80 8h8"/><path stroke="#9bcc50" d="M1455 225h16m0 8h8m0 8h8m8 8h8m0 8h8m-8 8h8m-24 24h8m-40 40h8m-40 32h8m-32 8h8m-32 24h8m-24 24h8m-80 72h8m-16 8h8m-16 8h8m-16 8h8m-16 8h8m-8 8h8m-16 8h16m-16 8h8m40 0h16"/><path stroke="#8ecb56" d="M1487 225h8m0 8h8m0 8h8m0 8h8m-64 88h8m-32 24h8m-64 40h8m-16 16h8m-32 24h8m-32 16h8m-24 16h8m-16 16h8m-16 8h8m-16 8h8m-8 8h8m-8 8h8m-8 8h8m-8 8h16m32 8h8"/><path stroke="#3434b1" d="M1679 225h8"/><path stroke="#8220e1" d="M1687 225h8"/><path stroke="#a4cc4c" d="M1439 233h8m-8 8h32m0 8h16m0 8h8m0 8h8m-8 8h8m-32 32h8m-32 32h8m-96 72h8m-40 32h8m-32 16h8m-32 32h8m-16 8h8m-16 8h8m-16 8h8m-32 16h8m-8 8h8m-16 8h8m-48 16h56m-56 8h56m-56 8h56m-56 8h56m-56 8h56"/><path stroke="#3833b3" d="M1679 233h8m-16 8h8m-48 64h8m-16 16h8m-16 16h8m-16 16h8m-16 16h8"/><path stroke="#a8ca4a" d="M1431 241h8m-8 8h40m-8 8h24m0 8h8m-32 48h8m-16 8h8m-24 24h8m-32 16h8m-32 8h8m-24 16h8m-32 32h8m-24 16h8m-32 16h8m-24 16h8m-16 16h8m-56 40h8m-24 8h8m-16 8h16m-24 8h16"/><path stroke="#5db772" d="M1543 241h8"/><path stroke="#4040d9" d="M1663 241h8m-24 16h8m-24 24h8m-112 192h8"/><path stroke="#6226cc" d="M1679 241h8m-32 48h8m-16 16h8"/><path stroke="#9420ea" d="M1687 241h40m-40 8h40m-40 8h40m-40 8h32m-40 8h40m-48 8h48m-48 8h48"/><path stroke="#afc646" d="M1415 249h8m-8 8h16m-8 8h40m-8 8h32m-8 16h8m-40 40h8m-80 48h8m-24 24h8m-40 32h8m-56 48h8m-16 8h8m-16 8h8m-16 8h8m-16 8h8m-48 16h8m-24 8h8m-24 8h16m72 8h8m16 0h8"/><path stroke="#abc848" d="M1423 249h8m0 8h32m0 8h24m0 8h8m-8 8h8m-64 72h8m-72 40h8m-32 32h8m-32 16h8m-96 80h8m-24 8h8m-24 8h16m-24 8h16m64 8h16"/><path stroke="#4646f1" d="M1647 249h8m-48 56h8m-24 24h8m-72 112h8m-16 16h8m-16 16h8m-16 8h8"/><path stroke="#4141de" d="M1655 249h8m-64 80h8m-16 16h8m-16 16h8m-16 16h8m-16 16h8m-16 16h8m-16 16h8m-16 16h8m-16 16h8m-16 8h8"/><path stroke="#7320d9" d="M1679 249h8"/><path stroke="#b3c545" d="M1407 257h8m-8 8h16m-8 8h40m-24 8h56m-24 8h16m-8 8h8m-16 8h8m-32 32h8m-16 8h8m-32 16h8m-48 24h8m-24 24h8m-16 8h8m-16 8h8m-40 24h8m-16 8h8m-16 16h8m-72 48h8m-40 8h16m-32 8h16m-24 8h8m48 8h40m32 0h8m16 0h8"/><path stroke="#4545ee" d="M1639 257h8m-24 24h8m-48 64h8m-16 16h8m-16 16h8m-16 16h8m-16 16h8m-16 16h8m-16 16h8"/><path stroke="#383ac2" d="M1655 257h8m-24 24h8m-32 40h8m-16 16h8m-16 16h8m-16 16h8m-16 16h8m-16 16h8m-16 16h8m-16 16h8m-16 16h8"/><path stroke="#3a32b4" d="M1663 257h8"/><path stroke="#542ac4" d="M1671 257h8"/><path stroke="#6e21d7" d="M1679 257h8m-24 24h8"/><path stroke="#b6c343" d="M1399 265h8m0 8h8m0 8h16m-8 8h40m-24 8h32m-16 8h8m-8 8h8m-40 40h8m-48 16h8m-32 24h8m-56 48h8m-56 48h8m-16 8h8m-16 8h8m-16 8h8m-64 16h8m-24 8h8m-24 8h16m0 8h56m80 0h8m-168 8h40m-40 8h40m-40 8h40m-32 8h32m-32 8h32"/><path stroke="#4242e0" d="M1639 265h8m-24 24h8m-24 24h8"/><path stroke="#3633b1" d="M1655 265h8m-24 24h8"/><path stroke="#512bc3" d="M1663 265h8m-24 24h8m-16 16h8m-16 16h8"/><path stroke="#6823d2" d="M1671 265h8"/><path stroke="#8c20e6" d="M1679 265h8"/><path stroke="#bebf42" d="M1391 273h8m-8 8h8m0 8h16m-8 8h16m0 8h8m0 8h16m-16 8h16m-16 8h8m-8 8h8m-48 24h16m-40 16h8m-16 8h8m-24 24h8m-16 8h8m-104 88h8m-40 16h8m-56 8h16m-32 16h8m-8 8h16"/><path stroke="#bac142" d="M1399 273h8m-8 8h16m0 8h8m0 8h16m-8 8h24m-8 8h8m-8 8h8m-16 8h8m-72 40h8m-32 32h8m-32 24h8m-16 8h8m-32 16h8m-16 16h8m-16 8h8m-16 8h8m-48 32h8m-24 8h8m-48 8h8m-32 8h16m-8 16h8m144 0h8"/><path stroke="#4343e5" d="M1631 273h8m-48 64h8m-16 16h8m-16 16h8m-16 16h8m-16 16h8m-16 16h8m-16 16h8m-16 16h8m-24 24h8m-16 8h8"/><path stroke="#3637b9" d="M1647 273h8m-24 24h8"/><path stroke="#422fba" d="M1655 273h8m-24 24h8m-16 16h8m-16 16h8"/><path stroke="#c2bd41" d="M1383 281h8m0 8h8m0 8h8m0 8h16m-8 8h16m-16 8h16m-16 8h16m-16 8h16m-16 8h16m-16 8h8m-48 8h16m-40 32h8m-48 40h8m-16 8h8m-24 16h8m-24 16h8m-16 8h8m-16 8h8m-16 8h8m-32 16h8m-32 8h8m-56 8h8m-16 8h8m-16 8h8m-8 8h8"/><path stroke="#c5bc3f" d="M1375 289h16m-8 8h16m0 8h8m-8 8h16m-16 8h16m-16 8h16m-16 8h16m-8 8h8m-8 8h8m-48 16h8m-32 32h8m-32 24h8m-48 40h8m-56 40h8m-24 8h8m-40 8h16m-72 32h8"/><path stroke="#c8bb3e" d="M1367 297h16m0 8h16m-16 8h16m-8 8h8m-8 8h8m0 16h8m-8 8h8m-48 24h8m-32 32h8m-16 8h8m-48 32h8m-40 32h8m-16 8h8m-16 8h8m-72 24h8m-40 8h8m-16 8h8m-16 8h8m-16 8h8m-24 8h40m160 0h24m-224 8h40m152 0h32m-224 8h40m144 0h48m-232 8h48m136 0h48m-224 8h40m136 0h48"/><path stroke="#4444e8" d="M1615 297h8m-24 24h8m-40 112h8m-16 8h16m-48 8h8m24 0h16m-24 8h16m-64 32h8"/><path stroke="#5929c6" d="M1647 297h8m-16 16h8"/><path stroke="#6b22d4" d="M1655 297h8"/><path stroke="#cbba3c" d="M1367 305h16m0 16h8m-8 8h8m0 8h8m-8 8h8m-16 8h16m-32 8h8m-24 24h8m-16 8h8m-48 40h8m-16 8h8m-32 24h8m-16 8h8m-48 32h8m-24 8h8m-48 8h8"/><path stroke="#4141db" d="M1615 305h8m-104 176h8"/><path stroke="#cfb93b" d="M1359 313h24m-8 8h8m0 16h8m-16 16h8m-24 16h8m-32 32h8m-24 16h8m-16 8h8m-40 32h8m-56 40h8m-40 16h8m-48 8h8m-32 8h8m-16 8h8m-16 8h8"/><path stroke="#3536b5" d="M1623 313h8m-16 16h8m-16 16h8m-16 16h8m-16 16h8m-16 16h8m-16 16h8m-16 16h8"/><path stroke="#d2b939" d="M1359 321h16m0 8h8m-8 8h8m0 8h8m-24 8h8m-24 24h8m-32 32h8m-48 32h8m-32 24h8m-16 8h8m-16 8h8m-16 8h8m-32 16h8m-40 8h16m-88 40h8"/><path stroke="#d5b838" d="M1351 329h24m-8 8h8m0 8h8m-24 16h8m-24 24h8m-56 48h8m-32 24h8m-56 40h8m-56 16h8m-56 16h8m-16 8h8m-16 8h8"/><path stroke="#d7b636" d="M1351 337h16m-8 8h16m-24 24h8m-24 24h8m-16 8h8m-16 8h8m-16 8h8m-16 8h8m-32 24h8m-40 24h8m-16 8h8m-16 8h8m-32 16h8m-48 8h8m-72 40h8m-32 8h24m-24 8h24m-24 8h24m-24 8h24"/><path stroke="#3577ec" d="M1567 337h8m-24 24h8m-48 24h16m8 0h8m-40 8h8m-16 24h8m-16 24h8m-16 24h8"/><path stroke="#d9b535" d="M1343 345h16m-16 8h24m-24 24h8m-88 80h8m-16 8h8m-48 32h8m-24 8h8m-80 16h32m-40 8h8m-16 8h8m-24 16h8"/><path stroke="#dbb434" d="M1335 353h8m-8 8h24m-32 8h24m-16 16h8m-48 40h8m-16 8h8m-16 8h8m-16 8h8m-48 32h8m-16 8h8m-40 16h8"/><path stroke="#ddb232" d="M1327 377h16m-16 16h8m-16 8h8m-16 8h8m-16 8h8m-64 48h8m-16 8h8m-40 24h8m-32 8h8m-72 16h8m-16 8h8m-16 16h8m-24 8h8"/><path stroke="#dfb131" d="M1319 385h16m-72 64h8m-16 8h8m-40 24h8m-16 8h8m-48 16h8m-24 8h8m-64 24h8"/><path stroke="#e1b030" d="M1319 393h8m-40 32h8m-16 8h8m-16 8h8m-40 24h8m-16 8h8m-40 24h8m-96 24h8m-16 8h8"/><path stroke="#e5b030" d="M1311 401h8m-64 48h8m-16 8h8m-40 24h8m-16 8h8m-24 8h8m-104 48h8"/><path stroke="#e9b030" d="M1271 433h8m-16 8h8m-48 32h8m-128 48h8"/><path stroke="#edb030" d="M1239 457h8m-16 8h8m-24 8h8m-16 8h8m-16 8h8m-24 8h8m-24 8h8m-24 8h8m-64 24h8m-16 8h8m-16 8h8"/><path stroke="#4343e3" d="M1527 457h8"/><path stroke="#4545eb" d="M1519 465h8"/><path stroke="#f1b130" d="M1207 473h8m-32 8h24m-40 8h32m-56 8h40m-40 8h24m-64 8h48m-56 16h8"/><path stroke="#f4b430" d="M1119 505h24m-64 16h8m8 0h8"/><path stroke="#f9bb2f" d="M1087 521h8"/><path stroke="#ffec15" d="M1023 529h32m-32 8h32m-32 8h32m-32 8h32m-32 8h32m-32 8h32m-32 8h32m-24 8h24"/><path stroke="#ffd523" d="M1055 529h16m-16 8h8m-8 24h8m-8 8h8m-8 8h8m-8 8h8"/><path stroke="#ffdd1d" d="M1071 529h8"/><path stroke="#fcc32e" d="M1079 529h8m-24 24h16m-16 8h16m-16 8h16m-16 8h16m-16 8h16"/><path stroke="#f7b730" d="M1087 529h8m-8 8h8"/><path stroke="#ffd226" d="M1063 537h8m-16 16h8"/><path stroke="#fec72d" d="M1071 537h8m-8 8h8"/><path stroke="#fbbf2e" d="M1079 537h8m-8 8h8"/><path stroke="#ffd820" d="M1055 545h8"/><path stroke="#ffce28" d="M1063 545h8"/></g></g><g stroke-width="3.4" stroke-linecap="round" fill="none"></g><g stroke-width="3.4" stroke-linecap="round" fill="none"><path stroke="#2090d4" d="M1522 549h0"/><path stroke="#258adb" d="M1525 552h0M1535 554h0"/><path stroke="#2886df" d="M1530 552h0M1541 550h0"/><path stroke="#2b83e2" d="M1531 553h0"/><path stroke="#327aea" d="M1547 554h0M1550 555h0M1558 555h0"/><path stroke="#3774ee" d="M1566 556h0"/><path stroke="#3972f0" d="M1570 559h0"/><path stroke="#3d6cf3" d="M1574 560h0"/><path stroke="#3e6af4" d="M1576 560h0"/><path stroke="#4068f5" d="M1590 561h0M1597 563h0M1611 567h0"/><path stroke="#455af8" d="M1617 563h0M1635 566h0"/><path stroke="#4263f7" d="M1620 567h0"/><path stroke="#4361f8" d="M1630 569h0"/><path stroke="#4656f9" d="M1633 568h0M1638 567h0"/><path stroke="#4653f9" d="M1644 569h0"/></g><path d="M72.8 643.0L73.2 637.2 73.6 631.5 74.0 625.8 74.4 620.0 74.9 614.3 75.5 608.5 76.0 602.8 76.6 597.0 77.2 591.3 77.9 585.5 78.6 579.8 79.3 574.1 80.1 568.3 80.9 562.6 81.7 556.8 82.5 551.1 83.4 545.3 84.4 539.6 85.3 533.8 86.3 528.1 87.3 522.3 88.4 516.6 89.5 510.9 90.6 505.1 91.7 499.4 92.9 493.6 94.1 487.9 95.4 482.1 96.6 476.4 98.0 470.6 99.3 464.9 100.7 459.1 102.1 453.4 103.5 447.7 105.0 441.9 106.5 436.2 108.1 430.4 109.6 424.7 111.2 418.9 112.9 413.2 114.5 407.4 116.2 401.7 118.0 396.0 119.7 390.2 121.5 384.5 123.3 378.7 125.2 373.0 127.1 367.2 128.6 362.6M146.0 314.2L147.7 309.8 150.0 304.0 152.2 298.3 154.5 292.5 156.9 286.8 159.2 281.1 161.6 275.3 164.0 269.6 166.5 263.8 169.0 258.1 171.5 252.3 174.1 246.6 176.6 240.8 179.2 235.1 181.9 229.3 184.6 223.6 187.3 217.9 190.0 212.1 192.8 206.4 195.6 200.6 198.4 194.9 201.3 189.1 204.1 183.4 207.1 177.6 210.0 171.9 213.0 166.2 216.0 160.4 219.0 154.7 222.1 148.9 225.2 143.2 228.4 137.4 231.5 131.7 234.7 125.9 237.9 120.2 241.2 114.4 244.5 108.7 247.8 103.0 251.2 97.2 254.5 91.5 257.9 85.7 261.4 80.0 264.8 74.2 268.3 68.5 271.9 62.7 275.4 57.0 279.0 51.3 282.6 45.5M512.7 643.0L513.2 637.2 513.7 631.5 514.2 625.8 514.8 620.0 515.4 614.3 516.0 608.5 516.6 602.8 517.3 597.0 518.0 591.3 518.8 585.5 519.6 579.8 520.4 574.1 521.2 568.3 522.1 562.6 523.0 556.8 524.0 551.1 525.0 545.3 526.0 539.6 527.0 533.8 528.1 528.1 529.2 522.3 530.4 516.6 531.6 510.9 532.8 505.1 534.0 499.4 535.3 493.6 536.6 487.9 537.9 482.1 539.3 476.4 540.7 470.6 542.1 464.9 543.6 459.1 545.1 453.4 546.6 447.7 548.2 441.9 549.8 436.2 551.4 430.4 553.1 424.7 554.8 418.9 556.5 413.2 558.3 407.4 560.1 401.7 561.9 396.0 563.7 390.2 565.6 384.5 567.5 378.7 569.5 373.0 571.5 367.2 573.5 361.5 575.5 355.7 577.6 350.0 579.7 344.2 581.8 338.5 584.0 332.8 586.2 327.0 588.4 321.3 590.7 315.5 593.0 309.8 595.3 304.0 597.6 298.3 600.0 292.5 602.5 286.8 604.9 281.1 607.4 275.3 609.9 269.6 612.4 263.8 615.0 258.1 617.6 252.3 620.3 246.6 622.9 240.8 625.6 235.1 628.3 229.3 631.1 223.6 633.9 217.9 636.7 212.1 639.6 206.4 642.4 200.6 645.4 194.9 648.3 189.1 651.3 183.4 654.3 177.6 657.3 171.9 660.1 166.7M698.2 99.4L699.5 97.2 703.0 91.5 706.5 85.7 710.0 80.0 713.6 74.2 717.1 68.5 720.7 62.7 724.4 57.0 728.1 51.3 731.8 45.5M952.6 643.0L953.2 637.2 953.8 631.5 954.4 625.8 955.0 620.0 955.7 614.3 956.4 608.5 956.7 606.2M964.6 555.3L965.4 551.1 966.5 545.3 967.6 539.6 968.7 533.8 969.9 528.1 971.1 522.3 972.3 516.6 973.6 510.9 974.9 505.1 976.2 499.4 977.6 493.6 979.0 487.9 980.4 482.1 981.9 476.4 983.4 470.6 984.9 464.9 986.5 459.1 988.1 453.4 989.7 447.7 991.3 441.9 993.0 436.2 994.7 430.4 996.5 424.7 998.3 418.9 1000.1 413.2 1001.9 407.4 1003.8 401.7 1005.7 396.0 1007.7 390.2 1009.6 384.5 1011.6 378.7 1013.7 373.0 1015.7 367.2 1017.8 361.5 1020.0 355.7 1022.1 350.0 1024.3 344.2 1026.6 338.5 1028.8 332.8 1031.1 327.0 1033.4 321.3 1035.8 315.5 1038.1 309.8 1040.6 304.0 1043.0 298.3 1045.5 292.5 1048.0 286.8 1050.5 281.1 1053.1 275.3 1055.7 269.6 1058.3 263.8 1061.0 258.1 1063.7 252.3 1066.4 246.6 1069.1 240.8 1071.9 235.1 1074.7 229.3 1077.6 223.6 1080.4 217.9 1083.3 212.1 1086.3 206.4 1089.2 200.6 1092.2 194.9 1095.3 189.1 1098.3 183.4 1101.4 177.6 1104.5 171.9 1107.7 166.2 1109.9 162.1M1135.6 117.5L1137.4 114.4 1140.8 108.7 1144.3 103.0 1147.8 97.2 1151.4 91.5 1154.9 85.7 1158.5 80.0 1162.2 74.2 1165.8 68.5 1169.5 62.7 1173.2 57.0 1177.0 51.3 1180.8 45.5M1040.6 643.0L1041.2 637.2 1041.8 631.5 1042.4 625.8 1043.1 620.0 1043.8 614.3 1044.5 608.5 1044.7 606.8M1054.4 546.9L1054.7 545.3 1055.9 539.6 1057.0 533.8 1058.2 528.1 1059.4 522.3 1060.7 516.6 1062.0 510.9 1063.3 505.1 1064.7 499.4 1066.1 493.6 1067.5 487.9 1068.9 482.1 1070.4 476.4 1071.9 470.6 1073.5 464.9 1075.0 459.1 1076.6 453.4 1078.3 447.7 1080.0 441.9 1081.7 436.2 1083.4 430.4 1085.2 424.7 1087.0 418.9 1088.8 413.2 1090.7 407.4 1092.6 401.7 1094.5 396.0 1096.4 390.2 1098.4 384.5 1100.5 378.7 1102.5 373.0 1104.6 367.2 1106.7 361.5 1108.9 355.7 1111.0 350.0 1113.2 344.2 1115.5 338.5 1117.8 332.8 1120.1 327.0 1122.4 321.3 1124.8 315.5 1127.2 309.8 1129.6 304.0 1132.1 298.3 1134.5 292.5 1137.1 286.8 1139.6 281.1 1142.2 275.3 1144.8 269.6 1147.5 263.8 1150.1 258.1 1152.8 252.3 1155.6 246.6 1158.4 240.8 1161.2 235.1 1164.0 229.3 1166.8 223.6 1169.7 217.9 1172.7 212.1 1175.6 206.4 1178.6 200.6 1181.6 194.9 1184.7 189.1 1187.7 183.4 1190.8 177.6 1194.0 171.9 1197.1 166.2 1197.8 164.9M1228.2 112.4L1230.5 108.7 1234.0 103.0 1237.5 97.2 1241.0 91.5 1244.6 85.7 1248.2 80.0 1251.9 74.2 1255.6 68.5 1259.3 62.7 1263.0 57.0 1266.8 51.3 1270.6 45.5M1128.6 643.0L1129.1 637.2 1129.8 631.5 1130.4 625.8 1131.1 620.0 1131.8 614.3 1132.6 608.5 1132.8 606.8M1142.7 546.9L1143.0 545.3 1144.2 539.6 1145.4 533.8 1146.6 528.1 1147.8 522.3 1149.1 516.6 1150.4 510.9 1151.7 505.1 1153.1 499.4 1154.5 493.6 1155.9 487.9 1157.4 482.1 1158.9 476.4 1160.4 470.6 1162.0 464.9 1163.6 459.1 1165.2 453.4 1166.9 447.7 1168.6 441.9 1170.3 436.2 1172.1 430.4 1173.8 424.7 1175.7 418.9 1177.5 413.2 1179.4 407.4 1181.3 401.7 1183.2 396.0 1185.2 390.2 1187.2 384.5 1189.3 378.7 1191.3 373.0 1193.4 367.2 1195.6 361.5 1197.7 355.7 1199.9 350.0 1202.2 344.2 1204.4 338.5 1206.7 332.8 1209.0 327.0 1211.4 321.3 1213.8 315.5 1216.2 309.8 1218.6 304.0 1221.1 298.3 1223.6 292.5 1226.2 286.8 1228.7 281.1 1231.3 275.3 1234.0 269.6 1236.6 263.8 1239.3 258.1 1242.0 252.3 1244.8 246.6 1247.6 240.8 1250.4 235.1 1253.2 229.3 1256.1 223.6 1259.0 217.9 1262.0 212.1 1264.9 206.4 1267.9 200.6 1271.0 194.9 1274.0 189.1 1277.1 183.4 1280.2 177.6 1283.4 171.9 1286.6 166.2 1287.0 165.4M1317.5 112.9L1320.1 108.7 1323.6 103.0 1327.1 97.2 1330.7 91.5 1334.3 85.7 1337.9 80.0 1341.6 74.2 1345.3 68.5 1349.0 62.7 1352.8 57.0 1356.5 51.3 1360.4 45.5M1216.5 643.0L1217.1 637.2 1217.8 631.5 1218.4 625.8 1219.2 620.0 1219.9 614.3 1220.7 608.5 1220.9 606.8M1231.0 546.9L1231.3 545.3 1232.5 539.6 1233.7 533.8 1234.9 528.1 1236.2 522.3 1237.5 516.6 1238.8 510.9 1240.1 505.1 1241.5 499.4 1243.0 493.6 1244.4 487.9 1245.9 482.1 1247.4 476.4 1249.0 470.6 1250.5 464.9 1252.2 459.1 1253.8 453.4 1255.5 447.7 1257.2 441.9 1258.9 436.2 1260.7 430.4 1262.5 424.7 1264.3 418.9 1266.2 413.2 1268.1 407.4 1270.0 401.7 1272.0 396.0 1274.0 390.2 1276.0 384.5 1278.1 378.7 1280.2 373.0 1282.3 367.2 1284.4 361.5 1286.6 355.7 1288.8 350.0 1291.1 344.2 1293.4 338.5 1295.7 332.8 1298.0 327.0 1300.4 321.3 1302.8 315.5 1305.2 309.8 1307.7 304.0 1310.2 298.3 1312.7 292.5 1315.2 286.8 1317.8 281.1 1320.5 275.3 1323.1 269.6 1325.8 263.8 1328.5 258.1 1331.2 252.3 1334.0 246.6 1336.8 240.8 1339.6 235.1 1342.5 229.3 1345.4 223.6 1348.3 217.9 1351.3 212.1 1354.3 206.4 1357.3 200.6 1360.3 194.9 1363.4 189.1 1366.5 183.4 1369.7 177.6 1372.8 171.9 1376.0 166.2 1376.2 165.8M1406.8 113.4L1409.7 108.7 1413.2 103.0 1416.8 97.2 1420.4 91.5 1424.0 85.7 1427.6 80.0 1431.3 74.2 1435.0 68.5 1438.8 62.7 1442.5 57.0 1446.3 51.3 1450.1 45.5M1304.5 643.0L1305.1 637.2 1305.8 631.5 1306.5 625.8 1307.2 620.0 1307.9 614.3 1308.7 608.5 1309.0 606.8M1319.3 547.0L1319.6 545.3 1320.8 539.6 1322.0 533.8 1323.2 528.1 1324.5 522.3 1325.8 516.6 1327.2 510.9 1328.5 505.1 1330.0 499.4 1331.4 493.6 1332.9 487.9 1334.4 482.1 1335.9 476.4 1337.5 470.6 1339.1 464.9 1340.7 459.1 1342.4 453.4 1344.1 447.7 1345.8 441.9 1347.6 436.2 1349.3 430.4 1351.2 424.7 1353.0 418.9 1354.9 413.2 1356.8 407.4 1358.8 401.7 1360.8 396.0 1362.8 390.2 1364.8 384.5 1366.9 378.7 1369.0 373.0 1371.1 367.2 1373.3 361.5 1375.5 355.7 1377.7 350.0 1380.0 344.2 1382.3 338.5 1384.6 332.8 1387.0 327.0 1389.4 321.3 1391.8 315.5 1394.2 309.8 1396.7 304.0 1399.2 298.3 1401.8 292.5 1404.3 286.8 1406.9 281.1 1409.6 275.3 1412.2 269.6 1414.9 263.8 1417.7 258.1 1420.4 252.3 1423.2 246.6 1426.0 240.8 1428.9 235.1 1431.8 229.3 1434.7 223.6 1437.6 217.9 1440.6 212.1 1443.6 206.4 1446.6 200.6 1449.7 194.9 1452.8 189.1 1455.9 183.4 1459.1 177.6 1462.2 171.9 1465.5 166.2 1465.7 165.8M1496.4 113.5L1499.3 108.7 1502.8 103.0 1506.4 97.2 1510.0 91.5 1513.6 85.7 1517.3 80.0 1521.0 74.2 1524.7 68.5 1528.5 62.7 1532.3 57.0 1536.1 51.3 1539.9 45.5M1392.4 643.0L1393.1 637.2 1393.8 631.5 1394.5 625.8 1395.2 620.0 1396.0 614.3 1396.8 608.5 1397.0 607.2M1410.9 531.1L1411.6 528.1 1412.9 522.3 1414.2 516.6 1415.6 510.9 1417.0 505.1 1418.4 499.4 1419.8 493.6 1421.3 487.9 1422.9 482.1 1424.4 476.4 1426.0 470.6 1427.6 464.9 1429.3 459.1 1430.9 453.4 1432.7 447.7 1434.4 441.9 1436.2 436.2 1438.0 430.4 1439.8 424.7 1441.7 418.9 1443.6 413.2 1445.5 407.4 1447.5 401.7 1449.5 396.0 1451.5 390.2 1453.6 384.5 1455.7 378.7 1457.8 373.0 1460.0 367.2 1462.2 361.5 1464.4 355.7 1466.6 350.0 1468.9 344.2 1471.2 338.5 1473.6 332.8 1475.9 327.0 1478.3 321.3 1480.8 315.5 1483.2 309.8 1485.7 304.0 1488.3 298.3 1490.8 292.5 1493.4 286.8 1496.0 281.1 1498.7 275.3 1501.4 269.6 1504.1 263.8 1506.8 258.1 1509.6 252.3 1512.4 246.6 1515.2 240.8 1518.1 235.1 1521.0 229.3 1523.9 223.6 1526.9 217.9 1529.9 212.1 1532.9 206.4 1536.0 200.6 1539.0 194.9 1542.2 189.1 1545.3 183.4 1548.5 177.6 1551.7 171.9 1554.7 166.4M1594.3 100.0L1596.0 97.2 1599.7 91.5 1603.3 85.7 1607.0 80.0 1610.7 74.2 1614.4 68.5 1618.2 62.7 1622.0 57.0 1625.9 51.3 1629.7 45.5M1480.4 643.0L1481.1 637.2 1481.8 631.5 1482.5 625.8 1483.3 620.0 1484.0 614.3 1484.9 608.5 1485.1 606.8M1495.8 547.0L1496.1 545.3 1497.4 539.6 1498.6 533.8 1499.9 528.1 1501.2 522.3 1502.6 516.6 1503.9 510.9 1505.4 505.1 1506.8 499.4 1508.3 493.6 1509.8 487.9 1511.3 482.1 1512.9 476.4 1514.5 470.6 1516.1 464.9 1517.8 459.1 1519.5 453.4 1521.2 447.7 1523.0 441.9 1524.8 436.2 1526.6 430.4 1528.5 424.7 1530.4 418.9 1532.3 413.2 1534.2 407.4 1536.2 401.7 1538.2 396.0 1540.3 390.2 1542.4 384.5 1544.5 378.7 1546.6 373.0 1548.8 367.2 1551.0 361.5 1553.2 355.7 1555.5 350.0 1557.8 344.2 1560.1 338.5 1562.5 332.8 1564.9 327.0 1567.3 321.3 1569.8 315.5 1572.2 309.8 1574.8 304.0 1577.3 298.3 1579.9 292.5 1582.5 286.8 1585.1 281.1 1587.8 275.3 1590.5 269.6 1593.2 263.8 1596.0 258.1 1598.8 252.3 1601.6 246.6 1604.5 240.8 1607.3 235.1 1610.3 229.3 1613.2 223.6 1616.2 217.9 1619.2 212.1 1622.2 206.4 1625.3 200.6 1628.4 194.9 1631.5 189.1 1634.7 183.4 1637.9 177.6 1641.1 171.9 1644.3 166.2 1644.6 165.7M1675.5 113.5L1678.5 108.7 1682.1 103.0 1685.7 97.2 1689.3 91.5 1693.0 85.7 1696.7 80.0 1700.4 74.2 1704.2 68.5 1707.9 62.7 1711.8 57.0 1715.6 51.3 1719.5 45.5M1568.3 643.0L1569.0 637.2 1569.7 631.5 1570.5 625.8 1571.3 620.0 1572.1 614.3 1572.9 608.5 1573.2 606.7M1584.1 547.0L1584.4 545.3 1585.7 539.6 1586.9 533.8 1588.2 528.1 1589.6 522.3 1590.9 516.6 1592.3 510.9 1593.8 505.1 1595.2 499.4 1596.7 493.6 1598.2 487.9 1599.8 482.1 1601.4 476.4 1603.0 470.6 1604.7 464.9 1606.4 459.1 1608.1 453.4 1609.8 447.7 1611.6 441.9 1613.4 436.2 1615.3 430.4 1617.1 424.7 1619.0 418.9 1621.0 413.2 1623.0 407.4 1625.0 401.7 1627.0 396.0 1629.1 390.2 1631.2 384.5 1633.3 378.7 1635.4 373.0 1637.6 367.2 1639.9 361.5 1642.1 355.7 1644.4 350.0 1646.7 344.2 1649.1 338.5 1651.4 332.8 1653.8 327.0 1656.3 321.3 1658.7 315.5 1661.2 309.8 1663.8 304.0 1666.3 298.3 1668.9 292.5 1671.6 286.8 1674.2 281.1 1676.9 275.3 1679.6 269.6 1682.4 263.8 1685.2 258.1 1688.0 252.3 1690.8 246.6 1693.7 240.8 1696.6 235.1 1699.5 229.3 1702.5 223.6 1705.5 217.9 1708.5 212.1 1711.5 206.4 1714.6 200.6 1717.7 194.9 1720.9 189.1 1724.1 183.4 1727.3 177.6 1730.5 171.9 1733.8 166.2 1734.0 165.7M1765.1 113.6L1768.1 108.7 1771.7 103.0 1775.3 97.2 1778.9 91.5 1782.6 85.7 1786.3 80.0 1790.1 74.2 1793.9 68.5 1797.7 62.7 1801.5 57.0 1805.4 51.3 1809.3 45.5M1656.3 643.0L1657.0 637.2 1657.7 631.5 1658.5 625.8 1659.3 620.0 1660.1 614.3 1661.0 608.5 1661.3 606.7M1672.3 547.0L1672.7 545.3 1673.9 539.6 1675.2 533.8 1676.6 528.1 1677.9 522.3 1679.3 516.6 1680.7 510.9 1682.2 505.1 1683.6 499.4 1685.2 493.6 1686.7 487.9 1688.3 482.1 1689.9 476.4 1691.5 470.6 1693.2 464.9 1694.9 459.1 1696.6 453.4 1698.4 447.7 1700.2 441.9 1702.0 436.2 1703.9 430.4 1705.8 424.7 1707.7 418.9 1709.7 413.2 1711.7 407.4 1713.7 401.7 1715.7 396.0 1717.8 390.2 1719.9 384.5 1722.1 378.7 1724.2 373.0 1726.5 367.2 1728.7 361.5 1731.0 355.7 1733.3 350.0 1735.6 344.2 1738.0 338.5 1740.4 332.8 1742.8 327.0 1745.2 321.3 1747.7 315.5 1750.3 309.8 1752.8 304.0 1755.4 298.3 1758.0 292.5 1760.6 286.8 1763.3 281.1 1766.0 275.3 1768.7 269.6 1771.5 263.8 1774.3 258.1 1777.1 252.3 1780.0 246.6 1782.9 240.8 1785.8 235.1 1788.7 229.3 1791.7 223.6 1794.7 217.9 1797.8 212.1 1800.8 206.4 1803.9 200.6 1807.1 194.9 1810.2 189.1 1813.4 183.4 1816.7 177.6 1819.9 171.9 1823.2 166.2 1823.3 166.0M1854.4 113.9L1857.7 108.7 1861.3 103.0 1864.9 97.2 1868.6 91.5 1872.3 85.7 1876.0 80.0 1879.8 74.2 1883.6 68.5 1887.4 62.7 1891.2 57.0 1895.1 51.3 1899.0 45.5M1744.2 643.0L1745.0 637.2 1745.7 631.5 1746.5 625.8 1747.3 620.0 1748.2 614.3 1749.1 608.5 1750.0 602.8 1750.9 597.0 1751.9 591.3 1752.9 585.5 1754.0 579.8 1755.1 574.1 1756.2 568.3 1757.3 562.6 1758.5 556.8 1759.5 552.1M1773.7 493.1L1775.1 487.9 1776.7 482.1 1778.4 476.4 1780.0 470.6 1781.7 464.9 1783.4 459.1 1785.2 453.4 1787.0 447.7 1788.8 441.9 1790.6 436.2 1792.5 430.4 1794.4 424.7 1796.4 418.9 1798.4 413.2 1800.4 407.4 1802.4 401.7 1804.5 396.0 1806.6 390.2 1808.7 384.5 1810.9 378.7 1813.1 373.0 1815.3 367.2 1817.5 361.5 1819.8 355.7 1822.1 350.0 1824.5 344.2 1826.9 338.5 1829.3 332.8 1831.7 327.0 1834.2 321.3 1836.7 315.5 1839.3 309.8 1841.8 304.0 1844.4 298.3 1847.0 292.5 1849.7 286.8 1852.4 281.1 1855.1 275.3 1857.9 269.6 1860.6 263.8 1863.5 258.1 1866.3 252.3 1869.2 246.6 1872.1 240.8 1875.0 235.1 1878.0 229.3 1881.0 223.6 1884.0 217.9 1887.1 212.1 1890.2 206.4 1893.3 200.6 1896.4 194.9 1899.6 189.1 1902.8 183.4 1906.0 177.6 1909.3 171.9 1912.6 166.2 1915.9 160.4 1919.3 154.7 1922.7 148.9 1926.1 143.2 1929.6 137.4 1933.0 131.7 1936.5 125.9 1940.1 120.2 1943.7 114.4 1947.3 108.7 1950.9 103.0 1954.5 97.2 1958.2 91.5 1961.9 85.7 1965.7 80.0 1969.5 74.2 1973.3 68.5 1977.1 62.7 1981.0 57.0 1984.9 51.3 1988.8 45.5M1832.2 643.0L1832.9 637.2 1833.7 631.5 1834.5 625.8 1835.4 620.0 1836.2 614.3 1837.1 608.5 1838.1 602.8 1839.0 597.0 1840.0 591.3 1840.2 590.3M1850.5 539.8L1850.5 539.6 1851.8 533.8 1853.2 528.1 1854.6 522.3 1856.0 516.6 1857.5 510.9 1858.9 505.1 1860.5 499.4 1862.0 493.6 1863.6 487.9 1865.2 482.1 1866.8 476.4 1868.5 470.6 1870.2 464.9 1872.0 459.1 1873.7 453.4 1875.5 447.7 1877.4 441.9 1879.3 436.2 1881.1 430.4 1883.1 424.7 1885.0 418.9 1887.0 413.2 1889.1 407.4 1891.1 401.7 1893.2 396.0 1895.3 390.2 1897.5 384.5 1899.6 378.7 1901.9 373.0 1904.1 367.2 1906.4 361.5 1908.7 355.7 1911.0 350.0 1913.4 344.2 1915.8 338.5 1918.2 332.8 1920.7 327.0 1923.2 321.3 1925.7 315.5 1928.2 309.8 1930.8 304.0 1933.4 298.3 1936.1 292.5 1938.8 286.8 1941.5 281.1 1944.2 275.3 1947.0 269.6 1949.8 263.8 1952.6 258.1 1955.5 252.3 1958.4 246.6 1961.3 240.8 1964.2 235.1 1967.2 229.3 1970.2 223.6 1973.3 217.9 1976.4 212.1 1979.5 206.4 1982.6 200.6 1985.8 194.9 1988.9 189.1 1992.2 183.4 1995.4 177.6 1998.7 171.9 2002.0 166.2 2005.4 160.4 2008.8 154.7 2012.2 148.9 2015.6 143.2 2019.1 137.4 2022.6 131.7 2026.1 125.9 2029.6 120.2 2033.2 114.4 2036.8 108.7 2040.5 103.0 2044.2 97.2 2047.9 91.5 2051.6 85.7 2055.4 80.0 2059.1 74.2 2063.0 68.5 2066.8 62.7 2070.7 57.0 2074.6 51.3 2078.6 45.5" stroke="#b9b9b9" stroke-width="3.2" fill="none"/><path d="M1317.7 641.5 L1323.4 631.4 L1329.1 621.3 L1334.7 611.3 L1340.4 601.2 L1346.1 591.1 L1351.7 581.0 L1357.5 571.0 L1363.2 560.9 L1369.0 550.8 L1374.8 540.7 L1380.6 530.7 L1386.5 520.6 L1392.4 510.5 L1398.4 500.4 L1404.4 490.4 L1410.5 480.3 L1416.6 470.2 L1422.8 460.1 L1429.1 450.1 L1435.4 440.0 L1441.9 429.9 L1448.4 419.8 L1455.0 409.7 L1461.7 399.7 L1468.4 389.6 L1475.3 379.5 L1482.3 369.4 L1489.4 359.4 L1496.6 349.3 L1503.9 339.2 L1511.3 329.1 L1518.8 319.1 L1526.5 309.0 L1534.3 298.9 L1542.2 288.8 L1550.3 278.8 L1558.5 268.7 L1566.9 258.6 L1575.4 248.5 L1584.1 238.4 L1592.9 228.4 L1601.9 218.3 L1611.1 208.2 L1620.4 198.1 L1629.9 188.1 L1639.6 178.0 L1649.5 167.9 L1659.5 157.8 L1669.8 147.8 L1680.2 137.7 L1690.8 127.6 L1701.7 117.5 L1712.7 107.5 L1724.0 97.4 L1735.5 87.3 L1747.2 77.2 L1759.1 67.2 L1771.3 57.1 L1783.7 47.0 M1508.0 641.5 L1514.9 631.4 L1521.8 621.3 L1528.7 611.3 L1535.5 601.2 L1542.3 591.1 L1549.0 581.0 L1555.7 571.0 L1562.4 560.9 L1569.1 550.8 L1575.8 540.7 L1582.4 530.7 L1589.1 520.6 L1595.8 510.5 L1602.6 500.4 L1609.3 490.4 L1616.1 480.3 L1623.0 470.2 L1629.9 460.1 L1636.8 450.1 L1643.9 440.0 L1651.0 429.9 L1658.2 419.8 L1665.5 409.7 L1672.8 399.7 L1680.3 389.6 L1687.9 379.5 L1695.6 369.4 L1703.5 359.4 L1711.4 349.3 L1719.6 339.2 L1727.8 329.1 L1736.3 319.1 L1744.8 309.0 L1753.6 298.9 L1762.5 288.8 L1771.6 278.8 L1781.0 268.7 L1790.5 258.6 L1800.2 248.5 L1810.1 238.4 L1820.3 228.4 L1830.7 218.3 L1841.3 208.2 L1852.1 198.1 L1863.3 188.1 L1874.6 178.0 L1886.3 167.9 L1898.2 157.8 L1910.4 147.8 L1922.8 137.7 L1935.6 127.6 L1948.7 117.5 L1962.1 107.5 L1975.8 97.4 L1989.8 87.3 L2004.1 77.2 L2018.8 67.2 L2033.8 57.1 L2049.2 47.0" stroke="#000" stroke-width="3.8" fill="none"/></g><g font-family="Liberation Sans, Arial, sans-serif" fill="#000"><text x="137.1" y="349.4" font-size="31" text-anchor="middle" transform="rotate(-70.1 137.1 338.3)">26</text><text x="678.8" y="143.9" font-size="31" text-anchor="middle" transform="rotate(-60.5 678.8 132.8)">26.5</text><text x="1122.6" y="150.8" font-size="31" text-anchor="middle" transform="rotate(-60.1 1122.6 139.7)">27</text><text x="960.4" y="591.8" font-size="31" text-anchor="middle" transform="rotate(-81.3 960.4 580.7)">27</text><text x="1212.8" y="147.1" font-size="24" text-anchor="middle" transform="rotate(-60.0 1212.8 138.5)">27.1</text><text x="1049.2" y="585.4" font-size="24" text-anchor="middle" transform="rotate(-80.8 1049.2 576.8)">27.1</text><text x="1302.0" y="147.6" font-size="24" text-anchor="middle" transform="rotate(-59.9 1302.0 139.0)">27.2</text><text x="1137.3" y="585.4" font-size="24" text-anchor="middle" transform="rotate(-80.6 1137.3 576.8)">27.2</text><text x="1391.3" y="148.1" font-size="24" text-anchor="middle" transform="rotate(-59.8 1391.3 139.5)">27.3</text><text x="1225.5" y="585.4" font-size="24" text-anchor="middle" transform="rotate(-80.4 1225.5 576.8)">27.3</text><text x="1480.8" y="148.1" font-size="24" text-anchor="middle" transform="rotate(-59.6 1480.8 139.5)">27.4</text><text x="1313.7" y="585.4" font-size="24" text-anchor="middle" transform="rotate(-80.2 1313.7 576.8)">27.4</text><text x="1574.1" y="144.1" font-size="31" text-anchor="middle" transform="rotate(-59.3 1574.1 133.0)">27.5</text><text x="1403.3" y="580.1" font-size="31" text-anchor="middle" transform="rotate(-79.8 1403.3 569.0)">27.5</text><text x="1659.8" y="148.1" font-size="24" text-anchor="middle" transform="rotate(-59.4 1659.8 139.5)">27.6</text><text x="1490.0" y="585.4" font-size="24" text-anchor="middle" transform="rotate(-79.9 1490.0 576.8)">27.6</text><text x="1749.3" y="148.1" font-size="24" text-anchor="middle" transform="rotate(-59.3 1749.3 139.5)">27.7</text><text x="1578.2" y="585.4" font-size="24" text-anchor="middle" transform="rotate(-79.7 1578.2 576.8)">27.7</text><text x="1838.6" y="148.4" font-size="24" text-anchor="middle" transform="rotate(-59.1 1838.6 139.8)">27.8</text><text x="1666.4" y="585.4" font-size="24" text-anchor="middle" transform="rotate(-79.5 1666.4 576.8)">27.8</text><text x="1766.2" y="531.1" font-size="24" text-anchor="middle" transform="rotate(-76.6 1766.2 522.5)">27.9</text><text x="1845.0" y="576.1" font-size="31" text-anchor="middle" transform="rotate(-78.5 1845.0 565.0)">28</text></g><path d="M175.4 631.5V622.5M175.4 57.0V66.0M318.3 631.5V622.5M318.3 57.0V66.0M461.2 631.5V622.5M461.2 57.0V66.0M604.1 631.5V622.5M604.1 57.0V66.0M747.0 631.5V622.5M747.0 57.0V66.0M889.8 631.5V622.5M889.8 57.0V66.0M1032.7 631.5V622.5M1032.7 57.0V66.0M1175.6 631.5V622.5M1175.6 57.0V66.0M1318.5 631.5V622.5M1318.5 57.0V66.0M1461.4 631.5V622.5M1461.4 57.0V66.0M1604.2 631.5V622.5M1604.2 57.0V66.0M1747.1 631.5V622.5M1747.1 57.0V66.0M104.0 574.1H113.0M1890.0 574.1H1881.0M104.0 459.1H113.0M1890.0 459.1H1881.0M104.0 344.2H113.0M1890.0 344.2H1881.0M104.0 229.3H113.0M1890.0 229.3H1881.0M104.0 114.5H113.0M1890.0 114.5H1881.0" stroke="#262626" stroke-width="1.5" fill="none"/><rect x="104.0" y="57.0" width="1786.0" height="574.5" fill="none" stroke="#262626" stroke-width="1.6"/><g><rect x="1633.4" y="86.6" width="117.4" height="55.1" fill="#fff" stroke="#000" stroke-width="1.4"/><text x="1692.1" y="126.1" text-anchor="middle" font-family="Liberation Sans, Arial, sans-serif" font-weight="bold" font-size="33.4">UCDW</text></g><g><rect x="1669.2" y="265.1" width="113.5" height="54.8" fill="#fff" stroke="#000" stroke-width="1.4"/><text x="1726.0" y="304.5" text-anchor="middle" font-family="Liberation Sans, Arial, sans-serif" font-weight="bold" font-size="33.4">LCDW</text></g><g transform="rotate(-64.80 1595.25 322.60)"><rect x="1526.4" y="292.1" width="137.7" height="61.0" fill="#fff" stroke="#000" stroke-width="1.4"/><text x="1595.2" y="336.2" text-anchor="middle" font-family="Liberation Sans, Arial, sans-serif" font-weight="bold" font-size="38.0">mCDW</text></g><g><rect x="1133.1" y="568.5" width="81.3" height="58.0" fill="#fff" stroke="#000" stroke-width="1.4"/><text x="1173.8" y="610.2" text-anchor="middle" font-family="Liberation Sans, Arial, sans-serif" font-weight="bold" font-size="35.5">WW</text></g><g><rect x="1669.2" y="568.8" width="91.5" height="54.5" fill="#fff" stroke="#000" stroke-width="1.4"/><text x="1715.0" y="608.0" text-anchor="middle" font-family="Liberation Sans, Arial, sans-serif" font-weight="bold" font-size="33.4">DSW</text></g><g font-family="Liberation Sans, Arial, sans-serif" font-size="37.5" fill="#000"><text x="175.4" y="682.5" text-anchor="middle">32.6</text><text x="318.3" y="682.5" text-anchor="middle">32.8</text><text x="461.2" y="682.5" text-anchor="middle">33</text><text x="604.1" y="682.5" text-anchor="middle">33.2</text><text x="747.0" y="682.5" text-anchor="middle">33.4</text><text x="889.8" y="682.5" text-anchor="middle">33.6</text><text x="1032.7" y="682.5" text-anchor="middle">33.8</text><text x="1175.6" y="682.5" text-anchor="middle">34</text><text x="1318.5" y="682.5" text-anchor="middle">34.2</text><text x="1461.4" y="682.5" text-anchor="middle">34.4</text><text x="1604.2" y="682.5" text-anchor="middle">34.6</text><text x="1747.1" y="682.5" text-anchor="middle">34.8</text><text x="1890.0" y="682.5" text-anchor="middle">35</text><text x="91.5" y="587.5" text-anchor="end">-2</text><text x="91.5" y="472.5" text-anchor="end">-1</text><text x="91.5" y="357.6" text-anchor="end">0</text><text x="91.5" y="242.8" text-anchor="end">1</text><text x="91.5" y="127.9" text-anchor="end">2</text></g><text x="997" y="731.5" text-anchor="middle" font-family="Liberation Serif, serif" font-weight="bold" font-size="41.8" fill="#262626">Salinity (PSU)</text><text transform="translate(42,342.4) rotate(-90)" text-anchor="middle" font-family="Liberation Serif, serif" font-weight="bold" font-size="41.6" fill="#262626">Potential Temperature (°C)</text><text x="997.5" y="47.1" text-anchor="middle" font-family="Liberation Serif, serif" font-weight="bold" font-size="44.5" fill="#000">Winter</text></g><rect x="1948.6" y="53.8" width="46.0" height="1380.7" fill="url(#cbg)" stroke="#262626" stroke-width="1.3"/><path d="M1980.1 191.9H1994.6M1980.1 329.9H1994.6M1980.1 468.0H1994.6M1980.1 606.1H1994.6M1980.1 744.1H1994.6M1980.1 882.2H1994.6M1980.1 1020.3H1994.6M1980.1 1158.4H1994.6M1980.1 1296.4H1994.6" stroke="#262626" stroke-width="1.5" fill="none"/><g font-family="Liberation Serif, serif" font-weight="bold" font-size="37.5" fill="#000"><text x="2007" y="66.8">0</text><text x="2007" y="204.9">100</text><text x="2007" y="342.9">200</text><text x="2007" y="481.0">300</text><text x="2007" y="619.1">400</text><text x="2007" y="757.1">500</text><text x="2007" y="895.2">600</text><text x="2007" y="1033.3">700</text><text x="2007" y="1171.4">800</text><text x="2007" y="1309.4">900</text><text x="2007" y="1447.5">1000</text></g><text x="1971" y="32.8" text-anchor="middle" font-family="Liberation Serif, serif" font-weight="bold" font-size="35.5">Depth (m)</text></svg></body></html>
